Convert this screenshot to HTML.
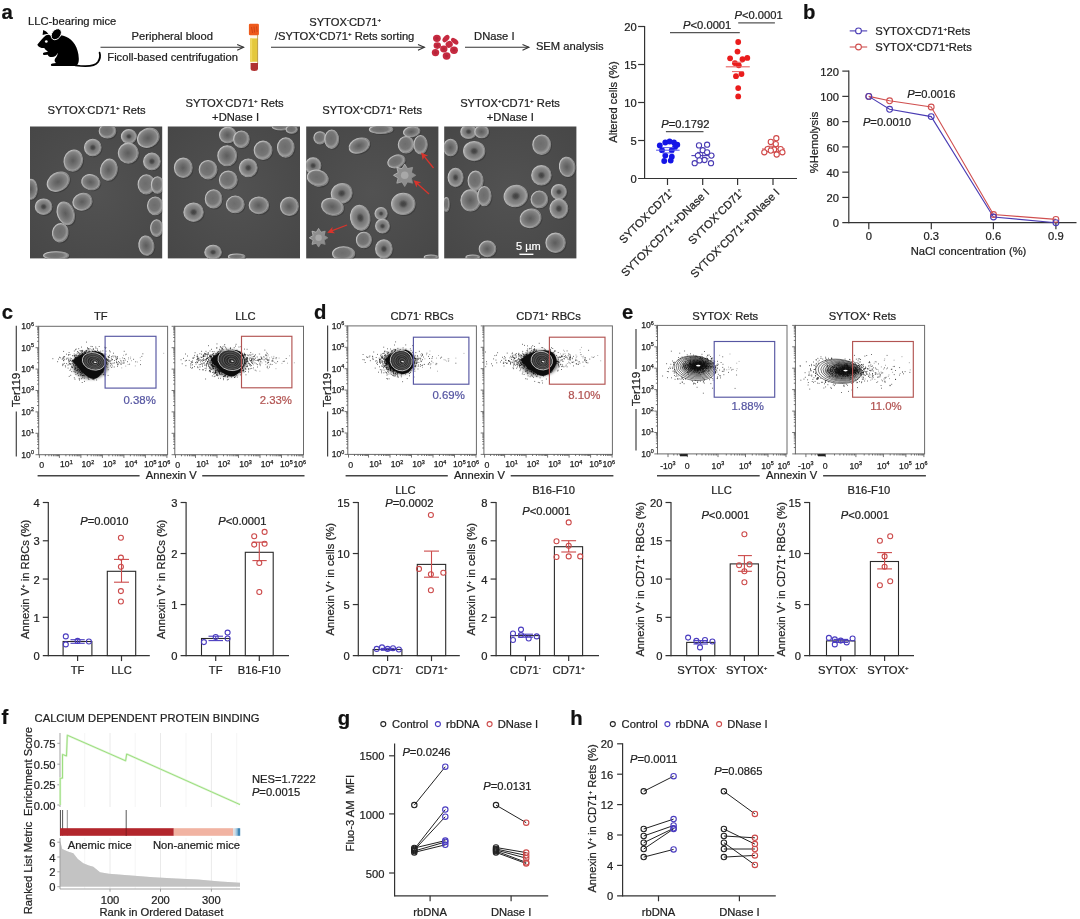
<!DOCTYPE html>
<html><head><meta charset="utf-8"><title>Figure</title>
<style>
html,body{margin:0;padding:0;background:#fff;}
body{width:1080px;height:919px;overflow:hidden;}
svg{display:block;filter:blur(0.4px);font-family:"Liberation Sans",sans-serif;}
</style></head><body>
<svg width="1080" height="919" viewBox="0 0 1080 919">
<rect width="1080" height="919" fill="#fff"/>
<defs>
<radialGradient id="cg" cx="48%" cy="50%" r="50%">
<stop offset="0" stop-color="#5c5c5c"/><stop offset="0.45" stop-color="#707070"/><stop offset="0.8" stop-color="#858585"/><stop offset="0.93" stop-color="#9e9e9e"/><stop offset="1" stop-color="#828282"/>
</radialGradient>
<radialGradient id="cg2" cx="50%" cy="50%" r="50%">
<stop offset="0" stop-color="#404040"/><stop offset="0.2" stop-color="#4c4c4c"/><stop offset="0.4" stop-color="#747474"/><stop offset="0.72" stop-color="#888"/><stop offset="0.93" stop-color="#a2a2a2"/><stop offset="1" stop-color="#828282"/>
</radialGradient>
<radialGradient id="cg3" cx="45%" cy="45%" r="55%">
<stop offset="0" stop-color="#6c6c6c"/><stop offset="0.6" stop-color="#767676"/><stop offset="0.88" stop-color="#9c9c9c"/><stop offset="1" stop-color="#808080"/>
</radialGradient>
<linearGradient id="rim" x1="0" y1="0.2" x2="1" y2="0.8"><stop offset="0" stop-color="#cacaca"/><stop offset="0.5" stop-color="#a4a4a4"/><stop offset="1" stop-color="#7a7a7a"/></linearGradient>
<radialGradient id="sbg" cx="50%" cy="50%" r="75%"><stop offset="0" stop-color="#525252"/><stop offset="1" stop-color="#464646"/></radialGradient>
<filter id="bl" x="-5%" y="-5%" width="110%" height="110%"><feGaussianBlur stdDeviation="0.6"/></filter>
<filter id="bl3" x="-30%" y="-30%" width="160%" height="160%"><feGaussianBlur stdDeviation="1.8"/></filter>
<filter id="bl2" x="-20%" y="-20%" width="140%" height="140%"><feGaussianBlur stdDeviation="0.35"/></filter>
<marker id="ah" markerWidth="10" markerHeight="10" refX="8" refY="5" orient="auto" markerUnits="userSpaceOnUse"><path d="M1.6 2.1 L8 5 L1.6 7.9" fill="none" stroke="#333" stroke-width="1.1"/></marker>
<marker id="rh" markerWidth="8" markerHeight="8" refX="3" refY="4" orient="auto" markerUnits="userSpaceOnUse"><path d="M0 0.5 L7 4 L0 7.5 L1.8 4 Z" fill="#d8342c"/></marker>
</defs>
<text x="1.5" y="19.4" font-size="20.3" text-anchor="start" fill="#111" stroke="#111" stroke-width="0.22" font-weight="bold">a</text>
<text x="28" y="25.0" font-size="11.2" text-anchor="start" fill="#222" stroke="#222" stroke-width="0.22">LLC-bearing mice</text>
<g transform="translate(37,28.5)" fill="#000">
<path d="M0.3 16.2 C2.5 13.5 5.5 9.5 9 6.8 C11 5.8 13 6.3 14.5 8.2 C18 6.5 24 6.3 29 8.2 C36 11 41.5 19 41.8 30 C42 34.5 40.5 37.3 38 37.6 L15.5 37.6 C13.5 37.6 13.2 35.3 15.5 34.9 L19 34.5 C17.5 33.2 17.3 31.8 18 30.2 C19.8 28.3 20.8 26.3 20.6 24.2 C19.5 27.2 17.5 28.8 14.5 28.6 C12.5 28.5 11.2 27.5 10.8 26.2 L7.5 26.6 C5.6 26.6 5.4 24.5 7.2 24.1 L11 23.3 C9.5 22.2 8 20.8 7.3 19.6 C4.5 19.8 1.3 18.7 0.3 16.2 Z"/>
<ellipse cx="19.3" cy="5.7" rx="4.4" ry="6.1" transform="rotate(38 19.3 5.7)" stroke="#fff" stroke-width="0.9"/>
<path d="M5.6 6.6 L6.2 1.4 C8.3 2.2 10.2 3.6 11.4 5.2 C9.5 5.5 7.3 6 5.6 6.6 Z"/>
<circle cx="9.3" cy="13" r="1.35" fill="#fff"/>
<path d="M38.5 36.8 C48 38.2 57.5 38.4 61 33.5 C63.3 30 63.5 27 62.6 24.2" fill="none" stroke="#000" stroke-width="1.8" stroke-linecap="round"/>
</g>
<text x="172.3" y="40.0" font-size="11.2" text-anchor="middle" fill="#222" stroke="#222" stroke-width="0.22">Peripheral blood</text>
<line x1="100.5" y1="47.3" x2="243.6" y2="47.3" stroke="#333" stroke-width="1.1" marker-end="url(#ah)"/>
<text x="172.6" y="61.1" font-size="11.2" text-anchor="middle" fill="#222" stroke="#222" stroke-width="0.22">Ficoll-based centrifugation</text>
<g filter="url(#bl2)">
<rect x="250.2" y="34" width="7.8" height="30" fill="#fff6e8"/>
<rect x="250.2" y="38.4" width="7.8" height="23.3" fill="#e4c83c"/>
<rect x="250.2" y="38.4" width="2" height="23.3" fill="#f0d860"/>
<rect x="257.2" y="34" width="0.9" height="30" fill="#b89a50"/>
<path d="M250.6 63 H258 V68.5 Q258 71 254.3 71 Q250.6 71 250.6 68.5 Z" fill="#b03030"/>
<rect x="248.9" y="23.8" width="10" height="11.4" rx="1.2" fill="#ee5a1e"/>
<path d="M251.5 27 L252.6 33 M254 26.5 L254.6 32.5 M256.5 26.5 L257.2 32" stroke="#c83c10" stroke-width="0.8" fill="none"/>
</g>
<text x="345.2" y="26.0" font-size="11.2" text-anchor="middle" fill="#222" stroke="#222" stroke-width="0.22">SYTOX<tspan dy="-4" font-size="6.2">-</tspan><tspan dy="4">CD71</tspan><tspan dy="-4" font-size="6.2">+</tspan><tspan dy="4"></tspan></text>
<text x="344.6" y="40.3" font-size="11.2" text-anchor="middle" fill="#222" stroke="#222" stroke-width="0.22">/SYTOX<tspan dy="-4" font-size="6.2">+</tspan><tspan dy="4">CD71</tspan><tspan dy="-4" font-size="6.2">+</tspan><tspan dy="4"> Rets sorting</tspan></text>
<line x1="271" y1="47.3" x2="424.4" y2="47.3" stroke="#333" stroke-width="1.1" marker-end="url(#ah)"/>
<g filter="url(#bl2)" fill="#c62a40">
<ellipse cx="436.9" cy="38.3" rx="3.9" ry="3.6" transform="rotate(0 436.9 38.3)"/>
<ellipse cx="446.0" cy="38.6" rx="4.3" ry="2.6" transform="rotate(-48 446.0 38.6)"/>
<ellipse cx="454.7" cy="41.2" rx="4.3" ry="2.4" transform="rotate(40 454.7 41.2)"/>
<ellipse cx="437.3" cy="45.6" rx="3.7" ry="3.3" transform="rotate(0 437.3 45.6)"/>
<ellipse cx="449.2" cy="44.4" rx="3.6" ry="3.4" transform="rotate(-30 449.2 44.4)"/>
<ellipse cx="443.8" cy="49.0" rx="3.7" ry="3.4" transform="rotate(0 443.8 49.0)"/>
<ellipse cx="454.0" cy="50.2" rx="3.9" ry="3.7" transform="rotate(0 454.0 50.2)"/>
<ellipse cx="435.5" cy="52.6" rx="3.7" ry="3.6" transform="rotate(0 435.5 52.6)"/>
<ellipse cx="446.6" cy="56.0" rx="3.9" ry="3.7" transform="rotate(0 446.6 56.0)"/>
</g>
<g fill="#a82034" opacity="0.55">
<circle cx="436.9" cy="38.3" r="1.6"/>
<circle cx="437.3" cy="45.6" r="1.6"/>
<circle cx="443.8" cy="49.0" r="1.6"/>
<circle cx="454.0" cy="50.2" r="1.6"/>
<circle cx="435.5" cy="52.6" r="1.6"/>
<circle cx="446.6" cy="56.0" r="1.6"/>
</g>
<text x="494.3" y="40.2" font-size="11.2" text-anchor="middle" fill="#222" stroke="#222" stroke-width="0.22">DNase I</text>
<line x1="465" y1="47.3" x2="528.9" y2="47.3" stroke="#333" stroke-width="1.1" marker-end="url(#ah)"/>
<text x="535.9" y="50.3" font-size="11.2" text-anchor="start" fill="#222" stroke="#222" stroke-width="0.22">SEM analysis</text>
<text x="96.6" y="114.0" font-size="11.2" text-anchor="middle" fill="#222" stroke="#222" stroke-width="0.22">SYTOX<tspan dy="-4" font-size="6.2">-</tspan><tspan dy="4">CD71</tspan><tspan dy="-4" font-size="6.2">+</tspan><tspan dy="4"> Rets</tspan></text>
<text x="234.6" y="106.8" font-size="11.2" text-anchor="middle" fill="#222" stroke="#222" stroke-width="0.22">SYTOX<tspan dy="-4" font-size="6.2">-</tspan><tspan dy="4">CD71</tspan><tspan dy="-4" font-size="6.2">+</tspan><tspan dy="4"> Rets</tspan></text>
<text x="235.6" y="120.6" font-size="11.2" text-anchor="middle" fill="#222" stroke="#222" stroke-width="0.22">+DNase I</text>
<text x="372.2" y="114.0" font-size="11.2" text-anchor="middle" fill="#222" stroke="#222" stroke-width="0.22">SYTOX<tspan dy="-4" font-size="6.2">+</tspan><tspan dy="4">CD71</tspan><tspan dy="-4" font-size="6.2">+</tspan><tspan dy="4"> Rets</tspan></text>
<text x="510" y="106.8" font-size="11.2" text-anchor="middle" fill="#222" stroke="#222" stroke-width="0.22">SYTOX<tspan dy="-4" font-size="6.2">+</tspan><tspan dy="4">CD71</tspan><tspan dy="-4" font-size="6.2">+</tspan><tspan dy="4"> Rets</tspan></text>
<text x="510.3" y="120.6" font-size="11.2" text-anchor="middle" fill="#222" stroke="#222" stroke-width="0.22">+DNase I</text>
<clipPath id="cp1"><rect x="30" y="126.5" width="132.2" height="131.9"/></clipPath>
<rect x="30" y="126.5" width="132.2" height="131.9" fill="url(#sbg)"/>
<g clip-path="url(#cp1)"><g filter="url(#bl)">
<ellipse cx="108.4" cy="132.0" rx="8.8" ry="7.4" fill="#3a3a3a" opacity="0.8" transform="rotate(0 108.4 132.0)"/>
<ellipse cx="107.5" cy="131.1" rx="8.3" ry="6.9" fill="url(#cg3)" stroke="url(#rim)" stroke-width="1.05" transform="rotate(0 107.5 131.1)"/>
<ellipse cx="129.8" cy="137.3" rx="8.0" ry="7.4" fill="#3a3a3a" opacity="0.8" transform="rotate(0 129.8 137.3)"/>
<ellipse cx="128.9" cy="136.4" rx="7.5" ry="6.9" fill="url(#cg2)" stroke="url(#rim)" stroke-width="1.05" transform="rotate(0 128.9 136.4)"/>
<ellipse cx="149.2" cy="138.7" rx="11.6" ry="9.7" fill="#3a3a3a" opacity="0.8" transform="rotate(-25 149.2 138.7)"/>
<ellipse cx="148.3" cy="137.8" rx="11.1" ry="9.2" fill="url(#cg)" stroke="url(#rim)" stroke-width="1.05" transform="rotate(-25 148.3 137.8)"/>
<ellipse cx="93.7" cy="148.4" rx="8.8" ry="8.8" fill="#3a3a3a" opacity="0.8" transform="rotate(0 93.7 148.4)"/>
<ellipse cx="92.8" cy="147.5" rx="8.3" ry="8.3" fill="url(#cg2)" stroke="url(#rim)" stroke-width="1.05" transform="rotate(0 92.8 147.5)"/>
<ellipse cx="129.2" cy="154.0" rx="10.5" ry="10.5" fill="#3a3a3a" opacity="0.8" transform="rotate(0 129.2 154.0)"/>
<ellipse cx="128.3" cy="153.1" rx="10.0" ry="10.0" fill="url(#cg)" stroke="url(#rim)" stroke-width="1.05" transform="rotate(0 128.3 153.1)"/>
<ellipse cx="152.8" cy="162.3" rx="8.8" ry="8.8" fill="#3a3a3a" opacity="0.8" transform="rotate(0 152.8 162.3)"/>
<ellipse cx="151.9" cy="161.4" rx="8.3" ry="8.3" fill="url(#cg2)" stroke="url(#rim)" stroke-width="1.05" transform="rotate(0 151.9 161.4)"/>
<ellipse cx="74.2" cy="161.5" rx="9.7" ry="11.1" fill="#3a3a3a" opacity="0.8" transform="rotate(15 74.2 161.5)"/>
<ellipse cx="73.3" cy="160.6" rx="9.2" ry="10.6" fill="url(#cg)" stroke="url(#rim)" stroke-width="1.05" transform="rotate(15 73.3 160.6)"/>
<ellipse cx="109.8" cy="170.6" rx="8.8" ry="11.1" fill="#3a3a3a" opacity="0.8" transform="rotate(10 109.8 170.6)"/>
<ellipse cx="108.9" cy="169.7" rx="8.3" ry="10.6" fill="url(#cg)" stroke="url(#rim)" stroke-width="1.05" transform="rotate(10 108.9 169.7)"/>
<ellipse cx="59.2" cy="182.6" rx="12.2" ry="9.4" fill="#3a3a3a" opacity="0.8" transform="rotate(-30 59.2 182.6)"/>
<ellipse cx="58.3" cy="181.7" rx="11.7" ry="8.9" fill="url(#cg)" stroke="url(#rim)" stroke-width="1.05" transform="rotate(-30 58.3 181.7)"/>
<ellipse cx="91.7" cy="183.1" rx="9.7" ry="8.0" fill="#3a3a3a" opacity="0.8" transform="rotate(15 91.7 183.1)"/>
<ellipse cx="90.8" cy="182.2" rx="9.2" ry="7.5" fill="url(#cg)" stroke="url(#rim)" stroke-width="1.05" transform="rotate(15 90.8 182.2)"/>
<ellipse cx="147.3" cy="185.3" rx="8.8" ry="10.2" fill="#3a3a3a" opacity="0.8" transform="rotate(0 147.3 185.3)"/>
<ellipse cx="146.4" cy="184.4" rx="8.3" ry="9.7" fill="url(#cg3)" stroke="url(#rim)" stroke-width="1.05" transform="rotate(0 146.4 184.4)"/>
<ellipse cx="158.4" cy="185.9" rx="6.6" ry="8.8" fill="#3a3a3a" opacity="0.8" transform="rotate(0 158.4 185.9)"/>
<ellipse cx="157.5" cy="185.0" rx="6.1" ry="8.3" fill="url(#cg3)" stroke="url(#rim)" stroke-width="1.05" transform="rotate(0 157.5 185.0)"/>
<ellipse cx="32.0" cy="190.1" rx="6.6" ry="10.5" fill="#3a3a3a" opacity="0.8" transform="rotate(0 32.0 190.1)"/>
<ellipse cx="31.1" cy="189.2" rx="6.1" ry="10.0" fill="url(#cg)" stroke="url(#rim)" stroke-width="1.05" transform="rotate(0 31.1 189.2)"/>
<ellipse cx="44.5" cy="207.6" rx="8.8" ry="8.3" fill="#3a3a3a" opacity="0.8" transform="rotate(0 44.5 207.6)"/>
<ellipse cx="43.6" cy="206.7" rx="8.3" ry="7.8" fill="url(#cg2)" stroke="url(#rim)" stroke-width="1.05" transform="rotate(0 43.6 206.7)"/>
<ellipse cx="83.4" cy="202.6" rx="10.2" ry="8.8" fill="#3a3a3a" opacity="0.8" transform="rotate(-20 83.4 202.6)"/>
<ellipse cx="82.5" cy="201.7" rx="9.7" ry="8.3" fill="url(#cg)" stroke="url(#rim)" stroke-width="1.05" transform="rotate(-20 82.5 201.7)"/>
<ellipse cx="66.7" cy="214.2" rx="8.8" ry="12.2" fill="#3a3a3a" opacity="0.8" transform="rotate(-20 66.7 214.2)"/>
<ellipse cx="65.8" cy="213.3" rx="8.3" ry="11.7" fill="url(#cg)" stroke="url(#rim)" stroke-width="1.05" transform="rotate(-20 65.8 213.3)"/>
<ellipse cx="156.2" cy="206.7" rx="8.3" ry="9.4" fill="#3a3a3a" opacity="0.8" transform="rotate(0 156.2 206.7)"/>
<ellipse cx="155.3" cy="205.8" rx="7.8" ry="8.9" fill="url(#cg3)" stroke="url(#rim)" stroke-width="1.05" transform="rotate(0 155.3 205.8)"/>
<ellipse cx="61.2" cy="233.7" rx="8.3" ry="9.7" fill="#3a3a3a" opacity="0.8" transform="rotate(10 61.2 233.7)"/>
<ellipse cx="60.3" cy="232.8" rx="7.8" ry="9.2" fill="url(#cg3)" stroke="url(#rim)" stroke-width="1.05" transform="rotate(10 60.3 232.8)"/>
<ellipse cx="157.6" cy="229.0" rx="6.6" ry="8.8" fill="#3a3a3a" opacity="0.8" transform="rotate(0 157.6 229.0)"/>
<ellipse cx="156.7" cy="228.1" rx="6.1" ry="8.3" fill="url(#cg3)" stroke="url(#rim)" stroke-width="1.05" transform="rotate(0 156.7 228.1)"/>
<ellipse cx="147.3" cy="246.5" rx="8.0" ry="10.2" fill="#3a3a3a" opacity="0.8" transform="rotate(-10 147.3 246.5)"/>
<ellipse cx="146.4" cy="245.6" rx="7.5" ry="9.7" fill="url(#cg)" stroke="url(#rim)" stroke-width="1.05" transform="rotate(-10 146.4 245.6)"/>
<ellipse cx="57.0" cy="256.5" rx="13.0" ry="4.4" fill="#3a3a3a" opacity="0.8" transform="rotate(0 57.0 256.5)"/>
<ellipse cx="56.1" cy="255.6" rx="12.5" ry="3.9" fill="url(#cg3)" stroke="url(#rim)" stroke-width="1.05" transform="rotate(0 56.1 255.6)"/>

</g></g>
<clipPath id="cp2"><rect x="167.8" y="126.5" width="132.2" height="131.9"/></clipPath>
<rect x="167.8" y="126.5" width="132.2" height="131.9" fill="url(#sbg)"/>
<g clip-path="url(#cp2)"><g filter="url(#bl)">
<ellipse cx="228.7" cy="135.9" rx="8.8" ry="8.3" fill="#3a3a3a" opacity="0.8" transform="rotate(0 228.7 135.9)"/>
<ellipse cx="227.8" cy="135.0" rx="8.3" ry="7.8" fill="url(#cg)" stroke="url(#rim)" stroke-width="1.05" transform="rotate(0 227.8 135.0)"/>
<ellipse cx="242.3" cy="140.1" rx="8.3" ry="8.8" fill="#3a3a3a" opacity="0.8" transform="rotate(0 242.3 140.1)"/>
<ellipse cx="241.4" cy="139.2" rx="7.8" ry="8.3" fill="url(#cg3)" stroke="url(#rim)" stroke-width="1.05" transform="rotate(0 241.4 139.2)"/>
<ellipse cx="282.0" cy="127.6" rx="9.4" ry="3.8" fill="#3a3a3a" opacity="0.8" transform="rotate(0 282.0 127.6)"/>
<ellipse cx="281.1" cy="126.7" rx="8.9" ry="3.3" fill="url(#cg3)" stroke="url(#rim)" stroke-width="1.05" transform="rotate(0 281.1 126.7)"/>
<ellipse cx="292.6" cy="130.3" rx="6.1" ry="4.4" fill="#3a3a3a" opacity="0.8" transform="rotate(0 292.6 130.3)"/>
<ellipse cx="291.7" cy="129.4" rx="5.6" ry="3.9" fill="url(#cg3)" stroke="url(#rim)" stroke-width="1.05" transform="rotate(0 291.7 129.4)"/>
<ellipse cx="286.7" cy="148.4" rx="8.8" ry="10.2" fill="#3a3a3a" opacity="0.8" transform="rotate(0 286.7 148.4)"/>
<ellipse cx="285.8" cy="147.5" rx="8.3" ry="9.7" fill="url(#cg3)" stroke="url(#rim)" stroke-width="1.05" transform="rotate(0 285.8 147.5)"/>
<ellipse cx="264.0" cy="151.2" rx="9.4" ry="9.7" fill="#3a3a3a" opacity="0.8" transform="rotate(0 264.0 151.2)"/>
<ellipse cx="263.1" cy="150.3" rx="8.9" ry="9.2" fill="url(#cg3)" stroke="url(#rim)" stroke-width="1.05" transform="rotate(0 263.1 150.3)"/>
<ellipse cx="228.1" cy="156.7" rx="9.9" ry="10.5" fill="#3a3a3a" opacity="0.8" transform="rotate(0 228.1 156.7)"/>
<ellipse cx="227.2" cy="155.8" rx="9.4" ry="10.0" fill="url(#cg)" stroke="url(#rim)" stroke-width="1.05" transform="rotate(0 227.2 155.8)"/>
<ellipse cx="184.2" cy="168.7" rx="9.4" ry="10.2" fill="#3a3a3a" opacity="0.8" transform="rotate(0 184.2 168.7)"/>
<ellipse cx="183.3" cy="167.8" rx="8.9" ry="9.7" fill="url(#cg)" stroke="url(#rim)" stroke-width="1.05" transform="rotate(0 183.3 167.8)"/>
<ellipse cx="209.0" cy="170.6" rx="9.4" ry="9.7" fill="#3a3a3a" opacity="0.8" transform="rotate(0 209.0 170.6)"/>
<ellipse cx="208.1" cy="169.7" rx="8.9" ry="9.2" fill="url(#cg3)" stroke="url(#rim)" stroke-width="1.05" transform="rotate(0 208.1 169.7)"/>
<ellipse cx="249.2" cy="168.7" rx="9.4" ry="9.4" fill="#3a3a3a" opacity="0.8" transform="rotate(0 249.2 168.7)"/>
<ellipse cx="248.3" cy="167.8" rx="8.9" ry="8.9" fill="url(#cg2)" stroke="url(#rim)" stroke-width="1.05" transform="rotate(0 248.3 167.8)"/>
<ellipse cx="229.2" cy="180.9" rx="9.4" ry="9.4" fill="#3a3a3a" opacity="0.8" transform="rotate(0 229.2 180.9)"/>
<ellipse cx="228.3" cy="180.0" rx="8.9" ry="8.9" fill="url(#cg3)" stroke="url(#rim)" stroke-width="1.05" transform="rotate(0 228.3 180.0)"/>
<ellipse cx="214.5" cy="199.8" rx="8.8" ry="9.7" fill="#3a3a3a" opacity="0.8" transform="rotate(0 214.5 199.8)"/>
<ellipse cx="213.6" cy="198.9" rx="8.3" ry="9.2" fill="url(#cg3)" stroke="url(#rim)" stroke-width="1.05" transform="rotate(0 213.6 198.9)"/>
<ellipse cx="236.2" cy="205.3" rx="9.4" ry="8.8" fill="#3a3a3a" opacity="0.8" transform="rotate(0 236.2 205.3)"/>
<ellipse cx="235.3" cy="204.4" rx="8.9" ry="8.3" fill="url(#cg3)" stroke="url(#rim)" stroke-width="1.05" transform="rotate(0 235.3 204.4)"/>
<ellipse cx="259.8" cy="206.2" rx="10.2" ry="8.8" fill="#3a3a3a" opacity="0.8" transform="rotate(0 259.8 206.2)"/>
<ellipse cx="258.9" cy="205.3" rx="9.7" ry="8.3" fill="url(#cg)" stroke="url(#rim)" stroke-width="1.05" transform="rotate(0 258.9 205.3)"/>
<ellipse cx="290.3" cy="207.3" rx="9.4" ry="9.7" fill="#3a3a3a" opacity="0.8" transform="rotate(0 290.3 207.3)"/>
<ellipse cx="289.4" cy="206.4" rx="8.9" ry="9.2" fill="url(#cg)" stroke="url(#rim)" stroke-width="1.05" transform="rotate(0 289.4 206.4)"/>
<ellipse cx="194.5" cy="213.1" rx="10.2" ry="9.7" fill="#3a3a3a" opacity="0.8" transform="rotate(0 194.5 213.1)"/>
<ellipse cx="193.6" cy="212.2" rx="9.7" ry="9.2" fill="url(#cg2)" stroke="url(#rim)" stroke-width="1.05" transform="rotate(0 193.6 212.2)"/>
<ellipse cx="214.0" cy="253.1" rx="8.8" ry="7.4" fill="#3a3a3a" opacity="0.8" transform="rotate(0 214.0 253.1)"/>
<ellipse cx="213.1" cy="252.2" rx="8.3" ry="6.9" fill="url(#cg2)" stroke="url(#rim)" stroke-width="1.05" transform="rotate(0 213.1 252.2)"/>
<ellipse cx="237.6" cy="257.6" rx="8.8" ry="3.3" fill="#3a3a3a" opacity="0.8" transform="rotate(0 237.6 257.6)"/>
<ellipse cx="236.7" cy="256.7" rx="8.3" ry="2.8" fill="url(#cg3)" stroke="url(#rim)" stroke-width="1.05" transform="rotate(0 236.7 256.7)"/>

</g></g>
<clipPath id="cp3"><rect x="306.2" y="126.5" width="132.2" height="131.9"/></clipPath>
<rect x="306.2" y="126.5" width="132.2" height="131.9" fill="url(#sbg)"/>
<g clip-path="url(#cp3)"><g filter="url(#bl)">
<ellipse cx="320.9" cy="138.7" rx="6.6" ry="6.6" fill="#3a3a3a" opacity="0.8" transform="rotate(0 320.9 138.7)"/>
<ellipse cx="320.0" cy="137.8" rx="6.1" ry="6.1" fill="url(#cg3)" stroke="url(#rim)" stroke-width="1.05" transform="rotate(0 320.0 137.8)"/>
<ellipse cx="332.6" cy="140.1" rx="7.4" ry="9.7" fill="#3a3a3a" opacity="0.8" transform="rotate(0 332.6 140.1)"/>
<ellipse cx="331.7" cy="139.2" rx="6.9" ry="9.2" fill="url(#cg3)" stroke="url(#rim)" stroke-width="1.05" transform="rotate(0 331.7 139.2)"/>
<ellipse cx="360.3" cy="146.5" rx="11.1" ry="7.7" fill="#3a3a3a" opacity="0.8" transform="rotate(-20 360.3 146.5)"/>
<ellipse cx="359.4" cy="145.6" rx="10.6" ry="7.2" fill="url(#cg)" stroke="url(#rim)" stroke-width="1.05" transform="rotate(-20 359.4 145.6)"/>
<ellipse cx="382.0" cy="130.3" rx="12.2" ry="4.7" fill="#3a3a3a" opacity="0.8" transform="rotate(0 382.0 130.3)"/>
<ellipse cx="381.1" cy="129.4" rx="11.7" ry="4.2" fill="url(#cg3)" stroke="url(#rim)" stroke-width="1.05" transform="rotate(0 381.1 129.4)"/>
<ellipse cx="412.6" cy="132.6" rx="8.8" ry="5.5" fill="#3a3a3a" opacity="0.8" transform="rotate(-10 412.6 132.6)"/>
<ellipse cx="411.7" cy="131.7" rx="8.3" ry="5.0" fill="url(#cg)" stroke="url(#rim)" stroke-width="1.05" transform="rotate(-10 411.7 131.7)"/>
<ellipse cx="407.0" cy="145.6" rx="8.3" ry="8.8" fill="#3a3a3a" opacity="0.8" transform="rotate(0 407.0 145.6)"/>
<ellipse cx="406.1" cy="144.7" rx="7.8" ry="8.3" fill="url(#cg3)" stroke="url(#rim)" stroke-width="1.05" transform="rotate(0 406.1 144.7)"/>
<ellipse cx="421.5" cy="145.6" rx="7.2" ry="9.7" fill="#3a3a3a" opacity="0.8" transform="rotate(0 421.5 145.6)"/>
<ellipse cx="420.6" cy="144.7" rx="6.7" ry="9.2" fill="url(#cg3)" stroke="url(#rim)" stroke-width="1.05" transform="rotate(0 420.6 144.7)"/>
<ellipse cx="397.3" cy="162.3" rx="9.4" ry="6.6" fill="#3a3a3a" opacity="0.8" transform="rotate(-20 397.3 162.3)"/>
<ellipse cx="396.4" cy="161.4" rx="8.9" ry="6.1" fill="url(#cg3)" stroke="url(#rim)" stroke-width="1.05" transform="rotate(-20 396.4 161.4)"/>
<ellipse cx="314.0" cy="166.5" rx="8.3" ry="8.3" fill="#3a3a3a" opacity="0.8" transform="rotate(0 314.0 166.5)"/>
<ellipse cx="313.1" cy="165.6" rx="7.8" ry="7.8" fill="url(#cg2)" stroke="url(#rim)" stroke-width="1.05" transform="rotate(0 313.1 165.6)"/>
<ellipse cx="318.7" cy="179.0" rx="11.1" ry="8.3" fill="#3a3a3a" opacity="0.8" transform="rotate(15 318.7 179.0)"/>
<ellipse cx="317.8" cy="178.1" rx="10.6" ry="7.8" fill="url(#cg3)" stroke="url(#rim)" stroke-width="1.05" transform="rotate(15 317.8 178.1)"/>
<ellipse cx="342.6" cy="194.2" rx="11.1" ry="10.2" fill="#3a3a3a" opacity="0.8" transform="rotate(-20 342.6 194.2)"/>
<ellipse cx="341.7" cy="193.3" rx="10.6" ry="9.7" fill="url(#cg2)" stroke="url(#rim)" stroke-width="1.05" transform="rotate(-20 341.7 193.3)"/>
<ellipse cx="333.4" cy="207.6" rx="11.6" ry="8.8" fill="#3a3a3a" opacity="0.8" transform="rotate(15 333.4 207.6)"/>
<ellipse cx="332.5" cy="206.7" rx="11.1" ry="8.3" fill="url(#cg)" stroke="url(#rim)" stroke-width="1.05" transform="rotate(15 332.5 206.7)"/>
<ellipse cx="404.2" cy="204.8" rx="12.2" ry="11.1" fill="#3a3a3a" opacity="0.8" transform="rotate(0 404.2 204.8)"/>
<ellipse cx="403.3" cy="203.9" rx="11.7" ry="10.6" fill="url(#cg2)" stroke="url(#rim)" stroke-width="1.05" transform="rotate(0 403.3 203.9)"/>
<ellipse cx="361.2" cy="218.7" rx="10.2" ry="13.0" fill="#3a3a3a" opacity="0.8" transform="rotate(-10 361.2 218.7)"/>
<ellipse cx="360.3" cy="217.8" rx="9.7" ry="12.5" fill="url(#cg2)" stroke="url(#rim)" stroke-width="1.05" transform="rotate(-10 360.3 217.8)"/>
<ellipse cx="382.0" cy="214.5" rx="6.6" ry="6.6" fill="#3a3a3a" opacity="0.8" transform="rotate(0 382.0 214.5)"/>
<ellipse cx="381.1" cy="213.6" rx="6.1" ry="6.1" fill="url(#cg2)" stroke="url(#rim)" stroke-width="1.05" transform="rotate(0 381.1 213.6)"/>
<ellipse cx="383.4" cy="227.0" rx="7.4" ry="7.4" fill="#3a3a3a" opacity="0.8" transform="rotate(0 383.4 227.0)"/>
<ellipse cx="382.5" cy="226.1" rx="6.9" ry="6.9" fill="url(#cg2)" stroke="url(#rim)" stroke-width="1.05" transform="rotate(0 382.5 226.1)"/>
<ellipse cx="364.8" cy="240.9" rx="8.0" ry="8.3" fill="#3a3a3a" opacity="0.8" transform="rotate(0 364.8 240.9)"/>
<ellipse cx="363.9" cy="240.0" rx="7.5" ry="7.8" fill="url(#cg3)" stroke="url(#rim)" stroke-width="1.05" transform="rotate(0 363.9 240.0)"/>
<ellipse cx="384.8" cy="249.8" rx="8.8" ry="9.7" fill="#3a3a3a" opacity="0.8" transform="rotate(0 384.8 249.8)"/>
<ellipse cx="383.9" cy="248.9" rx="8.3" ry="9.2" fill="url(#cg2)" stroke="url(#rim)" stroke-width="1.05" transform="rotate(0 383.9 248.9)"/>
<ellipse cx="344.5" cy="254.5" rx="11.6" ry="7.4" fill="#3a3a3a" opacity="0.8" transform="rotate(0 344.5 254.5)"/>
<ellipse cx="343.6" cy="253.6" rx="11.1" ry="6.9" fill="url(#cg3)" stroke="url(#rim)" stroke-width="1.05" transform="rotate(0 343.6 253.6)"/>
<ellipse cx="432.0" cy="258.1" rx="7.4" ry="2.7" fill="#3a3a3a" opacity="0.8" transform="rotate(0 432.0 258.1)"/>
<ellipse cx="431.1" cy="257.2" rx="6.9" ry="2.2" fill="url(#cg3)" stroke="url(#rim)" stroke-width="1.05" transform="rotate(0 431.1 257.2)"/>
<polygon points="415.9,175.3 411.4,178.0 412.6,183.2 407.5,181.9 404.7,186.5 402.0,181.9 396.8,183.2 398.1,178.0 393.5,175.3 398.1,172.5 396.8,167.4 402.0,168.6 404.7,164.1 407.5,168.6 412.6,167.4 411.4,172.5" fill="#8e8e8e" stroke="url(#rim)" stroke-width="0.8"/><circle cx="404.7" cy="175.3" r="3.8" fill="#a8a8a8"/><polygon points="327.9,237.8 324.2,240.1 325.2,244.4 320.9,243.3 318.6,247.1 316.3,243.3 312.0,244.4 313.1,240.1 309.3,237.8 313.1,235.5 312.0,231.2 316.3,232.2 318.6,228.4 320.9,232.2 325.2,231.2 324.2,235.5" fill="#8e8e8e" stroke="url(#rim)" stroke-width="0.8"/><circle cx="318.6" cy="237.8" r="3.2" fill="#a8a8a8"/>
</g></g>
<line x1="433.5" y1="168" x2="423.6" y2="155.6" stroke="#d8342c" stroke-width="1.3" marker-end="url(#rh)"/>
<line x1="429" y1="194" x2="416.6" y2="183" stroke="#d8342c" stroke-width="1.3" marker-end="url(#rh)"/>
<line x1="347" y1="225" x2="331" y2="231.2" stroke="#d8342c" stroke-width="1.3" marker-end="url(#rh)"/>
<clipPath id="cp4"><rect x="444.2" y="126.5" width="132.2" height="131.9"/></clipPath>
<rect x="444.2" y="126.5" width="132.2" height="131.9" fill="url(#sbg)"/>
<g clip-path="url(#cp4)"><g filter="url(#bl)">
<ellipse cx="469.5" cy="132.6" rx="8.3" ry="7.4" fill="#3a3a3a" opacity="0.8" transform="rotate(0 469.5 132.6)"/>
<ellipse cx="468.6" cy="131.7" rx="7.8" ry="6.9" fill="url(#cg2)" stroke="url(#rim)" stroke-width="1.05" transform="rotate(0 468.6 131.7)"/>
<ellipse cx="482.6" cy="132.6" rx="7.4" ry="6.6" fill="#3a3a3a" opacity="0.8" transform="rotate(0 482.6 132.6)"/>
<ellipse cx="481.7" cy="131.7" rx="6.9" ry="6.1" fill="url(#cg)" stroke="url(#rim)" stroke-width="1.05" transform="rotate(0 481.7 131.7)"/>
<ellipse cx="451.5" cy="148.4" rx="7.4" ry="8.8" fill="#3a3a3a" opacity="0.8" transform="rotate(0 451.5 148.4)"/>
<ellipse cx="450.6" cy="147.5" rx="6.9" ry="8.3" fill="url(#cg)" stroke="url(#rim)" stroke-width="1.05" transform="rotate(0 450.6 147.5)"/>
<ellipse cx="475.1" cy="152.0" rx="11.1" ry="10.2" fill="#3a3a3a" opacity="0.8" transform="rotate(0 475.1 152.0)"/>
<ellipse cx="474.2" cy="151.1" rx="10.6" ry="9.7" fill="url(#cg2)" stroke="url(#rim)" stroke-width="1.05" transform="rotate(0 474.2 151.1)"/>
<ellipse cx="542.6" cy="145.6" rx="9.4" ry="10.2" fill="#3a3a3a" opacity="0.8" transform="rotate(0 542.6 145.6)"/>
<ellipse cx="541.7" cy="144.7" rx="8.9" ry="9.7" fill="url(#cg3)" stroke="url(#rim)" stroke-width="1.05" transform="rotate(0 541.7 144.7)"/>
<ellipse cx="568.1" cy="167.8" rx="8.3" ry="10.2" fill="#3a3a3a" opacity="0.8" transform="rotate(-10 568.1 167.8)"/>
<ellipse cx="567.2" cy="166.9" rx="7.8" ry="9.7" fill="url(#cg)" stroke="url(#rim)" stroke-width="1.05" transform="rotate(-10 567.2 166.9)"/>
<ellipse cx="456.5" cy="178.4" rx="8.0" ry="9.7" fill="#3a3a3a" opacity="0.8" transform="rotate(0 456.5 178.4)"/>
<ellipse cx="455.6" cy="177.5" rx="7.5" ry="9.2" fill="url(#cg2)" stroke="url(#rim)" stroke-width="1.05" transform="rotate(0 455.6 177.5)"/>
<ellipse cx="542.3" cy="176.2" rx="10.2" ry="10.2" fill="#3a3a3a" opacity="0.8" transform="rotate(0 542.3 176.2)"/>
<ellipse cx="541.4" cy="175.3" rx="9.7" ry="9.7" fill="url(#cg2)" stroke="url(#rim)" stroke-width="1.05" transform="rotate(0 541.4 175.3)"/>
<ellipse cx="476.5" cy="181.7" rx="8.0" ry="10.2" fill="#3a3a3a" opacity="0.8" transform="rotate(0 476.5 181.7)"/>
<ellipse cx="475.6" cy="180.8" rx="7.5" ry="9.7" fill="url(#cg3)" stroke="url(#rim)" stroke-width="1.05" transform="rotate(0 475.6 180.8)"/>
<ellipse cx="471.5" cy="201.2" rx="10.2" ry="11.1" fill="#3a3a3a" opacity="0.8" transform="rotate(0 471.5 201.2)"/>
<ellipse cx="470.6" cy="200.3" rx="9.7" ry="10.6" fill="url(#cg)" stroke="url(#rim)" stroke-width="1.05" transform="rotate(0 470.6 200.3)"/>
<ellipse cx="485.3" cy="197.0" rx="7.2" ry="10.2" fill="#3a3a3a" opacity="0.8" transform="rotate(0 485.3 197.0)"/>
<ellipse cx="484.4" cy="196.1" rx="6.7" ry="9.7" fill="url(#cg3)" stroke="url(#rim)" stroke-width="1.05" transform="rotate(0 484.4 196.1)"/>
<ellipse cx="516.7" cy="197.0" rx="12.2" ry="11.1" fill="#3a3a3a" opacity="0.8" transform="rotate(-15 516.7 197.0)"/>
<ellipse cx="515.8" cy="196.1" rx="11.7" ry="10.6" fill="url(#cg2)" stroke="url(#rim)" stroke-width="1.05" transform="rotate(-15 515.8 196.1)"/>
<ellipse cx="540.3" cy="200.3" rx="8.8" ry="8.8" fill="#3a3a3a" opacity="0.8" transform="rotate(0 540.3 200.3)"/>
<ellipse cx="539.4" cy="199.4" rx="8.3" ry="8.3" fill="url(#cg3)" stroke="url(#rim)" stroke-width="1.05" transform="rotate(0 539.4 199.4)"/>
<ellipse cx="559.8" cy="192.8" rx="8.0" ry="8.0" fill="#3a3a3a" opacity="0.8" transform="rotate(0 559.8 192.8)"/>
<ellipse cx="558.9" cy="191.9" rx="7.5" ry="7.5" fill="url(#cg2)" stroke="url(#rim)" stroke-width="1.05" transform="rotate(0 558.9 191.9)"/>
<ellipse cx="559.8" cy="209.5" rx="9.4" ry="10.2" fill="#3a3a3a" opacity="0.8" transform="rotate(0 559.8 209.5)"/>
<ellipse cx="558.9" cy="208.6" rx="8.9" ry="9.7" fill="url(#cg2)" stroke="url(#rim)" stroke-width="1.05" transform="rotate(0 558.9 208.6)"/>
<ellipse cx="531.5" cy="219.2" rx="11.1" ry="9.7" fill="#3a3a3a" opacity="0.8" transform="rotate(-15 531.5 219.2)"/>
<ellipse cx="530.6" cy="218.3" rx="10.6" ry="9.2" fill="url(#cg)" stroke="url(#rim)" stroke-width="1.05" transform="rotate(-15 530.6 218.3)"/>
<ellipse cx="556.5" cy="243.7" rx="10.2" ry="10.2" fill="#3a3a3a" opacity="0.8" transform="rotate(0 556.5 243.7)"/>
<ellipse cx="555.6" cy="242.8" rx="9.7" ry="9.7" fill="url(#cg)" stroke="url(#rim)" stroke-width="1.05" transform="rotate(0 555.6 242.8)"/>
<ellipse cx="488.4" cy="249.8" rx="8.8" ry="8.3" fill="#3a3a3a" opacity="0.8" transform="rotate(0 488.4 249.8)"/>
<ellipse cx="487.5" cy="248.9" rx="8.3" ry="7.8" fill="url(#cg)" stroke="url(#rim)" stroke-width="1.05" transform="rotate(0 487.5 248.9)"/>
<ellipse cx="447.3" cy="205.3" rx="3.3" ry="7.4" fill="#3a3a3a" opacity="0.8" transform="rotate(0 447.3 205.3)"/>
<ellipse cx="446.4" cy="204.4" rx="2.8" ry="6.9" fill="url(#cg3)" stroke="url(#rim)" stroke-width="1.05" transform="rotate(0 446.4 204.4)"/>
<ellipse cx="473.7" cy="258.1" rx="7.4" ry="2.7" fill="#3a3a3a" opacity="0.8" transform="rotate(0 473.7 258.1)"/>
<ellipse cx="472.8" cy="257.2" rx="6.9" ry="2.2" fill="url(#cg3)" stroke="url(#rim)" stroke-width="1.05" transform="rotate(0 472.8 257.2)"/>

</g></g>
<text x="528.3" y="249.5" font-size="11" text-anchor="middle" fill="#fff" stroke="#fff" stroke-width="0.22">5 &#181;m</text>
<line x1="519.4" y1="254.3" x2="533.4" y2="254.3" stroke="#fff" stroke-width="1.4"/>
<line x1="644.6" y1="26.0" x2="644.6" y2="179.1" stroke="#333" stroke-width="1.2"/>
<line x1="638.1" y1="178.5" x2="797" y2="178.5" stroke="#333" stroke-width="1.2"/>
<text x="636.8" y="183.1" font-size="11.2" text-anchor="end" fill="#222" stroke="#222" stroke-width="0.22">0</text>
<line x1="638.1" y1="140.5" x2="644.6" y2="140.5" stroke="#333" stroke-width="1.2"/>
<text x="636.8" y="145.1" font-size="11.2" text-anchor="end" fill="#222" stroke="#222" stroke-width="0.22">5</text>
<line x1="638.1" y1="102.5" x2="644.6" y2="102.5" stroke="#333" stroke-width="1.2"/>
<text x="636.8" y="107.1" font-size="11.2" text-anchor="end" fill="#222" stroke="#222" stroke-width="0.22">10</text>
<line x1="638.1" y1="64.5" x2="644.6" y2="64.5" stroke="#333" stroke-width="1.2"/>
<text x="636.8" y="69.1" font-size="11.2" text-anchor="end" fill="#222" stroke="#222" stroke-width="0.22">15</text>
<line x1="638.1" y1="26.5" x2="644.6" y2="26.5" stroke="#333" stroke-width="1.2"/>
<text x="636.8" y="31.1" font-size="11.2" text-anchor="end" fill="#222" stroke="#222" stroke-width="0.22">20</text>
<line x1="667.5" y1="178.5" x2="667.5" y2="185.0" stroke="#333" stroke-width="1.2"/>
<line x1="702.7" y1="178.5" x2="702.7" y2="185.0" stroke="#333" stroke-width="1.2"/>
<line x1="737.6" y1="178.5" x2="737.6" y2="185.0" stroke="#333" stroke-width="1.2"/>
<line x1="773" y1="178.5" x2="773" y2="185.0" stroke="#333" stroke-width="1.2"/>
<text x="617.2" y="102" font-size="11.2" text-anchor="middle" fill="#222" stroke="#222" stroke-width="0.22" transform="rotate(-90 617.2 102)">Altered cells (%)</text>
<text x="707.2" y="28.9" font-size="11.2" text-anchor="middle" fill="#222" stroke="#222" stroke-width="0.22"><tspan font-style="italic">P</tspan>&lt;0.0001</text>
<line x1="670" y1="32.6" x2="739.8" y2="32.6" stroke="#555" stroke-width="1.3"/>
<text x="758.6" y="19.1" font-size="11.2" text-anchor="middle" fill="#222" stroke="#222" stroke-width="0.22"><tspan font-style="italic">P</tspan>&lt;0.0001</text>
<line x1="738.2" y1="22.9" x2="774.9" y2="22.9" stroke="#555" stroke-width="1.3"/>
<text x="685.4" y="127.5" font-size="11.2" text-anchor="middle" fill="#222" stroke="#222" stroke-width="0.22"><tspan font-style="italic">P</tspan>=0.1792</text>
<line x1="665.9" y1="131.7" x2="703.5" y2="131.7" stroke="#555" stroke-width="1.3"/>
<circle cx="659.8" cy="145.4" r="2.9" fill="#1414e6" stroke="none" stroke-width="1"/>
<circle cx="665.3" cy="142.5" r="2.9" fill="#1414e6" stroke="none" stroke-width="1"/>
<circle cx="669.6" cy="141.5" r="2.9" fill="#1414e6" stroke="none" stroke-width="1"/>
<circle cx="674.0" cy="142.5" r="2.9" fill="#1414e6" stroke="none" stroke-width="1"/>
<circle cx="677.3" cy="144.7" r="2.9" fill="#1414e6" stroke="none" stroke-width="1"/>
<circle cx="671.8" cy="150.2" r="2.9" fill="#1414e6" stroke="none" stroke-width="1"/>
<circle cx="662.0" cy="150.2" r="2.9" fill="#1414e6" stroke="none" stroke-width="1"/>
<circle cx="665.3" cy="155.6" r="2.9" fill="#1414e6" stroke="none" stroke-width="1"/>
<circle cx="671.8" cy="156.7" r="2.9" fill="#1414e6" stroke="none" stroke-width="1"/>
<circle cx="664.2" cy="161.0" r="2.9" fill="#1414e6" stroke="none" stroke-width="1"/>
<circle cx="670.7" cy="160.6" r="2.9" fill="#1414e6" stroke="none" stroke-width="1"/>
<circle cx="675.1" cy="146.9" r="2.9" fill="#1414e6" stroke="none" stroke-width="1"/>
<line x1="656.1" y1="150.2" x2="679.6" y2="150.2" stroke="#5a5ae8" stroke-width="1.1"/>
<line x1="662" y1="147.6" x2="673.5" y2="147.6" stroke="#5a5ae8" stroke-width="1"/>
<line x1="662" y1="152.9" x2="673.5" y2="152.9" stroke="#5a5ae8" stroke-width="1"/>
<line x1="691.4" y1="155.6" x2="714.3" y2="155.6" stroke="#4a3cb4" stroke-width="1.1"/>
<line x1="697" y1="152.4" x2="708.5" y2="152.4" stroke="#4a3cb4" stroke-width="1"/>
<line x1="697" y1="158.8" x2="708.5" y2="158.8" stroke="#4a3cb4" stroke-width="1"/>
<line x1="702.7" y1="152.4" x2="702.7" y2="158.8" stroke="#4a3cb4" stroke-width="1"/>
<circle cx="699.0" cy="145.4" r="2.6" fill="#fff" stroke="#4a3cb4" stroke-width="1.1"/>
<circle cx="707.1" cy="144.7" r="2.6" fill="#fff" stroke="#4a3cb4" stroke-width="1.1"/>
<circle cx="702.7" cy="150.2" r="2.6" fill="#fff" stroke="#4a3cb4" stroke-width="1.1"/>
<circle cx="697.9" cy="155.6" r="2.6" fill="#fff" stroke="#4a3cb4" stroke-width="1.1"/>
<circle cx="711.4" cy="155.6" r="2.6" fill="#fff" stroke="#4a3cb4" stroke-width="1.1"/>
<circle cx="704.5" cy="160.0" r="2.6" fill="#fff" stroke="#4a3cb4" stroke-width="1.1"/>
<circle cx="694.7" cy="163.2" r="2.6" fill="#fff" stroke="#4a3cb4" stroke-width="1.1"/>
<circle cx="711.0" cy="163.2" r="2.6" fill="#fff" stroke="#4a3cb4" stroke-width="1.1"/>
<circle cx="699.5" cy="160.4" r="2.6" fill="#fff" stroke="#4a3cb4" stroke-width="1.1"/>
<circle cx="707.1" cy="152.3" r="2.6" fill="#fff" stroke="#4a3cb4" stroke-width="1.1"/>
<circle cx="738.2" cy="42.0" r="2.9" fill="#ea1c1c" stroke="none" stroke-width="1"/>
<circle cx="737.5" cy="51.6" r="2.9" fill="#ea1c1c" stroke="none" stroke-width="1"/>
<circle cx="730.1" cy="58.3" r="2.9" fill="#ea1c1c" stroke="none" stroke-width="1"/>
<circle cx="742.5" cy="59.2" r="2.9" fill="#ea1c1c" stroke="none" stroke-width="1"/>
<circle cx="747.3" cy="57.9" r="2.9" fill="#ea1c1c" stroke="none" stroke-width="1"/>
<circle cx="734.9" cy="63.1" r="2.9" fill="#ea1c1c" stroke="none" stroke-width="1"/>
<circle cx="741.5" cy="74.0" r="2.9" fill="#ea1c1c" stroke="none" stroke-width="1"/>
<circle cx="736.0" cy="76.2" r="2.9" fill="#ea1c1c" stroke="none" stroke-width="1"/>
<circle cx="738.2" cy="88.1" r="2.9" fill="#ea1c1c" stroke="none" stroke-width="1"/>
<circle cx="738.2" cy="96.4" r="2.9" fill="#ea1c1c" stroke="none" stroke-width="1"/>
<circle cx="738.8" cy="65.3" r="2.9" fill="#ea1c1c" stroke="none" stroke-width="1"/>
<line x1="725.8" y1="66.8" x2="749.8" y2="66.8" stroke="#e86060" stroke-width="1.1"/>
<line x1="732" y1="62.2" x2="743.4" y2="62.2" stroke="#e86060" stroke-width="1"/>
<line x1="732" y1="71.6" x2="743.4" y2="71.6" stroke="#e86060" stroke-width="1"/>
<line x1="762" y1="149" x2="785" y2="149" stroke="#d04848" stroke-width="1"/>
<line x1="767.5" y1="146.2" x2="779" y2="146.2" stroke="#d04848" stroke-width="1"/>
<line x1="767.5" y1="151.8" x2="779" y2="151.8" stroke="#d04848" stroke-width="1"/>
<circle cx="776.3" cy="138.2" r="2.6" fill="#fff" stroke="#d04848" stroke-width="1.1"/>
<circle cx="770.8" cy="141.9" r="2.6" fill="#fff" stroke="#d04848" stroke-width="1.1"/>
<circle cx="775.8" cy="144.1" r="2.6" fill="#fff" stroke="#d04848" stroke-width="1.1"/>
<circle cx="767.6" cy="149.1" r="2.6" fill="#fff" stroke="#d04848" stroke-width="1.1"/>
<circle cx="774.1" cy="149.5" r="2.6" fill="#fff" stroke="#d04848" stroke-width="1.1"/>
<circle cx="780.6" cy="149.1" r="2.6" fill="#fff" stroke="#d04848" stroke-width="1.1"/>
<circle cx="764.3" cy="152.3" r="2.6" fill="#fff" stroke="#d04848" stroke-width="1.1"/>
<circle cx="776.7" cy="154.5" r="2.6" fill="#fff" stroke="#d04848" stroke-width="1.1"/>
<circle cx="782.4" cy="152.3" r="2.6" fill="#fff" stroke="#d04848" stroke-width="1.1"/>
<circle cx="770.8" cy="150.6" r="2.6" fill="#fff" stroke="#d04848" stroke-width="1.1"/>
<text x="674.7" y="193.2" font-size="11.2" text-anchor="end" fill="#222" stroke="#222" stroke-width="0.22" transform="rotate(-45 674.7 193.2)">SYTOX<tspan dy="-4" font-size="6.2">-</tspan><tspan dy="4">CD71</tspan><tspan dy="-4" font-size="6.2">+</tspan><tspan dy="4"></tspan></text>
<text x="709.9000000000001" y="193.2" font-size="11.2" text-anchor="end" fill="#222" stroke="#222" stroke-width="0.22" transform="rotate(-45 709.9000000000001 193.2)">SYTOX<tspan dy="-4" font-size="6.2">-</tspan><tspan dy="4">CD71</tspan><tspan dy="-4" font-size="6.2">+</tspan><tspan dy="4">+DNase I</tspan></text>
<text x="744.8000000000001" y="193.2" font-size="11.2" text-anchor="end" fill="#222" stroke="#222" stroke-width="0.22" transform="rotate(-45 744.8000000000001 193.2)">SYTOX<tspan dy="-4" font-size="6.2">+</tspan><tspan dy="4">CD71</tspan><tspan dy="-4" font-size="6.2">+</tspan><tspan dy="4"></tspan></text>
<text x="780.2" y="193.2" font-size="11.2" text-anchor="end" fill="#222" stroke="#222" stroke-width="0.22" transform="rotate(-45 780.2 193.2)">SYTOX<tspan dy="-4" font-size="6.2">+</tspan><tspan dy="4">CD71</tspan><tspan dy="-4" font-size="6.2">+</tspan><tspan dy="4">+DNase I</tspan></text>
<text x="803" y="18.8" font-size="20.3" text-anchor="start" fill="#111" stroke="#111" stroke-width="0.22" font-weight="bold">b</text>
<line x1="849.7" y1="30.9" x2="867.2" y2="30.9" stroke="#4a3cb4" stroke-width="1.1"/>
<circle cx="858.5" cy="30.9" r="2.9" fill="#fff" stroke="#4a3cb4" stroke-width="1.1"/>
<text x="875.2" y="35.3" font-size="11.2" text-anchor="start" fill="#222" stroke="#222" stroke-width="0.22">SYTOX<tspan dy="-4" font-size="6.2">-</tspan><tspan dy="4">CD71</tspan><tspan dy="-4" font-size="6.2">+</tspan><tspan dy="4">Rets</tspan></text>
<line x1="849.7" y1="47" x2="867.2" y2="47" stroke="#d05050" stroke-width="1.1"/>
<circle cx="858.5" cy="47.0" r="2.9" fill="#fff" stroke="#d05050" stroke-width="1.1"/>
<text x="875.2" y="51.2" font-size="11.2" text-anchor="start" fill="#222" stroke="#222" stroke-width="0.22">SYTOX<tspan dy="-4" font-size="6.2">+</tspan><tspan dy="4">CD71</tspan><tspan dy="-4" font-size="6.2">+</tspan><tspan dy="4">Rets</tspan></text>
<line x1="848.8" y1="70.5" x2="848.8" y2="223.29999999999998" stroke="#333" stroke-width="1.2"/>
<line x1="842.3" y1="222.7" x2="1076.5" y2="222.7" stroke="#333" stroke-width="1.2"/>
<text x="839" y="227.3" font-size="11.2" text-anchor="end" fill="#222" stroke="#222" stroke-width="0.22">0</text>
<line x1="842.3" y1="197.434" x2="848.8" y2="197.434" stroke="#333" stroke-width="1.2"/>
<text x="839" y="202.03" font-size="11.2" text-anchor="end" fill="#222" stroke="#222" stroke-width="0.22">20</text>
<line x1="842.3" y1="172.16799999999998" x2="848.8" y2="172.16799999999998" stroke="#333" stroke-width="1.2"/>
<text x="839" y="176.77" font-size="11.2" text-anchor="end" fill="#222" stroke="#222" stroke-width="0.22">40</text>
<line x1="842.3" y1="146.902" x2="848.8" y2="146.902" stroke="#333" stroke-width="1.2"/>
<text x="839" y="151.5" font-size="11.2" text-anchor="end" fill="#222" stroke="#222" stroke-width="0.22">60</text>
<line x1="842.3" y1="121.63599999999998" x2="848.8" y2="121.63599999999998" stroke="#333" stroke-width="1.2"/>
<text x="839" y="126.24" font-size="11.2" text-anchor="end" fill="#222" stroke="#222" stroke-width="0.22">80</text>
<line x1="842.3" y1="96.36999999999998" x2="848.8" y2="96.36999999999998" stroke="#333" stroke-width="1.2"/>
<text x="839" y="100.97" font-size="11.2" text-anchor="end" fill="#222" stroke="#222" stroke-width="0.22">100</text>
<line x1="842.3" y1="71.10399999999998" x2="848.8" y2="71.10399999999998" stroke="#333" stroke-width="1.2"/>
<text x="839" y="75.7" font-size="11.2" text-anchor="end" fill="#222" stroke="#222" stroke-width="0.22">120</text>
<line x1="868.8" y1="222.7" x2="868.8" y2="229.2" stroke="#333" stroke-width="1.2"/>
<text x="868.8" y="240.2" font-size="11.2" text-anchor="middle" fill="#222" stroke="#222" stroke-width="0.22">0</text>
<line x1="931.3" y1="222.7" x2="931.3" y2="229.2" stroke="#333" stroke-width="1.2"/>
<text x="931.3" y="240.2" font-size="11.2" text-anchor="middle" fill="#222" stroke="#222" stroke-width="0.22">0.3</text>
<line x1="993.4" y1="222.7" x2="993.4" y2="229.2" stroke="#333" stroke-width="1.2"/>
<text x="993.4" y="240.2" font-size="11.2" text-anchor="middle" fill="#222" stroke="#222" stroke-width="0.22">0.6</text>
<line x1="1055.9" y1="222.7" x2="1055.9" y2="229.2" stroke="#333" stroke-width="1.2"/>
<text x="1055.9" y="240.2" font-size="11.2" text-anchor="middle" fill="#222" stroke="#222" stroke-width="0.22">0.9</text>
<text x="968.5" y="255.4" font-size="11.2" text-anchor="middle" fill="#222" stroke="#222" stroke-width="0.22">NaCl concentration (%)</text>
<text x="818.2" y="142.5" font-size="11.2" text-anchor="middle" fill="#222" stroke="#222" stroke-width="0.22" transform="rotate(-90 818.2 142.5)">%Hemolysis</text>
<text x="931.3" y="97.6" font-size="11.2" text-anchor="middle" fill="#222" stroke="#222" stroke-width="0.22"><tspan font-style="italic">P</tspan>=0.0016</text>
<text x="887" y="126.2" font-size="11.2" text-anchor="middle" fill="#222" stroke="#222" stroke-width="0.22"><tspan font-style="italic">P</tspan>=0.0010</text>
<polyline points="868.8,96.4 889.6,109.3 931.2,116.6 993.5,217.0 1055.9,222.7" fill="none" stroke="#4a3cb4" stroke-width="1.1"/>
<polyline points="868.8,96.4 889.6,100.8 931.2,107.0 993.5,214.5 1055.9,219.4" fill="none" stroke="#d05050" stroke-width="1.1"/>
<circle cx="868.8" cy="96.4" r="2.9" fill="none" stroke="#d05050" stroke-width="1.1"/>
<circle cx="889.6" cy="100.8" r="2.9" fill="none" stroke="#d05050" stroke-width="1.1"/>
<circle cx="931.2" cy="107.0" r="2.9" fill="none" stroke="#d05050" stroke-width="1.1"/>
<circle cx="993.5" cy="214.5" r="2.9" fill="none" stroke="#d05050" stroke-width="1.1"/>
<circle cx="1055.9" cy="219.4" r="2.9" fill="none" stroke="#d05050" stroke-width="1.1"/>
<circle cx="868.8" cy="96.4" r="2.9" fill="none" stroke="#4a3cb4" stroke-width="1.1"/>
<circle cx="889.6" cy="109.3" r="2.9" fill="none" stroke="#4a3cb4" stroke-width="1.1"/>
<circle cx="931.2" cy="116.6" r="2.9" fill="none" stroke="#4a3cb4" stroke-width="1.1"/>
<circle cx="993.5" cy="217.0" r="2.9" fill="none" stroke="#4a3cb4" stroke-width="1.1"/>
<circle cx="1055.9" cy="222.7" r="2.9" fill="none" stroke="#4a3cb4" stroke-width="1.1"/>
<text x="1.8" y="319.0" font-size="20.3" text-anchor="start" fill="#111" stroke="#111" stroke-width="0.22" font-weight="bold">c</text>
<text x="100.8" y="320.1" font-size="11.2" text-anchor="middle" fill="#222" stroke="#222" stroke-width="0.22">TF</text>
<text x="245.4" y="320.1" font-size="11.2" text-anchor="middle" fill="#222" stroke="#222" stroke-width="0.22">LLC</text>
<text x="19.8" y="390" font-size="11.6" text-anchor="middle" fill="#222" stroke="#222" stroke-width="0.22" transform="rotate(-90 19.8 390)">Ter119</text>
<line x1="16.3" y1="325.8" x2="16.3" y2="371" stroke="#444" stroke-width="1.2"/>
<line x1="16.3" y1="411.4" x2="16.3" y2="456.5" stroke="#444" stroke-width="1.2"/>
<text x="33.9" y="457.59999999999997" font-size="8.6" text-anchor="end" fill="#222" stroke="#222" stroke-width="0.25">10<tspan dy="-3.4" font-size="5.4">0</tspan></text>
<text x="33.9" y="436.2" font-size="8.6" text-anchor="end" fill="#222" stroke="#222" stroke-width="0.25">10<tspan dy="-3.4" font-size="5.4">1</tspan></text>
<text x="33.9" y="414.79999999999995" font-size="8.6" text-anchor="end" fill="#222" stroke="#222" stroke-width="0.25">10<tspan dy="-3.4" font-size="5.4">2</tspan></text>
<text x="33.9" y="393.4" font-size="8.6" text-anchor="end" fill="#222" stroke="#222" stroke-width="0.25">10<tspan dy="-3.4" font-size="5.4">3</tspan></text>
<text x="33.9" y="372.0" font-size="8.6" text-anchor="end" fill="#222" stroke="#222" stroke-width="0.25">10<tspan dy="-3.4" font-size="5.4">4</tspan></text>
<text x="33.9" y="350.6" font-size="8.6" text-anchor="end" fill="#222" stroke="#222" stroke-width="0.25">10<tspan dy="-3.4" font-size="5.4">5</tspan></text>
<text x="33.9" y="329.2" font-size="8.6" text-anchor="end" fill="#222" stroke="#222" stroke-width="0.25">10<tspan dy="-3.4" font-size="5.4">6</tspan></text>
<rect x="38.7" y="326.3" width="128.89999999999998" height="128.39999999999998" fill="#fff" stroke="#6a6a6a" stroke-width="1"/>
<path d="M35.5 454.7H38.7M37.1 448.3H38.7M37.1 444.5H38.7M37.1 441.8H38.7M37.1 439.7H38.7M37.1 438.0H38.7M37.1 436.6H38.7M37.1 435.4H38.7M37.1 434.3H38.7M35.5 433.3H38.7M37.1 426.9H38.7M37.1 423.1H38.7M37.1 420.4H38.7M37.1 418.3H38.7M37.1 416.6H38.7M37.1 415.2H38.7M37.1 414.0H38.7M37.1 412.9H38.7M35.5 411.9H38.7M37.1 405.5H38.7M37.1 401.7H38.7M37.1 399.0H38.7M37.1 396.9H38.7M37.1 395.2H38.7M37.1 393.8H38.7M37.1 392.6H38.7M37.1 391.5H38.7M35.5 390.5H38.7M37.1 384.1H38.7M37.1 380.3H38.7M37.1 377.6H38.7M37.1 375.5H38.7M37.1 373.8H38.7M37.1 372.4H38.7M37.1 371.2H38.7M37.1 370.1H38.7M35.5 369.1H38.7M37.1 362.7H38.7M37.1 358.9H38.7M37.1 356.2H38.7M37.1 354.1H38.7M37.1 352.4H38.7M37.1 351.0H38.7M37.1 349.8H38.7M37.1 348.7H38.7M35.5 347.7H38.7M37.1 341.3H38.7M37.1 337.5H38.7M37.1 334.8H38.7M37.1 332.7H38.7M37.1 331.0H38.7M37.1 329.6H38.7M37.1 328.4H38.7M37.1 327.3H38.7M35.5 326.3H38.7M39.4 454.7V457.9M59.4 454.7V457.9M80.9 454.7V457.9M102.4 454.7V457.9M123.9 454.7V457.9M145.4 454.7V457.9M166.9 454.7V457.9M45.4 454.7V456.3M48.9 454.7V456.3M51.4 454.7V456.3M53.4 454.7V456.3M55.0 454.7V456.3M56.3 454.7V456.3M57.5 454.7V456.3M58.5 454.7V456.3M65.9 454.7V456.3M69.7 454.7V456.3M72.3 454.7V456.3M74.4 454.7V456.3M76.1 454.7V456.3M77.6 454.7V456.3M78.8 454.7V456.3M79.9 454.7V456.3M87.4 454.7V456.3M91.2 454.7V456.3M93.8 454.7V456.3M95.9 454.7V456.3M97.6 454.7V456.3M99.1 454.7V456.3M100.3 454.7V456.3M101.4 454.7V456.3M108.9 454.7V456.3M112.7 454.7V456.3M115.3 454.7V456.3M117.4 454.7V456.3M119.1 454.7V456.3M120.6 454.7V456.3M121.8 454.7V456.3M122.9 454.7V456.3M130.4 454.7V456.3M134.2 454.7V456.3M136.8 454.7V456.3M138.9 454.7V456.3M140.6 454.7V456.3M142.1 454.7V456.3M143.3 454.7V456.3M144.4 454.7V456.3M151.9 454.7V456.3M155.7 454.7V456.3M158.3 454.7V456.3M160.4 454.7V456.3M162.1 454.7V456.3M163.6 454.7V456.3M164.8 454.7V456.3M165.9 454.7V456.3" stroke="#505050" stroke-width="0.8" fill="none"/>
<path d="M84.7 362.3h0.75M85.1 359.4h0.75M75.9 359.7h0.75M109.7 362.0h0.75M108.2 361.4h0.75M95.7 361.2h0.75M66.3 363.6h0.75M97.9 362.3h0.75M66.0 354.2h0.75M76.4 358.8h0.75M94.0 360.3h0.75M98.2 358.2h0.75M94.0 361.9h0.75M79.4 366.7h0.75M98.9 364.8h0.75M79.9 357.8h0.75M83.5 360.1h0.75M100.3 361.4h0.75M82.2 357.1h0.75M81.2 364.9h0.75M77.5 361.4h0.75M96.3 355.1h0.75M88.9 365.2h0.75M61.8 359.3h0.75M86.6 357.6h0.75M97.7 360.3h0.75M69.0 363.5h0.75M101.1 363.9h0.75M116.1 361.8h0.75M90.3 355.8h0.75M100.0 358.3h0.75M82.1 355.9h0.75M75.4 358.6h0.75M113.1 353.2h0.75M69.0 361.4h0.75M116.1 362.6h0.75M63.3 351.4h0.75M95.0 357.8h0.75M73.4 364.0h0.75M109.5 361.1h0.75M92.8 362.1h0.75M119.1 362.7h0.75M98.1 362.5h0.75M67.6 365.1h0.75M106.6 362.4h0.75M62.3 358.2h0.75M104.4 354.0h0.75M85.6 364.2h0.75M71.0 366.3h0.75M98.8 360.0h0.75M94.3 362.8h0.75M90.3 364.6h0.75M79.4 359.0h0.75M108.3 360.6h0.75M76.6 363.9h0.75M116.6 358.9h0.75M70.1 360.0h0.75M86.1 359.4h0.75M115.4 356.8h0.75M112.6 355.9h0.75M77.8 362.8h0.75M110.0 363.6h0.75M94.7 361.0h0.75M91.0 362.6h0.75M85.7 361.5h0.75M99.2 360.5h0.75M102.9 362.5h0.75M127.2 361.7h0.75M82.4 359.2h0.75M87.8 363.8h0.75M83.6 361.9h0.75M123.8 351.3h0.75M73.4 361.4h0.75M95.8 361.4h0.75M82.4 362.9h0.75M93.5 358.6h0.75M135.4 361.8h0.75M80.8 360.1h0.75M85.1 360.3h0.75M52.5 358.7h0.75M107.7 356.3h0.75M87.1 363.9h0.75M104.7 365.9h0.75M65.9 359.2h0.75M83.6 362.7h0.75M109.3 350.8h0.75M109.2 355.3h0.75M101.3 355.1h0.75M91.4 364.8h0.75M86.1 361.2h0.75M103.5 361.0h0.75M86.8 366.0h0.75M108.4 359.4h0.75M141.5 356.4h0.75M105.8 359.5h0.75M90.6 363.0h0.75M92.3 362.8h0.75M68.1 355.1h0.75M100.0 357.0h0.75M74.7 355.2h0.75M112.7 363.2h0.75M116.7 357.1h0.75M88.0 356.4h0.75M102.9 366.2h0.75M76.4 366.1h0.75M107.3 359.9h0.75M62.4 365.6h0.75M86.7 358.3h0.75M95.8 362.0h0.75M117.2 356.8h0.75M110.2 365.9h0.75M116.3 359.8h0.75M78.3 364.2h0.75M90.2 360.9h0.75M115.8 359.6h0.75M58.1 359.1h0.75M63.9 363.4h0.75M94.2 358.3h0.75M87.9 363.5h0.75M89.5 365.3h0.75M87.2 364.2h0.75M117.1 366.3h0.75M79.3 363.7h0.75M63.6 356.6h0.75M62.5 364.3h0.75M72.0 360.5h0.75M85.5 360.4h0.75M80.3 361.3h0.75M122.9 360.7h0.75M98.4 364.1h0.75M85.4 356.0h0.75M80.8 364.4h0.75M66.6 358.3h0.75M107.6 363.4h0.75M88.1 363.4h0.75M91.2 356.3h0.75M67.7 358.2h0.75M106.0 358.5h0.75M76.3 357.7h0.75M68.1 360.1h0.75M72.7 361.8h0.75M57.3 361.7h0.75M79.7 353.5h0.75M102.1 359.5h0.75M59.0 357.3h0.75M93.7 358.8h0.75M103.2 363.2h0.75M101.0 361.7h0.75M114.0 362.9h0.75M96.8 353.0h0.75M105.5 365.2h0.75M84.1 358.8h0.75M125.8 354.2h0.75M97.1 369.2h0.75M75.9 363.0h0.75M124.8 360.1h0.75M98.9 363.7h0.75M76.2 360.2h0.75M93.7 363.5h0.75M87.6 359.8h0.75M74.8 359.2h0.75M105.4 360.9h0.75M76.9 357.5h0.75M140.0 364.6h0.75M100.4 351.2h0.75M100.1 362.2h0.75M120.8 362.0h0.75M87.1 362.4h0.75M62.7 364.2h0.75M94.3 358.0h0.75M113.8 367.0h0.75M69.8 358.1h0.75M93.7 361.2h0.75M82.8 357.0h0.75M129.3 364.2h0.75M72.5 355.7h0.75M121.2 364.1h0.75M123.5 363.4h0.75M76.7 361.4h0.75M59.9 357.8h0.75M87.2 362.4h0.75M78.5 360.1h0.75M96.9 361.9h0.75M100.4 361.3h0.75M83.8 363.3h0.75M89.0 357.5h0.75M79.9 360.5h0.75M86.6 361.1h0.75M88.0 361.1h0.75M86.3 356.0h0.75M96.2 364.3h0.75M96.5 359.8h0.75M96.7 357.0h0.75M63.4 360.7h0.75M75.9 363.2h0.75M73.9 351.0h0.75M74.5 366.2h0.75M83.0 355.6h0.75M78.1 362.4h0.75M97.7 361.1h0.75M116.9 363.0h0.75M87.7 362.6h0.75M120.3 364.0h0.75M108.0 356.6h0.75M86.1 363.1h0.75M84.1 364.3h0.75M99.6 363.8h0.75M85.2 369.7h0.75M112.2 359.7h0.75M89.8 369.8h0.75M83.5 363.6h0.75M107.1 360.5h0.75M72.8 361.2h0.75M95.0 364.6h0.75M103.3 360.6h0.75M104.6 362.4h0.75M92.0 360.7h0.75M84.8 363.0h0.75M74.3 358.2h0.75M88.1 355.2h0.75M82.3 353.3h0.75M79.1 362.5h0.75M99.0 360.3h0.75M85.0 355.4h0.75M123.6 362.4h0.75M109.3 357.3h0.75M85.6 353.9h0.75M103.2 363.9h0.75M63.3 360.3h0.75M100.3 354.2h0.75M64.3 356.7h0.75M79.8 355.4h0.75M88.6 361.4h0.75M100.4 363.0h0.75M117.3 364.7h0.75M70.9 358.7h0.75M74.2 356.6h0.75M86.9 360.5h0.75M97.6 354.8h0.75M71.9 360.4h0.75M85.4 359.4h0.75M87.2 357.8h0.75M101.7 361.8h0.75M86.9 358.1h0.75M85.7 350.7h0.75M75.2 360.6h0.75M68.4 361.2h0.75M90.9 355.5h0.75M84.7 359.4h0.75M97.0 362.7h0.75M87.5 357.4h0.75M86.1 360.3h0.75M102.3 361.6h0.75M78.6 355.6h0.75M83.1 357.8h0.75M73.5 360.1h0.75M81.6 360.9h0.75M98.2 359.0h0.75M133.3 359.3h0.75M109.5 360.9h0.75M109.8 351.9h0.75M78.2 361.4h0.75M99.7 368.9h0.75M94.3 365.1h0.75M102.9 363.9h0.75M97.9 359.9h0.75M97.9 356.6h0.75M111.0 356.8h0.75M92.9 368.1h0.75M85.1 360.6h0.75M110.7 360.6h0.75M77.5 361.4h0.75M99.4 363.1h0.75M78.0 366.8h0.75M120.5 360.6h0.75M93.2 359.0h0.75M115.6 358.0h0.75M101.1 358.8h0.75M79.0 363.1h0.75M114.0 360.5h0.75M79.2 363.4h0.75M87.4 361.6h0.75M117.7 364.6h0.75M81.2 368.7h0.75M88.1 363.3h0.75M79.6 360.3h0.75M65.3 366.9h0.75M114.6 356.1h0.75M68.4 354.7h0.75M110.9 358.8h0.75M87.2 359.4h0.75M86.4 356.6h0.75M88.5 355.3h0.75M87.1 361.6h0.75M97.1 359.7h0.75M76.3 361.1h0.75M81.7 366.1h0.75M103.0 360.1h0.75M81.9 358.0h0.75M75.8 359.2h0.75M93.7 362.4h0.75M99.1 368.1h0.75M78.8 360.5h0.75M142.5 353.8h0.75M81.2 361.1h0.75M91.0 362.0h0.75M84.9 361.8h0.75M89.0 363.3h0.75M63.4 357.3h0.75M88.0 356.8h0.75M74.4 362.8h0.75M79.6 362.8h0.75M102.5 361.6h0.75M97.9 360.1h0.75M69.7 360.4h0.75M96.9 358.6h0.75M86.7 363.2h0.75M76.6 362.8h0.75M124.3 358.5h0.75M90.9 360.0h0.75M118.0 361.6h0.75M105.5 358.0h0.75M87.8 360.5h0.75M64.9 365.7h0.75M105.5 354.2h0.75M102.5 360.0h0.75M96.7 361.8h0.75M68.5 359.7h0.75M117.1 358.4h0.75M74.7 355.6h0.75" stroke="#000" stroke-width="0.75" fill="none" opacity="1"/>
<path d="M79.8 365.6h0.75M101.7 366.2h0.75M90.8 377.3h0.75M85.1 359.3h0.75M93.0 366.9h0.75M81.4 356.2h0.75M91.2 365.0h0.75M79.2 362.2h0.75M84.9 366.4h0.75M88.1 363.0h0.75M86.3 370.0h0.75M99.4 361.2h0.75M95.3 358.8h0.75M89.5 368.1h0.75M100.4 361.1h0.75M88.4 364.7h0.75M77.8 363.6h0.75M83.9 365.8h0.75M80.5 351.2h0.75M89.3 365.1h0.75M84.9 369.0h0.75M87.0 359.7h0.75M92.6 353.8h0.75M83.9 363.4h0.75M95.4 362.5h0.75M91.3 359.4h0.75M91.3 373.8h0.75M83.9 378.2h0.75M84.2 363.6h0.75M90.3 369.9h0.75M79.7 350.5h0.75M93.5 368.4h0.75M93.7 379.8h0.75M90.5 365.1h0.75M96.0 365.8h0.75M101.5 355.8h0.75M86.2 342.1h0.75M95.1 361.2h0.75M95.9 376.9h0.75M89.0 361.9h0.75M85.3 358.3h0.75M84.3 367.5h0.75M89.3 363.9h0.75M87.7 369.2h0.75M92.7 362.6h0.75M94.0 362.6h0.75M80.4 372.5h0.75M92.5 357.6h0.75M97.1 365.6h0.75M77.3 373.5h0.75M91.5 369.0h0.75M90.5 362.6h0.75M77.4 369.5h0.75M89.2 361.7h0.75M91.6 364.0h0.75M94.1 361.2h0.75M88.7 350.2h0.75M85.8 367.7h0.75M99.0 361.2h0.75M88.1 373.3h0.75M86.6 368.1h0.75M101.6 363.7h0.75M98.2 359.1h0.75M90.6 363.0h0.75M89.9 370.5h0.75M106.9 359.4h0.75M84.7 366.6h0.75M81.1 366.6h0.75M93.3 361.8h0.75M93.0 353.9h0.75M94.7 353.9h0.75M83.8 360.1h0.75M86.0 368.8h0.75M89.6 361.0h0.75M93.1 373.3h0.75M89.0 365.8h0.75M98.3 365.2h0.75M79.4 378.9h0.75M105.6 351.2h0.75M88.7 366.1h0.75M96.2 367.6h0.75M87.0 357.0h0.75M89.8 369.9h0.75M80.8 357.1h0.75M88.8 351.5h0.75M87.0 360.8h0.75M92.4 359.1h0.75M82.4 361.1h0.75M88.6 359.4h0.75M89.1 368.2h0.75M97.9 374.1h0.75M83.1 360.9h0.75M70.4 375.3h0.75M83.6 363.3h0.75M92.9 355.1h0.75M92.5 363.3h0.75M75.3 365.3h0.75M98.0 351.9h0.75M95.1 364.8h0.75M92.6 366.2h0.75M98.8 362.1h0.75M95.6 361.0h0.75M94.5 358.5h0.75M88.2 374.2h0.75M92.3 362.5h0.75M80.4 358.6h0.75M90.5 369.3h0.75M92.2 366.7h0.75M88.7 371.9h0.75M86.1 360.1h0.75M95.7 363.9h0.75M86.9 359.9h0.75M87.1 367.4h0.75M91.7 356.0h0.75M92.2 364.6h0.75M81.5 368.3h0.75M86.9 361.4h0.75M95.0 371.7h0.75M83.8 366.2h0.75M82.4 377.8h0.75M85.3 370.9h0.75M84.1 368.5h0.75M105.6 347.7h0.75M85.7 366.6h0.75M88.3 359.4h0.75M105.1 364.0h0.75M76.7 368.8h0.75M76.1 370.6h0.75M84.7 364.4h0.75M98.5 364.2h0.75M78.6 353.0h0.75M97.9 368.1h0.75M82.9 368.8h0.75M92.7 367.5h0.75M72.1 361.6h0.75M95.8 368.0h0.75M95.6 348.3h0.75M90.3 366.6h0.75M108.1 357.6h0.75M86.5 363.7h0.75M95.6 360.8h0.75M97.6 358.6h0.75M91.0 360.2h0.75M90.2 359.2h0.75M77.0 370.3h0.75M91.3 360.0h0.75M90.5 369.6h0.75M81.7 362.8h0.75M93.0 366.8h0.75M86.5 350.4h0.75M98.3 365.5h0.75M89.1 361.8h0.75M91.0 360.9h0.75M81.3 358.9h0.75M84.5 359.7h0.75M80.3 367.4h0.75M79.2 367.6h0.75M81.4 365.7h0.75M99.3 364.8h0.75M83.5 363.8h0.75M90.1 352.8h0.75M84.4 364.5h0.75M85.5 364.0h0.75M94.5 368.3h0.75M95.8 367.1h0.75M86.8 363.4h0.75M87.0 361.6h0.75M87.7 352.8h0.75M86.5 363.4h0.75M81.7 363.4h0.75M92.9 362.5h0.75M104.6 347.3h0.75M87.5 352.2h0.75M96.3 380.0h0.75M70.2 364.3h0.75M92.9 361.6h0.75M93.1 349.6h0.75M95.4 365.8h0.75M89.2 359.9h0.75M93.8 360.5h0.75M90.7 360.3h0.75M72.1 363.3h0.75M90.5 368.2h0.75M82.4 363.3h0.75M93.6 364.4h0.75M98.3 375.8h0.75M82.2 351.6h0.75M95.4 373.0h0.75M95.9 368.5h0.75M84.4 359.1h0.75M95.7 357.8h0.75M75.4 357.3h0.75M107.7 375.4h0.75M83.9 359.0h0.75M90.7 358.9h0.75M98.8 363.0h0.75M80.9 371.6h0.75M84.6 364.9h0.75M88.9 361.6h0.75M91.4 359.2h0.75M75.2 349.8h0.75M79.5 358.8h0.75M88.8 363.8h0.75M93.2 364.2h0.75M83.0 359.1h0.75M73.1 362.5h0.75M92.6 366.8h0.75M88.1 362.4h0.75M96.0 363.6h0.75M94.5 367.1h0.75M90.6 371.6h0.75M84.7 361.3h0.75M82.9 358.6h0.75M100.7 374.4h0.75M89.2 367.0h0.75M97.8 368.5h0.75M98.0 355.7h0.75M84.2 366.3h0.75M99.8 364.1h0.75M82.6 361.3h0.75M84.0 358.2h0.75M100.3 359.6h0.75M89.2 376.9h0.75M97.9 365.6h0.75M84.4 366.0h0.75M101.2 367.4h0.75M98.5 364.1h0.75M92.9 362.3h0.75M92.2 371.6h0.75M78.3 363.1h0.75M90.8 360.0h0.75M86.7 368.4h0.75M104.0 367.4h0.75M91.4 353.9h0.75M103.5 364.0h0.75M88.7 356.6h0.75M88.6 356.7h0.75M89.5 366.4h0.75M89.2 365.2h0.75M82.6 372.4h0.75M84.1 352.2h0.75M87.6 358.8h0.75M81.4 361.3h0.75M91.2 356.2h0.75M88.0 372.3h0.75M94.1 362.6h0.75M90.0 362.8h0.75M88.6 368.0h0.75M88.3 348.6h0.75M88.8 358.0h0.75M93.9 359.7h0.75M90.1 377.0h0.75M81.1 356.5h0.75M78.4 348.7h0.75M74.9 365.8h0.75M84.2 351.9h0.75M77.9 367.3h0.75M83.2 361.2h0.75M91.5 371.9h0.75M103.6 369.9h0.75M90.1 364.6h0.75M102.5 372.4h0.75M86.7 366.3h0.75M91.2 363.8h0.75M85.2 355.3h0.75M85.0 353.9h0.75M98.2 366.8h0.75M80.0 372.2h0.75M95.7 351.7h0.75M102.8 368.5h0.75M104.5 355.9h0.75M93.0 366.1h0.75M90.5 364.6h0.75M96.9 354.2h0.75M79.7 354.9h0.75M84.8 359.7h0.75M91.8 365.2h0.75M89.2 359.3h0.75M85.7 369.4h0.75M94.7 364.1h0.75M86.6 373.1h0.75M84.5 367.5h0.75M97.7 361.9h0.75M95.2 356.6h0.75M96.6 364.7h0.75M77.1 367.7h0.75M82.3 371.4h0.75M83.9 362.5h0.75M91.1 361.4h0.75M90.9 360.1h0.75M94.0 363.5h0.75M90.6 346.4h0.75M97.7 363.7h0.75M75.6 364.1h0.75M92.5 370.1h0.75M80.9 373.1h0.75M87.8 378.3h0.75M87.9 367.7h0.75M86.3 356.6h0.75M97.2 369.1h0.75M100.5 368.8h0.75M84.7 353.2h0.75M84.1 359.3h0.75M82.9 367.1h0.75M91.5 361.8h0.75M90.3 362.6h0.75M90.6 368.2h0.75M96.2 359.2h0.75M77.7 372.3h0.75M89.9 370.4h0.75M76.7 361.5h0.75M89.2 354.6h0.75M85.1 368.0h0.75M97.1 373.4h0.75M82.5 354.8h0.75M92.9 369.3h0.75M90.4 355.4h0.75M94.9 368.4h0.75M93.2 360.5h0.75M91.3 368.4h0.75M84.8 352.1h0.75M91.5 366.5h0.75M89.1 369.0h0.75M84.6 363.0h0.75M86.7 367.0h0.75M101.0 361.9h0.75M104.4 373.0h0.75M94.9 367.1h0.75M102.3 362.4h0.75M88.2 356.9h0.75M92.5 371.8h0.75M93.0 366.1h0.75M87.5 364.6h0.75M78.3 370.0h0.75M85.9 356.7h0.75M83.4 358.4h0.75M95.4 370.1h0.75M78.8 369.2h0.75M95.7 359.9h0.75M77.9 358.9h0.75M84.2 365.6h0.75M86.3 350.9h0.75M90.8 354.0h0.75M95.8 356.0h0.75M83.8 358.2h0.75M84.9 371.5h0.75M95.4 367.2h0.75M91.4 353.9h0.75M85.1 360.1h0.75M81.7 366.7h0.75M83.4 359.1h0.75M81.2 350.7h0.75M93.5 371.8h0.75M90.3 357.4h0.75M68.7 364.6h0.75M98.1 365.3h0.75M96.0 372.7h0.75M97.5 360.8h0.75M96.9 368.3h0.75M77.5 361.0h0.75M78.3 362.8h0.75M93.3 356.9h0.75M73.6 371.5h0.75M91.8 372.6h0.75M79.1 370.1h0.75M104.6 375.9h0.75M87.4 365.2h0.75M87.8 369.7h0.75M96.8 364.0h0.75M78.8 368.1h0.75M85.5 367.4h0.75M91.0 373.6h0.75M97.5 360.7h0.75M91.6 374.4h0.75M85.0 366.2h0.75M97.9 371.3h0.75M92.9 355.3h0.75M79.5 365.0h0.75M91.9 379.3h0.75M82.5 370.6h0.75M94.8 353.1h0.75M82.9 364.5h0.75M85.3 362.5h0.75M92.5 358.5h0.75M92.5 359.6h0.75M84.9 366.8h0.75M84.7 365.3h0.75M101.0 363.7h0.75M87.9 368.1h0.75M86.3 370.2h0.75M79.4 367.3h0.75M85.2 358.5h0.75M102.3 358.2h0.75M102.2 367.6h0.75M99.9 357.4h0.75M98.0 372.5h0.75M88.1 362.7h0.75M107.4 364.6h0.75M85.8 359.6h0.75M92.3 365.5h0.75M90.3 374.2h0.75M86.5 366.4h0.75M99.9 357.3h0.75M96.8 374.9h0.75M78.8 356.7h0.75M81.2 352.1h0.75M92.4 352.0h0.75M92.7 372.5h0.75M76.9 361.5h0.75M74.6 368.3h0.75M83.5 361.9h0.75M89.4 366.9h0.75M86.4 363.6h0.75M84.9 364.2h0.75M80.2 363.9h0.75M74.5 360.5h0.75M103.4 364.0h0.75M79.6 365.1h0.75M81.7 353.3h0.75M83.5 368.1h0.75M91.9 362.9h0.75M82.1 356.8h0.75M99.1 365.0h0.75M81.9 350.4h0.75M78.7 378.8h0.75M80.4 363.0h0.75M90.6 362.5h0.75M86.9 355.0h0.75M81.1 374.0h0.75M83.3 368.7h0.75M76.3 361.8h0.75M91.0 369.9h0.75M80.6 367.2h0.75M91.9 358.9h0.75M92.6 357.9h0.75M83.0 363.4h0.75M68.6 362.8h0.75M81.5 354.4h0.75M85.8 368.2h0.75M86.0 371.3h0.75M80.3 355.4h0.75M100.6 366.0h0.75M96.1 358.4h0.75M95.0 365.1h0.75M93.9 363.7h0.75M98.0 359.5h0.75M81.8 354.3h0.75M97.7 358.9h0.75M81.2 357.7h0.75M85.7 355.6h0.75M86.8 359.6h0.75M84.9 357.6h0.75M89.3 360.6h0.75M89.9 365.0h0.75M91.6 349.9h0.75M85.0 358.6h0.75M94.8 353.7h0.75M83.6 361.7h0.75M86.5 369.6h0.75M85.7 369.5h0.75M78.0 352.3h0.75M98.1 366.2h0.75M92.7 364.3h0.75M92.6 356.0h0.75M96.1 360.2h0.75M96.4 364.0h0.75M74.2 355.5h0.75M97.5 362.7h0.75M86.0 365.0h0.75M85.8 360.1h0.75M89.8 364.4h0.75M100.4 363.8h0.75M103.1 374.7h0.75M101.9 370.1h0.75M90.0 364.4h0.75M87.9 359.0h0.75M88.5 359.5h0.75M101.3 366.8h0.75M85.7 351.6h0.75M88.6 360.9h0.75M80.9 356.5h0.75M72.1 367.0h0.75M88.5 379.5h0.75M88.8 362.6h0.75M99.8 364.3h0.75M90.3 361.2h0.75M84.5 372.8h0.75M96.5 374.1h0.75M86.4 363.7h0.75M82.4 369.5h0.75M78.6 367.0h0.75M97.2 372.2h0.75M82.0 370.3h0.75M83.6 358.8h0.75M79.1 370.7h0.75M101.4 359.8h0.75M83.3 361.4h0.75M107.8 369.7h0.75M84.9 352.4h0.75M84.0 370.9h0.75M103.0 361.8h0.75M83.8 360.3h0.75M74.9 369.1h0.75M80.9 370.1h0.75M76.2 355.6h0.75M91.2 358.8h0.75M94.9 363.6h0.75M80.2 367.4h0.75M95.3 351.6h0.75M102.7 366.6h0.75M94.7 352.0h0.75M83.6 361.3h0.75M97.1 354.5h0.75M82.4 350.9h0.75M87.2 365.6h0.75M76.4 359.8h0.75M92.8 373.3h0.75M94.0 361.6h0.75M80.2 357.7h0.75M84.0 364.4h0.75M88.6 373.8h0.75M91.2 356.9h0.75M100.6 369.4h0.75M89.8 359.0h0.75M75.0 357.2h0.75M95.8 358.5h0.75M79.1 364.7h0.75M90.8 367.3h0.75M93.9 372.2h0.75M82.7 369.6h0.75M81.6 367.8h0.75M90.3 365.0h0.75M96.3 363.4h0.75M97.3 368.9h0.75M90.0 360.0h0.75M83.3 360.2h0.75M87.5 363.3h0.75M111.4 367.5h0.75M94.8 358.2h0.75M83.7 361.5h0.75M90.4 357.1h0.75M101.1 360.0h0.75M97.1 349.0h0.75M88.9 365.2h0.75M90.4 367.2h0.75M91.1 364.5h0.75M74.8 359.1h0.75M71.4 367.4h0.75M91.3 362.3h0.75M82.8 359.9h0.75M102.8 374.2h0.75M88.6 371.5h0.75M77.1 351.5h0.75M85.4 358.1h0.75M84.8 364.7h0.75M111.7 359.4h0.75M89.4 365.2h0.75M88.7 369.3h0.75M102.3 355.8h0.75M90.2 361.9h0.75M91.7 354.0h0.75M75.8 349.1h0.75M92.9 364.7h0.75M89.6 348.8h0.75M86.2 358.8h0.75M78.4 357.8h0.75M94.2 366.9h0.75M88.8 366.7h0.75M84.5 363.9h0.75M89.3 366.9h0.75M88.5 362.6h0.75M88.0 359.5h0.75M105.8 366.7h0.75M92.2 377.7h0.75M99.5 353.8h0.75M94.2 368.7h0.75M103.1 371.7h0.75M94.8 356.2h0.75M82.5 365.2h0.75M92.8 357.2h0.75M86.1 361.0h0.75M89.5 365.6h0.75M86.8 355.8h0.75M98.3 373.4h0.75M88.2 369.9h0.75M92.3 367.6h0.75M92.6 358.8h0.75M93.3 369.8h0.75M82.3 375.7h0.75M104.7 374.8h0.75M103.9 368.1h0.75M86.5 359.8h0.75M82.9 364.2h0.75M88.8 367.7h0.75M73.9 377.8h0.75M106.1 363.3h0.75M94.1 366.4h0.75M91.1 362.2h0.75M88.1 358.4h0.75M90.3 363.4h0.75M91.4 358.2h0.75M89.3 363.8h0.75M93.5 356.9h0.75M92.1 369.6h0.75M93.5 361.2h0.75M85.3 362.0h0.75M94.5 373.1h0.75M87.8 359.5h0.75M91.8 364.8h0.75M82.2 358.9h0.75M88.2 367.7h0.75M80.1 357.2h0.75M92.7 355.9h0.75M89.8 365.7h0.75M88.2 357.2h0.75M88.6 361.4h0.75M91.5 358.3h0.75M97.2 353.1h0.75M87.7 363.5h0.75M96.2 359.7h0.75M93.1 360.0h0.75M94.5 374.3h0.75M86.0 366.2h0.75M82.0 369.5h0.75M98.1 363.7h0.75M80.5 366.0h0.75M97.6 370.3h0.75M95.1 352.2h0.75M83.9 372.3h0.75M79.8 370.5h0.75M103.1 368.2h0.75M97.4 361.4h0.75M79.8 362.9h0.75M87.5 363.2h0.75M94.2 362.6h0.75M90.4 366.1h0.75M89.0 374.9h0.75M92.3 364.0h0.75M87.4 359.6h0.75M99.1 364.4h0.75M80.9 360.0h0.75M88.0 360.7h0.75M97.1 356.3h0.75M92.7 364.4h0.75M80.2 363.8h0.75M88.3 366.6h0.75M85.6 365.4h0.75M76.5 356.8h0.75M94.9 370.0h0.75M88.9 359.8h0.75M97.1 350.5h0.75M83.0 367.7h0.75M93.9 357.1h0.75M74.8 372.5h0.75M90.1 357.9h0.75M89.4 369.1h0.75M69.6 370.4h0.75M94.6 350.6h0.75M94.8 352.5h0.75M97.5 366.0h0.75M105.9 359.7h0.75M89.0 370.0h0.75M84.2 359.1h0.75M86.2 363.0h0.75M80.9 366.5h0.75M93.1 363.9h0.75M101.8 361.5h0.75M98.8 360.1h0.75M94.7 351.5h0.75M90.5 362.4h0.75M85.3 359.7h0.75M86.4 359.0h0.75M72.6 359.8h0.75M84.9 360.2h0.75M81.1 362.7h0.75M94.9 361.9h0.75M85.3 371.9h0.75M96.3 369.2h0.75M97.7 361.5h0.75M88.0 370.4h0.75M84.8 362.8h0.75M91.8 365.8h0.75M86.9 369.6h0.75M87.7 368.0h0.75M97.0 367.6h0.75M94.5 356.3h0.75M79.2 359.7h0.75M92.6 372.8h0.75M79.8 365.4h0.75M82.6 359.0h0.75M86.9 367.8h0.75M90.6 370.8h0.75M81.6 369.0h0.75M96.0 363.9h0.75M92.6 360.0h0.75M80.8 361.0h0.75M84.2 381.4h0.75M85.4 373.7h0.75M90.5 365.4h0.75M94.6 358.7h0.75M95.9 365.8h0.75M77.6 367.2h0.75M93.1 366.3h0.75M100.9 360.9h0.75M92.8 368.1h0.75M82.2 370.9h0.75M78.1 355.4h0.75M92.9 356.7h0.75M88.1 353.3h0.75M89.5 356.5h0.75M91.6 354.0h0.75M92.4 361.8h0.75M89.5 363.1h0.75M90.0 355.3h0.75M69.8 363.7h0.75M82.0 360.7h0.75M92.2 351.2h0.75M83.3 359.7h0.75M81.1 365.5h0.75M87.9 358.4h0.75M81.6 368.5h0.75M84.1 367.1h0.75M92.4 351.8h0.75M80.9 363.5h0.75M91.6 368.3h0.75M95.0 369.9h0.75M86.2 362.2h0.75M94.8 360.9h0.75M96.9 353.6h0.75M93.9 362.4h0.75M74.2 369.6h0.75M91.3 363.6h0.75M80.9 360.6h0.75M100.3 358.4h0.75M63.0 358.2h0.75M80.0 362.7h0.75M86.1 357.8h0.75M82.7 370.0h0.75M78.2 375.6h0.75M84.9 356.7h0.75M94.9 367.0h0.75M81.2 368.1h0.75M75.2 357.8h0.75M97.4 361.9h0.75M79.2 366.7h0.75M95.9 363.4h0.75M75.4 361.4h0.75M92.1 368.3h0.75M102.9 361.9h0.75M85.4 363.3h0.75M98.0 357.7h0.75M98.8 346.5h0.75M95.0 359.3h0.75M92.4 367.8h0.75M80.1 363.0h0.75M90.8 367.1h0.75M82.0 357.4h0.75M74.6 379.2h0.75M87.6 362.1h0.75M77.8 369.3h0.75M85.0 372.4h0.75M95.4 363.6h0.75M94.5 356.6h0.75M86.6 359.9h0.75M79.5 363.6h0.75M87.9 372.4h0.75M63.9 359.3h0.75M82.1 360.6h0.75M92.2 366.0h0.75M89.2 360.6h0.75M92.7 365.7h0.75M75.2 361.9h0.75M78.7 356.2h0.75M90.1 363.9h0.75M89.9 358.1h0.75M87.5 357.8h0.75M91.9 367.8h0.75M102.2 371.3h0.75M83.0 360.7h0.75M82.0 365.4h0.75M103.9 367.9h0.75M72.5 355.7h0.75M79.3 366.7h0.75M89.0 365.4h0.75M102.4 358.4h0.75M82.6 375.7h0.75M91.6 358.7h0.75M73.8 354.0h0.75M70.7 363.9h0.75M89.3 369.7h0.75M88.0 359.2h0.75M83.4 375.3h0.75M75.8 364.6h0.75M89.2 367.3h0.75M86.0 366.6h0.75M95.1 362.6h0.75M85.6 362.3h0.75M81.8 362.2h0.75M86.7 364.8h0.75M99.0 371.6h0.75M85.7 367.2h0.75M91.2 368.2h0.75M89.2 365.1h0.75M85.5 358.6h0.75M95.5 371.6h0.75M94.0 366.2h0.75M91.0 360.7h0.75M75.6 367.6h0.75M90.5 360.1h0.75M81.8 371.4h0.75M75.5 374.4h0.75M93.8 378.2h0.75M83.6 363.4h0.75M85.2 364.5h0.75M87.4 358.9h0.75M97.1 358.6h0.75M85.2 366.9h0.75M85.0 360.8h0.75M91.7 361.2h0.75M79.7 362.9h0.75M87.4 374.1h0.75M80.8 369.5h0.75M83.1 361.3h0.75M86.5 365.2h0.75M95.5 374.3h0.75M84.2 371.7h0.75M96.5 368.5h0.75M83.3 369.1h0.75M88.2 365.7h0.75M87.0 367.6h0.75M97.4 370.5h0.75M87.5 369.7h0.75M99.9 357.7h0.75M100.0 355.2h0.75M93.1 367.2h0.75M100.1 365.2h0.75M85.4 358.6h0.75M79.6 368.2h0.75M87.2 359.1h0.75M93.0 358.8h0.75M85.7 360.7h0.75M101.4 372.6h0.75M87.8 353.8h0.75M91.1 363.9h0.75M91.6 367.0h0.75M86.6 369.2h0.75M95.3 364.8h0.75M86.0 360.5h0.75M94.2 356.7h0.75M87.8 358.9h0.75M78.5 367.2h0.75M88.8 363.7h0.75M95.6 354.2h0.75M88.5 365.3h0.75M95.2 356.8h0.75M94.4 364.9h0.75M99.2 370.6h0.75M93.1 376.8h0.75M89.0 360.9h0.75M86.4 357.7h0.75M88.8 351.9h0.75M88.4 366.1h0.75M96.4 361.3h0.75M99.4 359.5h0.75M88.0 351.9h0.75M83.3 358.6h0.75M99.9 366.7h0.75M80.9 366.7h0.75M92.5 362.1h0.75M89.2 361.7h0.75M85.0 352.8h0.75M88.3 371.3h0.75M99.5 361.8h0.75M83.5 362.2h0.75M95.6 365.6h0.75M84.7 365.7h0.75M87.5 366.6h0.75M86.0 354.6h0.75M89.4 368.1h0.75M80.9 362.9h0.75M95.4 361.2h0.75M84.2 375.8h0.75M95.1 369.7h0.75M82.1 373.4h0.75M76.9 360.4h0.75M94.4 371.5h0.75M82.2 359.5h0.75M90.4 351.9h0.75M93.7 366.9h0.75M85.7 366.7h0.75M94.7 365.4h0.75M92.8 372.6h0.75M85.5 364.5h0.75M85.2 369.7h0.75M86.0 366.4h0.75M90.0 363.9h0.75M101.5 363.0h0.75M99.3 368.5h0.75M98.6 362.5h0.75M95.7 368.0h0.75M84.5 365.1h0.75M88.1 363.3h0.75M98.4 359.2h0.75M76.8 353.1h0.75M85.7 359.6h0.75M89.1 366.9h0.75M101.7 365.4h0.75M92.4 359.1h0.75M93.2 371.6h0.75M98.7 351.8h0.75M95.4 373.0h0.75M95.0 354.6h0.75M86.8 367.0h0.75M92.0 358.7h0.75M82.6 369.3h0.75M79.4 372.1h0.75M89.1 365.3h0.75M79.4 359.9h0.75M94.0 354.7h0.75M103.9 355.1h0.75M80.2 363.8h0.75M92.5 367.9h0.75M86.3 362.3h0.75M87.3 360.1h0.75M70.4 369.2h0.75M90.8 364.4h0.75M84.5 365.0h0.75M88.9 363.0h0.75M97.0 353.2h0.75M90.8 357.1h0.75M86.7 372.4h0.75M81.2 362.9h0.75M84.7 369.2h0.75M81.9 353.5h0.75M92.7 361.4h0.75M86.7 369.9h0.75M82.6 361.3h0.75M90.1 366.0h0.75M85.3 369.7h0.75M105.1 361.1h0.75M102.5 350.9h0.75M99.1 361.5h0.75M90.0 361.5h0.75M84.4 355.9h0.75M86.2 371.2h0.75M97.2 361.4h0.75M85.2 359.3h0.75M80.4 374.2h0.75M93.8 364.2h0.75M85.5 357.4h0.75M98.5 368.1h0.75M82.1 369.4h0.75M81.0 367.3h0.75M82.1 361.0h0.75M92.6 366.1h0.75M96.3 358.5h0.75M100.4 371.5h0.75M88.9 366.3h0.75M83.4 362.6h0.75M79.5 364.0h0.75M90.4 371.5h0.75M95.8 368.3h0.75M86.4 362.2h0.75M86.5 364.8h0.75M75.1 368.1h0.75M77.7 360.4h0.75M89.2 360.4h0.75M101.0 362.9h0.75M100.3 370.5h0.75M85.4 365.9h0.75M98.3 361.5h0.75M89.6 360.2h0.75M89.4 361.4h0.75M89.6 369.5h0.75M99.0 364.3h0.75M90.5 368.6h0.75M86.9 357.2h0.75M97.0 357.9h0.75M95.7 357.8h0.75M102.2 357.3h0.75M95.1 372.4h0.75M82.1 372.3h0.75M83.1 353.0h0.75M94.2 367.7h0.75M87.5 348.5h0.75M88.6 361.7h0.75M86.3 361.8h0.75M76.1 360.1h0.75M102.0 372.7h0.75M86.4 359.3h0.75M91.9 369.8h0.75M94.2 356.5h0.75M90.2 364.3h0.75M99.4 370.6h0.75M92.8 370.7h0.75M86.2 372.7h0.75M85.9 365.9h0.75M95.6 358.1h0.75M83.9 353.0h0.75M90.2 363.2h0.75M86.6 366.5h0.75M73.8 363.4h0.75M89.6 361.9h0.75M94.7 373.9h0.75M85.8 357.9h0.75M84.6 364.1h0.75M93.2 358.4h0.75M96.2 357.4h0.75M95.0 366.0h0.75M92.3 376.3h0.75M87.1 362.5h0.75M92.4 368.6h0.75M79.4 365.1h0.75M83.7 367.3h0.75M98.9 363.8h0.75M88.2 364.6h0.75M67.7 368.1h0.75M93.0 364.5h0.75M86.1 359.2h0.75M87.7 370.7h0.75M88.3 371.5h0.75M70.5 360.8h0.75M91.0 363.4h0.75M77.0 359.5h0.75M98.0 355.8h0.75M81.9 357.0h0.75M85.0 367.3h0.75M93.3 351.4h0.75M99.5 360.0h0.75M84.8 373.4h0.75M88.4 356.1h0.75M84.4 359.2h0.75M81.7 361.5h0.75M95.3 365.6h0.75M79.1 380.1h0.75M81.9 364.2h0.75M89.2 368.0h0.75M86.6 366.2h0.75M104.2 364.1h0.75M81.2 365.5h0.75M83.2 361.3h0.75M90.4 365.5h0.75M87.0 368.5h0.75M87.6 355.7h0.75M95.3 361.3h0.75M97.7 359.6h0.75M93.1 365.4h0.75M69.6 354.6h0.75M80.9 371.9h0.75M75.4 368.9h0.75M96.9 366.4h0.75M93.9 360.5h0.75M88.9 364.8h0.75M92.0 367.7h0.75M87.5 359.3h0.75M85.0 365.9h0.75M77.0 356.0h0.75M86.0 360.2h0.75M87.1 347.7h0.75M86.5 362.0h0.75M94.6 351.7h0.75M86.8 366.3h0.75M92.5 370.6h0.75M96.6 357.3h0.75M93.6 361.5h0.75M83.2 372.6h0.75M84.5 358.4h0.75M86.1 358.4h0.75M96.3 365.8h0.75M99.1 366.0h0.75M84.6 369.7h0.75M84.3 360.7h0.75M87.8 363.7h0.75M97.6 359.9h0.75M91.5 363.3h0.75M79.9 357.0h0.75M87.4 365.9h0.75M91.3 366.4h0.75M89.4 360.8h0.75M92.1 357.5h0.75M79.3 361.5h0.75M78.7 360.4h0.75M83.6 360.2h0.75M88.7 358.7h0.75M85.9 353.3h0.75M90.0 358.2h0.75M91.9 346.6h0.75M83.2 365.0h0.75M71.4 361.3h0.75M89.7 364.1h0.75M78.2 364.9h0.75M90.1 357.7h0.75M94.4 363.2h0.75M89.1 360.8h0.75M93.0 364.1h0.75M97.2 366.2h0.75M84.5 362.2h0.75M95.6 361.3h0.75M91.8 366.6h0.75M87.7 349.6h0.75M90.0 364.8h0.75M90.0 359.0h0.75M97.8 362.7h0.75M84.5 359.2h0.75M91.6 357.0h0.75M81.7 375.5h0.75M98.5 369.8h0.75M98.9 367.1h0.75M76.8 370.7h0.75M98.0 366.4h0.75M74.8 371.0h0.75M98.9 360.5h0.75M89.9 368.2h0.75M88.4 370.1h0.75M89.6 367.7h0.75M89.6 354.6h0.75M81.8 382.5h0.75M91.0 371.4h0.75M97.3 373.8h0.75M93.0 359.9h0.75M89.1 352.0h0.75M87.6 368.9h0.75M73.3 364.7h0.75M95.0 371.5h0.75M82.3 359.6h0.75M75.4 357.4h0.75M92.9 376.0h0.75M80.7 371.8h0.75M92.1 360.5h0.75M105.0 348.3h0.75M88.5 364.8h0.75M104.5 374.3h0.75M105.5 364.3h0.75M96.1 371.7h0.75M92.7 365.7h0.75M87.7 361.0h0.75M80.0 375.2h0.75M85.7 351.0h0.75M90.9 363.3h0.75M90.3 374.4h0.75M88.2 361.9h0.75M83.6 363.4h0.75M85.8 364.7h0.75M111.8 365.9h0.75M82.8 375.1h0.75M95.3 368.4h0.75M94.2 368.4h0.75M93.9 372.0h0.75M96.3 371.6h0.75M85.3 363.5h0.75M83.7 369.3h0.75M95.1 360.7h0.75M93.3 379.3h0.75M98.0 356.8h0.75M88.3 367.3h0.75M88.7 365.8h0.75M97.6 365.5h0.75M81.0 367.8h0.75M88.3 364.2h0.75M84.9 355.2h0.75M79.9 361.4h0.75M81.2 347.1h0.75M97.4 356.5h0.75M83.7 366.7h0.75M71.4 371.6h0.75M83.4 367.5h0.75M85.5 365.3h0.75M89.8 363.5h0.75M75.7 354.6h0.75M88.7 372.0h0.75M85.0 366.7h0.75M90.2 366.4h0.75M96.2 354.4h0.75M91.0 362.4h0.75M86.7 358.3h0.75M83.3 357.3h0.75M81.0 378.7h0.75M101.4 363.6h0.75M94.4 357.6h0.75M68.7 352.5h0.75M90.0 372.2h0.75M88.7 357.5h0.75M87.2 357.5h0.75M78.8 362.1h0.75M86.1 358.6h0.75M82.5 357.9h0.75M90.7 371.9h0.75M87.5 377.0h0.75M77.2 365.2h0.75M80.5 362.5h0.75M89.7 366.9h0.75M97.3 360.1h0.75M79.9 362.4h0.75M91.1 359.3h0.75M95.5 373.7h0.75M78.6 365.7h0.75M96.4 351.9h0.75M90.5 362.1h0.75M78.6 371.5h0.75M90.6 360.6h0.75M92.2 367.4h0.75M94.6 367.0h0.75M92.0 356.4h0.75M85.9 364.3h0.75M68.8 376.4h0.75M86.2 357.1h0.75M75.7 365.0h0.75M89.2 360.0h0.75M86.0 358.1h0.75M83.5 362.9h0.75M84.3 367.6h0.75M88.0 364.3h0.75M92.0 371.2h0.75M93.4 364.9h0.75M87.8 358.6h0.75M86.5 367.6h0.75M90.7 361.2h0.75M79.3 354.2h0.75M91.4 369.7h0.75M91.7 355.2h0.75M87.4 364.8h0.75M82.3 365.6h0.75M87.5 358.5h0.75M79.9 368.4h0.75M91.6 358.1h0.75M81.6 368.9h0.75M93.4 361.7h0.75M100.6 361.8h0.75M81.3 370.1h0.75M87.6 365.6h0.75M89.3 357.4h0.75M80.3 362.3h0.75M99.3 357.4h0.75M98.9 364.8h0.75M80.9 365.1h0.75M93.1 358.1h0.75M73.4 365.7h0.75M80.9 366.2h0.75M75.0 362.6h0.75M83.1 354.6h0.75M87.2 364.5h0.75M84.9 356.4h0.75M90.5 352.9h0.75M92.9 366.5h0.75M101.2 368.8h0.75M91.6 365.1h0.75M89.2 355.5h0.75M99.7 366.7h0.75M86.9 356.6h0.75M99.8 366.7h0.75M80.4 367.5h0.75M102.8 363.4h0.75M91.9 361.0h0.75M84.4 370.0h0.75M111.4 364.2h0.75M88.1 368.3h0.75M86.8 367.9h0.75M95.0 357.4h0.75M81.2 363.1h0.75M95.1 365.2h0.75M98.0 355.2h0.75M92.6 359.8h0.75M89.7 365.4h0.75M81.9 362.1h0.75M80.5 365.1h0.75M82.8 360.5h0.75M90.6 359.6h0.75M97.4 359.7h0.75M95.2 365.2h0.75M81.5 362.2h0.75M82.9 361.3h0.75M87.0 374.4h0.75M86.0 372.9h0.75M92.3 355.6h0.75M72.2 367.6h0.75M74.5 367.8h0.75M96.5 365.8h0.75M87.5 362.0h0.75M90.9 361.7h0.75M85.1 361.3h0.75M97.5 359.8h0.75M91.8 356.6h0.75M83.8 355.2h0.75M87.6 367.6h0.75M91.2 360.5h0.75M93.4 361.4h0.75M91.7 365.1h0.75M92.9 348.6h0.75M79.5 368.1h0.75M88.2 377.0h0.75M87.3 360.2h0.75M99.8 366.8h0.75M102.8 366.6h0.75M87.5 367.8h0.75M83.3 360.8h0.75M85.0 362.2h0.75M94.7 360.6h0.75M91.3 360.5h0.75M95.4 347.0h0.75M87.5 364.5h0.75" stroke="#000" stroke-width="0.75" fill="none" opacity="1"/>
<path d="M111.4 363.4h0.75M127.7 364.5h0.75M137.1 362.0h0.75M123.1 355.3h0.75M122.2 357.7h0.75M128.1 357.7h0.75M163.4 353.3h0.75M139.8 357.7h0.75M122.0 363.1h0.75M125.0 354.8h0.75M130.2 358.7h0.75M111.7 356.6h0.75M131.1 360.7h0.75M121.4 367.9h0.75M130.3 357.1h0.75M128.0 359.0h0.75M107.5 367.5h0.75M122.7 358.4h0.75M117.9 363.3h0.75M125.4 366.1h0.75M134.9 365.9h0.75M123.5 360.9h0.75M119.6 358.8h0.75M113.1 357.0h0.75M140.3 360.5h0.75" stroke="#777" stroke-width="0.75" fill="none" opacity="1"/>
<ellipse cx="90.5" cy="365.2" rx="18.0" ry="13.8" fill="#000" opacity="0.5" filter="url(#bl3)"/>
<path d="M72.5 360.8 C78.5 354.5 88.60000000000001 351.5 94.60000000000001 351.5 C103.5 351.5 106.5 356.3 106.5 362.3 C106.5 368.3 99.60000000000001 379 93.60000000000001 379 C86.60000000000001 379 77.5 367.3 72.5 360.8Z" fill="#0c0c0c" filter="url(#bl2)"/>
<g transform="translate(93.7 361.3) rotate(15)">
<ellipse cx="0" cy="0" rx="11.6" ry="8.6" fill="#333" stroke="#d2d2d2" stroke-width="0.8"/>
<ellipse cx="0.3" cy="0.2" rx="9.3" ry="6.9" fill="none" stroke="#777" stroke-width="0.45"/>
<ellipse cx="0.6" cy="0.3" rx="7.2" ry="5.3" fill="#2a2a2a" stroke="#8a8a8a" stroke-width="0.45"/>
<ellipse cx="0.9" cy="0.4" rx="5.2" ry="3.9" fill="#2a2a2a" stroke="#777" stroke-width="0.45"/>
<ellipse cx="1.2" cy="0.6" rx="3.2" ry="2.4" fill="#2a2a2a" stroke="#999" stroke-width="0.45"/>
<ellipse cx="1.6" cy="0.6" rx="1.5" ry="0.7" fill="#eee"/>
</g>
<rect x="105.1" y="336.3" width="50.9" height="51.8" fill="none" stroke="#5656a2" stroke-width="1.15"/>
<text x="155.8" y="404.3" font-size="11.4" text-anchor="end" fill="#5656a2" stroke="#5656a2" stroke-width="0.22">0.38%</text>
<rect x="174.8" y="326.3" width="128.7" height="128.39999999999998" fill="#fff" stroke="#6a6a6a" stroke-width="1"/>
<path d="M171.60000000000002 454.7H174.8M173.20000000000002 448.3H174.8M173.20000000000002 444.5H174.8M173.20000000000002 441.8H174.8M173.20000000000002 439.7H174.8M173.20000000000002 438.0H174.8M173.20000000000002 436.6H174.8M173.20000000000002 435.4H174.8M173.20000000000002 434.3H174.8M171.60000000000002 433.3H174.8M173.20000000000002 426.9H174.8M173.20000000000002 423.1H174.8M173.20000000000002 420.4H174.8M173.20000000000002 418.3H174.8M173.20000000000002 416.6H174.8M173.20000000000002 415.2H174.8M173.20000000000002 414.0H174.8M173.20000000000002 412.9H174.8M171.60000000000002 411.9H174.8M173.20000000000002 405.5H174.8M173.20000000000002 401.7H174.8M173.20000000000002 399.0H174.8M173.20000000000002 396.9H174.8M173.20000000000002 395.2H174.8M173.20000000000002 393.8H174.8M173.20000000000002 392.6H174.8M173.20000000000002 391.5H174.8M171.60000000000002 390.5H174.8M173.20000000000002 384.1H174.8M173.20000000000002 380.3H174.8M173.20000000000002 377.6H174.8M173.20000000000002 375.5H174.8M173.20000000000002 373.8H174.8M173.20000000000002 372.4H174.8M173.20000000000002 371.2H174.8M173.20000000000002 370.1H174.8M171.60000000000002 369.1H174.8M173.20000000000002 362.7H174.8M173.20000000000002 358.9H174.8M173.20000000000002 356.2H174.8M173.20000000000002 354.1H174.8M173.20000000000002 352.4H174.8M173.20000000000002 351.0H174.8M173.20000000000002 349.8H174.8M173.20000000000002 348.7H174.8M171.60000000000002 347.7H174.8M173.20000000000002 341.3H174.8M173.20000000000002 337.5H174.8M173.20000000000002 334.8H174.8M173.20000000000002 332.7H174.8M173.20000000000002 331.0H174.8M173.20000000000002 329.6H174.8M173.20000000000002 328.4H174.8M173.20000000000002 327.3H174.8M171.60000000000002 326.3H174.8M175.5 454.7V457.9M195.5 454.7V457.9M217.0 454.7V457.9M238.5 454.7V457.9M260.0 454.7V457.9M281.5 454.7V457.9M303.0 454.7V457.9M181.5 454.7V456.3M185.0 454.7V456.3M187.5 454.7V456.3M189.5 454.7V456.3M191.1 454.7V456.3M192.4 454.7V456.3M193.6 454.7V456.3M194.6 454.7V456.3M202.0 454.7V456.3M205.8 454.7V456.3M208.4 454.7V456.3M210.5 454.7V456.3M212.2 454.7V456.3M213.7 454.7V456.3M214.9 454.7V456.3M216.0 454.7V456.3M223.5 454.7V456.3M227.3 454.7V456.3M229.9 454.7V456.3M232.0 454.7V456.3M233.7 454.7V456.3M235.2 454.7V456.3M236.4 454.7V456.3M237.5 454.7V456.3M245.0 454.7V456.3M248.8 454.7V456.3M251.4 454.7V456.3M253.5 454.7V456.3M255.2 454.7V456.3M256.7 454.7V456.3M257.9 454.7V456.3M259.0 454.7V456.3M266.5 454.7V456.3M270.3 454.7V456.3M272.9 454.7V456.3M275.0 454.7V456.3M276.7 454.7V456.3M278.2 454.7V456.3M279.4 454.7V456.3M280.5 454.7V456.3M288.0 454.7V456.3M291.8 454.7V456.3M294.4 454.7V456.3M296.5 454.7V456.3M298.2 454.7V456.3M299.7 454.7V456.3M300.9 454.7V456.3M302.0 454.7V456.3" stroke="#505050" stroke-width="0.8" fill="none"/>
<path d="M252.1 363.6h0.75M244.6 364.2h0.75M212.1 363.4h0.75M216.7 358.6h0.75M251.4 368.4h0.75M206.0 366.9h0.75M242.4 357.4h0.75M228.7 361.9h0.75M231.2 359.2h0.75M200.9 360.6h0.75M243.2 363.4h0.75M238.2 364.5h0.75M205.8 360.3h0.75M230.4 364.2h0.75M225.8 362.4h0.75M225.3 368.2h0.75M186.2 360.4h0.75M282.8 361.4h0.75M192.0 361.0h0.75M198.5 358.0h0.75M227.5 366.8h0.75M233.4 362.9h0.75M247.0 361.2h0.75M208.0 360.1h0.75M230.3 359.5h0.75M211.1 359.2h0.75M197.4 356.8h0.75M220.5 359.2h0.75M222.9 365.6h0.75M229.4 360.4h0.75M202.8 356.6h0.75M231.2 357.3h0.75M232.5 356.6h0.75M225.3 360.2h0.75M246.5 359.1h0.75M215.9 361.4h0.75M223.3 366.7h0.75M217.8 358.5h0.75M216.8 362.2h0.75M227.7 363.0h0.75M199.4 369.6h0.75M267.2 360.4h0.75M202.2 361.1h0.75M232.2 352.3h0.75M222.3 355.1h0.75M233.2 365.6h0.75M247.4 355.0h0.75M255.9 363.8h0.75M216.1 362.3h0.75M259.2 359.3h0.75M221.7 358.5h0.75M250.4 352.6h0.75M256.8 357.0h0.75M244.7 354.6h0.75M206.7 358.3h0.75M242.3 354.6h0.75M236.8 358.2h0.75M252.5 359.4h0.75M233.9 359.9h0.75M266.0 359.2h0.75M221.6 367.8h0.75M223.9 363.0h0.75M209.9 361.2h0.75M184.9 360.9h0.75M211.4 355.0h0.75M198.8 364.7h0.75M232.5 355.0h0.75M266.5 358.0h0.75M216.0 361.4h0.75M203.4 354.6h0.75M209.8 364.8h0.75M245.4 354.7h0.75M251.5 360.6h0.75M234.3 360.7h0.75M232.1 356.8h0.75M207.1 357.9h0.75M216.0 362.8h0.75M202.1 366.3h0.75M211.7 358.3h0.75M239.3 362.1h0.75M216.5 356.6h0.75M205.6 354.7h0.75M250.1 364.5h0.75M267.8 362.3h0.75M230.2 363.3h0.75M245.3 359.6h0.75M230.6 368.4h0.75M194.3 355.4h0.75M206.2 363.3h0.75M251.2 359.3h0.75M238.5 360.3h0.75M229.4 358.5h0.75M221.6 360.5h0.75M249.8 368.7h0.75M192.3 362.4h0.75M221.9 364.0h0.75M248.1 363.4h0.75M241.9 357.0h0.75M194.1 366.6h0.75M251.7 357.0h0.75M253.7 362.9h0.75M181.8 363.8h0.75M205.8 364.8h0.75M210.8 357.8h0.75M196.7 359.7h0.75M247.0 358.0h0.75M191.5 368.3h0.75M267.3 363.0h0.75M213.2 356.1h0.75M195.2 362.5h0.75M253.9 356.6h0.75M222.0 359.5h0.75M217.8 362.3h0.75M273.4 358.2h0.75M242.9 364.5h0.75M217.3 360.0h0.75M200.0 364.4h0.75M213.3 358.1h0.75M223.7 357.4h0.75M204.9 359.4h0.75M258.5 359.7h0.75M235.0 355.1h0.75M190.1 367.2h0.75M215.5 354.9h0.75M220.3 362.7h0.75M193.7 357.3h0.75M228.4 357.1h0.75M241.6 364.0h0.75M232.9 358.9h0.75M221.2 358.2h0.75M219.9 361.7h0.75M217.1 364.1h0.75M285.8 358.5h0.75M230.4 363.5h0.75M237.9 359.6h0.75M214.1 364.2h0.75M237.4 362.4h0.75M208.8 362.8h0.75M241.6 359.8h0.75M237.9 368.5h0.75M191.2 362.7h0.75M202.8 355.5h0.75M218.1 362.5h0.75M223.3 356.2h0.75M198.4 358.5h0.75M222.3 357.5h0.75M197.3 366.9h0.75M208.2 359.9h0.75M213.0 358.3h0.75M223.0 359.4h0.75M237.3 356.1h0.75M197.6 367.7h0.75M220.8 363.3h0.75M251.1 362.5h0.75M222.9 354.8h0.75M195.7 364.1h0.75M238.7 362.6h0.75M194.7 352.7h0.75M204.6 356.2h0.75M225.9 356.7h0.75M261.1 358.2h0.75M212.7 363.7h0.75M230.1 357.2h0.75M242.3 367.6h0.75M201.8 359.6h0.75M204.2 353.3h0.75M237.5 363.1h0.75M246.1 362.1h0.75M188.8 360.4h0.75M211.0 356.2h0.75M203.7 363.3h0.75M217.1 367.8h0.75M233.7 353.5h0.75M244.1 365.1h0.75M222.8 356.0h0.75M265.8 355.7h0.75M220.6 353.5h0.75M201.3 354.2h0.75M249.0 364.9h0.75M215.3 355.5h0.75M221.0 361.9h0.75M196.8 356.2h0.75M220.3 363.1h0.75M223.9 362.2h0.75M201.3 351.3h0.75M229.7 357.1h0.75M219.9 359.1h0.75M233.9 357.6h0.75M257.9 360.6h0.75M235.2 362.8h0.75M247.8 362.0h0.75M193.0 358.2h0.75M268.3 362.3h0.75M236.0 362.2h0.75M211.4 358.0h0.75M211.3 364.8h0.75M231.1 367.1h0.75M234.4 367.5h0.75M233.4 356.1h0.75M265.4 361.8h0.75M251.7 361.3h0.75M216.6 361.1h0.75M203.3 356.1h0.75M207.2 358.5h0.75M199.4 360.1h0.75M229.6 368.1h0.75M268.0 360.3h0.75M244.1 359.7h0.75M231.8 360.4h0.75M213.0 360.8h0.75M197.3 362.1h0.75M217.2 356.5h0.75M216.0 362.6h0.75M210.6 362.3h0.75M236.3 366.3h0.75M203.8 360.1h0.75M234.8 366.1h0.75M228.6 363.3h0.75M197.4 358.3h0.75M263.7 359.4h0.75M276.3 357.8h0.75M217.3 354.5h0.75M238.0 361.5h0.75M272.7 361.1h0.75M217.8 355.2h0.75M220.6 364.0h0.75M240.6 365.1h0.75M243.8 360.3h0.75M237.2 361.1h0.75M199.6 366.9h0.75M231.4 356.6h0.75M231.7 361.6h0.75M247.1 365.9h0.75M260.6 356.9h0.75M190.8 361.5h0.75M230.5 361.8h0.75M203.3 358.7h0.75M226.9 363.3h0.75M277.3 361.6h0.75M211.9 351.6h0.75M249.1 360.0h0.75M220.2 356.8h0.75M240.5 353.8h0.75M224.7 361.0h0.75M229.6 365.4h0.75M220.3 360.9h0.75M243.7 354.7h0.75M217.1 360.8h0.75M246.2 357.5h0.75M242.3 361.9h0.75M196.9 354.9h0.75M197.8 361.0h0.75M227.2 363.2h0.75M242.8 358.4h0.75M249.1 363.6h0.75M233.9 362.3h0.75M200.3 361.9h0.75M204.6 356.0h0.75M216.1 361.0h0.75M221.1 359.3h0.75M205.1 361.2h0.75M209.5 355.2h0.75M224.4 366.0h0.75M215.2 356.5h0.75M257.1 367.0h0.75M217.0 359.7h0.75M227.4 371.7h0.75M225.4 364.3h0.75M233.3 353.6h0.75M203.4 355.8h0.75M233.0 360.9h0.75M267.4 359.5h0.75M229.8 360.8h0.75M225.5 369.3h0.75M229.2 366.1h0.75M255.0 358.2h0.75M239.4 359.1h0.75M224.8 361.1h0.75M222.5 358.7h0.75M261.6 359.5h0.75M239.9 366.9h0.75M237.9 364.4h0.75M257.3 364.6h0.75M265.7 355.1h0.75M271.8 360.6h0.75M192.4 358.1h0.75M198.4 360.4h0.75M196.7 356.7h0.75M229.5 361.1h0.75M208.5 359.6h0.75M220.3 360.8h0.75M221.9 359.7h0.75M244.4 354.4h0.75M213.6 361.0h0.75M215.2 358.4h0.75M214.6 361.3h0.75M253.7 359.8h0.75M217.5 361.9h0.75M217.9 353.2h0.75M228.8 359.1h0.75M212.3 362.9h0.75M223.1 358.4h0.75M185.0 354.0h0.75M222.4 360.1h0.75M233.2 361.3h0.75M213.9 355.7h0.75M203.4 360.0h0.75M202.5 363.4h0.75M199.5 353.7h0.75M218.7 353.8h0.75M263.5 356.7h0.75M221.1 359.6h0.75M208.1 353.8h0.75M190.4 363.8h0.75M248.0 368.7h0.75M197.1 362.6h0.75M221.8 363.7h0.75M213.3 363.2h0.75M244.8 362.8h0.75M258.9 359.8h0.75M261.4 357.8h0.75M264.5 350.1h0.75M222.3 357.5h0.75M222.0 364.4h0.75M240.3 360.9h0.75M265.4 354.9h0.75M208.2 366.2h0.75M230.4 352.6h0.75M230.7 356.0h0.75M259.7 364.8h0.75M212.7 365.4h0.75M207.8 364.0h0.75M236.8 360.0h0.75M197.8 359.4h0.75M183.1 358.4h0.75M190.5 365.1h0.75M205.6 351.3h0.75M236.9 361.9h0.75M213.4 368.5h0.75M241.7 360.8h0.75M211.0 349.3h0.75M234.2 364.1h0.75M211.9 355.1h0.75M221.3 354.1h0.75M222.2 363.4h0.75M260.5 361.5h0.75M227.0 363.3h0.75M257.7 359.3h0.75M201.1 357.5h0.75M200.6 357.1h0.75M219.9 361.8h0.75M226.0 360.8h0.75M215.9 362.1h0.75M244.6 363.4h0.75M260.2 359.4h0.75M217.7 366.9h0.75M227.1 362.1h0.75M216.3 364.2h0.75M215.2 356.7h0.75M221.0 358.8h0.75M243.3 359.1h0.75M225.1 359.7h0.75M230.7 358.1h0.75M250.2 355.1h0.75M215.4 357.8h0.75M238.5 360.7h0.75M234.4 359.2h0.75M209.8 356.2h0.75M216.3 358.5h0.75M229.1 361.8h0.75M246.9 360.1h0.75M209.3 356.5h0.75M223.6 361.9h0.75M271.7 361.2h0.75M266.8 367.6h0.75M204.2 365.1h0.75M251.0 365.6h0.75M221.8 364.1h0.75M213.8 360.2h0.75M222.5 367.3h0.75M218.3 364.1h0.75M223.7 357.8h0.75M228.2 363.0h0.75M209.9 362.9h0.75M209.9 357.2h0.75M227.6 359.6h0.75M205.3 354.3h0.75M222.6 361.4h0.75M214.2 361.2h0.75M196.0 362.0h0.75M232.6 361.6h0.75M211.6 360.8h0.75M225.3 364.6h0.75M229.0 361.5h0.75M209.7 363.8h0.75M251.9 358.6h0.75M238.3 361.7h0.75M221.2 355.6h0.75M266.8 353.4h0.75M229.7 359.1h0.75M251.2 358.9h0.75M223.0 362.8h0.75M233.6 358.5h0.75M239.4 362.0h0.75M247.2 358.6h0.75M221.2 359.0h0.75M207.8 361.5h0.75M232.4 365.9h0.75M216.5 362.0h0.75M251.1 360.1h0.75M223.6 361.0h0.75M210.3 356.8h0.75M250.4 361.2h0.75M220.7 355.8h0.75M225.0 364.9h0.75M202.5 357.1h0.75M250.2 365.9h0.75M261.5 358.4h0.75M237.2 357.7h0.75M235.2 359.1h0.75M227.0 365.6h0.75M230.6 359.6h0.75M223.4 361.5h0.75M213.3 361.3h0.75M237.2 366.4h0.75M187.1 356.0h0.75M201.1 363.8h0.75M283.9 361.2h0.75M225.1 364.8h0.75M180.7 359.8h0.75M213.4 358.7h0.75M230.6 358.3h0.75M250.2 360.5h0.75M231.7 370.1h0.75M214.4 364.0h0.75M208.0 365.2h0.75M246.4 361.0h0.75M247.1 366.6h0.75M256.9 360.5h0.75M221.1 364.7h0.75M197.2 358.2h0.75M234.3 362.6h0.75M269.1 367.1h0.75M230.2 362.2h0.75M199.8 359.8h0.75M228.6 359.6h0.75M223.5 362.8h0.75M206.0 358.4h0.75M192.1 364.8h0.75M204.2 354.1h0.75M241.4 359.7h0.75M246.4 359.1h0.75M275.6 363.2h0.75M225.8 360.9h0.75M218.5 363.5h0.75M272.4 358.9h0.75M203.7 362.7h0.75M248.9 354.9h0.75M210.4 356.8h0.75M236.2 362.4h0.75M209.7 356.3h0.75M239.2 352.8h0.75M238.2 359.9h0.75M270.3 364.2h0.75M212.3 359.5h0.75M217.4 357.8h0.75M224.1 364.1h0.75M196.7 359.6h0.75M259.5 363.3h0.75M208.4 357.5h0.75M207.7 354.5h0.75M250.9 360.8h0.75M210.3 355.1h0.75M215.6 358.6h0.75M265.2 358.8h0.75M224.9 364.5h0.75M238.8 359.8h0.75M185.5 365.7h0.75M237.0 358.9h0.75M220.5 356.9h0.75M207.0 355.0h0.75M234.6 362.4h0.75M226.4 363.4h0.75M235.4 361.0h0.75M207.2 362.7h0.75M251.8 362.9h0.75M253.3 358.7h0.75M205.6 365.2h0.75M212.3 361.4h0.75M218.8 360.6h0.75M217.5 358.5h0.75M192.2 367.6h0.75M227.1 353.3h0.75M206.9 356.3h0.75M209.6 351.0h0.75M236.4 366.6h0.75M217.9 363.3h0.75M237.0 355.9h0.75M252.5 354.2h0.75M212.4 359.2h0.75M253.4 360.9h0.75M219.9 357.5h0.75M224.3 360.7h0.75M240.3 365.7h0.75M240.4 360.6h0.75M219.5 366.5h0.75M227.0 360.4h0.75M266.9 366.3h0.75M236.2 360.1h0.75M211.4 364.5h0.75M214.5 364.1h0.75M209.0 360.9h0.75M232.0 361.0h0.75M227.8 361.9h0.75M203.3 356.4h0.75M219.6 367.2h0.75M219.9 357.1h0.75M211.0 360.6h0.75" stroke="#000" stroke-width="0.75" fill="none" opacity="1"/>
<path d="M236.8 359.0h0.75M231.7 363.7h0.75M224.0 356.7h0.75M225.7 358.0h0.75M231.5 351.7h0.75M236.4 367.2h0.75M231.8 371.7h0.75M232.0 352.0h0.75M227.4 365.3h0.75M221.3 355.5h0.75M230.6 365.6h0.75M223.5 361.0h0.75M222.8 359.0h0.75M226.5 369.1h0.75M213.6 360.4h0.75M240.4 364.5h0.75M228.3 367.6h0.75M218.7 355.1h0.75M213.2 353.5h0.75M229.1 367.7h0.75M223.5 358.3h0.75M230.3 366.3h0.75M229.1 350.8h0.75M222.5 346.9h0.75M229.0 357.3h0.75M221.6 371.7h0.75M237.9 365.5h0.75M229.3 363.6h0.75M222.2 362.2h0.75M242.8 357.1h0.75M221.5 363.5h0.75M234.4 367.6h0.75M219.0 361.7h0.75M224.8 354.9h0.75M227.6 359.6h0.75M234.6 365.2h0.75M220.5 363.0h0.75M224.1 358.6h0.75M223.0 369.0h0.75M223.6 352.0h0.75M220.6 367.4h0.75M244.8 356.0h0.75M224.1 360.5h0.75M215.4 365.0h0.75M226.6 364.2h0.75M245.5 360.9h0.75M233.6 367.6h0.75M221.7 358.9h0.75M239.9 366.9h0.75M228.2 355.8h0.75M234.3 365.7h0.75M245.2 371.5h0.75M233.6 364.1h0.75M227.5 359.1h0.75M229.6 364.0h0.75M232.4 369.2h0.75M229.6 359.2h0.75M233.7 372.0h0.75M220.1 365.1h0.75M231.5 365.8h0.75M231.2 361.9h0.75M226.2 372.8h0.75M241.3 353.9h0.75M206.0 365.2h0.75M221.4 359.3h0.75M213.8 364.7h0.75M226.6 359.2h0.75M234.4 377.4h0.75M239.2 369.7h0.75M223.6 366.5h0.75M226.7 369.6h0.75M231.8 362.3h0.75M231.6 358.1h0.75M233.5 371.7h0.75M224.0 365.9h0.75M213.2 368.2h0.75M234.3 356.3h0.75M241.4 363.2h0.75M212.7 354.1h0.75M234.2 360.8h0.75M236.1 353.0h0.75M226.2 368.5h0.75M221.4 366.7h0.75M224.0 364.6h0.75M229.7 376.2h0.75M216.8 367.3h0.75M237.8 355.6h0.75M227.7 376.6h0.75M235.7 344.3h0.75M225.0 352.0h0.75M229.5 358.1h0.75M222.4 357.4h0.75M229.4 359.6h0.75M219.5 361.1h0.75M230.4 357.3h0.75M236.2 352.3h0.75M230.4 360.1h0.75M240.0 358.6h0.75M221.5 354.3h0.75M243.4 366.3h0.75M218.0 360.4h0.75M219.1 371.8h0.75M230.5 350.0h0.75M228.7 368.1h0.75M227.0 365.4h0.75M226.1 363.8h0.75M228.8 358.2h0.75M229.9 363.5h0.75M226.7 358.3h0.75M218.6 364.0h0.75M233.8 347.7h0.75M222.6 370.8h0.75M234.6 358.1h0.75M238.2 356.5h0.75M220.5 374.4h0.75M223.4 361.2h0.75M213.4 356.3h0.75M217.3 361.7h0.75M211.8 369.0h0.75M224.1 358.8h0.75M221.8 367.1h0.75M239.7 360.0h0.75M240.3 372.4h0.75M238.1 364.3h0.75M214.7 366.6h0.75M223.6 363.7h0.75M211.4 360.8h0.75M228.9 356.8h0.75M229.4 372.8h0.75M228.9 358.3h0.75M246.7 349.3h0.75M219.4 365.0h0.75M222.1 348.4h0.75M229.2 367.6h0.75M220.4 371.5h0.75M231.1 369.8h0.75M214.4 362.5h0.75M240.2 374.9h0.75M237.9 362.5h0.75M228.5 358.7h0.75M236.1 358.2h0.75M228.0 349.8h0.75M214.5 373.4h0.75M227.5 363.8h0.75M208.8 362.3h0.75M244.2 353.3h0.75M207.3 361.5h0.75M222.6 361.2h0.75M216.6 354.2h0.75M216.8 366.4h0.75M226.6 367.6h0.75M218.1 366.1h0.75M223.3 363.0h0.75M234.7 362.7h0.75M224.1 352.3h0.75M227.5 367.3h0.75M221.7 362.1h0.75M212.3 354.3h0.75M230.4 370.5h0.75M224.4 352.2h0.75M223.8 352.9h0.75M224.7 374.4h0.75M229.5 361.6h0.75M235.6 360.2h0.75M229.8 363.7h0.75M230.7 353.4h0.75M232.9 367.9h0.75M208.0 345.7h0.75M219.5 371.7h0.75M227.2 366.7h0.75M231.6 368.0h0.75M221.7 358.9h0.75M230.1 366.3h0.75M231.8 364.6h0.75M223.0 369.3h0.75M230.9 369.1h0.75M205.8 368.8h0.75M206.6 363.8h0.75M221.4 363.2h0.75M223.0 360.6h0.75M228.6 364.6h0.75M220.3 346.8h0.75M220.5 365.9h0.75M219.9 365.2h0.75M223.9 356.6h0.75M236.8 372.8h0.75M226.1 362.2h0.75M235.0 354.3h0.75M219.7 369.5h0.75M234.6 359.4h0.75M220.5 364.7h0.75M215.2 359.4h0.75M225.1 347.2h0.75M232.0 367.3h0.75M236.0 353.5h0.75M216.2 357.4h0.75M216.0 375.3h0.75M218.8 360.5h0.75M228.7 365.3h0.75M239.2 355.7h0.75M234.4 363.4h0.75M217.1 363.4h0.75M215.2 372.6h0.75M220.9 368.8h0.75M238.0 358.6h0.75M219.4 363.3h0.75M218.2 368.1h0.75M228.5 357.7h0.75M221.2 367.0h0.75M214.8 373.1h0.75M220.4 361.3h0.75M219.2 372.7h0.75M234.0 370.6h0.75M232.5 363.1h0.75M241.3 366.7h0.75M230.7 366.1h0.75M233.2 364.2h0.75M225.6 352.5h0.75M244.4 354.3h0.75M208.8 358.0h0.75M243.4 370.2h0.75M221.9 364.2h0.75M226.8 350.0h0.75M224.2 364.3h0.75M236.9 354.9h0.75M207.9 352.6h0.75M229.8 363.0h0.75M228.3 363.4h0.75M223.9 353.9h0.75M230.8 364.9h0.75M231.9 370.3h0.75M216.5 347.8h0.75M211.9 375.9h0.75M219.2 365.0h0.75M226.9 367.1h0.75M254.3 359.2h0.75M225.6 358.7h0.75M229.1 365.8h0.75M218.8 370.8h0.75M236.7 365.3h0.75M226.1 361.0h0.75M213.0 366.6h0.75M218.7 359.3h0.75M235.5 356.7h0.75M222.6 367.9h0.75M242.8 358.2h0.75M236.4 358.4h0.75M230.3 365.5h0.75M217.3 369.0h0.75M242.3 362.8h0.75M229.3 355.1h0.75M242.2 362.9h0.75M216.2 367.3h0.75M214.6 358.2h0.75M208.9 371.2h0.75M245.8 358.5h0.75M221.4 358.9h0.75M222.2 366.0h0.75M239.4 356.2h0.75M230.7 351.1h0.75M240.0 361.9h0.75M221.0 372.1h0.75M226.1 371.1h0.75M236.1 372.9h0.75M220.2 362.9h0.75M230.1 361.3h0.75M239.9 358.0h0.75M235.5 371.1h0.75M210.4 356.4h0.75M219.3 359.1h0.75M230.3 361.4h0.75M227.7 359.6h0.75M226.3 365.6h0.75M233.3 357.6h0.75M226.0 357.7h0.75M225.5 353.5h0.75M235.1 366.7h0.75M226.0 358.2h0.75M223.1 358.3h0.75M213.9 372.8h0.75M255.0 354.8h0.75M217.1 366.1h0.75M232.1 352.6h0.75M210.7 365.9h0.75M210.1 371.5h0.75M222.8 363.0h0.75M227.0 359.0h0.75M225.8 360.6h0.75M237.6 361.9h0.75M226.7 359.2h0.75M221.6 357.9h0.75M227.1 374.1h0.75M236.5 364.0h0.75M241.2 368.9h0.75M228.8 361.5h0.75M217.7 364.1h0.75M224.3 352.5h0.75M216.1 374.7h0.75M228.8 365.6h0.75M228.7 359.6h0.75M230.9 369.3h0.75M224.4 365.7h0.75M235.7 359.5h0.75M228.4 357.8h0.75M232.1 360.2h0.75M236.7 357.7h0.75M241.4 360.5h0.75M219.9 356.8h0.75M232.6 357.1h0.75M242.3 370.6h0.75M231.4 353.5h0.75M226.8 357.9h0.75M211.6 365.2h0.75M245.7 359.1h0.75M233.9 370.6h0.75M218.8 360.4h0.75M229.3 365.5h0.75M217.3 363.9h0.75M226.1 368.5h0.75M213.4 358.9h0.75M222.7 360.5h0.75M233.1 358.5h0.75M250.3 358.0h0.75M234.1 368.9h0.75M235.2 361.2h0.75M219.9 360.9h0.75M232.7 363.3h0.75M231.9 366.1h0.75M219.5 356.6h0.75M239.3 359.4h0.75M213.5 374.2h0.75M219.9 356.6h0.75M235.2 355.4h0.75M219.6 369.1h0.75M220.0 378.3h0.75M227.8 379.4h0.75M228.1 362.8h0.75M221.5 361.1h0.75M222.7 362.4h0.75M233.6 354.5h0.75M219.2 349.3h0.75M239.8 362.0h0.75M226.9 362.1h0.75M235.5 364.5h0.75M234.2 361.4h0.75M226.0 362.1h0.75M211.2 369.4h0.75M213.6 356.2h0.75M232.7 362.8h0.75M233.9 373.2h0.75M242.8 371.2h0.75M225.1 375.4h0.75M219.5 362.0h0.75M235.5 361.2h0.75M226.0 360.3h0.75M238.6 347.0h0.75M237.8 369.2h0.75M226.4 366.0h0.75M218.8 369.5h0.75M253.0 356.7h0.75M238.9 362.1h0.75M224.1 359.4h0.75M225.4 354.6h0.75M215.5 373.0h0.75M226.9 366.0h0.75M229.6 365.5h0.75M214.0 356.5h0.75M232.4 368.8h0.75M217.3 358.9h0.75M217.9 366.6h0.75M229.9 362.7h0.75M221.5 364.7h0.75M227.3 357.8h0.75M229.8 358.3h0.75M235.1 366.4h0.75M221.2 366.2h0.75M227.6 358.1h0.75M219.2 352.0h0.75M217.4 364.7h0.75M237.3 358.5h0.75M228.4 364.7h0.75M233.6 365.3h0.75M237.4 367.3h0.75M220.5 365.0h0.75M207.1 361.4h0.75M227.2 366.2h0.75M224.4 367.7h0.75M238.2 357.2h0.75M222.4 364.1h0.75M231.2 363.4h0.75M234.1 355.1h0.75M233.6 369.8h0.75M236.4 365.2h0.75M225.0 365.0h0.75M226.4 352.5h0.75M221.9 362.2h0.75M222.6 356.6h0.75M225.0 360.2h0.75M227.6 362.2h0.75M228.5 368.8h0.75M228.2 365.1h0.75M216.6 343.9h0.75M223.6 366.8h0.75M224.1 358.6h0.75M216.5 368.1h0.75M222.5 364.0h0.75M236.6 365.9h0.75M246.1 361.7h0.75M235.1 366.9h0.75M221.4 362.8h0.75M222.2 356.0h0.75M229.5 357.6h0.75M241.3 357.8h0.75M222.4 363.1h0.75M222.6 362.8h0.75M221.8 353.5h0.75M206.5 354.4h0.75M239.9 365.3h0.75M228.3 359.6h0.75M225.8 364.4h0.75M215.2 357.5h0.75M219.4 370.4h0.75M218.0 369.9h0.75M223.0 379.7h0.75M226.3 362.7h0.75M238.5 368.0h0.75M235.0 355.8h0.75M236.7 373.1h0.75M226.1 359.5h0.75M217.7 368.9h0.75M229.5 362.5h0.75M216.5 372.7h0.75M234.4 362.4h0.75M239.5 356.5h0.75M234.5 356.2h0.75M239.0 360.8h0.75M237.4 359.9h0.75M230.4 369.7h0.75M219.3 363.1h0.75M219.9 367.9h0.75M221.9 360.2h0.75M225.3 369.8h0.75M218.1 362.3h0.75M224.2 359.0h0.75M220.3 361.5h0.75M228.7 352.8h0.75M229.0 355.0h0.75M227.1 376.9h0.75M218.8 362.1h0.75M224.8 368.7h0.75M223.0 351.3h0.75M213.3 363.6h0.75M229.2 369.2h0.75M222.4 366.7h0.75M218.0 370.7h0.75M226.4 358.2h0.75M228.5 373.5h0.75M219.8 354.7h0.75M218.4 355.2h0.75M226.6 364.7h0.75M225.6 363.7h0.75M237.1 360.7h0.75M216.4 348.1h0.75M229.1 358.2h0.75M224.9 365.1h0.75M230.9 352.6h0.75M218.9 363.0h0.75M225.8 369.7h0.75M222.7 349.5h0.75M236.9 352.2h0.75M218.8 365.0h0.75M218.0 378.2h0.75M229.0 365.9h0.75M223.3 376.5h0.75M231.6 358.0h0.75M237.7 351.9h0.75M222.0 364.3h0.75M228.2 356.5h0.75M240.4 371.8h0.75M219.1 364.9h0.75M221.6 359.8h0.75M235.4 363.3h0.75M226.1 363.1h0.75M217.0 370.2h0.75M220.6 370.7h0.75M223.1 359.6h0.75M239.6 363.7h0.75M221.6 359.1h0.75M232.1 374.3h0.75M232.2 360.0h0.75M217.5 358.3h0.75M226.0 364.0h0.75M221.4 370.6h0.75M218.9 358.0h0.75M231.2 365.5h0.75M223.7 368.6h0.75M215.0 372.8h0.75M245.6 374.8h0.75M228.0 374.9h0.75M227.5 370.9h0.75M225.3 363.7h0.75M231.5 351.5h0.75M225.2 373.3h0.75M202.2 364.9h0.75M234.8 364.6h0.75M228.7 371.2h0.75M229.9 350.6h0.75M219.0 360.6h0.75M228.2 359.7h0.75M226.1 373.0h0.75M202.1 369.8h0.75M235.0 366.3h0.75M227.1 362.9h0.75M230.1 364.0h0.75M220.9 367.4h0.75M220.0 362.2h0.75M224.0 355.3h0.75M232.1 362.1h0.75M217.1 362.0h0.75M215.3 371.5h0.75M231.4 375.0h0.75M222.2 366.9h0.75M218.8 357.1h0.75M226.2 365.1h0.75M234.8 360.8h0.75M236.4 368.6h0.75M219.6 361.4h0.75M219.2 373.2h0.75M222.3 368.1h0.75M234.7 360.9h0.75M222.9 364.7h0.75M220.4 354.6h0.75M218.8 364.6h0.75M228.6 373.6h0.75M211.5 365.7h0.75M217.2 369.7h0.75M232.9 363.3h0.75M239.5 360.2h0.75M222.5 355.9h0.75M221.4 363.2h0.75M232.7 370.5h0.75M224.7 357.9h0.75M224.2 359.8h0.75M223.0 360.0h0.75M219.6 362.2h0.75M222.7 361.4h0.75M215.3 363.4h0.75M231.8 366.6h0.75M222.4 355.4h0.75M216.0 355.2h0.75M221.6 360.6h0.75M212.0 366.7h0.75M214.0 358.2h0.75M220.9 367.7h0.75M242.5 360.3h0.75M224.7 360.1h0.75M225.3 361.4h0.75M247.8 355.7h0.75M226.1 357.6h0.75M230.0 359.3h0.75M231.8 355.8h0.75M244.8 363.8h0.75M212.1 366.9h0.75M223.0 355.3h0.75M230.7 359.3h0.75M233.2 359.1h0.75M234.6 363.4h0.75M230.0 363.5h0.75M223.9 360.3h0.75M230.8 366.9h0.75M223.6 376.4h0.75M241.2 355.4h0.75M236.1 362.1h0.75M229.0 357.6h0.75M240.9 357.4h0.75M226.3 358.0h0.75M243.2 370.3h0.75M215.9 359.7h0.75M230.1 359.8h0.75M224.0 355.8h0.75M229.1 355.7h0.75M234.0 377.4h0.75M224.3 372.7h0.75M230.1 358.4h0.75M224.1 356.5h0.75M228.0 366.9h0.75M234.8 360.8h0.75M217.0 362.0h0.75M241.0 364.3h0.75M226.5 349.6h0.75M223.4 365.9h0.75M219.1 370.9h0.75M222.3 357.1h0.75M222.1 361.9h0.75M235.4 359.0h0.75M212.1 362.0h0.75M231.4 372.1h0.75M217.6 371.7h0.75M232.7 365.3h0.75M220.6 357.1h0.75M219.0 368.3h0.75M228.8 369.1h0.75M242.2 362.6h0.75M226.6 374.4h0.75M216.1 359.7h0.75M223.9 360.2h0.75M228.2 357.3h0.75M236.7 354.1h0.75M220.2 352.1h0.75M215.3 366.2h0.75M232.3 361.3h0.75M234.1 366.3h0.75M222.2 362.3h0.75M230.1 374.9h0.75M223.3 364.8h0.75M231.6 370.0h0.75M230.6 369.1h0.75M218.1 360.9h0.75M210.8 362.2h0.75M246.5 364.0h0.75M227.7 364.2h0.75M228.2 354.4h0.75M221.2 361.5h0.75M228.4 357.2h0.75M226.1 358.0h0.75M216.0 358.5h0.75M220.3 367.7h0.75M238.2 366.1h0.75M225.2 359.1h0.75M213.9 359.3h0.75M240.1 369.6h0.75M228.9 361.0h0.75M227.0 365.1h0.75M226.9 365.2h0.75M220.6 362.8h0.75M224.1 369.2h0.75M216.6 370.5h0.75M226.3 359.4h0.75M227.2 363.3h0.75M225.1 365.1h0.75M222.2 352.1h0.75M232.8 362.4h0.75M240.9 364.9h0.75M210.3 370.2h0.75M221.3 365.9h0.75M245.5 369.3h0.75M217.9 362.0h0.75M213.6 366.7h0.75M231.7 356.2h0.75M230.8 368.3h0.75M233.7 358.4h0.75M221.2 355.7h0.75M216.2 364.5h0.75M227.3 370.5h0.75M229.3 360.6h0.75M215.1 372.0h0.75M228.4 362.4h0.75M218.6 356.1h0.75M232.3 356.6h0.75M231.9 366.4h0.75M223.8 352.6h0.75M230.4 371.2h0.75M220.1 354.8h0.75M236.1 363.4h0.75M221.8 370.1h0.75M224.7 365.3h0.75M223.6 358.0h0.75M228.8 357.3h0.75M212.2 359.2h0.75M237.3 369.3h0.75M245.1 368.6h0.75M240.5 364.1h0.75M223.4 365.4h0.75M219.1 367.1h0.75M223.3 364.1h0.75M219.9 361.7h0.75M235.2 361.2h0.75M221.4 364.3h0.75M234.3 361.4h0.75M217.3 353.0h0.75M215.8 369.1h0.75M226.3 365.5h0.75M236.0 364.3h0.75M231.0 359.5h0.75M213.6 366.4h0.75M226.2 366.1h0.75M218.1 361.7h0.75M243.8 357.4h0.75M227.8 370.6h0.75M225.1 363.3h0.75M209.2 367.3h0.75M223.3 370.4h0.75M226.2 360.3h0.75M230.6 361.1h0.75M222.7 372.0h0.75M235.2 363.2h0.75M233.7 367.6h0.75M231.8 362.9h0.75M227.6 365.1h0.75M231.7 364.7h0.75M222.4 362.1h0.75M230.8 356.6h0.75M226.9 367.2h0.75M228.4 360.8h0.75M226.8 359.6h0.75M235.2 360.3h0.75M213.1 355.3h0.75M229.5 363.9h0.75M223.1 354.6h0.75M225.8 357.5h0.75M221.5 362.6h0.75M220.6 364.5h0.75M220.8 359.8h0.75M225.1 371.4h0.75M240.1 368.3h0.75M220.9 362.6h0.75M234.6 367.5h0.75M213.5 362.3h0.75M220.8 367.1h0.75M232.3 359.4h0.75M244.8 360.9h0.75M247.3 361.6h0.75M226.3 374.0h0.75M222.6 359.7h0.75M239.3 362.4h0.75M231.0 355.0h0.75M241.9 368.5h0.75M230.0 366.9h0.75M222.8 359.7h0.75M213.9 364.8h0.75M237.3 367.8h0.75M234.7 366.9h0.75M219.3 354.7h0.75M232.3 363.6h0.75M235.2 360.9h0.75M219.7 365.3h0.75M222.4 352.7h0.75M221.9 357.3h0.75M217.7 359.3h0.75M234.9 376.7h0.75M241.4 360.1h0.75M236.5 362.2h0.75M230.3 358.5h0.75M226.4 352.5h0.75M241.9 358.0h0.75M231.9 359.1h0.75M229.2 355.5h0.75M223.9 368.1h0.75M231.9 350.9h0.75M234.1 354.7h0.75M229.4 365.7h0.75M221.7 360.7h0.75M225.0 365.0h0.75M234.6 370.8h0.75M229.7 374.6h0.75M219.1 373.3h0.75M224.8 367.2h0.75M226.0 363.1h0.75M219.4 364.9h0.75M243.8 363.5h0.75M226.8 362.6h0.75M232.9 361.4h0.75M227.0 363.9h0.75M237.8 368.3h0.75M218.2 358.8h0.75M227.2 367.7h0.75M235.1 361.4h0.75M244.7 361.6h0.75M238.7 371.1h0.75M240.3 363.8h0.75M231.8 353.5h0.75M212.2 359.0h0.75M233.0 369.0h0.75M226.1 368.8h0.75M231.8 371.7h0.75M213.8 357.6h0.75M219.0 356.4h0.75M240.7 357.1h0.75M220.1 360.2h0.75M234.4 359.8h0.75M233.1 365.9h0.75M221.7 348.5h0.75M219.4 355.1h0.75M240.6 358.3h0.75M218.1 364.9h0.75M227.5 357.0h0.75M236.1 368.1h0.75M229.3 358.1h0.75M219.7 350.3h0.75M230.2 364.9h0.75M219.3 362.7h0.75M254.3 355.8h0.75M212.8 366.2h0.75M223.5 359.6h0.75M232.2 361.8h0.75M235.3 365.7h0.75M236.7 363.3h0.75M209.0 370.7h0.75M212.8 368.8h0.75M229.1 354.3h0.75M227.6 367.9h0.75M218.5 362.8h0.75M220.8 356.6h0.75M221.9 370.2h0.75M232.7 362.4h0.75M226.3 363.3h0.75M229.4 363.7h0.75M212.7 368.1h0.75M219.9 347.0h0.75M232.9 355.4h0.75M225.8 362.0h0.75M222.1 365.8h0.75M224.7 360.9h0.75M219.0 360.9h0.75M218.4 362.8h0.75M238.0 368.6h0.75M230.6 354.4h0.75M235.6 368.2h0.75M244.2 349.1h0.75M227.1 360.6h0.75M236.1 356.1h0.75M223.8 376.5h0.75M235.3 350.6h0.75M227.2 370.8h0.75M221.8 366.1h0.75M227.8 353.8h0.75M221.8 369.4h0.75M236.9 359.0h0.75M236.4 358.3h0.75M229.1 362.4h0.75M216.6 364.5h0.75M223.8 346.1h0.75M220.1 357.5h0.75M220.0 356.7h0.75M221.2 347.8h0.75M234.4 363.0h0.75M229.1 361.0h0.75M227.5 361.0h0.75M217.9 353.4h0.75M227.6 368.7h0.75M229.0 372.2h0.75M215.6 361.0h0.75M221.8 370.0h0.75M241.2 359.4h0.75M233.1 361.1h0.75M218.7 361.9h0.75M218.3 371.9h0.75M231.9 369.7h0.75M230.0 347.9h0.75M233.7 363.1h0.75M207.1 363.1h0.75M235.5 372.8h0.75M218.4 367.3h0.75M229.8 361.5h0.75M224.6 365.7h0.75M231.8 366.5h0.75M223.6 354.6h0.75M238.0 370.3h0.75M222.3 362.3h0.75M233.8 351.9h0.75M231.2 377.1h0.75M229.3 358.3h0.75M244.1 362.6h0.75M228.8 360.0h0.75M228.5 351.7h0.75M216.3 353.6h0.75M234.5 362.0h0.75M236.6 350.2h0.75M222.0 371.3h0.75M220.4 351.3h0.75M220.8 360.4h0.75M226.9 370.4h0.75M238.1 371.9h0.75M231.9 359.5h0.75M222.9 353.6h0.75M237.6 370.1h0.75M227.7 357.1h0.75M232.6 365.5h0.75M228.3 355.5h0.75M229.0 359.1h0.75M233.2 366.1h0.75M230.7 359.9h0.75M239.7 367.2h0.75M237.6 367.6h0.75M232.5 364.9h0.75M218.1 351.5h0.75M219.2 366.2h0.75M234.6 363.6h0.75M227.7 373.6h0.75M223.7 351.7h0.75M214.1 360.6h0.75M232.8 367.0h0.75M225.2 367.4h0.75M226.6 358.1h0.75M223.8 367.1h0.75M235.0 355.7h0.75M218.8 363.2h0.75M244.7 355.4h0.75M216.6 365.0h0.75M231.2 358.8h0.75M226.8 365.4h0.75M212.5 362.4h0.75M232.0 368.1h0.75M236.7 362.1h0.75M215.0 370.6h0.75M233.4 358.7h0.75M235.6 368.8h0.75M225.8 348.3h0.75M223.1 357.9h0.75M220.0 362.0h0.75M218.0 364.9h0.75M242.7 355.3h0.75M235.7 359.3h0.75M231.5 361.7h0.75M237.7 358.2h0.75M233.1 357.8h0.75M228.9 362.4h0.75M236.1 353.0h0.75M215.8 370.9h0.75M230.2 372.8h0.75M218.4 363.8h0.75M232.0 373.2h0.75M226.6 359.8h0.75M233.0 361.9h0.75M220.8 367.1h0.75M211.2 356.4h0.75M238.3 359.5h0.75M224.3 364.7h0.75M236.3 365.7h0.75M219.0 359.1h0.75M235.7 361.8h0.75M221.8 367.8h0.75M236.5 375.6h0.75M218.1 358.2h0.75M221.2 364.6h0.75M223.0 369.2h0.75M204.7 368.3h0.75M221.7 360.8h0.75M231.7 363.7h0.75M218.6 371.6h0.75M231.8 359.5h0.75M228.7 355.8h0.75M216.8 360.7h0.75M230.0 363.1h0.75M220.6 354.1h0.75M213.1 372.1h0.75M230.1 357.7h0.75M236.9 365.8h0.75M223.6 358.8h0.75M236.5 364.5h0.75M240.6 364.7h0.75M222.2 358.9h0.75M221.2 364.0h0.75M229.1 366.2h0.75M230.7 356.2h0.75M225.3 356.8h0.75M231.0 354.6h0.75M222.2 357.3h0.75M221.9 360.9h0.75M239.5 361.0h0.75M215.1 360.7h0.75M233.2 365.8h0.75M229.0 374.5h0.75M236.2 363.1h0.75M237.1 354.4h0.75M225.6 357.3h0.75M228.5 372.3h0.75M222.9 372.1h0.75M218.6 371.1h0.75M213.0 357.4h0.75M235.3 361.9h0.75M228.2 362.4h0.75M228.5 361.4h0.75M218.9 360.7h0.75M227.9 357.1h0.75M230.9 373.2h0.75M213.4 359.2h0.75M224.7 362.6h0.75M227.8 358.1h0.75M226.7 362.5h0.75M226.3 371.8h0.75M228.1 353.6h0.75M214.1 366.1h0.75M224.2 358.8h0.75M215.8 360.6h0.75M226.2 358.4h0.75M224.1 367.9h0.75M233.5 365.8h0.75M225.6 354.3h0.75M233.4 371.5h0.75M237.5 369.5h0.75M229.3 364.8h0.75M226.9 370.1h0.75M224.8 375.5h0.75M233.4 360.6h0.75M227.0 352.8h0.75M221.0 360.7h0.75M247.2 357.6h0.75M234.6 363.0h0.75M224.6 366.3h0.75M210.5 368.2h0.75M243.0 364.3h0.75M226.5 363.5h0.75M232.5 359.5h0.75M228.0 365.5h0.75M224.1 364.9h0.75M229.8 366.8h0.75M218.9 359.3h0.75M223.5 369.7h0.75M229.1 352.5h0.75M216.5 374.2h0.75M229.8 354.7h0.75M219.5 363.4h0.75M238.8 372.3h0.75M224.0 360.7h0.75M242.8 356.6h0.75M239.9 364.6h0.75M227.8 370.3h0.75M231.0 357.4h0.75M214.4 362.6h0.75M231.2 370.8h0.75M205.4 370.6h0.75M232.1 371.7h0.75M233.6 363.8h0.75M230.6 364.9h0.75M221.8 361.8h0.75M228.1 359.8h0.75M214.9 353.8h0.75M231.2 365.7h0.75M227.9 355.4h0.75M234.0 360.1h0.75M209.9 372.0h0.75M214.7 376.1h0.75M231.4 359.8h0.75M207.6 358.2h0.75M239.2 370.7h0.75M229.1 352.1h0.75M223.9 360.8h0.75M230.8 361.7h0.75M229.9 352.6h0.75M221.7 371.2h0.75M215.0 368.1h0.75M246.1 366.4h0.75M215.5 370.0h0.75M211.7 364.5h0.75M223.6 370.0h0.75M236.7 363.7h0.75M241.8 368.5h0.75M223.1 356.6h0.75M247.3 360.0h0.75M230.4 361.8h0.75M223.1 352.8h0.75M225.8 361.8h0.75M235.1 359.4h0.75M214.1 356.0h0.75M226.7 364.0h0.75M233.0 360.2h0.75M231.5 363.4h0.75M240.9 362.2h0.75M228.2 365.9h0.75M237.1 356.9h0.75M223.1 360.8h0.75M209.4 370.4h0.75M235.9 362.6h0.75M254.8 370.2h0.75M243.7 372.0h0.75M234.5 353.9h0.75M239.6 365.0h0.75M217.1 362.8h0.75M233.2 368.5h0.75M228.4 359.3h0.75M233.3 357.9h0.75M226.4 367.1h0.75M215.1 364.8h0.75M210.8 356.9h0.75M216.8 362.0h0.75M232.9 362.2h0.75M234.5 363.1h0.75M225.3 365.5h0.75M225.0 363.3h0.75M235.6 359.0h0.75M236.5 355.8h0.75M225.2 352.0h0.75M222.6 372.2h0.75M229.9 370.2h0.75M214.9 356.4h0.75M230.9 367.5h0.75M233.9 352.3h0.75M231.2 362.1h0.75M228.0 365.4h0.75M224.7 352.2h0.75M218.2 353.7h0.75M216.1 361.7h0.75M237.8 358.2h0.75M220.7 355.5h0.75M212.7 362.9h0.75M223.0 361.0h0.75M219.1 365.5h0.75M217.1 365.8h0.75M221.5 367.3h0.75M219.7 365.2h0.75M230.6 362.0h0.75M240.5 363.6h0.75M219.7 366.7h0.75M220.2 359.2h0.75M227.1 363.6h0.75M241.1 351.9h0.75M224.9 369.4h0.75M225.7 364.5h0.75M239.6 355.0h0.75M227.4 367.3h0.75M222.1 351.8h0.75M218.7 363.7h0.75M228.6 373.7h0.75M238.0 353.1h0.75M235.6 368.1h0.75M240.4 361.6h0.75M222.4 363.4h0.75M239.8 366.3h0.75M241.1 367.3h0.75M222.1 356.3h0.75M242.3 353.3h0.75M224.1 360.6h0.75M219.5 359.0h0.75M227.1 377.0h0.75M226.5 359.3h0.75M228.0 368.2h0.75M220.2 360.0h0.75M212.5 366.8h0.75M232.6 371.6h0.75M217.1 375.7h0.75M234.2 360.8h0.75M223.8 360.6h0.75M217.0 367.2h0.75M222.0 358.1h0.75M231.3 363.2h0.75M222.2 361.1h0.75M222.9 370.7h0.75M235.3 358.1h0.75M226.7 370.9h0.75M224.6 373.4h0.75M230.7 366.6h0.75M209.8 367.7h0.75M229.8 366.1h0.75M231.0 365.7h0.75M222.8 368.0h0.75M227.5 356.1h0.75M218.6 363.5h0.75M229.8 349.0h0.75M209.9 368.9h0.75M226.9 379.9h0.75M214.3 361.0h0.75M222.0 365.9h0.75M238.7 372.3h0.75M218.6 370.0h0.75M216.9 364.4h0.75M228.4 366.3h0.75M220.4 370.7h0.75M226.4 362.4h0.75M224.8 356.0h0.75M233.0 364.6h0.75M230.8 373.9h0.75M219.8 360.8h0.75M227.1 367.7h0.75M225.5 368.2h0.75M230.8 351.8h0.75M221.3 350.1h0.75M224.6 360.0h0.75M231.9 363.5h0.75M226.5 370.2h0.75M231.9 355.0h0.75M221.3 364.5h0.75M241.1 361.3h0.75M225.6 364.1h0.75M233.5 362.0h0.75M229.4 359.9h0.75M222.4 357.6h0.75M232.5 359.1h0.75M231.6 365.0h0.75M235.1 346.1h0.75M219.0 355.0h0.75M225.6 367.4h0.75M248.0 371.9h0.75M238.3 364.8h0.75M223.8 365.8h0.75M208.9 368.2h0.75M227.1 366.3h0.75M218.5 355.8h0.75M221.7 362.2h0.75M229.9 360.3h0.75M229.9 366.7h0.75M217.4 361.9h0.75M214.1 359.1h0.75M234.5 358.1h0.75M242.5 365.6h0.75M234.4 363.1h0.75M234.2 369.2h0.75M227.9 359.3h0.75M222.4 374.3h0.75M225.5 359.7h0.75M221.1 352.2h0.75M222.9 364.5h0.75M223.0 357.9h0.75M230.4 365.3h0.75M223.4 364.4h0.75M218.9 367.8h0.75M218.8 360.4h0.75M228.1 359.9h0.75M217.5 375.4h0.75M239.6 351.8h0.75M228.0 354.7h0.75M229.6 354.5h0.75M231.8 365.8h0.75M241.2 369.9h0.75M223.2 368.3h0.75M223.2 361.8h0.75M222.8 351.7h0.75M232.0 350.0h0.75M225.0 365.7h0.75M228.0 352.8h0.75M221.6 366.7h0.75M236.1 372.3h0.75M211.9 365.3h0.75M223.0 367.2h0.75M213.0 361.6h0.75M232.9 358.5h0.75M224.0 356.5h0.75M236.3 354.4h0.75M219.4 360.5h0.75M224.4 375.5h0.75M229.3 357.4h0.75M231.8 364.6h0.75M229.3 362.1h0.75M230.8 355.3h0.75M217.0 359.9h0.75M217.8 366.8h0.75M243.1 370.1h0.75M230.7 364.6h0.75M221.3 354.5h0.75M231.6 353.4h0.75M229.5 361.6h0.75M233.2 362.8h0.75M227.9 358.9h0.75M212.7 360.4h0.75M232.8 368.9h0.75M238.4 356.4h0.75M219.2 366.8h0.75M223.2 378.3h0.75M229.6 353.2h0.75M222.4 372.1h0.75M211.8 363.4h0.75M215.5 372.3h0.75M223.3 356.2h0.75M212.8 358.1h0.75M205.8 359.6h0.75M245.1 363.1h0.75M224.8 355.4h0.75M229.8 359.6h0.75M220.0 371.0h0.75M230.7 357.0h0.75M239.3 362.2h0.75M231.2 363.4h0.75M236.8 366.3h0.75M224.1 366.9h0.75M223.8 363.3h0.75M240.6 356.0h0.75M218.4 360.0h0.75M222.9 370.5h0.75M213.8 376.6h0.75M240.2 359.7h0.75M228.5 360.3h0.75M232.6 366.6h0.75M233.3 367.2h0.75M243.1 361.5h0.75M232.8 361.4h0.75M227.3 363.8h0.75M226.6 364.6h0.75M219.9 361.6h0.75M222.0 355.3h0.75M221.1 359.4h0.75M225.8 352.9h0.75M224.9 355.6h0.75M220.2 363.7h0.75M236.2 364.3h0.75M222.9 359.8h0.75M238.1 352.5h0.75M236.5 353.3h0.75M221.7 362.8h0.75M225.2 372.7h0.75M231.1 362.2h0.75M234.9 362.7h0.75M220.3 369.4h0.75M239.5 370.4h0.75M217.2 374.2h0.75M223.5 367.2h0.75M236.9 377.1h0.75M213.6 356.2h0.75M236.8 365.5h0.75M224.4 344.5h0.75M230.7 361.4h0.75M205.3 379.0h0.75M206.2 359.1h0.75M227.0 363.9h0.75M233.3 360.9h0.75M219.5 360.3h0.75M209.5 355.6h0.75M243.4 358.3h0.75M226.3 374.2h0.75M235.8 363.3h0.75M233.1 360.8h0.75M219.5 368.7h0.75M228.1 372.4h0.75M224.8 360.2h0.75M229.9 361.3h0.75M224.4 357.0h0.75M229.1 364.5h0.75M242.2 362.3h0.75M212.4 365.4h0.75M246.1 359.8h0.75M220.3 361.5h0.75M203.2 360.4h0.75M225.4 353.2h0.75M231.8 357.1h0.75M211.6 358.1h0.75M232.3 374.3h0.75M237.4 363.7h0.75M222.7 360.9h0.75M235.1 359.3h0.75M230.5 368.5h0.75M219.4 358.9h0.75M230.7 362.6h0.75M226.0 359.2h0.75M226.5 373.9h0.75M238.3 352.6h0.75M227.4 363.1h0.75M227.3 354.0h0.75M225.9 363.4h0.75M221.3 364.4h0.75M206.7 353.2h0.75M227.8 364.9h0.75M225.6 359.7h0.75M228.5 369.2h0.75M234.5 362.0h0.75M223.1 369.0h0.75M231.5 367.9h0.75M224.7 357.2h0.75M228.6 358.6h0.75M236.6 367.8h0.75M208.8 366.6h0.75M238.1 368.9h0.75M223.1 357.2h0.75M235.1 368.8h0.75M227.5 355.4h0.75M214.3 364.1h0.75M220.1 358.3h0.75M230.7 369.0h0.75M209.8 358.4h0.75M237.8 362.2h0.75M224.1 366.4h0.75M217.5 355.0h0.75M227.2 372.1h0.75M235.5 362.5h0.75M235.4 360.0h0.75M217.2 352.2h0.75M229.3 368.1h0.75M230.1 362.3h0.75M223.7 369.2h0.75M226.6 353.6h0.75M238.4 358.5h0.75M230.3 362.5h0.75M235.8 364.0h0.75M237.2 363.8h0.75M223.2 359.4h0.75M232.4 357.4h0.75M234.7 361.0h0.75M219.3 357.1h0.75M225.8 373.4h0.75M233.4 362.6h0.75M219.4 374.3h0.75M224.7 362.5h0.75M223.5 370.7h0.75M228.5 359.7h0.75M228.5 356.3h0.75M218.2 361.5h0.75M203.0 369.8h0.75M243.6 355.6h0.75M225.8 352.8h0.75M228.4 363.8h0.75M233.2 354.3h0.75M222.0 358.5h0.75M224.9 376.6h0.75M225.3 362.2h0.75M222.8 367.4h0.75M248.4 369.7h0.75M239.8 355.9h0.75M235.8 362.7h0.75M237.4 369.0h0.75M232.5 352.1h0.75M228.1 359.4h0.75M230.7 362.7h0.75M235.8 352.6h0.75M220.8 362.0h0.75M229.7 360.0h0.75M226.8 362.8h0.75M235.8 361.8h0.75M229.0 351.3h0.75M205.1 353.5h0.75M230.0 348.3h0.75M230.4 361.9h0.75M227.0 358.0h0.75M223.5 367.6h0.75M230.0 362.3h0.75M222.9 363.8h0.75M237.0 362.4h0.75M223.9 355.2h0.75M227.8 356.8h0.75M215.0 367.9h0.75M221.8 349.9h0.75M221.0 373.9h0.75M226.1 354.3h0.75M217.8 366.9h0.75M230.4 363.8h0.75M225.4 365.5h0.75M239.9 365.5h0.75M225.6 353.8h0.75M230.7 372.2h0.75M232.4 354.7h0.75M228.5 370.5h0.75M221.7 365.6h0.75M237.1 372.6h0.75M213.7 351.7h0.75M230.1 366.9h0.75M224.0 362.4h0.75M223.6 369.9h0.75M208.5 364.1h0.75M216.3 358.3h0.75M214.2 356.9h0.75M226.8 362.7h0.75M242.0 361.1h0.75M229.9 364.7h0.75M229.2 371.6h0.75M228.2 363.4h0.75M226.1 362.5h0.75M226.5 368.7h0.75M227.2 362.9h0.75M226.6 367.2h0.75M223.0 368.3h0.75M222.2 366.8h0.75M243.1 363.9h0.75M226.3 355.2h0.75M233.2 362.6h0.75M234.6 358.4h0.75M231.4 373.7h0.75M230.4 360.5h0.75M216.1 362.4h0.75M232.5 366.2h0.75M217.6 356.1h0.75M218.8 356.2h0.75M224.7 364.2h0.75M243.1 363.7h0.75M239.2 352.2h0.75M239.9 367.5h0.75M230.7 367.6h0.75M232.2 374.4h0.75M233.8 351.7h0.75M212.3 372.5h0.75M226.3 370.7h0.75M224.1 358.4h0.75M224.1 364.5h0.75M228.6 358.7h0.75M231.5 366.3h0.75M219.3 355.6h0.75M210.5 360.6h0.75M227.1 358.2h0.75M221.9 361.7h0.75M227.2 366.0h0.75M234.0 365.2h0.75M236.4 356.5h0.75M232.1 364.8h0.75M218.2 358.3h0.75M230.7 363.0h0.75M216.5 359.1h0.75M239.8 367.7h0.75M227.7 370.9h0.75M219.4 361.4h0.75M235.0 360.4h0.75M217.6 366.1h0.75M240.5 346.7h0.75M228.3 354.7h0.75M224.5 353.7h0.75M248.8 358.3h0.75M227.4 358.1h0.75M218.7 359.7h0.75M228.7 373.4h0.75M229.4 372.2h0.75M218.1 362.9h0.75M223.3 352.8h0.75M258.3 361.0h0.75M229.1 357.8h0.75M222.2 356.1h0.75" stroke="#000" stroke-width="0.75" fill="none" opacity="1"/>
<path d="M275.2 358.0h0.75M260.1 360.9h0.75M246.3 361.1h0.75M259.8 362.2h0.75M257.1 360.2h0.75M268.7 364.8h0.75M253.1 364.8h0.75M249.3 359.1h0.75M263.7 360.7h0.75M259.6 364.6h0.75M253.0 367.5h0.75M268.9 360.1h0.75M265.4 364.6h0.75M251.7 362.9h0.75M275.7 358.8h0.75M251.0 354.8h0.75M267.5 356.0h0.75M293.9 362.8h0.75M245.2 358.6h0.75M281.6 363.4h0.75M248.9 365.1h0.75M255.9 370.9h0.75M254.9 362.9h0.75M269.3 357.8h0.75M260.0 365.7h0.75M268.4 359.7h0.75M267.7 368.6h0.75M274.0 362.4h0.75M266.2 352.3h0.75M263.7 357.6h0.75M271.4 357.0h0.75M267.8 354.8h0.75M273.5 356.4h0.75M261.6 362.9h0.75M257.8 360.0h0.75M275.6 368.7h0.75M270.7 364.6h0.75M255.9 360.5h0.75M259.5 371.2h0.75M259.4 354.1h0.75M278.7 358.1h0.75M287.0 363.2h0.75M266.9 363.2h0.75M272.2 364.5h0.75M249.5 357.2h0.75M255.0 360.5h0.75M258.8 353.9h0.75M253.1 368.8h0.75M289.3 355.8h0.75M266.9 359.8h0.75" stroke="#777" stroke-width="0.75" fill="none" opacity="1"/>
<ellipse cx="228.5" cy="363.1" rx="18.0" ry="13.3" fill="#000" opacity="0.5" filter="url(#bl3)"/>
<path d="M210.5 359.7 C216.5 352.8 226.60000000000002 349.8 232.60000000000002 349.8 C241.5 349.8 244.5 355.2 244.5 361.2 C244.5 367.2 237.60000000000002 376.5 231.60000000000002 376.5 C224.60000000000002 376.5 215.5 366.2 210.5 359.7Z" fill="#0c0c0c" filter="url(#bl2)"/>
<g transform="translate(230.8 360.2) rotate(15)">
<ellipse cx="0" cy="0" rx="13" ry="10.2" fill="#333" stroke="#d2d2d2" stroke-width="0.8"/>
<ellipse cx="0.3" cy="0.2" rx="10.4" ry="8.2" fill="none" stroke="#777" stroke-width="0.45"/>
<ellipse cx="0.6" cy="0.3" rx="8.1" ry="6.3" fill="#2a2a2a" stroke="#8a8a8a" stroke-width="0.45"/>
<ellipse cx="0.9" cy="0.4" rx="5.9" ry="4.6" fill="#2a2a2a" stroke="#777" stroke-width="0.45"/>
<ellipse cx="1.2" cy="0.6" rx="3.6" ry="2.9" fill="#2a2a2a" stroke="#999" stroke-width="0.45"/>
<ellipse cx="1.6" cy="0.6" rx="1.5" ry="0.7" fill="#eee"/>
</g>
<rect x="241.5" y="336.3" width="50.4" height="51.5" fill="none" stroke="#b25452" stroke-width="1.15"/>
<text x="292" y="404.3" font-size="11.4" text-anchor="end" fill="#b25452" stroke="#b25452" stroke-width="0.22">2.33%</text>
<text x="41.7" y="468.0" font-size="8.8" text-anchor="middle" fill="#222" stroke="#222" stroke-width="0.22">0</text>
<text x="60.1" y="467.4" font-size="8.6" text-anchor="start" fill="#222" stroke="#222" stroke-width="0.25">10<tspan dy="-3.4" font-size="5.4">1</tspan></text>
<text x="81.6" y="467.4" font-size="8.6" text-anchor="start" fill="#222" stroke="#222" stroke-width="0.25">10<tspan dy="-3.4" font-size="5.4">2</tspan></text>
<text x="103.1" y="467.4" font-size="8.6" text-anchor="start" fill="#222" stroke="#222" stroke-width="0.25">10<tspan dy="-3.4" font-size="5.4">3</tspan></text>
<text x="124.6" y="467.4" font-size="8.6" text-anchor="start" fill="#222" stroke="#222" stroke-width="0.25">10<tspan dy="-3.4" font-size="5.4">4</tspan></text>
<text x="144.0" y="467.4" font-size="8.6" text-anchor="start" fill="#222" stroke="#222" stroke-width="0.25">10<tspan dy="-3.4" font-size="5.4">5</tspan></text>
<text x="170.2" y="467.4" font-size="8.6" text-anchor="end" fill="#222" stroke="#222" stroke-width="0.25">10<tspan dy="-3.4" font-size="5.4">6</tspan></text>
<text x="177.8" y="468.0" font-size="8.8" text-anchor="middle" fill="#222" stroke="#222" stroke-width="0.22">0</text>
<text x="196.20000000000002" y="467.4" font-size="8.6" text-anchor="start" fill="#222" stroke="#222" stroke-width="0.25">10<tspan dy="-3.4" font-size="5.4">1</tspan></text>
<text x="217.70000000000002" y="467.4" font-size="8.6" text-anchor="start" fill="#222" stroke="#222" stroke-width="0.25">10<tspan dy="-3.4" font-size="5.4">2</tspan></text>
<text x="239.20000000000002" y="467.4" font-size="8.6" text-anchor="start" fill="#222" stroke="#222" stroke-width="0.25">10<tspan dy="-3.4" font-size="5.4">3</tspan></text>
<text x="260.70000000000005" y="467.4" font-size="8.6" text-anchor="start" fill="#222" stroke="#222" stroke-width="0.25">10<tspan dy="-3.4" font-size="5.4">4</tspan></text>
<text x="280.1" y="467.4" font-size="8.6" text-anchor="start" fill="#222" stroke="#222" stroke-width="0.25">10<tspan dy="-3.4" font-size="5.4">5</tspan></text>
<text x="306.1" y="467.4" font-size="8.6" text-anchor="end" fill="#222" stroke="#222" stroke-width="0.25">10<tspan dy="-3.4" font-size="5.4">6</tspan></text>
<text x="171.3" y="479.2" font-size="11.2" text-anchor="middle" fill="#222" stroke="#222" stroke-width="0.22">Annexin V</text>
<line x1="37.6" y1="475.8" x2="139.6" y2="475.8" stroke="#444" stroke-width="1.4"/>
<line x1="202.2" y1="475.8" x2="304.5" y2="475.8" stroke="#444" stroke-width="1.4"/>
<text x="313.9" y="319.0" font-size="20.3" text-anchor="start" fill="#111" stroke="#111" stroke-width="0.22" font-weight="bold">d</text>
<text x="422" y="320.1" font-size="11.2" text-anchor="middle" fill="#222" stroke="#222" stroke-width="0.22">CD71<tspan dy="-4" font-size="6.2">-</tspan><tspan dy="4"> RBCs</tspan></text>
<text x="548.5" y="320.1" font-size="11.2" text-anchor="middle" fill="#222" stroke="#222" stroke-width="0.22">CD71<tspan dy="-4" font-size="6.2">+</tspan><tspan dy="4"> RBCs</tspan></text>
<text x="331.2" y="390" font-size="11.6" text-anchor="middle" fill="#222" stroke="#222" stroke-width="0.22" transform="rotate(-90 331.2 390)">Ter119</text>
<line x1="327.6" y1="325.4" x2="327.6" y2="371.4" stroke="#444" stroke-width="1.2"/>
<line x1="327.6" y1="411.4" x2="327.6" y2="456.5" stroke="#444" stroke-width="1.2"/>
<text x="344.2" y="457.29999999999995" font-size="8.6" text-anchor="end" fill="#222" stroke="#222" stroke-width="0.25">10<tspan dy="-3.4" font-size="5.4">0</tspan></text>
<text x="344.2" y="435.88333333333327" font-size="8.6" text-anchor="end" fill="#222" stroke="#222" stroke-width="0.25">10<tspan dy="-3.4" font-size="5.4">1</tspan></text>
<text x="344.2" y="414.46666666666664" font-size="8.6" text-anchor="end" fill="#222" stroke="#222" stroke-width="0.25">10<tspan dy="-3.4" font-size="5.4">2</tspan></text>
<text x="344.2" y="393.04999999999995" font-size="8.6" text-anchor="end" fill="#222" stroke="#222" stroke-width="0.25">10<tspan dy="-3.4" font-size="5.4">3</tspan></text>
<text x="344.2" y="371.63333333333327" font-size="8.6" text-anchor="end" fill="#222" stroke="#222" stroke-width="0.25">10<tspan dy="-3.4" font-size="5.4">4</tspan></text>
<text x="344.2" y="350.2166666666666" font-size="8.6" text-anchor="end" fill="#222" stroke="#222" stroke-width="0.25">10<tspan dy="-3.4" font-size="5.4">5</tspan></text>
<text x="344.2" y="328.79999999999995" font-size="8.6" text-anchor="end" fill="#222" stroke="#222" stroke-width="0.25">10<tspan dy="-3.4" font-size="5.4">6</tspan></text>
<rect x="347.8" y="325.9" width="128.59999999999997" height="128.5" fill="#fff" stroke="#6a6a6a" stroke-width="1"/>
<path d="M344.6 454.4H347.8M346.2 448.0H347.8M346.2 444.2H347.8M346.2 441.5H347.8M346.2 439.4H347.8M346.2 437.7H347.8M346.2 436.3H347.8M346.2 435.1H347.8M346.2 434.0H347.8M344.6 433.0H347.8M346.2 426.5H347.8M346.2 422.8H347.8M346.2 420.1H347.8M346.2 418.0H347.8M346.2 416.3H347.8M346.2 414.9H347.8M346.2 413.6H347.8M346.2 412.5H347.8M344.6 411.6H347.8M346.2 405.1H347.8M346.2 401.3H347.8M346.2 398.7H347.8M346.2 396.6H347.8M346.2 394.9H347.8M346.2 393.5H347.8M346.2 392.2H347.8M346.2 391.1H347.8M344.6 390.1H347.8M346.2 383.7H347.8M346.2 379.9H347.8M346.2 377.3H347.8M346.2 375.2H347.8M346.2 373.5H347.8M346.2 372.1H347.8M346.2 370.8H347.8M346.2 369.7H347.8M344.6 368.7H347.8M346.2 362.3H347.8M346.2 358.5H347.8M346.2 355.8H347.8M346.2 353.8H347.8M346.2 352.1H347.8M346.2 350.6H347.8M346.2 349.4H347.8M346.2 348.3H347.8M344.6 347.3H347.8M346.2 340.9H347.8M346.2 337.1H347.8M346.2 334.4H347.8M346.2 332.3H347.8M346.2 330.7H347.8M346.2 329.2H347.8M346.2 328.0H347.8M346.2 326.9H347.8M344.6 325.9H347.8M348.5 454.4V457.59999999999997M368.5 454.4V457.59999999999997M390.0 454.4V457.59999999999997M411.5 454.4V457.59999999999997M433.0 454.4V457.59999999999997M454.5 454.4V457.59999999999997M476.0 454.4V457.59999999999997M354.5 454.4V456.0M358.0 454.4V456.0M360.5 454.4V456.0M362.5 454.4V456.0M364.1 454.4V456.0M365.4 454.4V456.0M366.6 454.4V456.0M367.6 454.4V456.0M375.0 454.4V456.0M378.8 454.4V456.0M381.4 454.4V456.0M383.5 454.4V456.0M385.2 454.4V456.0M386.7 454.4V456.0M387.9 454.4V456.0M389.0 454.4V456.0M396.5 454.4V456.0M400.3 454.4V456.0M402.9 454.4V456.0M405.0 454.4V456.0M406.7 454.4V456.0M408.2 454.4V456.0M409.4 454.4V456.0M410.5 454.4V456.0M418.0 454.4V456.0M421.8 454.4V456.0M424.4 454.4V456.0M426.5 454.4V456.0M428.2 454.4V456.0M429.7 454.4V456.0M430.9 454.4V456.0M432.0 454.4V456.0M439.5 454.4V456.0M443.3 454.4V456.0M445.9 454.4V456.0M448.0 454.4V456.0M449.7 454.4V456.0M451.2 454.4V456.0M452.4 454.4V456.0M453.5 454.4V456.0M461.0 454.4V456.0M464.8 454.4V456.0M467.4 454.4V456.0M469.5 454.4V456.0M471.2 454.4V456.0M472.7 454.4V456.0M473.9 454.4V456.0M475.0 454.4V456.0" stroke="#505050" stroke-width="0.8" fill="none"/>
<path d="M384.0 362.8h0.75M393.2 366.6h0.75M402.7 358.8h0.75M362.6 359.6h0.75M410.1 357.2h0.75M410.8 362.7h0.75M373.1 359.2h0.75M400.1 363.0h0.75M396.9 359.9h0.75M389.9 358.9h0.75M394.1 355.8h0.75M406.2 358.7h0.75M403.9 358.0h0.75M401.8 360.5h0.75M410.9 361.8h0.75M411.7 359.3h0.75M393.3 359.0h0.75M379.1 359.5h0.75M414.6 363.0h0.75M383.9 361.2h0.75M408.3 354.6h0.75M400.6 361.3h0.75M408.2 361.0h0.75M373.4 352.0h0.75M431.6 358.4h0.75M418.1 365.0h0.75M395.7 355.5h0.75M419.9 359.9h0.75M403.9 361.9h0.75M412.1 364.0h0.75M377.2 354.4h0.75M396.7 360.0h0.75M408.8 359.5h0.75M391.9 368.0h0.75M420.1 364.6h0.75M413.7 356.9h0.75M393.0 359.7h0.75M381.0 356.6h0.75M397.1 355.2h0.75M404.3 361.9h0.75M391.2 358.7h0.75M405.4 361.9h0.75M400.9 355.2h0.75M374.8 368.1h0.75M386.3 358.6h0.75M372.4 356.9h0.75M385.3 363.1h0.75M362.7 354.5h0.75M389.1 358.1h0.75M384.8 358.3h0.75M375.3 361.1h0.75M416.7 360.6h0.75M387.6 365.0h0.75M403.3 355.9h0.75M387.2 357.6h0.75M393.5 364.8h0.75M385.6 359.4h0.75M396.1 355.3h0.75M388.3 362.4h0.75M415.5 352.6h0.75M407.4 358.9h0.75M418.5 362.4h0.75M431.4 361.2h0.75M389.3 356.7h0.75M377.0 362.2h0.75M403.8 363.2h0.75M400.7 354.1h0.75M389.2 359.0h0.75M397.0 363.0h0.75M420.9 361.1h0.75M369.5 356.0h0.75M368.7 357.0h0.75M379.8 360.9h0.75M391.4 364.4h0.75M414.5 358.2h0.75M411.9 360.1h0.75M402.6 365.3h0.75M380.4 359.7h0.75M423.2 357.0h0.75M398.1 360.5h0.75M389.1 354.9h0.75M385.9 356.1h0.75M414.5 361.0h0.75M407.3 355.3h0.75M403.5 360.6h0.75M413.9 357.2h0.75M409.4 365.4h0.75M428.2 356.4h0.75M380.7 354.3h0.75M412.3 362.3h0.75M400.5 356.6h0.75M417.8 366.3h0.75M393.6 359.5h0.75M416.6 362.0h0.75M419.5 358.4h0.75M400.4 358.7h0.75M387.3 358.8h0.75M390.6 362.0h0.75M390.4 360.3h0.75M384.4 355.2h0.75M421.1 356.1h0.75M428.4 363.7h0.75M366.9 357.5h0.75M389.1 360.1h0.75M391.9 357.6h0.75M417.8 359.5h0.75M412.3 357.3h0.75M385.8 365.2h0.75M390.7 355.7h0.75M392.0 364.1h0.75M392.1 357.2h0.75M406.1 363.9h0.75M391.6 358.8h0.75M389.7 370.6h0.75M391.8 366.8h0.75M392.3 361.6h0.75M369.9 360.7h0.75M395.0 358.8h0.75M389.2 354.7h0.75M376.4 360.7h0.75M386.4 359.7h0.75M391.9 358.0h0.75M385.4 367.3h0.75M380.9 358.0h0.75M390.5 355.5h0.75M382.7 363.4h0.75M411.7 360.5h0.75M455.5 363.2h0.75M417.4 356.8h0.75M414.6 366.6h0.75M389.5 367.1h0.75M384.5 355.6h0.75M393.5 356.8h0.75M406.1 355.7h0.75M395.6 352.4h0.75M393.6 364.1h0.75M390.9 361.2h0.75M414.7 355.7h0.75M379.0 360.3h0.75M399.3 359.0h0.75M382.5 364.7h0.75M380.3 359.0h0.75M393.5 362.8h0.75M388.7 356.8h0.75M432.2 356.7h0.75M409.2 359.4h0.75M388.4 359.8h0.75M391.0 361.2h0.75M363.9 359.9h0.75M395.4 356.2h0.75M389.4 369.1h0.75M429.1 362.5h0.75M398.5 358.8h0.75M420.4 358.3h0.75M384.3 362.7h0.75M382.6 356.9h0.75M421.5 353.7h0.75M393.3 360.5h0.75M399.0 354.3h0.75M391.4 358.7h0.75M430.5 363.9h0.75M385.1 363.4h0.75M406.5 359.6h0.75M391.2 358.9h0.75M375.8 357.5h0.75M411.8 365.6h0.75M429.2 358.5h0.75M405.8 350.6h0.75M390.9 355.1h0.75M409.7 353.5h0.75M381.7 355.7h0.75M401.6 363.3h0.75M383.2 367.0h0.75M397.1 356.7h0.75M400.7 359.9h0.75M409.8 361.3h0.75M435.6 364.6h0.75M386.5 363.1h0.75M408.5 356.1h0.75M385.2 356.9h0.75M364.8 362.5h0.75M391.5 364.8h0.75M387.4 360.3h0.75M407.8 363.8h0.75M400.2 355.9h0.75M435.8 363.4h0.75M419.9 366.3h0.75M420.7 361.6h0.75M403.1 362.5h0.75M376.3 363.2h0.75M382.5 361.6h0.75M382.1 362.8h0.75M388.3 369.7h0.75M397.7 362.0h0.75M383.4 358.9h0.75M393.4 358.9h0.75M388.9 356.6h0.75M408.6 358.5h0.75M384.4 361.4h0.75M384.5 359.3h0.75M388.0 356.4h0.75M391.4 356.8h0.75M379.3 361.4h0.75M390.6 354.3h0.75M389.4 360.7h0.75M402.2 361.5h0.75M398.9 362.3h0.75M388.2 356.9h0.75M405.7 358.4h0.75M394.3 362.5h0.75M411.9 364.8h0.75M386.0 358.6h0.75M404.7 354.4h0.75M379.2 362.4h0.75M386.8 356.4h0.75M409.3 362.1h0.75M411.5 358.7h0.75M390.7 358.7h0.75M399.8 352.1h0.75M385.9 362.8h0.75M384.9 359.8h0.75M396.5 362.0h0.75M388.5 355.6h0.75M441.3 357.2h0.75M426.5 353.2h0.75M396.3 359.2h0.75M430.0 367.9h0.75M412.6 356.1h0.75M384.6 357.1h0.75M388.0 361.0h0.75M384.8 359.0h0.75M422.0 365.6h0.75M372.1 356.3h0.75M389.7 365.0h0.75M390.2 367.4h0.75M401.1 365.6h0.75M384.0 358.8h0.75M413.4 362.2h0.75M372.1 358.9h0.75M397.6 362.5h0.75M386.6 366.8h0.75M397.0 365.6h0.75M401.8 360.3h0.75M390.4 355.5h0.75M410.5 362.9h0.75M411.8 358.5h0.75M382.3 358.5h0.75M390.4 360.0h0.75M412.7 356.5h0.75M388.4 362.7h0.75M411.2 368.6h0.75M404.1 356.7h0.75M381.9 356.9h0.75M395.5 361.0h0.75M393.3 357.6h0.75M392.0 359.7h0.75M405.4 360.3h0.75M384.6 355.5h0.75M422.2 359.7h0.75M392.1 359.9h0.75M415.5 358.8h0.75M397.5 359.1h0.75M405.1 356.1h0.75M398.1 364.0h0.75M416.6 362.4h0.75M399.8 366.1h0.75M407.6 365.4h0.75M380.0 355.8h0.75M409.3 359.0h0.75M389.1 356.3h0.75M422.2 355.4h0.75M396.2 354.6h0.75M392.1 368.7h0.75M440.1 358.1h0.75M382.3 366.3h0.75M384.1 353.1h0.75M400.8 355.8h0.75M377.1 364.4h0.75M385.6 355.9h0.75M397.4 359.3h0.75M415.4 360.4h0.75M424.2 364.4h0.75M427.8 364.4h0.75M395.6 362.1h0.75M394.7 354.0h0.75M380.3 362.9h0.75M366.4 356.8h0.75M379.1 359.8h0.75M382.0 361.0h0.75M391.9 358.2h0.75M384.2 351.4h0.75M395.7 355.0h0.75M390.7 361.4h0.75M414.0 362.7h0.75M422.1 354.5h0.75M407.0 366.1h0.75M401.7 355.7h0.75M401.8 358.0h0.75M386.6 364.1h0.75M392.1 355.7h0.75" stroke="#000" stroke-width="0.75" fill="none" opacity="1"/>
<path d="M393.5 373.5h0.75M392.3 366.3h0.75M399.3 369.1h0.75M396.2 357.2h0.75M393.7 356.7h0.75M415.9 363.6h0.75M395.9 369.6h0.75M402.6 361.5h0.75M402.4 364.0h0.75M405.8 371.8h0.75M396.0 362.3h0.75M396.9 369.4h0.75M400.7 366.9h0.75M404.3 359.0h0.75M399.0 370.3h0.75M404.4 367.1h0.75M396.2 360.5h0.75M392.3 361.0h0.75M397.7 354.5h0.75M406.1 358.2h0.75M399.8 365.9h0.75M394.3 352.4h0.75M404.7 364.8h0.75M396.4 368.9h0.75M404.2 357.2h0.75M397.6 352.6h0.75M396.3 370.4h0.75M392.4 367.1h0.75M387.8 360.9h0.75M404.6 372.1h0.75M401.2 366.8h0.75M409.9 348.8h0.75M386.4 373.1h0.75M415.0 365.9h0.75M398.6 364.0h0.75M398.3 359.1h0.75M398.0 361.8h0.75M402.7 366.3h0.75M404.8 365.8h0.75M391.5 370.3h0.75M379.9 363.2h0.75M400.4 359.5h0.75M410.9 356.4h0.75M390.1 359.7h0.75M401.0 367.0h0.75M398.9 366.3h0.75M393.3 359.1h0.75M399.0 355.0h0.75M399.4 360.3h0.75M402.8 356.8h0.75M394.5 359.3h0.75M395.6 356.9h0.75M396.3 354.9h0.75M401.8 366.3h0.75M398.0 361.5h0.75M392.1 357.1h0.75M396.6 357.4h0.75M390.1 363.5h0.75M398.0 360.2h0.75M392.6 362.2h0.75M393.4 360.1h0.75M399.4 366.6h0.75M403.3 359.1h0.75M406.3 356.0h0.75M396.9 369.8h0.75M414.2 363.2h0.75M395.7 360.4h0.75M389.9 361.7h0.75M395.2 358.3h0.75M406.2 358.2h0.75M409.6 367.2h0.75M402.5 359.2h0.75M394.7 351.3h0.75M400.0 361.0h0.75M400.7 358.8h0.75M401.4 354.1h0.75M383.3 365.2h0.75M405.4 344.9h0.75M406.8 360.6h0.75M397.0 353.9h0.75M391.3 366.5h0.75M393.1 362.3h0.75M397.1 373.7h0.75M404.1 355.1h0.75M394.9 356.1h0.75M388.7 358.7h0.75M405.6 362.8h0.75M402.7 361.8h0.75M395.2 363.0h0.75M397.6 373.3h0.75M410.3 364.6h0.75M402.2 351.4h0.75M397.3 375.9h0.75M392.7 367.1h0.75M406.4 360.3h0.75M396.6 360.0h0.75M403.5 362.6h0.75M408.3 369.2h0.75M398.0 377.1h0.75M396.0 359.1h0.75M396.5 357.6h0.75M395.3 362.1h0.75M404.1 353.6h0.75M388.6 358.2h0.75M396.0 365.1h0.75M392.8 371.0h0.75M394.5 361.3h0.75M398.5 369.1h0.75M400.1 362.7h0.75M394.4 363.5h0.75M400.8 360.5h0.75M397.9 352.2h0.75M394.5 369.1h0.75M407.7 362.1h0.75M383.5 372.8h0.75M396.9 376.9h0.75M395.3 368.1h0.75M393.9 370.2h0.75M405.9 356.5h0.75M406.8 378.6h0.75M396.6 355.7h0.75M400.0 360.3h0.75M388.0 356.6h0.75M399.7 353.9h0.75M405.4 365.0h0.75M396.9 370.4h0.75M391.8 366.4h0.75M388.9 360.7h0.75M402.4 359.5h0.75M397.3 366.2h0.75M408.4 369.8h0.75M401.2 361.0h0.75M388.3 372.2h0.75M410.7 350.4h0.75M403.9 362.3h0.75M402.8 364.3h0.75M396.8 362.5h0.75M397.8 369.1h0.75M396.3 359.4h0.75M402.5 366.1h0.75M401.0 364.1h0.75M408.0 368.8h0.75M399.5 361.3h0.75M402.5 352.0h0.75M394.6 358.5h0.75M399.2 360.3h0.75M414.7 366.7h0.75M400.8 375.2h0.75M398.1 360.7h0.75M406.4 367.2h0.75M404.3 369.3h0.75M395.6 358.8h0.75M393.2 363.1h0.75M404.8 356.6h0.75M394.5 355.0h0.75M411.5 367.0h0.75M399.5 355.6h0.75M391.1 358.9h0.75M398.3 355.3h0.75M396.5 369.4h0.75M398.2 363.1h0.75M384.0 361.0h0.75M397.1 358.6h0.75M388.7 362.1h0.75M391.2 359.4h0.75M387.3 362.0h0.75M404.2 357.8h0.75M400.2 353.9h0.75M402.0 365.6h0.75M395.5 367.5h0.75M392.2 362.8h0.75M409.4 362.4h0.75M390.5 369.0h0.75M401.7 360.9h0.75M385.8 351.9h0.75M387.8 370.9h0.75M400.0 357.7h0.75M405.8 370.8h0.75M392.4 365.2h0.75M387.0 364.6h0.75M410.3 354.5h0.75M398.4 358.9h0.75M397.4 363.0h0.75M399.9 367.5h0.75M401.5 368.4h0.75M404.9 368.7h0.75M393.5 364.8h0.75M395.6 357.7h0.75M411.2 364.2h0.75M398.4 350.6h0.75M396.5 366.9h0.75M396.7 359.4h0.75M408.0 360.7h0.75M395.8 361.9h0.75M396.5 368.5h0.75M401.9 362.1h0.75M395.6 361.2h0.75M409.4 360.8h0.75M402.5 353.6h0.75M400.2 366.4h0.75M406.6 364.3h0.75M401.9 364.3h0.75M405.2 374.1h0.75M399.4 357.9h0.75M402.1 361.9h0.75M402.4 366.9h0.75M399.1 360.0h0.75M400.1 355.4h0.75M399.9 357.5h0.75M401.1 363.2h0.75M396.6 355.7h0.75M398.4 358.7h0.75M397.1 366.4h0.75M404.5 355.2h0.75M404.3 370.2h0.75M405.6 364.1h0.75M397.5 372.4h0.75M395.9 353.9h0.75M398.7 364.1h0.75M391.1 355.6h0.75M411.3 363.1h0.75M403.3 359.2h0.75M387.9 361.5h0.75M407.1 358.7h0.75M386.1 361.5h0.75M396.2 362.6h0.75M391.1 360.7h0.75M394.4 367.5h0.75M399.1 367.4h0.75M397.7 350.4h0.75M385.0 365.5h0.75M403.9 367.5h0.75M397.6 352.4h0.75M394.8 364.8h0.75M407.3 360.6h0.75M394.3 358.1h0.75M404.9 367.4h0.75M385.9 369.4h0.75M391.9 354.2h0.75M387.4 358.4h0.75M413.6 377.0h0.75M389.7 358.7h0.75M399.1 364.9h0.75M394.9 353.5h0.75M395.3 358.6h0.75M386.1 363.3h0.75M388.3 352.7h0.75M408.2 367.8h0.75M407.8 363.2h0.75M395.3 362.0h0.75M388.9 366.7h0.75M399.9 360.8h0.75M385.6 361.9h0.75M409.0 370.7h0.75M403.9 360.5h0.75M399.0 365.6h0.75M399.4 368.4h0.75M393.6 349.4h0.75M381.8 357.3h0.75M388.8 366.3h0.75M405.3 362.5h0.75M401.7 362.9h0.75M399.2 359.8h0.75M395.4 369.2h0.75M396.3 362.3h0.75M406.1 368.1h0.75M395.5 363.9h0.75M391.3 363.3h0.75M400.2 362.5h0.75M399.2 364.6h0.75M381.1 357.8h0.75M398.6 359.7h0.75M391.6 361.2h0.75M408.9 361.2h0.75M393.7 359.8h0.75M390.1 365.2h0.75M391.5 367.7h0.75M404.2 365.7h0.75M405.0 362.0h0.75M386.3 362.1h0.75M402.4 353.7h0.75M389.9 368.7h0.75M401.0 370.1h0.75M402.6 362.9h0.75M401.0 367.3h0.75M397.9 361.3h0.75M400.2 360.7h0.75M414.3 358.2h0.75M387.9 355.2h0.75M405.1 360.2h0.75M399.2 361.3h0.75M399.9 354.3h0.75M398.7 359.2h0.75M405.4 366.0h0.75M389.6 357.0h0.75M401.9 369.3h0.75M403.2 361.6h0.75M405.6 349.1h0.75M394.5 357.0h0.75M391.2 365.7h0.75M400.0 364.1h0.75M397.2 366.0h0.75M403.4 359.3h0.75M404.4 357.2h0.75M410.0 355.1h0.75M396.2 356.4h0.75M398.4 370.0h0.75M393.0 372.6h0.75M407.6 364.7h0.75M394.1 367.6h0.75M378.8 358.2h0.75M404.6 362.3h0.75M414.9 358.7h0.75M389.1 361.3h0.75M402.0 372.2h0.75M386.2 363.4h0.75M406.6 358.7h0.75M395.0 355.6h0.75M403.3 367.2h0.75M402.1 363.9h0.75M404.8 361.8h0.75M402.9 367.2h0.75M406.9 365.4h0.75M398.7 366.5h0.75M387.6 352.5h0.75M409.1 363.3h0.75M391.0 359.2h0.75M397.1 362.9h0.75M392.9 368.2h0.75M386.5 378.5h0.75M390.7 372.0h0.75M402.6 352.9h0.75M389.8 362.8h0.75M399.9 360.1h0.75M398.2 363.4h0.75M390.3 362.8h0.75M413.6 358.8h0.75M391.2 366.3h0.75M407.3 368.4h0.75M393.8 362.1h0.75M399.5 361.3h0.75M400.8 368.7h0.75M401.8 362.4h0.75M396.7 372.7h0.75M389.7 373.9h0.75M403.1 363.0h0.75M393.0 373.0h0.75M406.4 367.7h0.75M412.3 352.3h0.75M398.8 360.7h0.75M393.1 362.9h0.75M401.8 365.5h0.75M397.1 354.9h0.75M401.9 366.0h0.75M412.6 367.8h0.75M398.2 355.9h0.75M416.8 358.6h0.75M399.4 366.8h0.75M401.5 370.1h0.75M391.0 358.6h0.75M399.3 355.5h0.75M393.9 370.4h0.75M400.1 361.9h0.75M394.2 362.8h0.75M397.9 356.3h0.75M403.5 355.2h0.75M406.9 360.6h0.75M382.4 353.6h0.75M400.1 357.5h0.75M410.6 370.4h0.75M412.6 367.6h0.75M407.4 359.0h0.75M407.1 360.0h0.75M397.8 354.7h0.75M398.5 364.8h0.75M397.7 356.2h0.75M404.3 367.7h0.75M397.5 367.0h0.75M404.9 356.8h0.75M397.9 351.8h0.75M390.9 365.0h0.75M392.0 364.8h0.75M400.6 350.6h0.75M394.7 371.2h0.75M398.2 363.2h0.75M393.2 353.3h0.75M387.0 379.0h0.75M396.8 357.5h0.75M398.9 351.3h0.75M407.8 372.4h0.75M392.9 364.4h0.75M391.8 367.4h0.75M392.2 361.7h0.75M407.2 365.5h0.75M395.8 353.7h0.75M387.0 369.4h0.75M401.7 362.8h0.75M406.8 363.3h0.75M393.0 361.9h0.75M397.4 362.4h0.75M415.5 365.8h0.75M400.0 361.1h0.75M393.3 356.8h0.75M385.0 359.8h0.75M387.5 351.8h0.75M391.5 350.8h0.75M407.7 369.7h0.75M391.3 374.3h0.75M402.7 347.9h0.75M398.2 356.7h0.75M385.9 361.0h0.75M406.1 365.1h0.75M387.9 358.7h0.75M392.8 369.1h0.75M397.4 356.8h0.75M391.7 351.1h0.75M392.2 367.7h0.75M384.7 363.6h0.75M397.3 367.2h0.75M390.1 367.8h0.75M409.0 375.8h0.75M386.7 362.3h0.75M396.6 363.2h0.75M391.1 367.5h0.75M414.5 371.2h0.75M391.4 359.2h0.75M403.2 363.3h0.75M392.7 369.7h0.75M401.7 368.4h0.75M396.8 369.9h0.75M394.8 356.0h0.75M398.0 354.4h0.75M406.9 366.8h0.75M386.3 363.5h0.75M404.0 360.4h0.75M401.0 359.1h0.75M397.6 362.0h0.75M401.5 356.9h0.75M390.1 364.4h0.75M394.5 365.5h0.75M394.5 354.9h0.75M403.2 364.0h0.75M403.2 360.5h0.75M395.5 369.8h0.75M386.2 372.6h0.75M401.7 362.2h0.75M398.7 366.0h0.75M392.6 364.1h0.75M391.3 351.8h0.75M399.5 363.1h0.75M402.6 365.7h0.75M403.0 367.1h0.75M390.6 369.6h0.75M416.9 359.2h0.75M389.2 366.5h0.75M404.5 368.4h0.75M408.8 354.4h0.75M400.7 365.2h0.75M406.8 357.3h0.75M398.2 360.3h0.75M396.9 361.7h0.75M397.0 352.2h0.75M397.8 362.9h0.75M395.3 341.9h0.75M393.1 358.7h0.75M391.9 371.8h0.75M404.5 361.4h0.75M402.3 381.7h0.75M391.2 365.3h0.75M393.8 371.1h0.75M405.8 361.8h0.75M402.3 357.9h0.75M386.9 367.4h0.75M409.5 360.7h0.75M394.3 352.1h0.75M413.1 355.5h0.75M391.2 361.4h0.75M406.6 362.8h0.75M397.9 362.6h0.75M404.0 362.3h0.75M399.1 362.1h0.75M390.2 370.3h0.75M393.1 354.8h0.75M394.9 362.7h0.75M403.8 353.9h0.75M389.1 363.5h0.75M400.7 356.1h0.75M390.0 363.5h0.75M397.0 353.1h0.75M391.8 371.1h0.75M390.6 368.6h0.75M387.2 371.2h0.75M409.3 358.8h0.75M393.2 366.2h0.75M389.3 365.7h0.75M406.6 364.0h0.75M400.3 361.6h0.75M405.1 357.7h0.75M409.2 362.4h0.75M395.7 353.0h0.75M394.9 363.9h0.75M406.8 353.1h0.75M397.1 358.5h0.75M389.6 362.5h0.75M392.7 367.6h0.75M379.0 366.8h0.75M384.6 351.1h0.75M401.7 360.5h0.75M398.9 356.9h0.75M390.6 358.2h0.75M397.6 357.6h0.75M395.1 357.5h0.75M399.7 355.9h0.75M383.4 347.2h0.75M397.9 363.1h0.75M404.8 358.2h0.75M390.0 353.8h0.75M403.3 358.9h0.75M404.9 362.0h0.75M396.1 351.7h0.75M393.2 367.1h0.75M393.7 366.4h0.75M386.4 368.4h0.75M417.6 369.0h0.75M400.3 355.3h0.75M394.3 358.7h0.75M399.3 350.7h0.75M391.9 367.1h0.75M399.0 366.8h0.75M404.0 355.8h0.75M388.5 365.2h0.75M398.2 363.0h0.75M392.3 368.4h0.75M401.5 369.1h0.75M395.5 366.5h0.75M397.6 357.0h0.75M397.4 352.9h0.75M396.7 363.5h0.75M402.9 356.4h0.75M388.7 358.2h0.75M383.4 358.7h0.75M416.4 363.3h0.75M392.7 358.5h0.75M410.4 355.7h0.75M397.2 362.0h0.75M392.8 358.3h0.75M386.2 357.6h0.75M407.1 370.7h0.75M396.0 366.6h0.75M401.2 363.1h0.75M397.0 369.6h0.75M402.0 361.2h0.75M396.4 367.9h0.75M393.8 358.3h0.75M396.1 359.6h0.75M406.9 364.6h0.75M397.4 359.4h0.75M407.9 365.1h0.75M412.6 367.8h0.75M396.5 359.3h0.75M396.0 363.6h0.75M403.6 365.3h0.75M409.0 353.7h0.75M398.2 354.2h0.75M390.8 359.0h0.75M393.4 356.9h0.75M387.3 369.1h0.75M395.8 368.1h0.75M390.2 349.0h0.75M393.8 367.6h0.75M394.1 364.8h0.75M390.4 370.6h0.75M401.0 368.6h0.75M396.0 369.9h0.75M398.5 359.7h0.75M393.5 362.8h0.75M391.6 355.6h0.75M398.9 366.6h0.75M396.0 367.4h0.75M409.1 355.1h0.75M399.8 356.9h0.75M393.5 363.5h0.75M381.3 366.0h0.75M403.9 365.7h0.75M402.5 373.0h0.75M395.4 368.9h0.75M408.2 365.4h0.75M385.5 361.6h0.75M395.9 353.1h0.75M397.6 366.9h0.75M396.2 361.4h0.75M408.3 358.9h0.75M391.4 362.7h0.75M405.9 365.9h0.75M398.5 359.6h0.75M406.7 367.6h0.75M385.8 364.4h0.75M381.1 371.2h0.75M402.3 358.8h0.75M388.9 360.7h0.75M385.7 365.8h0.75M394.4 352.2h0.75M397.8 369.4h0.75M389.1 360.4h0.75M410.7 363.6h0.75M394.1 363.6h0.75M403.5 356.7h0.75M397.3 353.0h0.75M386.9 353.5h0.75M403.9 364.3h0.75M403.1 369.6h0.75M398.3 363.9h0.75M400.8 365.2h0.75M390.5 360.9h0.75M396.9 362.7h0.75M392.7 361.7h0.75M400.0 363.6h0.75M402.1 367.3h0.75M401.9 368.1h0.75M403.9 370.6h0.75M402.4 358.9h0.75M414.3 369.1h0.75M406.8 366.7h0.75M398.3 355.8h0.75M401.1 360.4h0.75M395.2 350.1h0.75M408.9 355.7h0.75M390.3 365.2h0.75M402.0 357.9h0.75M397.9 364.0h0.75M399.1 365.6h0.75M403.4 360.4h0.75M386.6 375.1h0.75M395.3 356.7h0.75M403.3 365.9h0.75M393.7 376.2h0.75M381.5 369.9h0.75M397.7 364.3h0.75M400.2 361.1h0.75M400.2 354.9h0.75M395.2 373.2h0.75M379.9 369.7h0.75M382.3 357.5h0.75M404.2 360.1h0.75M393.9 353.8h0.75M397.1 361.5h0.75M393.5 353.4h0.75M399.1 364.9h0.75M406.0 365.5h0.75M408.7 369.5h0.75M378.2 372.2h0.75M397.3 356.4h0.75M401.0 368.1h0.75M387.1 355.3h0.75M402.8 359.3h0.75M408.2 363.8h0.75M394.1 354.8h0.75M402.2 352.5h0.75M388.8 354.9h0.75M410.0 372.4h0.75M396.4 360.3h0.75M402.9 369.7h0.75M392.3 375.3h0.75M396.5 369.1h0.75M381.4 362.2h0.75M393.1 374.0h0.75M396.5 355.1h0.75M411.7 358.5h0.75M398.0 355.2h0.75M402.8 363.6h0.75M396.0 360.2h0.75M394.0 358.3h0.75M388.1 369.5h0.75M404.3 354.4h0.75M389.8 364.9h0.75M413.9 361.3h0.75M395.8 361.0h0.75M399.7 361.5h0.75M405.6 368.2h0.75M401.9 371.7h0.75M396.4 359.3h0.75M418.9 351.3h0.75M387.0 348.8h0.75M400.5 356.3h0.75M405.5 350.3h0.75M397.0 360.2h0.75M390.4 369.0h0.75M395.2 365.1h0.75M394.3 363.4h0.75M394.8 362.9h0.75M397.3 358.5h0.75M401.1 361.4h0.75M391.2 356.4h0.75M401.1 370.2h0.75M388.8 360.1h0.75M401.2 368.6h0.75M403.0 355.6h0.75M398.2 367.7h0.75M399.7 361.2h0.75M389.7 363.5h0.75M397.5 362.7h0.75M408.6 369.4h0.75M392.4 363.8h0.75M395.8 363.1h0.75M409.5 367.8h0.75M398.3 358.7h0.75M396.8 364.6h0.75M394.5 368.9h0.75M398.1 355.6h0.75M412.4 345.6h0.75M396.1 361.8h0.75M404.9 369.0h0.75M408.2 371.6h0.75M400.2 363.2h0.75M405.2 362.3h0.75M389.1 359.8h0.75M402.7 366.1h0.75M390.2 369.5h0.75M400.2 353.7h0.75M401.3 368.4h0.75M401.7 360.7h0.75M392.4 369.0h0.75M399.6 362.5h0.75M395.2 356.5h0.75M384.8 360.5h0.75M405.8 366.9h0.75M393.2 371.4h0.75M396.4 356.6h0.75M404.9 370.6h0.75M395.3 355.4h0.75M397.5 348.4h0.75M398.4 371.4h0.75M399.9 358.2h0.75M403.0 359.6h0.75M406.9 360.4h0.75M412.3 360.5h0.75M399.3 357.0h0.75M389.0 364.5h0.75M400.5 356.8h0.75M401.9 360.1h0.75M394.1 362.1h0.75M400.8 366.7h0.75M406.7 364.7h0.75M392.9 358.5h0.75M400.6 355.5h0.75M396.8 360.3h0.75M397.3 363.6h0.75M405.3 372.0h0.75M404.2 368.4h0.75M390.5 368.5h0.75M407.1 354.6h0.75M415.7 359.2h0.75M381.3 372.8h0.75M398.4 357.8h0.75M394.0 368.7h0.75M399.8 360.3h0.75M406.1 357.0h0.75M392.0 359.2h0.75M392.7 366.5h0.75M396.4 356.4h0.75M394.8 350.9h0.75M399.2 363.1h0.75M402.3 361.1h0.75M400.8 357.1h0.75M398.2 363.4h0.75M389.5 365.9h0.75M399.0 362.8h0.75M394.6 374.1h0.75M398.0 358.0h0.75M392.0 365.9h0.75M396.5 357.9h0.75M392.9 367.9h0.75M398.6 368.6h0.75M397.9 355.6h0.75M404.1 364.3h0.75M393.4 360.7h0.75M391.2 367.3h0.75M395.1 365.3h0.75M399.8 361.0h0.75M400.6 361.1h0.75M389.7 360.1h0.75M389.7 366.9h0.75M402.6 359.1h0.75M402.3 363.9h0.75M404.8 357.1h0.75M398.2 356.7h0.75M393.2 370.4h0.75M383.9 357.2h0.75M401.4 367.0h0.75M392.5 350.7h0.75M385.9 364.6h0.75M405.7 367.8h0.75M392.9 370.3h0.75M396.7 366.1h0.75M396.7 371.7h0.75M394.4 350.0h0.75M395.8 363.6h0.75M399.9 358.3h0.75M396.4 355.9h0.75M396.4 363.0h0.75M399.7 372.0h0.75M384.0 365.5h0.75M401.0 355.8h0.75M398.5 362.5h0.75M391.0 366.7h0.75M411.4 366.4h0.75M403.4 368.7h0.75M397.1 368.1h0.75M392.3 363.5h0.75M402.9 370.1h0.75M396.0 360.8h0.75M401.3 362.0h0.75M399.0 367.1h0.75M392.6 367.6h0.75M400.7 361.0h0.75M389.3 358.9h0.75M397.7 367.9h0.75M384.2 366.6h0.75M399.3 356.0h0.75M404.0 364.8h0.75M401.0 356.8h0.75M390.3 367.7h0.75M407.8 364.6h0.75M396.7 359.9h0.75M386.0 368.2h0.75M397.3 369.6h0.75M393.0 368.6h0.75M393.0 365.9h0.75M407.6 358.4h0.75M404.3 362.5h0.75M391.5 363.7h0.75M402.5 358.4h0.75M396.1 359.2h0.75M392.6 361.3h0.75M403.7 359.6h0.75M406.7 360.3h0.75M393.2 368.7h0.75M407.8 358.7h0.75M402.1 355.8h0.75M395.2 360.3h0.75M402.9 355.3h0.75M394.4 358.5h0.75M398.7 355.4h0.75M388.7 378.8h0.75M399.5 353.8h0.75M403.8 354.9h0.75M384.9 372.1h0.75M406.7 357.7h0.75M390.4 365.2h0.75M412.1 365.9h0.75M402.6 355.7h0.75M385.7 364.7h0.75M405.0 363.3h0.75M398.0 370.4h0.75M392.2 368.8h0.75M403.8 358.9h0.75M398.9 363.1h0.75M402.0 356.9h0.75M396.4 363.0h0.75M398.2 362.6h0.75M399.7 361.4h0.75M394.5 368.4h0.75M393.6 360.7h0.75M391.9 355.9h0.75M401.1 362.3h0.75M397.1 365.1h0.75M396.8 366.4h0.75M410.5 364.5h0.75M396.2 372.0h0.75M402.9 353.0h0.75M407.2 363.7h0.75M403.9 355.9h0.75M392.1 358.8h0.75M401.8 356.1h0.75M393.1 367.9h0.75M393.6 363.2h0.75M391.8 352.8h0.75M397.4 361.8h0.75M388.1 368.1h0.75M403.6 367.5h0.75M394.5 356.0h0.75M397.4 363.4h0.75M396.8 359.1h0.75M391.1 358.3h0.75M397.4 359.7h0.75M409.5 360.9h0.75M401.1 359.8h0.75M396.7 356.9h0.75M394.7 354.0h0.75M383.7 370.1h0.75M390.7 365.0h0.75M397.1 359.3h0.75M403.0 359.3h0.75M401.0 360.4h0.75M404.7 367.9h0.75M398.4 368.7h0.75M401.5 371.4h0.75M397.2 353.7h0.75M399.4 363.8h0.75M395.5 361.3h0.75M396.1 355.4h0.75M409.8 358.1h0.75M390.6 353.5h0.75M392.2 362.3h0.75M408.1 365.9h0.75M393.0 355.4h0.75M390.3 362.0h0.75M403.9 359.8h0.75M409.0 373.5h0.75M399.1 350.2h0.75M405.5 361.9h0.75M402.6 368.1h0.75M391.1 362.9h0.75M399.2 358.2h0.75M402.8 361.8h0.75M395.2 373.2h0.75M399.1 371.8h0.75M396.9 368.4h0.75M392.8 363.3h0.75M405.4 350.1h0.75M401.7 360.9h0.75M405.4 363.5h0.75M397.5 355.2h0.75M418.1 358.3h0.75M395.8 358.4h0.75M395.9 363.7h0.75M388.8 368.5h0.75M396.2 365.9h0.75M383.5 359.5h0.75M395.9 360.3h0.75M393.4 364.2h0.75M400.8 356.9h0.75M384.5 366.6h0.75M395.8 368.6h0.75M403.9 361.9h0.75M388.2 360.4h0.75M393.0 369.5h0.75M386.4 367.7h0.75M387.4 359.2h0.75M388.3 358.5h0.75M394.9 364.6h0.75M393.9 366.4h0.75M409.9 363.4h0.75M390.1 361.5h0.75M397.3 360.4h0.75M405.8 369.0h0.75M411.7 365.5h0.75M379.7 361.7h0.75M402.5 357.9h0.75M393.9 367.6h0.75M398.9 356.1h0.75M394.0 345.0h0.75M397.9 355.5h0.75M397.6 355.7h0.75M391.6 359.6h0.75M417.0 355.7h0.75M389.9 359.4h0.75M405.2 367.0h0.75M402.7 360.6h0.75M398.8 358.1h0.75M396.7 357.9h0.75M388.0 356.8h0.75M411.1 364.7h0.75M392.8 361.9h0.75M394.9 369.4h0.75M397.8 358.9h0.75M402.6 364.3h0.75M393.3 358.1h0.75M398.9 353.2h0.75M391.7 368.2h0.75M403.8 368.8h0.75M394.9 359.1h0.75M396.1 359.8h0.75M406.7 361.2h0.75M407.2 358.4h0.75M400.5 371.7h0.75M392.9 358.8h0.75M393.8 353.3h0.75M395.9 358.8h0.75M413.0 359.8h0.75M383.3 367.8h0.75M404.4 362.3h0.75M399.9 366.5h0.75M394.1 362.7h0.75M398.9 371.9h0.75M407.6 363.4h0.75M388.8 367.5h0.75M397.6 369.1h0.75M398.3 363.5h0.75M402.4 358.3h0.75M393.4 375.5h0.75M392.0 367.8h0.75M402.6 367.1h0.75M407.3 354.9h0.75M404.4 350.8h0.75M398.3 364.4h0.75M404.9 368.6h0.75M391.6 360.9h0.75M396.8 358.5h0.75M392.3 358.7h0.75M405.7 370.2h0.75M403.0 372.0h0.75M398.5 356.3h0.75M393.5 363.6h0.75M404.9 369.4h0.75M391.8 367.9h0.75M394.3 365.9h0.75M404.2 370.9h0.75M394.3 363.9h0.75M400.8 360.1h0.75M398.5 365.9h0.75M386.7 358.8h0.75M413.6 365.1h0.75M394.1 352.0h0.75M391.4 365.4h0.75M402.5 365.0h0.75M401.9 359.1h0.75M408.8 356.1h0.75M401.4 361.0h0.75M386.3 367.6h0.75M396.0 366.5h0.75M406.6 363.4h0.75M393.4 361.3h0.75M397.4 370.7h0.75M403.7 371.5h0.75M403.1 358.1h0.75M404.2 368.0h0.75M397.1 365.1h0.75M395.7 355.3h0.75M397.3 366.8h0.75M395.4 349.7h0.75M392.5 368.7h0.75M399.4 368.9h0.75M392.8 360.1h0.75M391.1 358.1h0.75M401.4 363.3h0.75M394.6 364.2h0.75M389.0 360.3h0.75M387.7 354.0h0.75M388.6 356.2h0.75M408.6 370.3h0.75M406.5 359.2h0.75M402.1 356.0h0.75M394.2 363.9h0.75M387.0 363.6h0.75M402.1 350.7h0.75M381.3 360.9h0.75M397.1 363.3h0.75M390.2 365.7h0.75M398.7 358.3h0.75M409.1 364.0h0.75M402.9 373.1h0.75M394.5 361.2h0.75M386.1 361.2h0.75M400.9 376.8h0.75M401.7 363.6h0.75M389.3 357.6h0.75M385.3 354.6h0.75M398.6 364.2h0.75M391.7 361.2h0.75M392.4 366.0h0.75M402.2 359.3h0.75M394.8 355.5h0.75M394.7 375.0h0.75M397.8 367.4h0.75M401.8 370.9h0.75M395.7 357.3h0.75M405.0 367.8h0.75M393.4 368.8h0.75M397.8 362.2h0.75M410.4 365.5h0.75M400.0 360.7h0.75M399.2 368.5h0.75M401.0 358.2h0.75M400.9 361.8h0.75M400.0 361.4h0.75M383.0 353.3h0.75M395.3 349.9h0.75M387.6 374.1h0.75M402.6 359.9h0.75M400.1 349.7h0.75M399.6 368.1h0.75M399.2 355.0h0.75M404.5 359.4h0.75M394.0 363.6h0.75M395.8 374.2h0.75M396.9 374.8h0.75M401.0 355.4h0.75M397.9 362.8h0.75M407.7 369.8h0.75M415.3 358.7h0.75M394.9 375.9h0.75M391.8 364.5h0.75M408.9 356.7h0.75M395.5 358.2h0.75M401.5 364.8h0.75M397.6 366.3h0.75M392.5 360.3h0.75M401.1 374.1h0.75M397.6 362.8h0.75" stroke="#000" stroke-width="0.75" fill="none" opacity="1"/>
<path d="M448.4 360.4h0.75M448.3 361.4h0.75M446.4 361.1h0.75M420.1 354.9h0.75M437.2 371.2h0.75M455.5 358.1h0.75M463.6 353.4h0.75M421.0 365.5h0.75M436.6 363.7h0.75M416.5 362.3h0.75M443.7 359.7h0.75M444.9 360.1h0.75M436.2 358.1h0.75M438.1 355.5h0.75M448.5 358.7h0.75M422.1 367.4h0.75M429.6 351.0h0.75M426.2 354.7h0.75M429.4 354.5h0.75M432.7 362.7h0.75M424.5 358.8h0.75M429.8 364.9h0.75M422.6 364.5h0.75M447.7 358.8h0.75M419.5 358.2h0.75M416.6 359.0h0.75" stroke="#777" stroke-width="0.75" fill="none" opacity="1"/>
<ellipse cx="400.5" cy="362.0" rx="15.5" ry="12.2" fill="#000" opacity="0.5" filter="url(#bl3)"/>
<path d="M385 360.1 C391 352.8 397.85 349.8 403.85 349.8 C411 349.8 414 355.6 414 361.6 C414 367.6 408.85 374.2 402.85 374.2 C395.85 374.2 390 366.6 385 360.1Z" fill="#0c0c0c" filter="url(#bl2)"/>
<g transform="translate(401.2 360.6) rotate(15)">
<ellipse cx="0" cy="0" rx="11" ry="10.2" fill="#333" stroke="#d2d2d2" stroke-width="0.8"/>
<ellipse cx="0.3" cy="0.2" rx="8.8" ry="8.2" fill="none" stroke="#777" stroke-width="0.45"/>
<ellipse cx="0.6" cy="0.3" rx="6.8" ry="6.3" fill="#2a2a2a" stroke="#8a8a8a" stroke-width="0.45"/>
<ellipse cx="0.9" cy="0.4" rx="5.0" ry="4.6" fill="#2a2a2a" stroke="#777" stroke-width="0.45"/>
<ellipse cx="1.2" cy="0.6" rx="3.1" ry="2.9" fill="#2a2a2a" stroke="#999" stroke-width="0.45"/>
<ellipse cx="1.6" cy="0.6" rx="1.5" ry="0.7" fill="#eee"/>
</g>
<rect x="413.4" y="337.2" width="55.5" height="47.0" fill="none" stroke="#5656a2" stroke-width="1.15"/>
<text x="464.8" y="399.4" font-size="11.4" text-anchor="end" fill="#5656a2" stroke="#5656a2" stroke-width="0.22">0.69%</text>
<rect x="483.9" y="325.9" width="128.5" height="128.5" fill="#fff" stroke="#6a6a6a" stroke-width="1"/>
<path d="M480.7 454.4H483.9M482.29999999999995 448.0H483.9M482.29999999999995 444.2H483.9M482.29999999999995 441.5H483.9M482.29999999999995 439.4H483.9M482.29999999999995 437.7H483.9M482.29999999999995 436.3H483.9M482.29999999999995 435.1H483.9M482.29999999999995 434.0H483.9M480.7 433.0H483.9M482.29999999999995 426.5H483.9M482.29999999999995 422.8H483.9M482.29999999999995 420.1H483.9M482.29999999999995 418.0H483.9M482.29999999999995 416.3H483.9M482.29999999999995 414.9H483.9M482.29999999999995 413.6H483.9M482.29999999999995 412.5H483.9M480.7 411.6H483.9M482.29999999999995 405.1H483.9M482.29999999999995 401.3H483.9M482.29999999999995 398.7H483.9M482.29999999999995 396.6H483.9M482.29999999999995 394.9H483.9M482.29999999999995 393.5H483.9M482.29999999999995 392.2H483.9M482.29999999999995 391.1H483.9M480.7 390.1H483.9M482.29999999999995 383.7H483.9M482.29999999999995 379.9H483.9M482.29999999999995 377.3H483.9M482.29999999999995 375.2H483.9M482.29999999999995 373.5H483.9M482.29999999999995 372.1H483.9M482.29999999999995 370.8H483.9M482.29999999999995 369.7H483.9M480.7 368.7H483.9M482.29999999999995 362.3H483.9M482.29999999999995 358.5H483.9M482.29999999999995 355.8H483.9M482.29999999999995 353.8H483.9M482.29999999999995 352.1H483.9M482.29999999999995 350.6H483.9M482.29999999999995 349.4H483.9M482.29999999999995 348.3H483.9M480.7 347.3H483.9M482.29999999999995 340.9H483.9M482.29999999999995 337.1H483.9M482.29999999999995 334.4H483.9M482.29999999999995 332.3H483.9M482.29999999999995 330.7H483.9M482.29999999999995 329.2H483.9M482.29999999999995 328.0H483.9M482.29999999999995 326.9H483.9M480.7 325.9H483.9M484.6 454.4V457.59999999999997M504.6 454.4V457.59999999999997M526.1 454.4V457.59999999999997M547.6 454.4V457.59999999999997M569.1 454.4V457.59999999999997M590.6 454.4V457.59999999999997M612.1 454.4V457.59999999999997M490.6 454.4V456.0M494.1 454.4V456.0M496.6 454.4V456.0M498.6 454.4V456.0M500.2 454.4V456.0M501.5 454.4V456.0M502.7 454.4V456.0M503.7 454.4V456.0M511.1 454.4V456.0M514.9 454.4V456.0M517.5 454.4V456.0M519.6 454.4V456.0M521.3 454.4V456.0M522.8 454.4V456.0M524.0 454.4V456.0M525.1 454.4V456.0M532.6 454.4V456.0M536.4 454.4V456.0M539.0 454.4V456.0M541.1 454.4V456.0M542.8 454.4V456.0M544.3 454.4V456.0M545.5 454.4V456.0M546.6 454.4V456.0M554.1 454.4V456.0M557.9 454.4V456.0M560.5 454.4V456.0M562.6 454.4V456.0M564.3 454.4V456.0M565.8 454.4V456.0M567.0 454.4V456.0M568.1 454.4V456.0M575.6 454.4V456.0M579.4 454.4V456.0M582.0 454.4V456.0M584.1 454.4V456.0M585.8 454.4V456.0M587.3 454.4V456.0M588.5 454.4V456.0M589.6 454.4V456.0M597.1 454.4V456.0M600.9 454.4V456.0M603.5 454.4V456.0M605.6 454.4V456.0M607.3 454.4V456.0M608.8 454.4V456.0M610.0 454.4V456.0M611.1 454.4V456.0" stroke="#505050" stroke-width="0.8" fill="none"/>
<path d="M525.9 362.6h0.75M534.4 362.2h0.75M531.0 361.6h0.75M514.0 363.1h0.75M562.3 364.9h0.75M510.6 362.2h0.75M506.2 363.5h0.75M528.5 358.7h0.75M520.0 359.6h0.75M531.7 356.7h0.75M533.0 361.5h0.75M544.0 360.3h0.75M531.7 369.7h0.75M555.4 361.8h0.75M510.0 363.0h0.75M545.1 349.9h0.75M529.2 362.0h0.75M532.5 360.9h0.75M529.3 366.0h0.75M540.6 359.4h0.75M528.2 368.8h0.75M518.2 358.4h0.75M539.3 361.1h0.75M538.8 365.9h0.75M558.5 362.2h0.75M532.7 360.3h0.75M528.1 364.5h0.75M511.9 356.3h0.75M524.6 356.7h0.75M520.2 365.3h0.75M496.4 362.8h0.75M511.1 359.5h0.75M522.7 356.5h0.75M508.4 360.8h0.75M485.1 352.0h0.75M525.6 364.9h0.75M575.5 359.3h0.75M519.2 359.4h0.75M542.8 364.2h0.75M516.8 362.4h0.75M531.3 365.1h0.75M525.4 359.7h0.75M518.4 355.2h0.75M538.1 363.3h0.75M558.3 361.6h0.75M524.5 356.8h0.75M513.5 357.6h0.75M539.7 360.9h0.75M495.6 360.1h0.75M527.3 356.3h0.75M531.5 362.6h0.75M515.5 355.1h0.75M526.7 361.6h0.75M527.8 366.7h0.75M535.2 356.5h0.75M550.1 357.9h0.75M548.1 360.9h0.75M560.9 356.5h0.75M548.9 362.2h0.75M517.5 363.3h0.75M585.5 361.9h0.75M519.7 359.9h0.75M562.6 361.5h0.75M566.9 357.9h0.75M562.8 354.2h0.75M529.2 359.3h0.75M524.1 365.4h0.75M522.3 361.9h0.75M575.8 363.8h0.75M525.3 357.6h0.75M500.1 362.0h0.75M552.9 364.9h0.75M537.5 369.1h0.75M550.2 351.3h0.75M517.9 363.7h0.75M525.5 363.9h0.75M592.8 357.5h0.75M584.4 360.2h0.75M508.5 360.9h0.75M553.3 358.2h0.75M569.4 357.0h0.75M528.8 364.2h0.75M528.5 358.3h0.75M531.6 363.1h0.75M573.1 365.9h0.75M576.5 360.4h0.75M505.5 360.3h0.75M525.3 356.5h0.75M523.7 360.2h0.75M533.1 364.2h0.75M517.4 365.1h0.75M532.9 363.4h0.75M561.5 355.5h0.75M570.0 357.6h0.75M541.4 364.9h0.75M553.9 354.2h0.75M535.8 365.0h0.75M530.0 360.2h0.75M533.6 367.1h0.75M523.3 356.7h0.75M514.3 358.4h0.75M528.2 361.9h0.75M530.6 353.6h0.75M506.9 363.2h0.75M549.2 355.1h0.75M554.3 350.8h0.75M587.5 362.9h0.75M505.5 362.5h0.75M531.4 358.7h0.75M526.1 359.6h0.75M530.3 356.9h0.75M522.9 362.7h0.75M544.6 355.2h0.75M524.1 366.8h0.75M549.1 367.1h0.75M510.4 356.3h0.75M497.3 352.7h0.75M526.0 356.3h0.75M514.6 357.7h0.75M529.0 363.8h0.75M545.4 353.5h0.75M567.7 359.2h0.75M516.0 360.4h0.75M525.6 354.9h0.75M569.3 358.2h0.75M522.4 362.7h0.75M572.1 362.4h0.75M517.6 362.3h0.75M558.5 362.0h0.75M547.5 358.6h0.75M530.9 353.8h0.75M520.5 355.9h0.75M532.1 366.5h0.75M496.0 355.2h0.75M517.1 360.1h0.75M559.9 357.4h0.75M519.4 365.4h0.75M540.9 362.6h0.75M552.0 357.5h0.75M537.3 357.9h0.75M520.4 361.0h0.75M542.4 355.4h0.75M519.6 362.9h0.75M536.0 363.2h0.75M526.9 357.3h0.75M550.8 362.9h0.75M486.4 364.0h0.75M519.8 363.2h0.75M569.8 359.4h0.75M516.4 361.5h0.75M534.1 362.8h0.75M509.5 361.5h0.75M553.5 363.3h0.75M547.1 365.3h0.75M518.7 365.4h0.75M537.0 356.5h0.75M527.2 361.6h0.75M540.0 365.9h0.75M536.6 358.5h0.75M584.6 359.2h0.75M518.8 364.2h0.75M525.3 357.3h0.75M514.9 365.3h0.75M514.9 360.9h0.75M524.7 359.7h0.75M518.9 361.1h0.75M546.5 364.7h0.75M526.2 355.8h0.75M508.2 360.5h0.75M492.1 365.8h0.75M532.7 361.0h0.75M509.6 357.9h0.75M520.1 363.2h0.75M525.4 363.0h0.75M544.4 352.8h0.75M528.2 365.6h0.75M523.8 361.0h0.75M530.0 355.6h0.75M584.6 360.0h0.75M547.4 358.7h0.75M565.8 365.1h0.75M560.4 364.3h0.75M548.9 366.1h0.75M541.7 361.1h0.75M551.5 356.9h0.75M491.2 363.8h0.75M535.7 357.7h0.75M527.7 356.7h0.75M518.5 361.3h0.75M534.9 363.9h0.75M530.5 363.1h0.75M548.4 357.7h0.75M504.9 357.8h0.75M527.9 358.4h0.75M585.2 357.8h0.75M543.4 357.5h0.75M548.6 355.5h0.75M554.9 361.3h0.75M525.6 355.8h0.75M572.2 358.2h0.75M566.7 350.9h0.75M512.7 367.8h0.75M575.0 360.6h0.75M556.0 363.0h0.75M526.2 361.1h0.75M513.6 355.2h0.75M535.0 363.5h0.75M535.8 355.6h0.75M552.4 360.9h0.75M550.1 359.4h0.75M527.7 364.7h0.75M565.0 355.7h0.75M514.2 364.4h0.75M540.7 360.8h0.75M516.3 364.6h0.75M536.5 361.4h0.75M541.3 358.5h0.75M541.6 361.1h0.75M549.3 362.1h0.75M511.4 357.7h0.75M527.7 365.2h0.75M521.6 365.1h0.75M558.0 364.0h0.75M586.3 360.5h0.75M539.7 365.4h0.75M541.8 364.5h0.75M529.9 366.2h0.75M540.5 352.9h0.75M558.1 359.8h0.75M517.8 359.4h0.75M527.5 365.1h0.75M540.0 360.3h0.75M531.8 357.0h0.75M521.7 358.7h0.75M528.4 355.9h0.75M525.6 364.6h0.75M542.9 360.6h0.75M540.3 359.6h0.75M513.0 364.1h0.75M586.1 362.6h0.75M548.5 370.4h0.75M512.6 362.7h0.75M526.5 359.5h0.75M505.4 360.2h0.75M541.6 354.2h0.75M528.5 358.6h0.75M515.9 363.1h0.75M571.6 362.2h0.75M556.8 363.6h0.75M531.0 362.9h0.75M563.9 358.9h0.75M529.6 355.1h0.75M502.1 357.3h0.75M553.6 362.0h0.75M538.3 365.8h0.75M503.6 366.0h0.75M534.0 363.6h0.75M565.3 357.3h0.75M518.0 362.2h0.75M531.1 358.2h0.75M530.0 357.7h0.75M535.3 359.0h0.75M573.0 356.4h0.75M546.0 360.9h0.75M570.1 356.7h0.75M524.5 367.4h0.75M521.4 359.0h0.75M525.7 356.7h0.75M561.4 366.6h0.75M529.6 357.6h0.75M510.3 363.2h0.75M523.5 362.7h0.75M493.3 358.9h0.75M547.1 362.2h0.75M486.0 361.7h0.75M535.1 360.5h0.75M526.5 358.8h0.75M535.5 362.6h0.75M554.4 359.7h0.75M561.4 356.9h0.75M578.1 364.4h0.75M525.5 371.5h0.75M566.7 366.8h0.75M512.8 360.1h0.75M543.4 364.7h0.75M533.8 355.4h0.75M561.4 359.9h0.75M542.6 359.3h0.75M530.2 355.1h0.75M548.1 358.1h0.75M503.5 362.2h0.75M531.4 364.4h0.75M551.8 355.7h0.75M529.2 360.5h0.75M534.2 356.4h0.75M533.8 364.4h0.75M561.9 366.3h0.75M550.3 350.6h0.75M527.6 358.4h0.75M485.4 366.7h0.75M554.0 360.5h0.75M540.7 362.5h0.75M528.5 366.0h0.75M576.0 363.8h0.75M523.1 361.5h0.75M555.6 363.4h0.75M521.0 364.3h0.75M549.5 362.9h0.75M525.3 360.4h0.75M501.3 360.4h0.75M524.9 359.4h0.75M527.5 359.3h0.75M534.1 360.9h0.75M522.2 360.0h0.75M530.5 362.5h0.75M542.6 359.1h0.75M518.7 354.1h0.75M511.9 362.2h0.75M517.2 366.9h0.75M529.5 359.0h0.75M529.5 358.4h0.75M521.9 360.8h0.75M508.8 361.1h0.75M530.5 357.0h0.75M556.7 362.0h0.75M558.1 357.9h0.75M512.1 355.9h0.75M506.8 353.1h0.75M569.7 358.7h0.75M536.7 358.4h0.75M529.7 366.8h0.75M504.1 356.6h0.75M535.2 357.0h0.75M548.7 365.7h0.75M553.5 363.5h0.75M529.4 364.5h0.75M519.1 355.8h0.75M527.8 359.5h0.75M561.5 356.6h0.75M559.6 357.5h0.75M511.7 353.8h0.75M531.4 354.8h0.75M537.1 360.7h0.75M525.6 352.9h0.75M523.7 362.3h0.75M503.4 363.3h0.75M532.4 358.4h0.75M536.9 363.1h0.75M531.7 357.5h0.75M550.9 357.8h0.75M540.7 364.4h0.75M563.5 366.8h0.75M556.7 361.1h0.75M528.8 361.3h0.75M544.7 372.3h0.75M547.9 357.3h0.75M568.6 354.2h0.75M556.2 355.5h0.75M514.5 358.5h0.75M527.4 355.2h0.75M546.9 360.1h0.75M564.3 356.5h0.75M502.9 363.2h0.75M528.4 364.4h0.75M494.5 355.6h0.75M534.2 368.2h0.75M512.2 353.0h0.75M524.7 366.1h0.75M570.1 355.1h0.75M522.2 353.2h0.75M518.5 356.7h0.75M542.3 365.0h0.75M589.4 359.1h0.75M551.7 361.4h0.75M535.1 368.2h0.75M548.9 366.7h0.75M539.3 363.9h0.75M544.2 360.1h0.75M520.8 358.9h0.75M532.3 359.0h0.75M526.5 357.7h0.75M552.7 359.6h0.75M530.1 359.7h0.75M563.6 358.4h0.75M566.0 357.1h0.75M568.8 362.9h0.75M524.2 362.3h0.75M559.4 356.8h0.75M528.4 361.8h0.75M528.7 359.4h0.75M532.5 361.8h0.75M550.7 366.4h0.75M526.9 372.1h0.75M526.8 367.5h0.75M530.0 354.8h0.75M525.1 359.2h0.75M557.8 352.5h0.75M521.9 360.0h0.75M547.8 362.1h0.75M552.6 359.9h0.75M528.3 365.3h0.75M573.4 362.0h0.75M535.8 357.1h0.75M582.6 362.1h0.75M546.9 354.2h0.75M546.6 370.1h0.75M529.4 359.7h0.75M568.9 359.8h0.75M552.3 368.2h0.75M513.3 357.2h0.75M548.4 361.0h0.75M533.0 359.9h0.75M535.2 361.9h0.75M524.4 359.4h0.75M537.6 356.2h0.75M542.7 351.8h0.75M547.4 360.0h0.75M513.3 365.9h0.75M513.3 368.7h0.75M520.4 365.3h0.75M531.0 366.9h0.75M528.5 364.6h0.75M526.9 353.1h0.75M541.4 362.4h0.75M541.7 367.1h0.75M520.3 354.9h0.75M538.2 357.8h0.75M530.4 360.5h0.75M519.0 364.8h0.75M530.1 367.6h0.75M538.1 364.7h0.75M527.4 357.9h0.75M523.6 357.0h0.75M542.8 361.1h0.75M514.9 354.4h0.75M518.4 353.3h0.75M518.0 354.5h0.75M549.0 355.9h0.75M522.7 360.0h0.75M532.9 362.2h0.75M550.3 363.1h0.75M526.6 365.5h0.75M541.0 357.7h0.75M567.8 355.8h0.75M543.4 365.5h0.75M534.8 361.9h0.75M535.0 363.2h0.75M537.5 360.5h0.75M548.9 353.0h0.75M538.1 359.3h0.75M578.9 361.7h0.75M521.6 363.1h0.75M526.0 355.8h0.75M527.6 362.5h0.75M560.4 364.7h0.75M537.6 359.9h0.75M536.9 365.3h0.75M530.1 365.1h0.75M519.5 360.5h0.75M550.5 363.3h0.75M536.9 358.5h0.75M503.6 358.8h0.75M518.7 358.9h0.75M569.7 357.5h0.75M552.3 360.4h0.75M514.6 360.9h0.75M550.0 355.8h0.75M513.7 359.0h0.75M549.3 358.1h0.75M542.1 362.3h0.75M532.4 362.3h0.75M562.2 359.8h0.75M539.8 356.3h0.75M520.7 360.1h0.75M551.4 357.9h0.75M510.1 364.2h0.75M588.3 350.3h0.75M515.3 361.0h0.75M543.6 356.8h0.75" stroke="#000" stroke-width="0.75" fill="none" opacity="1"/>
<path d="M540.7 368.8h0.75M535.9 366.7h0.75M539.0 357.2h0.75M533.2 359.0h0.75M548.5 369.1h0.75M539.9 353.5h0.75M534.2 360.2h0.75M522.9 362.4h0.75M540.3 354.9h0.75M534.7 359.9h0.75M552.6 366.3h0.75M544.1 363.0h0.75M528.0 367.8h0.75M532.7 351.5h0.75M543.8 360.5h0.75M538.0 365.5h0.75M536.2 364.9h0.75M548.2 360.7h0.75M535.3 362.6h0.75M543.1 360.2h0.75M538.7 358.6h0.75M537.4 365.6h0.75M531.6 361.5h0.75M526.6 358.5h0.75M538.6 365.5h0.75M530.0 361.9h0.75M530.8 364.3h0.75M540.1 365.1h0.75M536.4 354.4h0.75M533.6 354.8h0.75M532.7 362.2h0.75M546.5 358.8h0.75M532.0 363.7h0.75M521.9 373.9h0.75M526.0 368.3h0.75M545.7 368.0h0.75M537.2 366.7h0.75M535.3 368.0h0.75M532.9 357.8h0.75M541.0 359.9h0.75M543.3 357.6h0.75M540.1 356.9h0.75M537.2 374.8h0.75M529.6 355.5h0.75M525.5 361.2h0.75M550.7 359.9h0.75M545.3 361.5h0.75M533.1 374.0h0.75M546.4 352.0h0.75M530.4 364.9h0.75M543.1 361.2h0.75M540.5 365.6h0.75M535.3 368.2h0.75M531.4 366.8h0.75M545.1 363.7h0.75M535.3 362.4h0.75M520.8 364.0h0.75M527.0 351.0h0.75M544.0 357.3h0.75M540.8 362.8h0.75M524.3 357.4h0.75M535.9 365.2h0.75M538.6 355.3h0.75M533.9 363.1h0.75M528.1 360.0h0.75M533.8 350.4h0.75M551.4 367.5h0.75M534.4 367.9h0.75M529.9 371.2h0.75M535.1 363.3h0.75M533.5 363.0h0.75M540.6 362.7h0.75M531.6 366.8h0.75M542.3 362.5h0.75M546.2 358.3h0.75M547.9 361.6h0.75M549.8 360.0h0.75M536.1 363.7h0.75M546.5 370.7h0.75M534.5 358.4h0.75M543.9 369.6h0.75M543.5 360.6h0.75M547.9 362.4h0.75M539.3 366.1h0.75M533.6 349.6h0.75M539.7 366.6h0.75M541.4 365.6h0.75M539.3 368.5h0.75M538.9 371.0h0.75M538.4 367.1h0.75M533.7 364.2h0.75M541.3 363.3h0.75M550.0 362.8h0.75M546.7 364.5h0.75M546.5 357.4h0.75M535.2 368.0h0.75M531.7 364.8h0.75M542.4 363.6h0.75M541.4 365.6h0.75M536.2 364.9h0.75M534.0 359.9h0.75M525.7 361.9h0.75M524.9 362.7h0.75M539.6 356.3h0.75M538.6 364.2h0.75M535.3 357.3h0.75M537.2 364.8h0.75M545.2 373.6h0.75M522.7 364.5h0.75M541.4 358.9h0.75M540.5 374.5h0.75M538.9 370.3h0.75M546.3 360.0h0.75M520.1 369.1h0.75M549.9 352.4h0.75M536.5 358.5h0.75M539.6 362.9h0.75M546.9 359.1h0.75M552.9 352.7h0.75M539.7 377.8h0.75M537.3 366.1h0.75M534.4 381.4h0.75M544.9 360.5h0.75M523.2 363.7h0.75M543.7 350.8h0.75M534.2 365.7h0.75M519.4 361.4h0.75M525.7 354.8h0.75M541.2 369.0h0.75M547.0 358.7h0.75M541.9 352.4h0.75M526.6 365.6h0.75M534.9 356.7h0.75M523.5 361.2h0.75M555.3 351.0h0.75M529.9 368.9h0.75M523.2 358.9h0.75M538.5 369.0h0.75M537.4 373.0h0.75M537.8 361.9h0.75M541.4 364.5h0.75M526.4 357.1h0.75M536.2 364.5h0.75M528.5 358.4h0.75M532.2 364.5h0.75M534.7 366.0h0.75M541.0 357.3h0.75M535.7 355.4h0.75M538.8 367.2h0.75M530.4 352.3h0.75M542.0 360.8h0.75M537.8 365.1h0.75M540.9 367.8h0.75M534.5 349.8h0.75M534.2 360.7h0.75M534.8 364.8h0.75M536.1 370.0h0.75M533.1 362.5h0.75M535.2 374.7h0.75M530.6 356.7h0.75M535.0 366.9h0.75M538.1 361.5h0.75M526.6 350.6h0.75M536.3 361.1h0.75M551.7 364.6h0.75M541.3 368.1h0.75M531.0 355.4h0.75M535.1 371.0h0.75M545.7 359.1h0.75M528.3 367.9h0.75M546.5 356.2h0.75M550.5 358.0h0.75M543.8 361.3h0.75M535.4 359.0h0.75M543.4 366.1h0.75M544.3 360.9h0.75M531.4 374.9h0.75M551.4 361.4h0.75M529.1 371.1h0.75M539.0 362.8h0.75M544.7 364.5h0.75M538.9 374.0h0.75M523.2 366.2h0.75M530.3 362.9h0.75M536.7 364.0h0.75M519.1 366.5h0.75M556.2 360.1h0.75M545.1 366.1h0.75M540.3 359.6h0.75M543.0 364.1h0.75M549.3 367.3h0.75M532.4 345.7h0.75M549.8 365.3h0.75M539.4 359.0h0.75M557.7 370.2h0.75M538.8 360.4h0.75M542.5 370.3h0.75M542.1 368.0h0.75M540.1 364.6h0.75M528.0 363.2h0.75M538.4 362.1h0.75M536.1 364.3h0.75M533.5 361.4h0.75M527.7 375.9h0.75M531.0 355.5h0.75M533.8 360.1h0.75M529.5 348.4h0.75M550.9 368.4h0.75M535.0 365.7h0.75M529.2 353.1h0.75M540.6 365.8h0.75M532.6 362.5h0.75M513.7 361.7h0.75M546.3 363.5h0.75M539.4 365.8h0.75M521.5 355.1h0.75M528.0 363.9h0.75M533.0 351.6h0.75M545.0 361.4h0.75M545.9 374.1h0.75M524.9 355.1h0.75M546.5 370.7h0.75M541.1 364.6h0.75M543.5 366.3h0.75M527.9 366.8h0.75M545.8 360.2h0.75M530.8 359.7h0.75M533.3 365.6h0.75M544.1 362.6h0.75M535.6 352.3h0.75M534.6 356.7h0.75M533.6 364.5h0.75M539.3 382.7h0.75M531.1 359.4h0.75M528.9 361.0h0.75M535.7 368.3h0.75M522.5 367.8h0.75M543.1 359.5h0.75M532.6 363.6h0.75M542.1 361.6h0.75M536.8 362.6h0.75M529.4 364.1h0.75M542.6 362.8h0.75M528.9 362.5h0.75M537.1 364.3h0.75M534.7 367.3h0.75M546.6 367.3h0.75M539.8 369.5h0.75M537.7 361.5h0.75M526.6 362.6h0.75M547.6 357.0h0.75M544.2 355.2h0.75M540.4 373.0h0.75M538.3 355.8h0.75M540.3 361.7h0.75M544.3 359.5h0.75M524.2 359.8h0.75M542.7 368.4h0.75M540.2 362.7h0.75M543.4 361.4h0.75M534.4 363.8h0.75M546.7 359.6h0.75M541.9 358.9h0.75M532.1 363.5h0.75M527.4 357.6h0.75M528.5 359.1h0.75M530.7 375.8h0.75M542.8 362.9h0.75M527.3 349.0h0.75M541.5 358.9h0.75M546.3 360.3h0.75M527.6 358.9h0.75M525.8 354.5h0.75M543.6 359.5h0.75M543.4 359.3h0.75M536.1 359.4h0.75M533.6 358.8h0.75M549.8 362.2h0.75M522.5 372.1h0.75M547.9 368.9h0.75M537.1 361.6h0.75M534.1 363.2h0.75M541.7 362.5h0.75M531.4 357.0h0.75M551.2 372.1h0.75M528.1 358.9h0.75M537.6 365.8h0.75M537.0 363.9h0.75M540.8 369.0h0.75M527.6 368.7h0.75M541.4 365.6h0.75M525.9 361.2h0.75M535.9 366.1h0.75M543.4 366.4h0.75M527.6 369.6h0.75M538.5 367.8h0.75M537.8 358.6h0.75M558.8 366.2h0.75M544.0 359.9h0.75M536.2 368.8h0.75M541.5 372.4h0.75M547.5 356.5h0.75M525.6 369.1h0.75M542.7 361.1h0.75M535.6 359.4h0.75M552.2 361.6h0.75M526.9 367.6h0.75M537.2 364.5h0.75M534.8 362.3h0.75M522.9 365.5h0.75M532.4 360.4h0.75M540.4 369.7h0.75M520.7 361.8h0.75M542.2 368.2h0.75M530.6 364.3h0.75M541.1 367.8h0.75M532.9 361.5h0.75M533.8 368.9h0.75M546.5 360.0h0.75M536.8 363.8h0.75M530.7 361.9h0.75M544.8 366.9h0.75M532.5 358.9h0.75M536.9 354.3h0.75M540.3 363.2h0.75M527.2 361.2h0.75M532.6 361.0h0.75M530.9 370.2h0.75M530.2 366.8h0.75M539.5 370.6h0.75M537.4 362.6h0.75M538.4 352.0h0.75M557.0 361.4h0.75M535.3 356.3h0.75M536.8 371.5h0.75M531.8 365.0h0.75M546.1 367.8h0.75M534.6 352.9h0.75M541.1 365.7h0.75M535.3 360.2h0.75M551.8 353.8h0.75M533.8 359.2h0.75M525.4 358.7h0.75M531.5 369.4h0.75M523.9 355.0h0.75M539.9 354.0h0.75M521.9 359.1h0.75M528.2 357.2h0.75M536.6 365.1h0.75M532.7 361.0h0.75M543.6 361.7h0.75M543.7 359.3h0.75M541.8 369.6h0.75M526.8 379.1h0.75M535.3 360.7h0.75M536.6 365.1h0.75M528.2 362.8h0.75M533.2 370.4h0.75M524.1 366.1h0.75M535.3 358.5h0.75M538.9 361.3h0.75M538.2 363.9h0.75M547.5 360.3h0.75M551.2 347.7h0.75M552.4 369.3h0.75M550.3 363.7h0.75M540.1 357.0h0.75M548.5 356.2h0.75M531.5 362.6h0.75M539.7 364.4h0.75M528.6 360.7h0.75M541.8 369.1h0.75M544.0 364.9h0.75M535.8 359.6h0.75M533.8 362.1h0.75M542.1 359.8h0.75M554.3 357.1h0.75M544.4 361.5h0.75M536.7 360.5h0.75M550.1 360.9h0.75M542.2 363.2h0.75M543.8 365.8h0.75M551.0 358.6h0.75M531.3 371.9h0.75M548.0 363.0h0.75M535.6 364.0h0.75M548.2 358.4h0.75M549.4 362.3h0.75M535.0 360.4h0.75M521.1 364.3h0.75M527.4 359.5h0.75M530.7 363.9h0.75M543.6 362.8h0.75M539.4 364.8h0.75M550.7 365.7h0.75M550.4 362.2h0.75M540.7 359.0h0.75M542.6 357.9h0.75M541.6 359.1h0.75M535.0 369.3h0.75M539.0 366.9h0.75M535.9 352.4h0.75M549.6 361.6h0.75M532.7 367.8h0.75M528.8 358.5h0.75M547.0 358.8h0.75M546.9 360.9h0.75M536.2 363.0h0.75M533.9 368.5h0.75M546.6 363.0h0.75M542.7 365.5h0.75M551.3 353.9h0.75M546.0 367.6h0.75M535.4 362.7h0.75M535.1 369.4h0.75M528.7 365.9h0.75M548.1 365.7h0.75M534.0 360.1h0.75M521.0 357.0h0.75M546.6 357.4h0.75M524.8 361.2h0.75M526.0 365.1h0.75M530.9 367.8h0.75M536.9 354.8h0.75M531.7 359.1h0.75M531.1 369.3h0.75M529.9 364.6h0.75M533.2 365.8h0.75M526.5 354.0h0.75M541.9 370.4h0.75M526.8 360.9h0.75M533.8 357.5h0.75M545.6 362.9h0.75M526.8 361.4h0.75M548.5 358.7h0.75M533.8 358.1h0.75M539.2 359.6h0.75M545.0 358.1h0.75M526.2 365.1h0.75M512.6 357.4h0.75M540.1 363.9h0.75M533.3 360.2h0.75M542.0 383.0h0.75M531.4 361.6h0.75M534.2 365.6h0.75M537.9 365.6h0.75M550.9 361.1h0.75M535.6 364.6h0.75M554.6 360.6h0.75M551.3 369.1h0.75M516.0 357.2h0.75M530.0 364.8h0.75M548.5 362.9h0.75M539.2 374.4h0.75M540.7 374.4h0.75M530.7 371.6h0.75M533.8 349.3h0.75M531.3 360.0h0.75M537.5 366.7h0.75M543.4 365.5h0.75M531.9 372.3h0.75M547.4 362.8h0.75M533.3 362.3h0.75M536.1 358.8h0.75M537.8 359.0h0.75M543.0 359.0h0.75M541.8 364.4h0.75M539.2 365.5h0.75M529.7 376.7h0.75M532.4 366.6h0.75M538.1 360.2h0.75M551.8 368.6h0.75M535.7 365.7h0.75M543.3 371.2h0.75M546.0 361.7h0.75M535.9 356.2h0.75M540.0 367.3h0.75M534.8 366.2h0.75M538.9 360.1h0.75M528.2 368.7h0.75M558.1 365.6h0.75M529.3 356.9h0.75M539.9 366.2h0.75M550.0 349.4h0.75M552.7 363.5h0.75M539.0 364.7h0.75M535.1 361.0h0.75M546.3 353.1h0.75M537.0 365.7h0.75M524.7 361.7h0.75M550.1 364.6h0.75M543.6 366.5h0.75M539.7 364.6h0.75M531.4 361.4h0.75M552.7 355.8h0.75M536.6 355.6h0.75M533.6 358.3h0.75M528.1 363.9h0.75M530.4 365.5h0.75M552.4 348.5h0.75M536.6 351.1h0.75M536.9 364.6h0.75M539.6 369.2h0.75M539.2 353.1h0.75M550.0 357.4h0.75M537.2 364.4h0.75M530.9 363.1h0.75M549.9 353.3h0.75M524.6 360.1h0.75M536.6 355.5h0.75M519.5 367.6h0.75M541.1 355.3h0.75M542.5 362.2h0.75M539.2 355.2h0.75M536.2 365.2h0.75M523.9 356.8h0.75M545.7 373.6h0.75M543.2 362.2h0.75M529.3 360.3h0.75M535.9 365.0h0.75M535.9 376.2h0.75M548.5 350.5h0.75M528.6 362.6h0.75M545.8 364.8h0.75M515.9 353.5h0.75M548.8 365.8h0.75M558.5 367.0h0.75M541.7 371.0h0.75M534.4 359.6h0.75M529.8 363.9h0.75M541.5 367.8h0.75M549.6 366.0h0.75M547.8 361.2h0.75M530.2 366.6h0.75M546.1 370.0h0.75M536.6 360.0h0.75M535.1 364.6h0.75M537.6 361.5h0.75M540.0 361.0h0.75M540.7 359.2h0.75M525.6 360.8h0.75M553.1 358.1h0.75M545.3 370.0h0.75M533.6 364.0h0.75M519.7 365.7h0.75M550.3 363.6h0.75M522.0 359.3h0.75M532.0 363.2h0.75M540.3 360.3h0.75M535.5 358.0h0.75M542.6 363.7h0.75M540.8 359.8h0.75M541.9 360.9h0.75M540.4 361.7h0.75M532.7 356.5h0.75M523.0 355.0h0.75M541.7 380.7h0.75M524.8 358.0h0.75M537.9 382.4h0.75M536.3 356.1h0.75M541.3 374.2h0.75M515.6 356.0h0.75M547.9 356.1h0.75M537.1 359.0h0.75M544.1 354.5h0.75M540.5 363.8h0.75M542.5 364.9h0.75M539.2 352.6h0.75M535.4 357.3h0.75M542.2 361.2h0.75M539.2 368.7h0.75M537.1 371.9h0.75M544.7 354.3h0.75M533.3 369.3h0.75M534.0 369.2h0.75M533.5 361.9h0.75M546.2 353.7h0.75M538.6 360.0h0.75M539.4 372.1h0.75M541.9 355.0h0.75M545.7 360.0h0.75M539.3 369.0h0.75M535.5 367.9h0.75M539.4 357.5h0.75M535.5 354.9h0.75M547.5 363.4h0.75M545.8 356.3h0.75M544.8 355.8h0.75M540.2 362.4h0.75M533.3 364.2h0.75M538.3 357.7h0.75M532.0 355.2h0.75M549.0 363.4h0.75M535.1 366.4h0.75M531.1 356.0h0.75M540.9 371.4h0.75M540.4 363.4h0.75M552.0 353.9h0.75M562.5 356.3h0.75M537.4 355.0h0.75M528.3 361.2h0.75M557.6 357.2h0.75M533.1 364.0h0.75M529.8 361.1h0.75M544.6 350.3h0.75M535.6 360.9h0.75M533.9 361.8h0.75M523.6 360.0h0.75M533.8 356.7h0.75M548.1 373.7h0.75M544.4 357.6h0.75M549.4 365.3h0.75M531.5 365.9h0.75M533.4 365.7h0.75M545.4 369.0h0.75M529.6 361.8h0.75M538.0 355.6h0.75M541.3 366.4h0.75M526.9 359.4h0.75M529.2 355.4h0.75M529.5 370.2h0.75M532.7 360.3h0.75M545.9 368.3h0.75M549.3 350.8h0.75M544.0 352.6h0.75M532.9 360.2h0.75M533.4 373.5h0.75M536.7 369.1h0.75M536.6 362.2h0.75M542.1 365.0h0.75M542.0 352.7h0.75M542.1 364.3h0.75M542.8 362.2h0.75M541.3 355.2h0.75M547.1 355.7h0.75M549.2 368.2h0.75M537.5 360.8h0.75M544.2 360.8h0.75M528.5 364.1h0.75M528.2 359.9h0.75M552.4 367.1h0.75M534.4 362.1h0.75M532.8 362.4h0.75M526.4 366.3h0.75M538.1 359.1h0.75M533.1 377.3h0.75M534.5 359.8h0.75M533.3 359.7h0.75M548.5 366.3h0.75M541.4 364.6h0.75M528.9 348.9h0.75M550.1 366.5h0.75M539.7 364.1h0.75M539.6 362.6h0.75M535.9 349.9h0.75M542.6 362.8h0.75M545.8 364.2h0.75M535.7 365.9h0.75M539.5 360.0h0.75M535.0 360.1h0.75M535.6 360.0h0.75M545.9 379.0h0.75M537.1 368.8h0.75M522.2 344.3h0.75M534.2 361.6h0.75M532.1 354.8h0.75M531.2 359.6h0.75M539.2 360.6h0.75M528.4 360.4h0.75M550.1 357.5h0.75M538.5 368.2h0.75M531.6 359.3h0.75M561.2 369.5h0.75M533.8 363.4h0.75M538.8 363.3h0.75M541.7 360.8h0.75M520.3 357.1h0.75M539.2 354.8h0.75M535.4 371.0h0.75M539.9 358.8h0.75M539.1 368.4h0.75M524.3 355.4h0.75M532.7 360.0h0.75M537.3 359.2h0.75M538.9 363.0h0.75M528.7 359.0h0.75M528.1 364.1h0.75M540.1 366.2h0.75M531.0 359.5h0.75M520.3 362.6h0.75M525.1 364.5h0.75M546.6 365.0h0.75M543.0 363.8h0.75M541.0 367.8h0.75M548.1 373.9h0.75M535.9 367.2h0.75M544.9 364.9h0.75M540.1 355.4h0.75M546.7 357.5h0.75M532.8 357.7h0.75M542.5 357.0h0.75M541.7 365.7h0.75M538.8 360.6h0.75M542.8 369.9h0.75M534.3 356.6h0.75M533.2 357.6h0.75M536.1 361.6h0.75M519.6 370.7h0.75M531.5 360.1h0.75M522.4 351.4h0.75M529.9 363.8h0.75M544.8 352.3h0.75M539.8 371.0h0.75M535.7 367.7h0.75M540.5 357.3h0.75M545.9 359.1h0.75M540.8 360.2h0.75M536.3 363.4h0.75M548.6 353.0h0.75M529.1 363.1h0.75M545.8 361.4h0.75M536.5 365.5h0.75M550.6 357.4h0.75M525.3 360.9h0.75M544.1 355.1h0.75M547.0 367.8h0.75M544.3 357.7h0.75M527.7 366.2h0.75M540.1 366.4h0.75M527.2 345.9h0.75M546.9 368.1h0.75M535.8 362.5h0.75M541.6 366.7h0.75M536.5 359.6h0.75M530.2 368.3h0.75M538.8 343.3h0.75M540.7 359.3h0.75M527.8 359.6h0.75M527.8 360.0h0.75M533.6 365.4h0.75M529.9 352.3h0.75M533.2 354.8h0.75M543.9 361.3h0.75M524.6 357.6h0.75M537.8 362.3h0.75M523.3 361.8h0.75M540.4 368.0h0.75M546.8 361.8h0.75M527.6 360.4h0.75M543.2 357.3h0.75M548.0 357.1h0.75M529.0 367.2h0.75M537.2 364.3h0.75M535.6 362.7h0.75M533.3 373.1h0.75M543.2 361.8h0.75M541.8 367.2h0.75M533.8 363.5h0.75M539.6 359.3h0.75M531.8 361.4h0.75M535.6 360.2h0.75M522.5 362.9h0.75M543.2 362.9h0.75M551.7 367.3h0.75M535.2 358.7h0.75M542.0 360.4h0.75M525.1 363.2h0.75M535.6 361.2h0.75M542.9 363.6h0.75M554.1 358.3h0.75M537.2 364.2h0.75M534.5 359.6h0.75M552.0 354.3h0.75M540.8 352.7h0.75M540.7 351.7h0.75M528.7 368.9h0.75M550.3 363.2h0.75M516.3 368.2h0.75M539.9 356.3h0.75M535.2 355.1h0.75M537.2 362.0h0.75M539.0 366.9h0.75M532.9 350.1h0.75M528.7 355.4h0.75M535.1 360.0h0.75M537.7 370.2h0.75M538.2 356.5h0.75M535.6 357.6h0.75M536.1 365.7h0.75M529.0 366.4h0.75M552.2 371.0h0.75M551.0 363.0h0.75M527.2 373.7h0.75M537.6 363.8h0.75M535.2 357.2h0.75M542.9 354.7h0.75M527.0 365.6h0.75M535.0 357.8h0.75M542.0 370.4h0.75M535.7 361.7h0.75M542.5 367.7h0.75M546.2 366.3h0.75M532.7 365.5h0.75M538.1 353.0h0.75M547.8 365.7h0.75M548.9 362.1h0.75M543.8 362.1h0.75M539.3 367.6h0.75M538.5 365.9h0.75M537.7 369.3h0.75M543.2 353.3h0.75M551.2 364.9h0.75M533.9 359.0h0.75M553.8 363.0h0.75M542.1 365.8h0.75M533.2 372.3h0.75M554.7 358.2h0.75M547.0 353.4h0.75M535.3 362.8h0.75M538.4 365.7h0.75M541.2 364.6h0.75M536.9 364.2h0.75M533.6 373.4h0.75M538.5 369.4h0.75M538.8 361.7h0.75M536.6 355.3h0.75M554.5 364.8h0.75M539.0 359.9h0.75M548.2 360.7h0.75M534.3 359.5h0.75M550.3 364.2h0.75M536.8 358.9h0.75M548.2 364.1h0.75M535.4 367.5h0.75M545.0 357.0h0.75M547.1 368.6h0.75M536.1 355.1h0.75M546.7 360.6h0.75M536.4 360.9h0.75M535.9 367.1h0.75M529.3 365.5h0.75M547.2 368.4h0.75M543.7 364.0h0.75M536.5 361.8h0.75M531.1 371.8h0.75M537.1 356.9h0.75M544.6 370.9h0.75M540.2 360.8h0.75M529.2 366.1h0.75M536.1 358.8h0.75M542.8 355.4h0.75M543.9 349.0h0.75M533.2 354.6h0.75M536.1 366.9h0.75M527.8 370.0h0.75M532.7 359.8h0.75M545.9 358.5h0.75M549.5 361.4h0.75M537.3 357.2h0.75M547.1 362.2h0.75M534.2 357.3h0.75M533.1 362.0h0.75M532.4 366.9h0.75M537.8 359.1h0.75M541.7 370.4h0.75M521.7 364.5h0.75M546.6 363.3h0.75M544.6 354.0h0.75M532.2 368.1h0.75M537.4 362.9h0.75M543.0 364.5h0.75M541.6 359.8h0.75M535.7 369.7h0.75M534.2 354.6h0.75M535.3 367.4h0.75M552.2 363.3h0.75M533.2 365.9h0.75M540.5 369.0h0.75M542.2 366.7h0.75M542.1 364.8h0.75M531.0 361.6h0.75M550.7 369.8h0.75M545.7 364.7h0.75M537.3 364.4h0.75M535.6 368.5h0.75M535.7 358.3h0.75M525.5 371.1h0.75M532.2 357.8h0.75M541.3 372.4h0.75M543.4 360.7h0.75M542.6 358.0h0.75M536.2 362.7h0.75M538.3 366.8h0.75M542.4 372.9h0.75M544.7 361.0h0.75M540.2 357.8h0.75M533.4 360.6h0.75M546.1 358.7h0.75M526.0 357.0h0.75M528.8 361.5h0.75M535.8 356.1h0.75M532.0 360.2h0.75M541.3 365.9h0.75M548.5 361.1h0.75M543.1 362.9h0.75M529.7 359.0h0.75M555.3 361.6h0.75M551.1 367.0h0.75M551.2 361.5h0.75M545.5 360.9h0.75M529.6 356.1h0.75M541.7 353.7h0.75M541.1 357.7h0.75M541.0 355.0h0.75M544.9 361.3h0.75M526.4 354.6h0.75M538.8 353.6h0.75M540.8 365.2h0.75M533.2 370.2h0.75M549.5 364.2h0.75M541.8 365.1h0.75M536.3 369.7h0.75M534.1 348.7h0.75M538.5 364.9h0.75M544.7 356.5h0.75M549.1 358.0h0.75M543.2 366.5h0.75M539.7 368.7h0.75M534.5 373.7h0.75M542.1 360.2h0.75M558.5 362.5h0.75M525.8 370.3h0.75M550.3 359.4h0.75M530.7 368.7h0.75M538.8 357.2h0.75M534.6 362.9h0.75M545.9 371.1h0.75M533.5 370.9h0.75M526.6 366.4h0.75M537.2 364.9h0.75M534.9 358.6h0.75M540.5 368.7h0.75M521.2 362.8h0.75M535.2 356.6h0.75M527.9 365.4h0.75M542.6 366.1h0.75M522.9 354.2h0.75M533.6 360.1h0.75M552.0 360.4h0.75M539.3 368.0h0.75M551.3 364.6h0.75M541.0 373.1h0.75M535.2 352.7h0.75M532.5 360.8h0.75M548.5 364.2h0.75M547.6 363.1h0.75M538.7 359.3h0.75M528.8 365.3h0.75M541.1 365.7h0.75M534.2 360.2h0.75M541.3 365.8h0.75M553.7 357.7h0.75M546.0 367.4h0.75M536.3 363.3h0.75M537.9 370.9h0.75M558.0 364.3h0.75M536.4 367.7h0.75M542.2 361.5h0.75M544.2 367.3h0.75M535.3 367.2h0.75M521.0 355.5h0.75M535.9 363.4h0.75M527.1 370.6h0.75M535.4 363.3h0.75M538.0 366.7h0.75M533.9 366.6h0.75M531.9 354.4h0.75M542.3 363.4h0.75M545.2 351.9h0.75M539.2 359.0h0.75M536.9 360.4h0.75M535.4 358.8h0.75M546.2 353.1h0.75M525.4 364.4h0.75M553.9 358.3h0.75M531.3 356.1h0.75M530.4 369.4h0.75M543.6 367.5h0.75M541.0 363.8h0.75M533.8 357.2h0.75M543.1 376.1h0.75M535.5 369.5h0.75M532.9 362.7h0.75M551.5 362.1h0.75M543.3 359.4h0.75M552.9 355.7h0.75M542.7 361.2h0.75M539.9 364.5h0.75M548.5 367.3h0.75M546.5 364.5h0.75M530.1 369.9h0.75M550.2 365.2h0.75M544.5 361.2h0.75M527.2 367.9h0.75M532.7 373.1h0.75M543.7 362.4h0.75M533.6 363.1h0.75M530.5 360.4h0.75M550.7 360.9h0.75M552.6 362.0h0.75M541.6 357.4h0.75M536.0 360.1h0.75M527.6 373.2h0.75M542.9 362.1h0.75M529.9 362.7h0.75M530.2 357.2h0.75M536.9 374.4h0.75M524.8 365.6h0.75M534.1 346.5h0.75M527.4 361.8h0.75M538.8 358.4h0.75M552.1 365.5h0.75M533.4 353.4h0.75M539.7 358.8h0.75M546.2 356.7h0.75M547.6 360.0h0.75M539.8 361.0h0.75M543.1 368.8h0.75M534.1 357.5h0.75M553.0 367.8h0.75M553.1 367.8h0.75M539.3 371.5h0.75M533.1 360.1h0.75M535.2 366.3h0.75M531.7 361.5h0.75M531.7 361.2h0.75M547.0 368.6h0.75M536.6 376.6h0.75M532.8 365.0h0.75M534.6 350.3h0.75M529.1 369.4h0.75M525.4 378.7h0.75M537.3 364.0h0.75M548.0 362.7h0.75M533.3 359.1h0.75M531.0 365.6h0.75M534.6 365.3h0.75M526.6 360.1h0.75M554.3 364.5h0.75M537.5 369.1h0.75M540.4 371.0h0.75M529.2 366.8h0.75M530.0 366.3h0.75M557.4 371.0h0.75M531.6 364.8h0.75M541.8 358.5h0.75M540.1 356.6h0.75M545.8 367.6h0.75M537.0 366.3h0.75M556.8 361.6h0.75M523.7 364.4h0.75M534.7 358.2h0.75M545.3 368.1h0.75M542.9 371.6h0.75M533.3 360.2h0.75M541.5 347.5h0.75M517.0 364.4h0.75M536.6 362.8h0.75M530.8 363.8h0.75M546.4 359.0h0.75M542.6 361.7h0.75M537.0 363.2h0.75M550.0 365.4h0.75M543.6 363.3h0.75M521.5 367.7h0.75M538.1 363.0h0.75M534.3 354.0h0.75M549.8 372.7h0.75M550.4 352.3h0.75M542.5 356.0h0.75M536.8 359.7h0.75M533.4 358.2h0.75M534.4 366.8h0.75M550.7 367.7h0.75M538.1 361.7h0.75M536.3 362.4h0.75M533.4 361.5h0.75M544.8 361.3h0.75M531.8 361.8h0.75M538.9 362.1h0.75M536.1 366.4h0.75M537.8 356.9h0.75M542.6 358.6h0.75M544.2 367.0h0.75M541.9 364.2h0.75M527.7 361.4h0.75M539.1 366.1h0.75M529.4 361.7h0.75M526.2 363.5h0.75M538.8 363.2h0.75M551.1 366.6h0.75M536.6 359.3h0.75M534.7 366.9h0.75M545.3 359.7h0.75M537.2 360.1h0.75M543.5 363.6h0.75M532.5 357.6h0.75M548.3 354.7h0.75M524.0 345.4h0.75M554.1 359.5h0.75M544.8 365.6h0.75M544.7 368.8h0.75M534.5 362.4h0.75M545.9 365.6h0.75M532.2 358.3h0.75M526.8 364.0h0.75M534.0 353.9h0.75M533.8 364.3h0.75M539.6 361.3h0.75M539.4 366.1h0.75M528.7 358.0h0.75M545.8 366.6h0.75M527.1 358.5h0.75M549.5 366.7h0.75M537.0 368.2h0.75M548.9 370.4h0.75M527.2 355.3h0.75M534.1 362.2h0.75M535.4 363.9h0.75M549.8 368.6h0.75M545.9 362.5h0.75M551.1 365.1h0.75M540.1 362.4h0.75M523.7 374.5h0.75M538.0 367.5h0.75M556.0 361.5h0.75M529.0 368.2h0.75M540.0 357.3h0.75M545.7 362.6h0.75M530.7 348.5h0.75M530.3 364.6h0.75M530.0 367.9h0.75M555.5 364.3h0.75M539.9 362.1h0.75M544.9 362.7h0.75M546.3 370.4h0.75M544.9 357.2h0.75M543.4 361.1h0.75M540.6 367.9h0.75M532.9 363.7h0.75M549.7 357.9h0.75M536.6 366.5h0.75M536.3 368.2h0.75M530.2 354.2h0.75M541.1 361.8h0.75M540.6 367.8h0.75M546.4 360.6h0.75M535.1 351.8h0.75M530.5 363.9h0.75M539.9 354.3h0.75M544.4 362.3h0.75M546.8 360.6h0.75M545.8 356.4h0.75M523.5 358.1h0.75M543.7 364.8h0.75M523.2 363.3h0.75M543.4 371.8h0.75M544.3 365.3h0.75M525.7 364.6h0.75M522.6 360.9h0.75M535.2 357.2h0.75M530.1 361.7h0.75M542.7 359.0h0.75M540.5 366.4h0.75M538.0 373.1h0.75M535.7 358.5h0.75M523.1 368.4h0.75M543.5 361.5h0.75M540.6 361.8h0.75M545.0 362.5h0.75M539.9 362.1h0.75M531.1 350.3h0.75M542.4 355.7h0.75M541.3 366.0h0.75M553.0 358.4h0.75M539.3 367.7h0.75M532.8 359.3h0.75M541.7 373.9h0.75M546.7 367.8h0.75M530.5 366.2h0.75M547.2 355.6h0.75M538.2 361.5h0.75M543.2 352.9h0.75M543.7 362.5h0.75M536.0 350.9h0.75M521.7 359.5h0.75M543.3 364.9h0.75M544.1 353.2h0.75M539.7 369.9h0.75M525.9 366.1h0.75M532.4 365.5h0.75M538.9 353.6h0.75M529.8 369.5h0.75M537.3 369.3h0.75M540.8 367.4h0.75M535.0 363.7h0.75M535.2 367.5h0.75M533.6 368.6h0.75M550.6 355.8h0.75M536.8 365.5h0.75M552.2 368.8h0.75M538.8 353.0h0.75M544.8 359.3h0.75M539.7 364.7h0.75M527.0 368.4h0.75M545.4 365.7h0.75M542.8 364.5h0.75M527.1 359.7h0.75M544.6 360.7h0.75M538.3 364.6h0.75M538.8 363.9h0.75M542.0 362.5h0.75M529.4 361.0h0.75M545.7 358.8h0.75M541.8 364.2h0.75M531.1 347.0h0.75M538.0 358.3h0.75M533.2 367.6h0.75M532.0 364.4h0.75M539.0 363.6h0.75M553.9 351.7h0.75M545.7 361.7h0.75M535.9 358.9h0.75M538.4 362.8h0.75M530.9 371.5h0.75M532.2 361.8h0.75M528.1 363.3h0.75M540.9 368.5h0.75M545.9 359.8h0.75M550.8 361.9h0.75M550.4 371.9h0.75M534.9 356.6h0.75M542.4 370.4h0.75M541.3 368.5h0.75M542.8 367.4h0.75M548.6 360.9h0.75M526.9 361.9h0.75M531.9 356.0h0.75M536.8 366.4h0.75M523.5 354.2h0.75M544.4 357.7h0.75M535.0 369.9h0.75M547.0 364.5h0.75M542.4 347.7h0.75M542.5 364.6h0.75M527.1 363.5h0.75M541.7 361.9h0.75M544.4 367.3h0.75M538.5 361.2h0.75M528.8 368.7h0.75M533.6 364.2h0.75M550.2 366.7h0.75M528.1 362.0h0.75M532.5 353.5h0.75M531.8 365.7h0.75M540.8 361.4h0.75M539.5 356.1h0.75M532.1 361.6h0.75M544.4 360.8h0.75M536.8 364.3h0.75M549.7 355.6h0.75M542.3 363.5h0.75M537.5 363.9h0.75M522.5 362.7h0.75M536.2 355.8h0.75M544.8 361.9h0.75M535.4 366.7h0.75M530.8 358.6h0.75M544.6 367.3h0.75M554.0 360.0h0.75M526.6 354.4h0.75M528.7 363.1h0.75M536.2 358.8h0.75M530.1 358.7h0.75M535.2 369.0h0.75M543.0 370.0h0.75M544.5 366.7h0.75M547.4 365.0h0.75M550.2 368.7h0.75M552.4 363.7h0.75M532.0 376.2h0.75M535.9 365.4h0.75M535.1 358.7h0.75M541.5 356.4h0.75M536.8 370.2h0.75M539.1 367.0h0.75M543.1 364.6h0.75M538.9 365.8h0.75M530.4 365.7h0.75M529.6 358.4h0.75" stroke="#000" stroke-width="0.75" fill="none" opacity="1"/>
<path d="M564.6 353.7h0.75M578.6 363.1h0.75M600.4 360.8h0.75M581.7 356.5h0.75M581.2 354.6h0.75M597.4 355.5h0.75M566.9 363.5h0.75M559.9 360.9h0.75M584.7 360.7h0.75M584.1 357.6h0.75M579.7 349.8h0.75M591.5 356.9h0.75M561.0 360.1h0.75M593.9 356.7h0.75M571.8 358.3h0.75M560.1 353.9h0.75M579.7 363.3h0.75M562.5 361.1h0.75M577.8 361.8h0.75M570.0 360.2h0.75M575.6 355.0h0.75M570.2 363.7h0.75M564.9 366.2h0.75M569.0 354.8h0.75M568.3 353.6h0.75M579.9 352.5h0.75M572.3 358.9h0.75M568.2 362.0h0.75M575.8 357.4h0.75M582.6 357.9h0.75M583.6 366.3h0.75M576.9 364.4h0.75M581.0 347.4h0.75M562.1 356.4h0.75M560.0 360.1h0.75M580.2 354.6h0.75M564.1 351.3h0.75M563.0 350.2h0.75M583.3 356.2h0.75M576.5 356.3h0.75" stroke="#777" stroke-width="0.75" fill="none" opacity="1"/>
<ellipse cx="539.5" cy="363.1" rx="19.0" ry="12.9" fill="#000" opacity="0.5" filter="url(#bl3)"/>
<path d="M520.5 360.1 C526.5 353.2 537.9 350.2 543.9 350.2 C553.5 350.2 556.5 355.6 556.5 361.6 C556.5 367.6 548.9 376 542.9 376 C535.9 376 525.5 366.6 520.5 360.1Z" fill="#0c0c0c" filter="url(#bl2)"/>
<g transform="translate(541.8 360.6) rotate(15)">
<ellipse cx="0" cy="0" rx="10.8" ry="9.2" fill="#333" stroke="#d2d2d2" stroke-width="0.8"/>
<ellipse cx="0.3" cy="0.2" rx="8.6" ry="7.4" fill="none" stroke="#777" stroke-width="0.45"/>
<ellipse cx="0.6" cy="0.3" rx="6.7" ry="5.7" fill="#2a2a2a" stroke="#8a8a8a" stroke-width="0.45"/>
<ellipse cx="0.9" cy="0.4" rx="4.9" ry="4.1" fill="#2a2a2a" stroke="#777" stroke-width="0.45"/>
<ellipse cx="1.2" cy="0.6" rx="3.0" ry="2.6" fill="#2a2a2a" stroke="#999" stroke-width="0.45"/>
<ellipse cx="1.6" cy="0.6" rx="1.5" ry="0.7" fill="#eee"/>
</g>
<rect x="549.4" y="337.2" width="55.6" height="47.0" fill="none" stroke="#b25452" stroke-width="1.15"/>
<text x="600.5" y="399.4" font-size="11.4" text-anchor="end" fill="#b25452" stroke="#b25452" stroke-width="0.22">8.10%</text>
<text x="350.8" y="468.0" font-size="8.8" text-anchor="middle" fill="#222" stroke="#222" stroke-width="0.22">0</text>
<text x="369.2" y="467.4" font-size="8.6" text-anchor="start" fill="#222" stroke="#222" stroke-width="0.25">10<tspan dy="-3.4" font-size="5.4">1</tspan></text>
<text x="390.7" y="467.4" font-size="8.6" text-anchor="start" fill="#222" stroke="#222" stroke-width="0.25">10<tspan dy="-3.4" font-size="5.4">2</tspan></text>
<text x="412.2" y="467.4" font-size="8.6" text-anchor="start" fill="#222" stroke="#222" stroke-width="0.25">10<tspan dy="-3.4" font-size="5.4">3</tspan></text>
<text x="433.7" y="467.4" font-size="8.6" text-anchor="start" fill="#222" stroke="#222" stroke-width="0.25">10<tspan dy="-3.4" font-size="5.4">4</tspan></text>
<text x="453.09999999999997" y="467.4" font-size="8.6" text-anchor="start" fill="#222" stroke="#222" stroke-width="0.25">10<tspan dy="-3.4" font-size="5.4">5</tspan></text>
<text x="479.0" y="467.4" font-size="8.6" text-anchor="end" fill="#222" stroke="#222" stroke-width="0.25">10<tspan dy="-3.4" font-size="5.4">6</tspan></text>
<text x="486.9" y="468.0" font-size="8.8" text-anchor="middle" fill="#222" stroke="#222" stroke-width="0.22">0</text>
<text x="505.29999999999995" y="467.4" font-size="8.6" text-anchor="start" fill="#222" stroke="#222" stroke-width="0.25">10<tspan dy="-3.4" font-size="5.4">1</tspan></text>
<text x="526.8" y="467.4" font-size="8.6" text-anchor="start" fill="#222" stroke="#222" stroke-width="0.25">10<tspan dy="-3.4" font-size="5.4">2</tspan></text>
<text x="548.3" y="467.4" font-size="8.6" text-anchor="start" fill="#222" stroke="#222" stroke-width="0.25">10<tspan dy="-3.4" font-size="5.4">3</tspan></text>
<text x="569.8" y="467.4" font-size="8.6" text-anchor="start" fill="#222" stroke="#222" stroke-width="0.25">10<tspan dy="-3.4" font-size="5.4">4</tspan></text>
<text x="589.1999999999999" y="467.4" font-size="8.6" text-anchor="start" fill="#222" stroke="#222" stroke-width="0.25">10<tspan dy="-3.4" font-size="5.4">5</tspan></text>
<text x="615.0" y="467.4" font-size="8.6" text-anchor="end" fill="#222" stroke="#222" stroke-width="0.25">10<tspan dy="-3.4" font-size="5.4">6</tspan></text>
<text x="479.4" y="479.2" font-size="11.2" text-anchor="middle" fill="#222" stroke="#222" stroke-width="0.22">Annexin V</text>
<line x1="345.6" y1="475.8" x2="447.8" y2="475.8" stroke="#444" stroke-width="1.4"/>
<line x1="510.7" y1="475.8" x2="613.4" y2="475.8" stroke="#444" stroke-width="1.4"/>
<text x="622" y="318.8" font-size="20.3" text-anchor="start" fill="#111" stroke="#111" stroke-width="0.22" font-weight="bold">e</text>
<text x="725.2" y="320.1" font-size="11.2" text-anchor="middle" fill="#222" stroke="#222" stroke-width="0.22">SYTOX<tspan dy="-4" font-size="6.2">-</tspan><tspan dy="4"> Rets</tspan></text>
<text x="862.4" y="320.1" font-size="11.2" text-anchor="middle" fill="#222" stroke="#222" stroke-width="0.22">SYTOX<tspan dy="-4" font-size="6.2">+</tspan><tspan dy="4"> Rets</tspan></text>
<text x="639.6" y="389" font-size="11.6" text-anchor="middle" fill="#222" stroke="#222" stroke-width="0.22" transform="rotate(-90 639.6 389)">Ter119</text>
<line x1="636" y1="328.9" x2="636" y2="368.9" stroke="#444" stroke-width="1.2"/>
<line x1="636" y1="408.9" x2="636" y2="450.6" stroke="#444" stroke-width="1.2"/>
<text x="653.8" y="456.79999999999995" font-size="8.6" text-anchor="end" fill="#222" stroke="#222" stroke-width="0.25">10<tspan dy="-3.4" font-size="5.4">0</tspan></text>
<text x="653.8" y="435.38333333333327" font-size="8.6" text-anchor="end" fill="#222" stroke="#222" stroke-width="0.25">10<tspan dy="-3.4" font-size="5.4">1</tspan></text>
<text x="653.8" y="413.96666666666664" font-size="8.6" text-anchor="end" fill="#222" stroke="#222" stroke-width="0.25">10<tspan dy="-3.4" font-size="5.4">2</tspan></text>
<text x="653.8" y="392.54999999999995" font-size="8.6" text-anchor="end" fill="#222" stroke="#222" stroke-width="0.25">10<tspan dy="-3.4" font-size="5.4">3</tspan></text>
<text x="653.8" y="371.13333333333327" font-size="8.6" text-anchor="end" fill="#222" stroke="#222" stroke-width="0.25">10<tspan dy="-3.4" font-size="5.4">4</tspan></text>
<text x="653.8" y="349.7166666666666" font-size="8.6" text-anchor="end" fill="#222" stroke="#222" stroke-width="0.25">10<tspan dy="-3.4" font-size="5.4">5</tspan></text>
<text x="653.8" y="328.29999999999995" font-size="8.6" text-anchor="end" fill="#222" stroke="#222" stroke-width="0.25">10<tspan dy="-3.4" font-size="5.4">6</tspan></text>
<rect x="657.5" y="325.4" width="129.5" height="128.5" fill="#fff" stroke="#6a6a6a" stroke-width="1"/>
<path d="M654.3 453.9H657.5M655.9 447.5H657.5M655.9 443.7H657.5M655.9 441.0H657.5M655.9 438.9H657.5M655.9 437.2H657.5M655.9 435.8H657.5M655.9 434.6H657.5M655.9 433.5H657.5M654.3 432.5H657.5M655.9 426.0H657.5M655.9 422.3H657.5M655.9 419.6H657.5M655.9 417.5H657.5M655.9 415.8H657.5M655.9 414.4H657.5M655.9 413.1H657.5M655.9 412.0H657.5M654.3 411.1H657.5M655.9 404.6H657.5M655.9 400.8H657.5M655.9 398.2H657.5M655.9 396.1H657.5M655.9 394.4H657.5M655.9 393.0H657.5M655.9 391.7H657.5M655.9 390.6H657.5M654.3 389.6H657.5M655.9 383.2H657.5M655.9 379.4H657.5M655.9 376.8H657.5M655.9 374.7H657.5M655.9 373.0H657.5M655.9 371.6H657.5M655.9 370.3H657.5M655.9 369.2H657.5M654.3 368.2H657.5M655.9 361.8H657.5M655.9 358.0H657.5M655.9 355.3H657.5M655.9 353.3H657.5M655.9 351.6H657.5M655.9 350.1H657.5M655.9 348.9H657.5M655.9 347.8H657.5M654.3 346.8H657.5M655.9 340.4H657.5M655.9 336.6H657.5M655.9 333.9H657.5M655.9 331.8H657.5M655.9 330.2H657.5M655.9 328.7H657.5M655.9 327.5H657.5M655.9 326.4H657.5M654.3 325.4H657.5M668.0 453.9V457.09999999999997M687.4 453.9V457.09999999999997M718.0 453.9V457.09999999999997M745.5 453.9V457.09999999999997M768.0 453.9V457.09999999999997M786.0 453.9V457.09999999999997M673.8 453.9V455.5M677.3 453.9V455.5M679.7 453.9V455.5M681.6 453.9V455.5M683.1 453.9V455.5M684.4 453.9V455.5M685.5 453.9V455.5M686.5 453.9V455.5M696.6 453.9V455.5M702.0 453.9V455.5M705.8 453.9V455.5M708.8 453.9V455.5M711.2 453.9V455.5M713.3 453.9V455.5M715.0 453.9V455.5M716.6 453.9V455.5M726.3 453.9V455.5M731.1 453.9V455.5M734.6 453.9V455.5M737.2 453.9V455.5M739.4 453.9V455.5M741.2 453.9V455.5M742.8 453.9V455.5M744.2 453.9V455.5M752.3 453.9V455.5M756.2 453.9V455.5M759.0 453.9V455.5M761.2 453.9V455.5M763.0 453.9V455.5M764.5 453.9V455.5M765.8 453.9V455.5M767.0 453.9V455.5M773.4 453.9V455.5M776.6 453.9V455.5M778.8 453.9V455.5M780.6 453.9V455.5M782.0 453.9V455.5M783.2 453.9V455.5M784.3 453.9V455.5M785.2 453.9V455.5" stroke="#505050" stroke-width="0.8" fill="none"/>
<path d="M709.3 379.7h0.75M666.3 363.7h0.75M686.1 366.1h0.75M716.8 378.6h0.75M692.9 372.9h0.75M675.8 367.2h0.75M689.9 368.1h0.75M697.5 359.4h0.75M681.7 382.1h0.75M674.2 369.4h0.75M704.1 372.0h0.75M693.9 359.1h0.75M687.9 359.5h0.75M722.8 371.2h0.75M704.1 370.3h0.75M688.8 376.2h0.75M706.4 372.9h0.75M701.9 373.5h0.75M690.0 371.6h0.75M694.3 367.5h0.75M702.9 382.1h0.75M671.0 377.8h0.75M688.3 376.4h0.75M682.0 367.9h0.75M708.6 368.6h0.75M698.3 361.6h0.75M680.6 379.2h0.75M695.4 368.5h0.75M678.0 362.7h0.75M681.8 368.7h0.75M691.8 365.3h0.75M685.7 369.7h0.75M710.8 360.4h0.75M677.6 375.9h0.75M677.5 366.5h0.75M694.8 380.2h0.75M670.9 351.2h0.75M692.1 375.6h0.75M695.2 364.1h0.75M695.9 356.4h0.75M705.5 378.1h0.75M690.8 374.0h0.75M681.6 378.0h0.75M686.0 364.1h0.75M684.7 358.2h0.75M703.2 381.3h0.75M677.5 367.8h0.75M699.8 365.5h0.75M676.1 371.0h0.75M708.3 369.6h0.75M681.4 367.2h0.75M672.1 368.6h0.75M711.5 375.8h0.75M692.1 371.7h0.75M687.4 369.8h0.75M686.5 370.0h0.75M687.4 370.2h0.75M703.6 368.9h0.75M679.0 372.1h0.75M690.3 366.0h0.75M701.6 363.9h0.75M707.2 372.4h0.75M685.5 364.7h0.75M691.7 363.4h0.75M707.4 355.2h0.75M695.3 366.9h0.75M681.1 372.9h0.75M687.8 371.8h0.75M688.3 367.3h0.75M700.9 374.9h0.75M708.1 368.9h0.75M715.5 366.9h0.75M678.3 357.5h0.75M677.4 363.7h0.75M673.7 371.0h0.75M693.5 368.8h0.75M696.6 368.3h0.75M690.3 367.1h0.75M693.6 362.1h0.75M712.4 378.5h0.75M693.5 383.0h0.75M682.5 374.5h0.75M675.5 372.7h0.75M684.9 375.2h0.75M694.7 374.8h0.75M702.2 372.2h0.75M690.1 378.8h0.75M698.4 372.0h0.75M714.7 367.4h0.75M719.4 375.7h0.75M694.2 360.1h0.75M711.5 367.1h0.75M694.5 369.8h0.75M707.5 372.9h0.75M673.3 365.0h0.75M698.3 370.1h0.75M705.1 372.5h0.75M717.7 364.6h0.75M712.8 371.4h0.75M697.6 373.2h0.75M689.4 373.4h0.75M690.8 373.4h0.75M684.8 376.2h0.75M676.6 365.0h0.75M692.5 370.5h0.75M684.4 366.5h0.75M696.9 375.5h0.75M712.6 366.1h0.75M692.3 367.1h0.75M676.6 366.3h0.75M710.2 360.7h0.75M736.3 375.0h0.75M719.3 370.1h0.75M668.2 371.7h0.75M717.1 365.5h0.75M712.3 373.7h0.75M704.9 373.6h0.75M701.9 373.0h0.75M711.1 371.6h0.75M702.6 371.7h0.75M695.2 363.7h0.75M673.7 362.8h0.75M679.7 359.9h0.75M703.5 367.0h0.75M712.3 388.2h0.75M704.8 366.2h0.75M698.9 367.8h0.75M697.4 381.8h0.75M717.3 376.9h0.75M697.4 380.0h0.75M705.6 374.5h0.75M680.4 365.2h0.75M695.7 367.7h0.75M687.4 356.7h0.75M685.0 368.4h0.75M697.8 362.4h0.75M691.6 380.2h0.75M695.5 356.9h0.75M691.1 369.0h0.75M712.3 370.2h0.75M713.9 371.1h0.75M710.8 377.4h0.75M716.4 370.2h0.75M702.9 393.2h0.75M679.9 370.3h0.75M700.3 364.7h0.75M705.7 368.0h0.75M705.1 370.2h0.75M683.0 375.5h0.75M723.5 374.7h0.75M697.4 358.4h0.75M698.0 368.8h0.75M684.6 357.2h0.75M699.9 375.0h0.75M703.9 383.1h0.75M672.6 371.2h0.75M692.8 377.8h0.75M692.8 363.1h0.75M692.5 371.7h0.75M685.2 364.2h0.75M697.2 374.4h0.75M690.6 372.0h0.75M687.7 366.9h0.75M696.1 375.0h0.75M717.1 368.3h0.75M699.9 381.2h0.75M705.8 366.8h0.75M699.4 360.2h0.75M670.5 364.3h0.75M685.4 360.7h0.75M708.7 366.2h0.75M694.5 369.5h0.75M690.9 361.8h0.75M722.4 356.8h0.75M692.8 373.3h0.75M691.0 368.4h0.75M697.9 370.5h0.75M689.5 375.7h0.75M700.8 378.3h0.75M694.6 356.7h0.75M675.3 365.9h0.75M700.1 358.9h0.75M687.1 376.8h0.75M698.3 364.6h0.75M692.0 369.7h0.75M688.6 367.1h0.75M686.3 370.4h0.75M717.1 378.0h0.75M679.8 383.4h0.75M691.9 360.4h0.75M677.2 369.9h0.75M696.7 365.1h0.75M684.6 367.7h0.75M697.2 373.2h0.75M701.6 354.3h0.75M686.8 370.7h0.75M698.8 374.0h0.75M677.2 378.7h0.75M680.4 367.8h0.75M688.2 366.1h0.75M684.9 374.1h0.75M705.1 371.2h0.75M679.5 365.2h0.75M692.6 371.5h0.75M687.2 367.4h0.75M732.6 369.4h0.75M690.0 353.8h0.75M685.1 379.1h0.75M705.9 361.7h0.75M705.1 370.1h0.75M684.7 374.0h0.75M686.7 367.2h0.75M693.6 370.4h0.75M688.5 370.9h0.75M693.3 370.3h0.75M699.1 365.1h0.75M678.6 368.6h0.75M711.7 371.1h0.75M696.6 364.5h0.75M681.0 361.3h0.75M683.4 366.7h0.75M676.7 368.3h0.75M676.4 373.1h0.75M692.9 358.2h0.75M687.3 370.5h0.75M699.0 373.8h0.75M689.4 368.1h0.75M690.7 372.4h0.75M685.8 368.0h0.75M695.5 366.9h0.75M681.7 377.4h0.75M700.7 363.4h0.75M722.6 364.3h0.75M683.9 366.8h0.75M701.3 378.3h0.75M713.7 372.5h0.75M694.3 373.1h0.75M684.8 364.7h0.75M701.2 370.3h0.75M696.8 362.8h0.75M697.0 360.1h0.75M707.1 369.1h0.75M686.3 366.1h0.75M734.7 388.4h0.75M685.7 377.5h0.75M662.3 376.0h0.75M693.6 370.6h0.75M683.0 360.9h0.75M696.8 366.3h0.75M700.8 375.6h0.75M692.0 372.4h0.75M695.9 370.5h0.75M687.7 370.5h0.75M699.8 369.5h0.75M688.4 360.0h0.75M681.9 378.7h0.75M708.4 370.9h0.75M697.6 368.1h0.75M703.4 375.0h0.75M690.6 371.0h0.75M707.5 359.3h0.75M683.2 365.5h0.75M680.9 366.3h0.75M684.2 366.6h0.75M700.4 361.8h0.75M694.8 377.6h0.75M696.1 361.5h0.75M686.8 376.3h0.75M690.4 365.2h0.75M704.9 364.6h0.75M681.4 372.8h0.75M693.6 365.0h0.75M700.2 375.9h0.75M709.4 369.7h0.75M700.1 372.1h0.75M677.5 379.3h0.75M686.2 365.6h0.75M684.5 363.1h0.75M709.6 369.1h0.75M687.1 357.7h0.75M695.8 368.7h0.75M682.3 368.4h0.75M673.8 373.1h0.75M680.3 372.1h0.75M694.8 355.9h0.75M681.4 365.0h0.75M705.0 372.7h0.75M702.7 379.4h0.75M690.2 365.9h0.75M673.3 362.7h0.75M701.7 363.8h0.75M684.0 375.0h0.75M667.1 377.7h0.75M712.4 358.0h0.75M700.3 369.0h0.75M706.8 367.0h0.75M691.9 377.8h0.75M686.9 371.6h0.75M702.7 368.4h0.75M706.3 372.3h0.75M705.6 358.5h0.75M682.3 370.9h0.75M710.6 377.9h0.75M693.5 364.4h0.75M681.7 357.0h0.75M687.9 372.6h0.75M692.5 359.9h0.75M692.2 369.4h0.75M685.3 378.1h0.75M699.8 375.9h0.75M694.8 363.0h0.75M709.3 375.9h0.75M687.0 360.8h0.75M705.4 365.6h0.75M681.0 368.5h0.75M701.5 364.4h0.75M693.8 375.2h0.75M704.4 359.4h0.75M703.9 380.1h0.75M706.9 368.5h0.75M698.8 359.3h0.75M687.0 365.8h0.75M724.0 369.1h0.75M683.0 379.5h0.75M711.5 358.8h0.75M691.1 358.6h0.75M708.7 355.0h0.75M720.7 362.5h0.75M682.2 382.2h0.75M701.2 371.3h0.75M706.0 362.9h0.75M706.2 367.3h0.75M701.0 370.5h0.75M713.8 361.1h0.75M678.6 373.1h0.75M728.2 372.4h0.75M691.5 373.2h0.75M680.5 369.6h0.75M675.5 369.8h0.75M704.0 379.6h0.75M687.9 374.8h0.75M713.1 362.6h0.75M690.3 357.6h0.75M684.0 371.8h0.75M671.9 367.2h0.75M704.0 378.0h0.75M666.9 371.5h0.75M686.8 354.8h0.75M682.5 372.7h0.75M693.0 373.4h0.75M690.1 373.2h0.75M683.0 363.0h0.75M691.5 358.2h0.75M711.5 367.5h0.75M682.9 363.7h0.75M683.1 369.8h0.75M689.4 374.4h0.75M681.1 368.6h0.75M677.4 366.2h0.75M713.3 368.3h0.75M706.4 368.7h0.75M681.7 363.6h0.75M681.4 371.2h0.75M696.7 387.3h0.75M717.9 374.3h0.75M682.9 369.8h0.75M683.7 383.7h0.75M685.6 376.3h0.75M679.0 373.8h0.75M680.3 366.2h0.75M695.8 369.9h0.75M692.6 368.7h0.75M684.2 368.4h0.75M692.5 363.2h0.75M701.6 370.2h0.75M685.3 377.2h0.75M687.2 357.2h0.75M711.9 366.7h0.75M714.8 371.8h0.75M683.8 376.0h0.75M700.1 374.8h0.75M693.9 378.8h0.75M706.9 367.0h0.75M677.4 368.8h0.75M694.3 362.9h0.75M691.2 378.4h0.75M688.2 376.1h0.75M683.4 363.0h0.75M707.1 368.0h0.75M696.5 375.5h0.75M717.2 361.3h0.75M701.8 370.5h0.75M695.4 380.3h0.75M690.6 365.3h0.75M700.7 356.4h0.75M698.7 363.5h0.75M698.0 364.4h0.75M700.7 367.5h0.75M685.6 372.4h0.75M704.3 359.0h0.75M679.6 367.4h0.75M689.2 377.3h0.75M716.6 372.0h0.75M709.3 367.0h0.75M678.8 370.9h0.75M674.7 379.3h0.75M697.0 376.3h0.75M686.4 359.0h0.75M691.0 372.1h0.75M690.9 365.9h0.75M694.4 367.9h0.75M713.7 360.9h0.75M669.9 368.5h0.75M697.2 359.5h0.75M692.7 371.8h0.75M698.1 370.9h0.75M685.2 360.0h0.75M707.2 366.9h0.75M678.7 378.8h0.75M704.1 351.5h0.75M731.3 370.0h0.75M676.2 375.0h0.75M698.0 376.8h0.75M693.4 358.6h0.75M691.4 366.4h0.75M697.5 367.9h0.75M701.4 361.4h0.75M687.4 365.8h0.75M699.3 358.3h0.75M693.2 384.0h0.75M674.2 375.5h0.75M694.6 375.2h0.75M694.0 370.7h0.75M698.6 371.9h0.75M680.4 368.2h0.75M720.0 377.9h0.75M684.2 363.1h0.75M691.3 375.7h0.75M706.7 365.4h0.75M668.1 368.7h0.75M675.6 376.5h0.75M715.0 373.2h0.75M701.9 372.6h0.75M720.3 375.9h0.75M714.4 361.8h0.75M687.6 369.0h0.75M669.6 367.2h0.75M692.9 368.6h0.75M730.4 367.8h0.75M691.0 368.3h0.75M689.5 360.1h0.75M709.7 369.2h0.75M698.5 369.3h0.75M684.9 359.0h0.75M690.1 372.4h0.75M691.8 373.6h0.75M684.8 367.2h0.75M695.3 368.4h0.75M695.7 378.0h0.75M688.7 369.9h0.75M686.2 372.4h0.75M696.4 364.4h0.75M682.5 361.5h0.75M690.1 370.0h0.75M687.9 368.3h0.75M695.1 383.8h0.75M710.5 383.6h0.75M695.1 370.4h0.75M721.9 371.4h0.75M702.8 365.9h0.75M687.3 373.9h0.75M686.7 364.9h0.75M677.3 370.9h0.75M692.1 372.4h0.75M683.9 361.2h0.75M709.4 369.2h0.75M704.7 361.8h0.75M679.4 353.2h0.75M697.5 375.2h0.75M712.7 380.1h0.75M673.8 362.2h0.75M687.5 364.1h0.75M690.8 364.0h0.75M677.6 368.8h0.75M694.9 364.2h0.75M693.5 360.9h0.75M689.6 366.9h0.75M688.2 368.5h0.75M679.7 360.6h0.75M684.3 373.6h0.75M683.0 363.1h0.75M722.4 367.4h0.75M689.0 363.5h0.75M714.8 372.3h0.75M696.9 379.0h0.75M680.4 358.4h0.75M709.4 371.7h0.75M687.6 374.0h0.75M692.0 381.3h0.75M679.6 371.3h0.75M707.5 374.6h0.75M689.2 366.5h0.75M688.4 373.3h0.75M688.8 368.1h0.75M708.2 368.3h0.75M696.6 368.2h0.75M693.1 355.1h0.75M683.1 371.3h0.75M686.3 365.1h0.75M693.8 383.4h0.75M685.0 363.0h0.75M674.0 371.9h0.75M692.4 363.7h0.75M688.7 375.2h0.75M708.1 371.3h0.75M710.1 375.4h0.75M688.1 374.0h0.75M695.3 373.8h0.75M697.1 382.4h0.75M679.7 371.3h0.75" stroke="#000" stroke-width="0.75" fill="none" opacity="1"/>
<path d="M689.7 374.1h0.75M693.5 364.7h0.75M696.9 365.8h0.75M708.5 365.8h0.75M698.7 369.7h0.75M707.2 362.7h0.75M699.0 361.4h0.75M700.3 370.9h0.75M693.5 365.0h0.75M705.0 367.5h0.75M702.4 364.4h0.75M694.9 364.7h0.75M707.6 360.8h0.75M693.5 371.4h0.75M696.5 362.2h0.75M698.6 365.2h0.75M696.2 367.7h0.75M702.3 360.8h0.75M698.3 371.2h0.75M688.0 365.7h0.75M689.2 368.3h0.75M691.3 364.8h0.75M694.2 367.6h0.75M688.2 361.1h0.75M698.3 370.8h0.75M693.6 367.5h0.75M698.8 366.4h0.75M696.9 364.1h0.75M695.3 370.2h0.75M700.0 370.5h0.75M692.1 366.4h0.75M692.7 361.4h0.75M703.0 365.0h0.75M698.6 361.0h0.75M695.3 365.6h0.75M694.4 369.6h0.75M700.1 366.5h0.75M698.5 364.4h0.75M692.2 365.0h0.75M690.1 365.4h0.75M696.2 370.0h0.75M694.1 374.5h0.75M693.5 366.5h0.75M696.8 363.8h0.75M696.6 359.8h0.75M704.5 364.0h0.75M696.8 359.6h0.75M700.8 361.5h0.75M706.1 362.3h0.75M692.0 368.3h0.75M705.6 359.0h0.75M685.6 371.7h0.75M699.9 360.7h0.75M694.0 368.5h0.75M694.4 371.3h0.75M692.2 366.6h0.75M704.7 371.2h0.75M698.6 368.1h0.75M694.7 365.8h0.75M693.1 367.4h0.75M702.6 362.5h0.75M689.1 366.2h0.75M710.4 366.8h0.75M697.8 365.8h0.75M685.7 363.5h0.75M707.1 358.6h0.75M709.0 361.8h0.75M710.6 375.3h0.75M707.0 365.5h0.75M700.9 364.1h0.75M693.9 366.7h0.75M675.8 368.0h0.75M694.8 362.2h0.75M695.1 368.3h0.75M691.8 367.3h0.75M687.9 366.3h0.75M689.2 368.7h0.75M690.0 368.2h0.75M683.6 366.6h0.75M704.3 363.1h0.75M697.3 363.0h0.75M700.2 368.7h0.75M704.7 370.7h0.75M705.7 363.4h0.75M697.7 367.9h0.75M698.2 361.3h0.75M710.5 375.0h0.75M697.3 356.8h0.75M709.2 365.3h0.75M712.1 362.3h0.75M700.5 368.8h0.75M687.3 364.8h0.75M700.2 368.3h0.75M699.5 356.7h0.75M680.9 367.3h0.75M707.6 360.5h0.75M699.6 369.3h0.75M690.4 360.4h0.75M698.7 364.4h0.75M696.3 365.3h0.75M696.1 367.1h0.75M693.4 365.9h0.75M693.1 362.9h0.75M699.3 363.0h0.75M700.5 365.9h0.75M704.2 368.1h0.75M683.5 365.9h0.75M701.4 366.4h0.75M697.2 369.8h0.75M701.5 361.2h0.75M697.6 369.6h0.75M698.0 361.4h0.75M702.2 368.1h0.75M704.6 366.6h0.75M697.7 369.0h0.75M689.5 372.1h0.75M699.6 366.8h0.75M702.0 368.8h0.75M682.1 369.3h0.75M696.2 363.2h0.75M703.0 369.3h0.75M699.5 363.8h0.75M697.6 362.6h0.75M713.8 363.6h0.75M702.8 371.8h0.75M691.2 364.1h0.75M681.9 365.1h0.75M688.0 366.5h0.75M695.4 366.0h0.75M697.2 364.3h0.75M697.7 365.7h0.75M692.1 364.9h0.75M693.1 361.4h0.75M696.7 359.3h0.75M700.5 365.9h0.75M698.0 370.1h0.75M703.3 364.4h0.75M699.3 370.2h0.75M695.9 367.3h0.75M699.7 362.3h0.75M698.8 364.6h0.75M695.2 367.5h0.75M701.3 362.8h0.75M695.2 365.3h0.75M690.5 367.3h0.75M695.5 363.5h0.75M703.2 365.7h0.75M689.1 365.6h0.75M695.7 367.0h0.75M712.0 367.9h0.75M706.6 365.4h0.75M700.1 367.8h0.75M696.2 366.9h0.75M693.9 368.5h0.75M690.8 372.1h0.75M672.0 361.0h0.75M696.1 367.3h0.75M697.9 360.2h0.75M699.8 362.8h0.75M698.3 364.5h0.75M695.1 360.6h0.75M688.1 364.0h0.75M689.8 366.9h0.75M687.5 366.8h0.75M700.6 363.3h0.75M690.5 364.7h0.75M702.2 370.9h0.75M711.4 366.3h0.75M701.1 366.7h0.75M696.8 362.2h0.75M694.5 370.0h0.75M706.2 363.8h0.75M686.1 372.7h0.75M697.1 367.6h0.75M695.7 359.5h0.75M699.0 362.5h0.75M695.0 363.8h0.75M695.1 374.5h0.75M707.0 359.0h0.75M686.6 364.2h0.75M692.4 368.8h0.75M707.4 363.4h0.75M700.7 365.2h0.75M683.6 370.2h0.75M708.6 363.0h0.75M701.1 364.1h0.75M696.3 364.3h0.75M696.0 366.1h0.75M692.8 367.0h0.75M688.2 368.9h0.75M690.5 359.3h0.75M702.5 364.8h0.75M693.3 369.2h0.75M696.7 372.9h0.75M699.8 360.9h0.75M693.5 363.6h0.75M695.0 372.0h0.75M715.1 372.1h0.75M699.9 367.9h0.75M698.0 358.1h0.75M706.2 373.1h0.75M693.4 365.9h0.75M692.1 365.3h0.75M691.1 361.9h0.75M705.0 359.0h0.75M703.8 361.9h0.75M695.2 358.8h0.75M701.3 362.4h0.75M713.6 362.7h0.75M698.6 368.3h0.75M690.4 363.0h0.75M689.7 368.0h0.75M698.9 369.6h0.75M687.3 362.7h0.75M696.1 364.4h0.75M699.0 370.0h0.75M697.8 363.1h0.75M696.6 363.4h0.75M692.5 372.6h0.75M701.4 372.5h0.75M695.5 365.7h0.75M688.4 366.8h0.75M701.8 368.5h0.75M689.1 366.4h0.75M703.1 364.3h0.75M701.6 364.2h0.75M696.9 363.9h0.75M687.0 363.0h0.75M698.1 365.0h0.75M696.8 363.9h0.75M702.8 365.4h0.75M699.5 364.3h0.75M705.7 365.6h0.75M699.8 373.9h0.75M699.8 360.4h0.75M692.4 367.1h0.75M688.1 360.7h0.75M696.1 360.3h0.75M704.2 367.5h0.75M694.8 370.3h0.75M692.4 361.8h0.75M703.0 366.1h0.75M695.4 369.7h0.75M696.0 368.3h0.75M698.4 370.1h0.75M700.6 364.3h0.75M707.0 364.7h0.75M708.6 361.5h0.75M697.3 358.0h0.75M700.4 370.8h0.75M694.3 367.7h0.75M695.4 371.1h0.75M699.2 367.3h0.75M704.3 360.6h0.75M701.6 366.5h0.75M705.6 366.1h0.75M701.0 365.8h0.75M690.3 364.2h0.75M695.7 361.2h0.75M696.6 364.3h0.75M709.2 365.1h0.75M697.8 366.3h0.75M701.6 360.2h0.75M685.2 371.6h0.75M691.3 362.8h0.75M704.8 367.1h0.75M691.6 368.7h0.75M689.4 371.8h0.75M694.8 367.2h0.75M696.9 372.8h0.75M690.5 365.6h0.75M711.3 358.7h0.75M693.7 367.0h0.75M695.5 367.6h0.75M704.7 361.9h0.75M692.6 370.7h0.75M710.0 356.5h0.75M700.6 369.5h0.75M692.4 362.9h0.75M689.4 365.3h0.75M689.3 368.5h0.75M692.4 367.8h0.75M686.5 369.2h0.75M701.5 369.4h0.75M698.8 374.2h0.75M703.5 366.2h0.75M707.7 364.7h0.75M698.0 371.8h0.75M693.9 366.0h0.75M698.7 366.7h0.75M695.4 369.6h0.75M711.4 364.6h0.75M687.1 364.3h0.75M687.7 361.5h0.75M690.0 369.8h0.75M698.0 368.5h0.75M696.3 369.6h0.75M694.3 370.7h0.75M702.9 366.8h0.75M687.2 362.1h0.75M698.7 362.3h0.75M695.9 365.4h0.75M706.2 363.6h0.75M697.9 364.4h0.75M691.9 367.6h0.75M703.5 360.9h0.75M707.0 374.0h0.75M698.0 367.9h0.75M690.0 364.6h0.75M699.1 365.7h0.75M706.2 362.9h0.75M695.3 367.9h0.75M696.5 365.1h0.75M696.2 367.4h0.75M684.1 375.3h0.75M702.0 362.2h0.75M690.9 362.0h0.75M699.9 359.4h0.75M713.4 364.0h0.75M687.6 373.3h0.75M697.0 367.8h0.75M695.7 365.1h0.75M710.8 359.0h0.75M698.7 363.4h0.75M694.7 365.8h0.75M684.7 368.2h0.75M698.4 368.0h0.75M693.0 368.6h0.75M693.9 368.8h0.75M706.1 368.2h0.75M687.4 366.3h0.75M690.1 372.9h0.75M698.4 361.5h0.75M686.8 370.7h0.75M690.3 367.5h0.75M694.8 365.5h0.75M694.1 366.0h0.75M707.8 362.9h0.75M700.5 367.7h0.75M692.5 362.1h0.75M691.1 368.1h0.75M698.1 369.7h0.75M699.5 366.4h0.75M697.1 366.8h0.75M697.3 368.4h0.75M691.3 369.8h0.75M707.9 365.7h0.75M700.8 361.8h0.75M697.7 360.9h0.75M703.7 366.2h0.75M704.3 370.0h0.75M692.1 368.9h0.75M707.4 373.9h0.75M696.3 367.9h0.75M692.8 368.3h0.75M701.0 371.2h0.75M696.0 366.2h0.75M700.4 365.4h0.75M710.9 358.2h0.75M685.6 364.2h0.75M701.7 366.1h0.75M699.9 360.7h0.75M701.0 367.9h0.75M708.0 368.9h0.75M692.9 363.4h0.75M689.5 364.3h0.75M696.4 370.4h0.75M708.1 366.3h0.75M701.0 365.4h0.75M688.4 367.9h0.75M692.2 360.3h0.75M691.4 371.3h0.75M689.3 370.8h0.75M687.9 365.8h0.75M700.4 364.6h0.75M690.5 366.0h0.75M708.3 368.4h0.75M698.4 368.0h0.75M705.0 370.7h0.75M695.2 362.9h0.75M690.4 366.2h0.75M695.0 366.0h0.75M692.9 374.8h0.75M692.4 371.1h0.75M691.3 363.2h0.75M689.2 362.2h0.75M686.1 363.1h0.75M695.4 368.5h0.75M685.1 367.6h0.75M696.3 366.0h0.75M682.5 367.7h0.75M701.5 370.1h0.75M695.1 370.4h0.75M697.5 362.8h0.75M700.6 369.5h0.75M698.6 365.9h0.75M695.4 368.4h0.75M684.9 367.1h0.75M688.4 364.2h0.75M698.4 370.4h0.75M697.0 362.8h0.75M715.4 367.2h0.75M678.8 365.7h0.75M692.1 363.9h0.75M704.1 373.5h0.75M697.7 361.3h0.75M702.9 366.3h0.75M694.3 366.7h0.75M689.2 366.7h0.75M699.4 370.2h0.75M710.6 363.8h0.75M699.6 363.2h0.75M697.9 370.1h0.75M701.4 365.0h0.75M709.2 369.2h0.75M705.4 366.3h0.75M706.1 365.5h0.75M702.9 366.2h0.75M697.0 360.6h0.75M703.7 368.1h0.75M692.8 366.3h0.75M701.1 368.3h0.75M683.0 371.3h0.75M690.1 372.7h0.75M704.8 366.5h0.75M698.4 367.0h0.75M694.3 371.4h0.75M692.5 364.2h0.75M695.5 360.4h0.75M704.1 361.9h0.75M707.3 369.4h0.75M710.8 363.9h0.75M695.0 364.4h0.75M702.5 362.9h0.75M694.9 357.9h0.75M697.4 366.8h0.75M710.6 363.1h0.75M703.6 368.0h0.75M703.1 362.1h0.75M673.3 364.3h0.75M703.6 366.6h0.75M706.9 373.7h0.75M692.3 364.6h0.75M707.5 360.1h0.75M679.9 367.0h0.75M699.3 371.4h0.75M702.1 365.9h0.75M693.2 359.5h0.75M700.6 363.9h0.75M694.4 367.2h0.75M683.1 365.7h0.75M692.8 373.1h0.75M696.2 370.0h0.75M690.3 360.4h0.75M703.1 364.8h0.75M687.8 369.8h0.75M700.5 359.9h0.75M695.5 373.1h0.75M697.8 361.2h0.75M691.3 371.0h0.75M707.4 368.5h0.75M686.7 369.0h0.75M691.4 364.2h0.75M693.6 369.9h0.75M700.6 368.1h0.75M694.0 364.2h0.75M704.5 363.8h0.75M695.1 368.0h0.75M695.8 369.6h0.75M700.9 368.3h0.75M713.0 364.1h0.75M711.5 361.4h0.75M691.6 357.1h0.75M692.4 363.2h0.75M702.0 370.6h0.75M713.1 364.1h0.75M704.5 365.4h0.75M684.3 351.0h0.75M694.6 359.0h0.75M703.1 362.7h0.75M701.6 363.6h0.75M700.4 362.6h0.75M699.8 372.6h0.75M699.7 361.1h0.75M691.6 366.5h0.75M702.7 361.5h0.75M690.7 360.2h0.75M709.3 367.1h0.75M699.3 364.4h0.75M710.4 368.1h0.75M696.4 370.4h0.75M701.1 365.0h0.75M694.5 366.0h0.75M706.7 360.9h0.75M685.5 368.5h0.75M704.4 371.3h0.75M701.1 360.6h0.75M702.8 366.6h0.75M690.1 360.2h0.75M686.3 366.3h0.75" stroke="#000" stroke-width="0.75" fill="none" opacity="1"/>
<path d="M717.3 367.8h0.75M728.6 369.3h0.75M738.7 361.4h0.75M726.4 369.8h0.75M723.7 371.2h0.75M736.0 370.6h0.75M724.2 370.0h0.75M728.0 367.1h0.75M736.4 363.2h0.75M729.6 354.0h0.75M723.2 369.2h0.75M719.3 355.3h0.75M736.7 368.7h0.75" stroke="#777" stroke-width="0.75" fill="none" opacity="1"/>
<ellipse cx="695" cy="368.2" rx="20.5" ry="11.8" fill="#fff" transform="rotate(6 695 368.2)"/>
<path d="M688.9 366.8h0.7M690.2 368.9h0.7M700.6 363.7h0.7M695.0 365.4h0.7M694.3 369.2h0.7M700.0 363.9h0.7M701.0 361.4h0.7M699.1 364.6h0.7M694.4 365.4h0.7M699.5 361.1h0.7M700.4 374.6h0.7M703.1 363.8h0.7M700.3 370.7h0.7M691.2 370.7h0.7M695.8 371.4h0.7M692.8 368.8h0.7M694.4 369.4h0.7M703.8 366.6h0.7M692.7 368.8h0.7M700.4 362.3h0.7M701.6 365.1h0.7M697.3 362.6h0.7M699.4 368.2h0.7M692.7 368.1h0.7M686.5 365.9h0.7M699.7 362.7h0.7M699.0 361.6h0.7M709.9 366.8h0.7M704.9 362.8h0.7M683.8 365.3h0.7M706.5 365.1h0.7M705.4 366.8h0.7M700.1 368.8h0.7M694.3 364.3h0.7M705.0 367.0h0.7M694.6 362.3h0.7M707.4 355.7h0.7M703.8 365.1h0.7M689.9 366.8h0.7M701.0 372.6h0.7M699.9 357.9h0.7M692.2 367.9h0.7M695.0 365.4h0.7M697.5 370.0h0.7M700.1 365.1h0.7M694.0 368.7h0.7M693.7 366.9h0.7M700.6 367.9h0.7M702.9 366.5h0.7M710.3 368.0h0.7M693.3 362.8h0.7M693.7 369.7h0.7M691.2 370.4h0.7M700.7 363.8h0.7M691.9 365.3h0.7M702.7 365.4h0.7M702.5 366.1h0.7M706.4 364.1h0.7M697.2 362.1h0.7M696.1 362.6h0.7M688.7 364.9h0.7M702.2 358.7h0.7M690.2 361.3h0.7M700.3 367.3h0.7M700.0 365.0h0.7M693.3 366.2h0.7M692.7 364.9h0.7M700.5 364.8h0.7M705.4 358.9h0.7M688.3 368.6h0.7M694.6 364.2h0.7M694.6 365.4h0.7M697.1 366.7h0.7M703.7 371.3h0.7M685.0 365.3h0.7M692.6 366.2h0.7M691.9 365.8h0.7M699.7 365.5h0.7M699.5 367.6h0.7M691.6 365.4h0.7M704.5 368.4h0.7M704.0 363.1h0.7M694.0 368.6h0.7M698.0 366.5h0.7M695.9 368.4h0.7M699.1 362.6h0.7M700.3 364.5h0.7M696.4 367.3h0.7M698.9 363.8h0.7M690.9 364.2h0.7M697.2 362.0h0.7M694.2 372.7h0.7M694.1 365.8h0.7M690.5 364.6h0.7M699.5 366.1h0.7M687.7 365.7h0.7M692.0 368.9h0.7M697.4 370.4h0.7M700.2 362.0h0.7M703.8 364.1h0.7M697.4 365.9h0.7M690.1 369.2h0.7M698.9 362.4h0.7M689.6 367.0h0.7M705.4 366.8h0.7M699.9 364.3h0.7M704.7 367.3h0.7M693.1 363.7h0.7M684.8 369.1h0.7M716.3 365.2h0.7M700.7 367.9h0.7M696.7 372.1h0.7M691.8 363.0h0.7M707.9 368.4h0.7M702.6 365.3h0.7M697.7 366.0h0.7M700.6 363.8h0.7M704.4 370.9h0.7M694.8 362.7h0.7M698.8 373.1h0.7M692.2 369.7h0.7M693.9 363.3h0.7M704.6 365.1h0.7M697.8 367.7h0.7M704.9 366.3h0.7M707.5 363.6h0.7M694.8 367.7h0.7M702.0 360.3h0.7M696.1 367.7h0.7M697.1 371.1h0.7M688.4 366.2h0.7M692.9 360.8h0.7M696.6 365.4h0.7M695.5 363.7h0.7M703.3 362.5h0.7M694.2 361.4h0.7M705.1 361.2h0.7M708.6 362.8h0.7M697.7 370.6h0.7M691.5 369.6h0.7M690.1 364.2h0.7M701.4 366.7h0.7M700.1 366.6h0.7M707.6 360.7h0.7M693.8 368.3h0.7M689.0 363.5h0.7M713.0 369.7h0.7M701.1 365.9h0.7M697.0 363.0h0.7M692.7 362.7h0.7M690.2 366.0h0.7M700.6 362.8h0.7M698.8 361.6h0.7M700.3 364.7h0.7M697.6 366.2h0.7M706.0 366.3h0.7M694.0 366.1h0.7M700.4 367.3h0.7M704.5 363.2h0.7M690.7 367.5h0.7M691.1 367.0h0.7M714.7 369.4h0.7M689.0 363.2h0.7M700.4 364.8h0.7M702.3 366.4h0.7M700.1 367.3h0.7M688.4 369.1h0.7M689.3 363.0h0.7M683.2 365.7h0.7M700.5 364.5h0.7M690.7 359.0h0.7M701.5 362.2h0.7M695.8 366.4h0.7M697.6 366.9h0.7M708.2 367.8h0.7M691.8 365.5h0.7M696.6 363.1h0.7M702.0 364.5h0.7M699.5 367.6h0.7M710.9 363.8h0.7M702.5 372.2h0.7M707.8 366.6h0.7M693.5 366.2h0.7M694.2 364.4h0.7M687.4 364.8h0.7M685.7 368.7h0.7M701.2 364.4h0.7M698.2 366.0h0.7M696.5 366.5h0.7M696.9 367.0h0.7M693.0 365.9h0.7M708.4 363.2h0.7M693.1 368.5h0.7M700.0 366.1h0.7M699.2 364.4h0.7M694.8 367.2h0.7M699.1 367.6h0.7M700.8 372.5h0.7M698.6 369.9h0.7M699.0 372.5h0.7M704.1 363.4h0.7M707.8 364.0h0.7M704.3 363.4h0.7M700.3 366.2h0.7M706.9 359.2h0.7M686.1 368.7h0.7M702.7 364.2h0.7M698.6 360.4h0.7M695.7 363.7h0.7M703.5 366.5h0.7M697.1 369.2h0.7M694.0 368.0h0.7M696.6 367.1h0.7M696.2 370.0h0.7M695.3 371.8h0.7M703.0 363.2h0.7M695.3 369.8h0.7M707.2 362.0h0.7M699.1 367.6h0.7M712.8 367.8h0.7M696.8 368.5h0.7M698.6 363.1h0.7M697.8 365.1h0.7M696.7 366.0h0.7M700.3 363.4h0.7M702.3 361.0h0.7M702.2 367.2h0.7M700.7 361.2h0.7M695.0 366.4h0.7M701.0 368.0h0.7M688.6 365.8h0.7M704.8 362.2h0.7M690.5 364.3h0.7M696.4 365.0h0.7M705.8 366.6h0.7M686.2 368.2h0.7M698.7 368.4h0.7M697.9 370.0h0.7M699.0 364.3h0.7M690.6 368.6h0.7M697.2 360.5h0.7M703.3 369.7h0.7M685.1 367.5h0.7M702.1 371.0h0.7M705.7 363.5h0.7M700.9 368.0h0.7M688.9 370.2h0.7M701.2 368.3h0.7M692.6 368.3h0.7M697.8 364.9h0.7M698.3 366.8h0.7M688.6 365.8h0.7M700.3 360.9h0.7M708.6 373.6h0.7M702.3 365.8h0.7M691.6 362.4h0.7M690.4 368.5h0.7M692.6 366.4h0.7M695.3 368.5h0.7M706.0 368.6h0.7M702.2 369.0h0.7M708.7 363.2h0.7M699.7 363.8h0.7M698.4 365.1h0.7M698.8 368.0h0.7M690.0 357.9h0.7M699.8 369.0h0.7M695.6 370.3h0.7M712.1 366.0h0.7M696.7 367.4h0.7M702.8 361.3h0.7M701.2 359.6h0.7M691.4 366.5h0.7M700.0 362.2h0.7M698.3 369.7h0.7M687.8 367.5h0.7M706.0 361.8h0.7M705.5 367.2h0.7M696.1 365.9h0.7M697.8 365.9h0.7M696.8 363.6h0.7M703.7 371.0h0.7M696.8 370.1h0.7M693.2 362.0h0.7M702.0 366.6h0.7M700.9 362.9h0.7M695.6 368.9h0.7M708.0 366.6h0.7M700.4 357.9h0.7M694.0 369.8h0.7M709.9 363.3h0.7M682.3 367.4h0.7M689.9 364.6h0.7M694.3 364.7h0.7M692.0 367.8h0.7M699.9 361.9h0.7M688.2 372.2h0.7M701.6 366.5h0.7M687.5 372.4h0.7M691.6 366.2h0.7M700.1 363.6h0.7M698.8 364.5h0.7M685.2 361.6h0.7M694.1 364.2h0.7M700.7 370.9h0.7M696.5 372.5h0.7M695.3 366.2h0.7M696.6 360.7h0.7M697.6 365.2h0.7M692.8 368.1h0.7M700.5 364.9h0.7M692.5 366.8h0.7M693.0 363.3h0.7M694.9 368.7h0.7M696.2 365.4h0.7M695.9 367.7h0.7M697.0 368.4h0.7M697.0 368.4h0.7M696.1 363.6h0.7M700.5 365.2h0.7M695.1 370.2h0.7M694.8 363.5h0.7M695.8 370.2h0.7M689.6 369.4h0.7M701.1 364.7h0.7M695.8 363.7h0.7M685.3 363.0h0.7M689.2 361.0h0.7M695.2 367.7h0.7M692.1 364.9h0.7M693.1 365.3h0.7M700.3 369.6h0.7M701.6 367.0h0.7M706.4 368.1h0.7M700.8 367.6h0.7M702.9 362.7h0.7M692.3 366.2h0.7M686.8 365.1h0.7M695.7 366.9h0.7M702.1 369.9h0.7M683.1 366.5h0.7M699.9 370.3h0.7M693.9 367.2h0.7M696.8 363.0h0.7M699.3 368.8h0.7M695.6 366.2h0.7M704.5 365.3h0.7M695.8 366.8h0.7M700.5 367.1h0.7M705.4 367.2h0.7M690.3 360.9h0.7M697.1 371.0h0.7M698.0 364.6h0.7M699.4 367.5h0.7M705.4 362.0h0.7M702.5 366.5h0.7M702.8 369.2h0.7M683.9 368.7h0.7M700.8 363.5h0.7M696.9 369.1h0.7M688.4 368.6h0.7M702.6 371.2h0.7M692.5 364.0h0.7M703.9 365.0h0.7M700.2 357.9h0.7M712.5 360.2h0.7M687.5 367.4h0.7M700.8 363.4h0.7M684.0 367.6h0.7M699.1 363.1h0.7M698.5 364.1h0.7M691.3 368.0h0.7M697.7 366.0h0.7M690.0 363.7h0.7M695.9 364.1h0.7M699.8 366.0h0.7M696.3 365.4h0.7M700.2 369.0h0.7M691.0 368.8h0.7M703.2 368.3h0.7M694.2 366.5h0.7M710.7 361.8h0.7M702.8 365.1h0.7M707.9 366.3h0.7M702.9 364.0h0.7M694.6 370.8h0.7M689.8 364.3h0.7M696.1 362.1h0.7M701.5 362.1h0.7M697.9 365.2h0.7M684.0 366.3h0.7M688.1 366.0h0.7M683.2 364.2h0.7M702.7 366.7h0.7M704.6 370.9h0.7M702.2 365.3h0.7M696.9 367.8h0.7M689.9 362.7h0.7M697.6 371.2h0.7M690.7 366.6h0.7M693.3 368.1h0.7M699.8 365.8h0.7M703.3 365.1h0.7M687.3 372.3h0.7M696.9 366.8h0.7M702.5 363.4h0.7M694.7 363.6h0.7M701.2 367.1h0.7M698.9 361.9h0.7M692.5 361.5h0.7M689.2 363.6h0.7M699.4 367.4h0.7M686.5 367.8h0.7M699.8 370.7h0.7M702.9 361.3h0.7M700.7 366.6h0.7M699.6 363.6h0.7M706.5 366.2h0.7M694.0 360.3h0.7M696.0 361.7h0.7M688.5 370.9h0.7M697.2 368.9h0.7M704.5 368.1h0.7M695.0 362.3h0.7M696.6 366.2h0.7M696.7 364.9h0.7M698.5 361.4h0.7M704.2 362.2h0.7M698.4 363.2h0.7M706.0 364.1h0.7M691.9 364.7h0.7M703.1 362.1h0.7M689.6 364.2h0.7M702.3 356.8h0.7M703.4 372.8h0.7M696.5 368.7h0.7M696.8 360.1h0.7M695.0 367.8h0.7M690.7 364.9h0.7M693.5 367.1h0.7M713.0 366.1h0.7M689.6 371.0h0.7M695.8 364.6h0.7M700.7 368.2h0.7M699.0 366.9h0.7M698.7 362.1h0.7M702.5 368.6h0.7M692.8 360.4h0.7M693.9 366.4h0.7M706.4 366.5h0.7M677.3 363.9h0.7M698.0 366.6h0.7M688.2 364.7h0.7M698.5 368.0h0.7M702.7 371.0h0.7M693.4 364.5h0.7M694.8 367.4h0.7M710.1 366.4h0.7M698.7 363.0h0.7M689.6 371.4h0.7M697.1 370.2h0.7M702.8 364.3h0.7M699.2 363.0h0.7M701.6 365.4h0.7M702.6 369.7h0.7M694.0 368.3h0.7M700.4 364.2h0.7M699.4 369.7h0.7M698.7 368.9h0.7M699.8 369.8h0.7M696.8 364.8h0.7M701.6 358.7h0.7M694.4 370.6h0.7M693.0 371.6h0.7M707.8 364.3h0.7M692.9 367.1h0.7M703.4 371.3h0.7M707.3 363.6h0.7M703.1 364.3h0.7M704.5 367.3h0.7M706.7 365.6h0.7M702.9 361.9h0.7M691.6 367.4h0.7M698.3 368.6h0.7M712.2 363.9h0.7M690.3 362.5h0.7M693.8 369.5h0.7M700.1 364.9h0.7M702.0 365.3h0.7M699.3 365.8h0.7M689.2 368.4h0.7M698.9 372.8h0.7M698.4 364.0h0.7M698.9 363.6h0.7M697.5 364.7h0.7M699.9 363.0h0.7M697.1 364.5h0.7M691.6 365.6h0.7M702.1 368.1h0.7M699.7 365.5h0.7M703.8 364.9h0.7M702.0 360.4h0.7M690.2 363.5h0.7M704.9 365.0h0.7M700.7 362.4h0.7M688.2 374.6h0.7M708.2 371.3h0.7M697.8 363.7h0.7M699.4 365.0h0.7M694.8 358.1h0.7M699.2 358.9h0.7M694.6 361.0h0.7M710.4 361.8h0.7M695.3 367.0h0.7M695.8 366.6h0.7M703.7 363.8h0.7M701.1 365.4h0.7M689.5 366.7h0.7M691.0 369.0h0.7M697.9 366.3h0.7M704.2 363.2h0.7M692.8 370.3h0.7M702.4 367.1h0.7M685.2 365.9h0.7M691.8 363.9h0.7M687.4 360.6h0.7M695.1 367.0h0.7M694.6 365.2h0.7M698.3 370.0h0.7M694.1 366.2h0.7M715.4 365.7h0.7M703.1 362.0h0.7M691.1 364.4h0.7M717.5 363.8h0.7M706.9 364.2h0.7M689.8 359.9h0.7M698.9 369.1h0.7M692.8 364.5h0.7M690.7 363.5h0.7M704.4 364.1h0.7M691.1 367.7h0.7M699.6 365.6h0.7M711.1 366.7h0.7M705.3 361.9h0.7M697.4 369.7h0.7M702.7 368.6h0.7M688.4 364.9h0.7M708.7 370.3h0.7M677.9 359.8h0.7M706.7 368.3h0.7M706.5 357.0h0.7M698.5 368.3h0.7M705.9 362.7h0.7M704.8 368.2h0.7M694.5 370.7h0.7M706.2 368.6h0.7M694.9 366.6h0.7M697.8 371.0h0.7M713.9 363.0h0.7M711.0 367.1h0.7M693.5 363.5h0.7M708.0 366.8h0.7M693.6 365.1h0.7M695.4 365.3h0.7M709.8 363.6h0.7M695.9 356.2h0.7M701.3 368.7h0.7M711.5 363.8h0.7M696.0 364.5h0.7M689.8 365.7h0.7M692.8 365.0h0.7M699.0 368.1h0.7M698.4 373.3h0.7M700.2 367.4h0.7M701.4 365.4h0.7M704.3 366.2h0.7M689.1 364.1h0.7M707.8 360.7h0.7M709.6 366.1h0.7M699.7 369.6h0.7M699.5 364.2h0.7M683.5 363.8h0.7M690.2 367.9h0.7M698.6 362.8h0.7M705.8 368.5h0.7M712.8 366.6h0.7M689.8 366.0h0.7M703.0 368.5h0.7M689.2 367.2h0.7M702.5 367.0h0.7M687.2 364.3h0.7M697.2 365.0h0.7M704.1 364.5h0.7M685.8 359.0h0.7M701.2 363.2h0.7M697.7 369.2h0.7M694.5 365.6h0.7M688.4 361.9h0.7M701.9 369.3h0.7M693.6 365.1h0.7M700.2 364.3h0.7M698.5 364.4h0.7M702.0 364.1h0.7M694.8 361.4h0.7M692.9 361.0h0.7M697.1 368.8h0.7M689.4 363.0h0.7M692.9 367.1h0.7M696.0 364.7h0.7M691.6 364.8h0.7M695.7 363.2h0.7M707.4 367.2h0.7M696.9 366.6h0.7M713.3 367.6h0.7M694.4 365.6h0.7M705.6 367.1h0.7M696.2 366.0h0.7M690.5 364.7h0.7M695.3 364.9h0.7M707.1 365.8h0.7M705.8 365.6h0.7M688.0 369.4h0.7M694.4 365.3h0.7M705.4 370.0h0.7M699.1 369.6h0.7M694.7 367.7h0.7M691.9 368.7h0.7M694.2 367.7h0.7M690.0 370.1h0.7M708.9 364.8h0.7M698.4 362.7h0.7M696.7 361.2h0.7M702.8 365.4h0.7M705.8 365.6h0.7M696.5 363.1h0.7M702.3 365.3h0.7M690.0 361.0h0.7M704.4 365.3h0.7M697.6 363.9h0.7M694.5 365.6h0.7M699.3 361.9h0.7M714.5 368.5h0.7M685.3 365.8h0.7M705.5 363.6h0.7M688.9 367.3h0.7M693.9 365.6h0.7M709.0 365.6h0.7M706.9 363.2h0.7M685.8 364.4h0.7M695.4 367.7h0.7" stroke="#000" stroke-width="0.7" fill="none" opacity="1"/>
<ellipse cx="697" cy="366.6" rx="15" ry="7.5" fill="#111" opacity="0.5" filter="url(#bl3)"/>
<ellipse cx="698" cy="366" rx="9" ry="4" fill="#111" opacity="0.5" filter="url(#bl)"/>
<g fill="none" stroke="#111" stroke-width="0.55">
<ellipse cx="695.0" cy="368.2" rx="21.0" ry="12.2" transform="rotate(6 695.0 368.2)"/>
<ellipse cx="695.4" cy="367.8" rx="19.4" ry="11.3" transform="rotate(6 695.4 367.8)"/>
<ellipse cx="695.7" cy="367.6" rx="17.7" ry="10.3" transform="rotate(6 695.7 367.6)"/>
<ellipse cx="696.0" cy="367.3" rx="16.1" ry="9.4" transform="rotate(6 696.0 367.3)"/>
<ellipse cx="696.2" cy="367.1" rx="14.5" ry="8.4" transform="rotate(6 696.2 367.1)"/>
<ellipse cx="696.5" cy="366.9" rx="12.9" ry="7.5" transform="rotate(6 696.5 366.9)"/>
<ellipse cx="696.7" cy="366.7" rx="11.2" ry="6.5" transform="rotate(6 696.7 366.7)"/>
<ellipse cx="696.9" cy="366.5" rx="9.6" ry="5.6" transform="rotate(6 696.9 366.5)"/>
<ellipse cx="697.2" cy="366.3" rx="8.0" ry="4.6" transform="rotate(6 697.2 366.3)"/>
<ellipse cx="697.4" cy="366.1" rx="6.4" ry="3.7" transform="rotate(6 697.4 366.1)"/>
<ellipse cx="697.6" cy="366.0" rx="4.7" ry="2.7" transform="rotate(6 697.6 366.0)"/>
<ellipse cx="697.8" cy="365.8" rx="3.1" ry="1.8" transform="rotate(6 697.8 365.8)"/>
<ellipse cx="698.0" cy="365.6" rx="1.5" ry="0.9" transform="rotate(6 698.0 365.6)"/>
</g>
<ellipse cx="698.3" cy="365.6" rx="2.2" ry="0.9" fill="#fff"/>
<rect x="714.2" y="341.5" width="60.5" height="55.7" fill="none" stroke="#5656a2" stroke-width="1.15"/>
<text x="763.8" y="410.3" font-size="11.4" text-anchor="end" fill="#5656a2" stroke="#5656a2" stroke-width="0.22">1.88%</text>
<rect x="795.4" y="325.4" width="129.20000000000005" height="128.5" fill="#fff" stroke="#6a6a6a" stroke-width="1"/>
<path d="M792.1999999999999 453.9H795.4M793.8 447.5H795.4M793.8 443.7H795.4M793.8 441.0H795.4M793.8 438.9H795.4M793.8 437.2H795.4M793.8 435.8H795.4M793.8 434.6H795.4M793.8 433.5H795.4M792.1999999999999 432.5H795.4M793.8 426.0H795.4M793.8 422.3H795.4M793.8 419.6H795.4M793.8 417.5H795.4M793.8 415.8H795.4M793.8 414.4H795.4M793.8 413.1H795.4M793.8 412.0H795.4M792.1999999999999 411.1H795.4M793.8 404.6H795.4M793.8 400.8H795.4M793.8 398.2H795.4M793.8 396.1H795.4M793.8 394.4H795.4M793.8 393.0H795.4M793.8 391.7H795.4M793.8 390.6H795.4M792.1999999999999 389.6H795.4M793.8 383.2H795.4M793.8 379.4H795.4M793.8 376.8H795.4M793.8 374.7H795.4M793.8 373.0H795.4M793.8 371.6H795.4M793.8 370.3H795.4M793.8 369.2H795.4M792.1999999999999 368.2H795.4M793.8 361.8H795.4M793.8 358.0H795.4M793.8 355.3H795.4M793.8 353.3H795.4M793.8 351.6H795.4M793.8 350.1H795.4M793.8 348.9H795.4M793.8 347.8H795.4M792.1999999999999 346.8H795.4M793.8 340.4H795.4M793.8 336.6H795.4M793.8 333.9H795.4M793.8 331.8H795.4M793.8 330.2H795.4M793.8 328.7H795.4M793.8 327.5H795.4M793.8 326.4H795.4M792.1999999999999 325.4H795.4M805.9 453.9V457.09999999999997M825.3 453.9V457.09999999999997M855.9 453.9V457.09999999999997M883.4 453.9V457.09999999999997M905.9 453.9V457.09999999999997M923.9 453.9V457.09999999999997M811.7 453.9V455.5M815.2 453.9V455.5M817.6 453.9V455.5M819.5 453.9V455.5M821.0 453.9V455.5M822.3 453.9V455.5M823.4 453.9V455.5M824.4 453.9V455.5M834.5 453.9V455.5M839.9 453.9V455.5M843.7 453.9V455.5M846.7 453.9V455.5M849.1 453.9V455.5M851.2 453.9V455.5M852.9 453.9V455.5M854.5 453.9V455.5M864.2 453.9V455.5M869.0 453.9V455.5M872.5 453.9V455.5M875.1 453.9V455.5M877.3 453.9V455.5M879.1 453.9V455.5M880.7 453.9V455.5M882.1 453.9V455.5M890.2 453.9V455.5M894.1 453.9V455.5M896.9 453.9V455.5M899.1 453.9V455.5M900.9 453.9V455.5M902.4 453.9V455.5M903.7 453.9V455.5M904.9 453.9V455.5M911.3 453.9V455.5M914.5 453.9V455.5M916.7 453.9V455.5M918.5 453.9V455.5M919.9 453.9V455.5M921.1 453.9V455.5M922.2 453.9V455.5M923.1 453.9V455.5" stroke="#505050" stroke-width="0.8" fill="none"/>
<path d="M849.1 359.4h0.75M822.6 369.3h0.75M827.9 367.9h0.75M833.4 373.1h0.75M817.2 366.1h0.75M825.4 379.7h0.75M835.6 362.6h0.75M850.2 378.0h0.75M815.7 364.3h0.75M849.2 372.4h0.75M853.2 382.3h0.75M854.6 378.4h0.75M831.3 381.0h0.75M828.3 374.2h0.75M810.1 369.4h0.75M857.6 366.2h0.75M831.5 358.3h0.75M833.2 363.7h0.75M839.5 369.0h0.75M828.5 369.9h0.75M832.3 372.0h0.75M834.3 379.3h0.75M864.5 356.1h0.75M871.5 370.7h0.75M846.9 366.3h0.75M853.1 375.7h0.75M830.2 364.9h0.75M850.9 374.8h0.75M825.5 358.4h0.75M822.6 374.5h0.75M869.7 365.8h0.75M830.2 365.1h0.75M846.8 367.0h0.75M879.8 375.7h0.75M835.3 369.4h0.75M863.2 369.5h0.75M832.7 372.7h0.75M864.3 381.0h0.75M833.3 364.2h0.75M825.6 370.9h0.75M854.1 355.4h0.75M854.3 374.5h0.75M843.2 362.6h0.75M840.7 368.7h0.75M825.2 375.8h0.75M869.1 373.2h0.75M852.6 378.3h0.75M839.1 369.3h0.75M875.2 368.0h0.75M834.1 374.1h0.75M832.5 365.9h0.75M865.4 371.8h0.75M828.7 368.3h0.75M852.9 377.1h0.75M843.5 379.2h0.75M838.2 382.0h0.75M860.8 364.7h0.75M837.0 374.0h0.75M838.2 365.7h0.75M850.2 371.5h0.75M818.0 363.9h0.75M833.1 377.8h0.75M837.9 373.1h0.75M861.9 370.5h0.75M839.1 371.5h0.75M860.9 367.8h0.75M848.1 367.4h0.75M840.8 378.9h0.75M827.7 375.0h0.75M840.6 373.4h0.75M851.5 372.4h0.75M850.9 383.3h0.75M829.1 365.2h0.75M856.9 374.4h0.75M887.1 368.0h0.75M856.4 368.5h0.75M832.0 368.2h0.75M827.6 366.0h0.75M834.2 370.9h0.75M840.2 377.0h0.75M826.4 371.4h0.75M826.8 377.1h0.75M826.3 369.7h0.75M828.0 378.7h0.75M822.4 364.8h0.75M833.3 369.7h0.75M826.2 379.0h0.75M831.2 358.9h0.75M835.9 363.7h0.75M829.8 368.9h0.75M826.5 369.3h0.75M833.2 375.8h0.75M899.3 367.6h0.75M832.4 379.0h0.75M879.5 376.8h0.75M835.1 384.0h0.75M841.0 379.4h0.75M831.3 364.2h0.75M870.9 366.4h0.75M824.7 372.8h0.75M826.2 376.1h0.75M840.7 370.7h0.75M831.1 381.1h0.75M871.8 379.0h0.75M821.1 382.3h0.75M841.4 382.6h0.75M851.6 367.7h0.75M816.6 367.8h0.75M867.7 369.1h0.75M878.1 363.9h0.75M854.2 371.2h0.75M820.1 374.3h0.75M833.2 370.1h0.75M811.0 365.7h0.75M829.7 371.0h0.75M827.5 384.7h0.75M833.1 373.3h0.75M834.2 379.9h0.75M852.5 378.2h0.75M818.2 373.0h0.75M836.5 375.9h0.75M829.6 372.8h0.75M825.4 369.7h0.75M847.2 368.8h0.75M827.3 371.1h0.75M846.5 374.5h0.75M822.8 369.3h0.75M823.0 365.7h0.75M895.3 379.5h0.75M855.4 370.2h0.75M859.0 381.6h0.75M868.0 376.5h0.75M825.3 386.9h0.75M856.8 377.4h0.75M846.9 374.3h0.75M833.0 361.3h0.75M881.0 388.2h0.75M850.0 376.2h0.75M838.2 376.7h0.75M836.3 371.5h0.75M853.4 361.3h0.75M871.8 369.6h0.75M851.5 375.8h0.75M876.5 382.5h0.75M821.1 366.0h0.75M842.4 361.7h0.75M853.2 371.2h0.75M827.9 377.2h0.75M825.8 367.3h0.75M838.0 377.4h0.75M835.5 369.8h0.75M842.8 369.7h0.75M813.6 377.7h0.75M849.7 378.9h0.75M841.1 374.9h0.75M815.9 363.4h0.75M812.5 379.4h0.75M828.8 380.3h0.75M848.3 369.2h0.75M836.7 367.0h0.75M832.0 374.1h0.75M854.0 368.9h0.75M817.0 379.1h0.75M823.2 376.5h0.75M817.7 366.3h0.75M811.4 376.1h0.75M848.2 391.4h0.75M882.4 372.8h0.75M810.6 370.6h0.75M843.7 374.3h0.75M841.3 365.6h0.75M833.6 383.8h0.75M830.5 369.5h0.75M821.8 368.1h0.75M866.2 374.3h0.75M830.9 369.7h0.75M856.9 368.4h0.75M827.0 370.0h0.75M803.6 379.1h0.75M826.9 376.7h0.75M837.5 378.3h0.75M830.5 387.4h0.75M850.5 370.6h0.75M844.7 359.0h0.75M822.4 359.1h0.75M834.0 385.6h0.75M845.3 362.8h0.75M816.9 374.3h0.75M852.3 370.7h0.75M872.1 373.5h0.75M885.7 377.3h0.75M886.7 355.4h0.75M855.3 376.9h0.75M872.9 375.7h0.75M846.8 374.0h0.75M842.0 375.5h0.75M875.7 361.9h0.75M831.6 362.8h0.75M829.7 373.7h0.75M841.6 374.4h0.75M854.7 374.7h0.75M833.1 371.2h0.75M823.3 369.2h0.75M836.2 374.4h0.75M816.4 378.9h0.75M836.5 362.3h0.75M835.3 375.6h0.75M839.3 369.4h0.75M825.6 373.4h0.75M840.8 373.9h0.75M832.3 379.6h0.75M813.2 372.0h0.75M815.7 359.8h0.75M841.2 377.2h0.75M833.5 374.8h0.75M835.0 379.2h0.75M829.4 375.3h0.75M844.7 362.1h0.75M864.9 368.3h0.75M822.2 367.9h0.75M857.3 369.5h0.75M855.4 366.1h0.75M842.9 361.2h0.75M833.4 380.0h0.75M830.3 373.1h0.75M813.2 382.3h0.75M834.3 374.8h0.75M832.1 365.5h0.75M832.6 369.9h0.75M823.4 371.0h0.75M824.2 368.9h0.75M799.6 365.9h0.75M844.0 373.3h0.75M834.0 374.5h0.75M877.5 374.2h0.75M839.3 371.4h0.75M844.5 375.9h0.75M807.7 385.0h0.75M859.2 374.9h0.75M829.1 371.3h0.75M827.0 380.3h0.75M828.0 361.9h0.75M834.1 366.7h0.75M840.9 372.9h0.75M825.9 362.4h0.75M832.6 363.9h0.75M834.5 373.0h0.75M831.8 373.0h0.75M831.6 382.1h0.75M813.5 365.2h0.75M862.9 364.4h0.75M850.9 370.6h0.75M836.9 363.2h0.75M831.5 371.0h0.75M808.7 372.0h0.75M831.0 358.1h0.75M839.6 369.7h0.75M816.9 379.0h0.75M835.1 364.9h0.75M825.1 373.7h0.75M829.5 376.3h0.75M820.3 373.5h0.75M846.4 375.1h0.75M826.0 366.1h0.75M821.7 372.5h0.75M809.4 389.1h0.75M833.1 379.3h0.75M832.5 380.0h0.75M833.2 378.1h0.75M859.1 373.7h0.75M820.1 374.5h0.75M839.1 370.0h0.75M833.6 376.2h0.75M809.5 375.3h0.75M873.3 367.8h0.75M864.3 369.1h0.75M832.6 369.7h0.75M836.2 367.2h0.75M828.8 370.5h0.75M824.5 371.5h0.75M859.4 366.8h0.75M840.0 367.2h0.75M821.5 371.8h0.75M832.8 377.9h0.75M851.8 372.5h0.75M828.0 380.2h0.75M819.4 367.2h0.75M852.3 374.4h0.75M849.8 370.5h0.75M852.3 379.0h0.75M811.4 375.1h0.75M858.0 365.6h0.75M824.1 374.1h0.75M849.8 371.8h0.75M815.2 373.1h0.75M835.1 369.6h0.75M859.3 358.8h0.75M837.8 368.2h0.75M848.8 369.9h0.75M875.6 373.0h0.75M829.5 361.9h0.75M832.9 371.6h0.75M872.1 374.1h0.75M839.5 366.3h0.75M840.1 366.0h0.75M818.2 374.5h0.75M830.7 363.7h0.75M861.9 379.2h0.75M845.8 361.8h0.75M825.6 365.9h0.75M841.2 392.5h0.75M856.5 371.2h0.75M825.5 363.4h0.75M827.0 372.9h0.75M833.3 374.9h0.75M847.6 364.9h0.75M854.8 372.0h0.75M872.9 371.0h0.75M831.9 371.1h0.75M864.1 374.9h0.75M862.8 378.1h0.75M843.1 385.9h0.75M835.4 370.4h0.75M861.6 364.8h0.75M843.0 377.9h0.75M825.0 360.3h0.75M818.2 378.7h0.75M893.9 366.4h0.75M819.6 364.2h0.75M872.3 376.4h0.75M851.5 367.4h0.75M851.2 367.3h0.75M849.0 367.2h0.75M820.3 369.1h0.75M845.4 373.8h0.75M829.6 377.4h0.75M815.9 359.9h0.75M849.8 370.8h0.75M836.3 369.0h0.75M848.2 373.1h0.75M868.2 366.0h0.75M820.4 371.0h0.75M833.5 369.9h0.75M808.8 374.0h0.75M875.5 374.0h0.75M865.0 375.4h0.75M842.2 374.2h0.75M861.6 374.5h0.75M851.4 371.4h0.75M827.2 373.9h0.75M831.7 375.3h0.75M807.9 382.5h0.75M867.2 381.0h0.75M845.4 365.4h0.75M831.8 364.7h0.75M846.0 371.9h0.75M840.2 360.5h0.75M817.5 358.4h0.75M869.6 374.8h0.75M837.9 369.6h0.75M813.7 369.5h0.75M831.7 366.7h0.75M860.2 359.5h0.75M840.4 376.7h0.75M855.7 362.6h0.75M800.5 380.2h0.75M870.3 370.8h0.75M833.8 373.8h0.75M862.2 372.5h0.75M832.8 373.1h0.75M845.9 384.3h0.75M837.7 366.2h0.75M882.3 380.9h0.75M872.0 366.0h0.75M829.6 363.4h0.75M835.8 379.9h0.75M859.4 372.1h0.75M842.7 374.8h0.75M835.7 365.4h0.75M828.4 381.9h0.75M825.1 364.8h0.75M850.8 369.7h0.75M833.1 372.7h0.75M835.8 361.7h0.75M859.8 373.1h0.75M878.3 377.0h0.75M830.0 369.1h0.75M828.2 358.3h0.75M855.0 367.7h0.75M861.1 372.9h0.75M836.2 381.7h0.75M825.3 382.5h0.75M832.8 384.9h0.75M865.4 368.6h0.75M879.8 374.4h0.75M846.1 369.4h0.75M837.2 369.3h0.75M833.4 376.7h0.75M857.3 379.4h0.75M866.7 371.4h0.75M855.9 370.3h0.75M851.7 375.6h0.75M847.0 367.0h0.75M822.3 382.3h0.75M827.5 368.1h0.75M847.3 369.5h0.75M848.2 380.2h0.75M817.5 372.4h0.75M852.4 363.3h0.75M855.7 380.9h0.75M839.0 374.8h0.75M834.1 377.8h0.75M831.3 371.9h0.75M829.2 367.5h0.75M865.7 371.5h0.75M859.6 362.2h0.75M822.3 366.4h0.75M883.7 379.0h0.75M891.5 369.2h0.75M852.7 374.1h0.75M834.7 375.5h0.75M837.8 374.8h0.75M814.5 365.5h0.75M824.9 382.1h0.75M859.3 366.0h0.75M850.2 368.4h0.75M823.1 366.3h0.75M909.5 372.4h0.75M836.9 379.5h0.75M845.0 365.1h0.75M889.7 385.3h0.75M857.3 366.7h0.75M837.4 372.6h0.75M823.5 388.0h0.75M838.5 368.5h0.75M834.6 369.9h0.75M804.7 372.7h0.75M866.3 373.2h0.75M848.8 371.4h0.75M815.0 375.5h0.75M854.6 365.6h0.75M823.1 368.3h0.75M820.6 356.8h0.75M832.8 368.3h0.75M841.1 379.2h0.75M826.1 362.4h0.75M836.7 376.0h0.75M872.7 377.6h0.75M841.5 372.2h0.75M815.2 376.1h0.75M857.0 371.4h0.75M834.2 374.4h0.75M848.8 375.0h0.75M848.3 362.6h0.75M830.7 361.8h0.75M857.2 387.6h0.75M827.6 371.0h0.75M844.2 367.6h0.75M878.8 373.1h0.75M889.7 385.7h0.75M849.9 367.3h0.75M869.8 370.3h0.75M827.4 370.6h0.75M865.2 367.0h0.75M835.1 377.2h0.75M834.4 377.3h0.75M867.4 368.9h0.75M822.4 364.7h0.75M868.5 375.2h0.75M840.0 369.5h0.75M863.7 369.0h0.75M903.2 373.8h0.75M816.8 378.3h0.75M844.3 371.8h0.75M835.7 379.1h0.75M831.6 381.3h0.75M828.0 377.4h0.75M818.2 377.7h0.75M825.1 370.4h0.75M856.1 367.2h0.75M850.8 371.8h0.75M869.3 377.3h0.75M844.0 370.7h0.75M826.1 380.4h0.75M834.9 364.2h0.75M827.4 360.4h0.75M826.4 369.1h0.75M843.8 377.4h0.75M857.7 360.8h0.75M831.6 375.5h0.75M846.1 371.7h0.75M827.4 376.1h0.75M836.8 370.3h0.75M836.4 370.4h0.75M845.1 378.4h0.75M839.5 368.0h0.75M836.3 370.9h0.75M849.6 376.4h0.75M877.1 377.2h0.75M815.4 366.7h0.75M821.1 373.6h0.75M893.8 374.6h0.75M830.4 380.2h0.75M852.6 366.9h0.75M825.1 380.7h0.75M855.9 359.2h0.75M827.9 375.2h0.75M819.9 371.8h0.75M826.2 361.7h0.75M830.9 368.6h0.75M844.3 361.4h0.75M843.8 369.6h0.75M816.5 379.1h0.75M831.8 374.3h0.75M874.9 374.3h0.75M860.0 373.1h0.75M830.0 373.0h0.75M816.8 374.7h0.75M857.4 374.4h0.75M828.7 364.5h0.75M827.8 370.1h0.75M818.7 383.4h0.75M826.9 372.6h0.75M831.4 372.6h0.75M809.0 365.6h0.75M837.3 371.5h0.75M846.9 368.6h0.75M857.1 373.1h0.75M837.0 371.9h0.75M862.8 371.6h0.75M874.8 372.6h0.75M843.2 371.8h0.75M844.5 374.6h0.75M829.3 376.6h0.75M899.1 375.1h0.75M840.1 367.0h0.75M827.4 366.8h0.75M843.6 367.6h0.75M875.9 369.2h0.75M825.7 366.3h0.75M836.3 370.9h0.75M859.7 367.4h0.75M845.4 377.5h0.75M833.8 361.3h0.75M843.0 378.0h0.75M846.8 371.8h0.75M811.8 381.5h0.75M835.1 364.6h0.75M833.1 372.7h0.75M838.3 366.4h0.75M895.1 379.3h0.75M861.3 375.6h0.75M832.3 364.7h0.75M820.5 378.3h0.75M839.2 381.6h0.75M807.3 379.8h0.75M848.4 368.5h0.75M858.5 367.8h0.75M833.9 375.0h0.75M841.0 373.5h0.75M842.4 378.0h0.75M826.2 359.7h0.75M825.3 357.2h0.75M884.0 367.8h0.75M837.0 373.8h0.75M827.2 368.8h0.75M843.4 371.8h0.75M856.7 370.3h0.75M828.6 363.0h0.75M815.0 373.4h0.75M844.7 369.3h0.75M866.4 355.5h0.75M852.7 364.6h0.75M833.0 370.4h0.75M827.5 370.1h0.75M843.9 386.2h0.75M837.5 376.1h0.75M857.0 366.0h0.75M848.7 369.3h0.75M858.7 368.3h0.75M863.0 366.4h0.75M831.2 376.9h0.75M861.7 377.0h0.75M885.2 378.0h0.75M837.4 377.4h0.75M826.4 376.7h0.75M846.7 370.9h0.75M827.8 378.2h0.75M810.6 370.8h0.75M818.6 369.7h0.75M831.6 366.8h0.75M829.3 373.5h0.75M884.7 382.3h0.75M835.0 369.2h0.75M851.9 366.7h0.75M817.6 377.7h0.75M832.0 381.0h0.75M845.2 363.0h0.75M844.2 374.7h0.75M838.6 363.5h0.75M817.3 383.1h0.75M800.0 366.0h0.75M856.5 382.7h0.75M852.7 371.6h0.75M846.3 378.7h0.75M830.4 379.5h0.75M843.2 373.0h0.75M847.7 373.7h0.75M825.1 381.2h0.75M831.0 370.2h0.75M805.9 361.8h0.75M850.8 371.2h0.75M836.2 369.5h0.75M852.0 367.8h0.75M817.7 361.9h0.75M826.8 373.7h0.75M871.9 375.2h0.75M828.4 363.7h0.75M857.1 374.8h0.75M836.8 375.6h0.75M851.4 374.9h0.75M869.2 362.4h0.75M828.8 368.5h0.75M824.2 383.8h0.75M845.8 374.3h0.75M856.3 370.4h0.75M857.5 370.5h0.75M855.3 375.2h0.75M868.6 362.6h0.75M825.2 367.2h0.75M826.5 374.1h0.75M860.5 369.7h0.75M863.1 377.2h0.75M829.7 375.8h0.75M871.8 368.9h0.75M808.2 375.2h0.75M844.2 375.6h0.75M849.7 371.5h0.75M837.4 366.9h0.75M884.4 381.2h0.75M835.7 366.6h0.75M847.7 381.5h0.75M838.4 366.8h0.75M860.0 373.4h0.75M827.0 370.5h0.75M841.3 365.0h0.75M844.3 379.6h0.75M862.8 379.4h0.75M855.4 371.3h0.75M852.3 379.3h0.75M838.5 375.0h0.75M829.3 371.9h0.75M831.2 365.3h0.75M847.1 385.3h0.75M815.1 368.9h0.75M842.2 367.4h0.75M841.5 377.0h0.75M816.0 371.3h0.75M851.7 375.4h0.75M881.4 373.1h0.75M867.4 368.5h0.75M825.7 368.6h0.75M831.9 377.3h0.75M855.7 372.0h0.75M825.8 372.8h0.75M832.3 369.6h0.75M814.7 381.4h0.75M851.6 390.0h0.75M902.1 372.2h0.75M890.9 369.4h0.75M904.7 371.6h0.75M813.3 371.9h0.75M857.0 382.4h0.75M861.2 382.7h0.75M842.2 362.6h0.75M841.5 366.6h0.75M857.9 358.9h0.75M824.8 364.8h0.75M840.4 378.3h0.75M833.8 364.0h0.75M831.1 371.0h0.75M865.7 372.7h0.75M871.1 354.5h0.75M880.7 385.5h0.75M830.9 388.5h0.75M817.1 377.7h0.75M820.5 368.2h0.75M849.9 373.3h0.75M844.9 370.8h0.75M813.1 362.0h0.75M826.5 365.8h0.75M831.6 361.5h0.75M836.3 375.0h0.75M831.2 380.2h0.75M842.8 377.7h0.75M825.9 373.2h0.75M818.8 360.3h0.75M814.4 369.5h0.75M843.6 385.0h0.75M845.4 369.7h0.75M863.2 372.6h0.75M838.0 372.8h0.75M861.4 381.8h0.75M818.8 372.6h0.75M831.6 372.1h0.75M895.1 370.5h0.75M804.9 377.3h0.75M831.5 366.3h0.75M891.4 384.3h0.75M862.6 373.5h0.75M828.1 381.0h0.75M834.6 373.4h0.75M835.5 372.9h0.75M811.2 364.4h0.75M820.6 358.5h0.75M822.2 368.9h0.75M835.4 371.4h0.75M832.0 378.4h0.75M810.0 368.7h0.75M834.7 366.6h0.75" stroke="#000" stroke-width="0.75" fill="none" opacity="1"/>
<path d="M853.9 370.0h0.75M851.7 372.4h0.75M840.8 374.0h0.75M831.3 366.1h0.75M839.7 361.9h0.75M839.5 369.7h0.75M829.0 366.7h0.75M832.5 379.0h0.75M852.9 372.6h0.75M844.6 375.2h0.75M843.8 374.9h0.75M850.0 378.1h0.75M851.4 368.4h0.75M847.8 374.5h0.75M848.2 378.3h0.75M845.3 369.0h0.75M850.0 374.6h0.75M842.8 372.3h0.75M844.0 371.4h0.75M845.9 369.0h0.75M848.8 371.8h0.75M856.8 371.5h0.75M843.9 366.1h0.75M861.0 369.6h0.75M838.9 369.5h0.75M843.0 370.1h0.75M856.5 368.7h0.75M841.1 368.8h0.75M847.8 364.6h0.75M850.9 369.1h0.75M831.6 375.7h0.75M832.4 373.0h0.75M843.1 368.1h0.75M829.7 367.9h0.75M849.0 370.2h0.75M838.4 373.9h0.75M843.3 370.7h0.75M836.0 365.5h0.75M839.2 371.5h0.75M839.6 371.5h0.75M840.9 369.6h0.75M842.6 371.7h0.75M825.0 370.4h0.75M841.3 368.8h0.75M850.7 374.6h0.75M852.1 373.0h0.75M846.6 370.9h0.75M849.0 368.1h0.75M841.9 371.5h0.75M841.8 366.0h0.75M842.2 368.9h0.75M837.8 372.6h0.75M851.5 370.7h0.75M833.7 369.8h0.75M841.4 366.6h0.75M838.1 370.9h0.75M838.2 372.0h0.75M832.4 372.7h0.75M837.3 370.8h0.75M843.1 368.6h0.75M851.2 364.0h0.75M844.5 372.7h0.75M840.9 370.1h0.75M833.7 370.2h0.75M844.2 368.2h0.75M843.0 369.1h0.75M834.7 370.1h0.75M836.6 373.5h0.75M836.6 375.3h0.75M842.7 370.3h0.75M837.0 371.9h0.75M834.6 364.9h0.75M846.3 362.9h0.75M852.0 368.4h0.75M855.5 371.2h0.75M856.0 365.2h0.75M839.3 371.3h0.75M838.4 370.6h0.75M841.6 372.7h0.75M854.3 362.7h0.75M847.9 366.2h0.75M856.0 365.1h0.75M836.1 372.1h0.75M841.5 372.7h0.75M845.8 367.6h0.75M829.7 374.4h0.75M841.1 369.9h0.75M840.4 369.4h0.75M837.0 370.5h0.75M844.9 365.9h0.75M830.1 372.3h0.75M849.9 368.4h0.75M841.5 368.5h0.75M846.1 370.1h0.75M838.4 367.6h0.75M846.4 371.6h0.75M839.4 371.7h0.75M817.8 368.8h0.75M844.2 363.1h0.75M838.1 371.1h0.75M853.0 371.7h0.75M832.9 373.4h0.75M840.6 373.2h0.75M831.6 364.5h0.75M829.9 372.4h0.75M852.4 371.2h0.75M844.3 369.9h0.75M844.4 366.7h0.75M852.8 373.1h0.75M850.6 370.0h0.75M849.7 373.8h0.75M863.2 374.1h0.75M836.8 367.5h0.75M849.9 372.1h0.75M847.3 370.5h0.75M836.3 370.8h0.75M831.1 371.3h0.75M861.3 372.9h0.75M835.9 367.2h0.75M862.4 372.6h0.75M838.7 372.4h0.75M840.2 366.6h0.75M844.0 372.1h0.75M853.4 365.9h0.75M854.9 369.5h0.75M826.7 373.8h0.75M851.0 372.2h0.75M849.6 367.2h0.75M847.1 364.5h0.75M837.5 379.2h0.75M856.4 371.7h0.75M847.0 370.6h0.75M848.0 371.0h0.75M835.3 369.1h0.75M827.3 367.3h0.75M841.5 371.6h0.75M861.1 364.6h0.75M860.1 368.8h0.75M839.4 370.0h0.75M860.8 366.5h0.75M839.8 372.2h0.75M850.7 371.7h0.75M843.9 373.8h0.75M834.9 375.9h0.75M838.9 371.7h0.75M835.4 368.2h0.75M851.0 372.3h0.75M841.4 373.2h0.75M869.2 361.7h0.75M826.1 371.0h0.75M828.9 373.9h0.75M836.2 370.3h0.75M836.1 377.6h0.75M855.4 364.4h0.75M848.3 369.3h0.75M854.9 371.5h0.75M836.8 368.8h0.75M843.4 376.3h0.75M843.7 368.5h0.75M839.7 373.3h0.75M840.4 376.5h0.75M850.2 370.9h0.75M843.8 369.2h0.75M823.6 374.5h0.75M855.3 369.6h0.75M845.3 365.6h0.75M841.3 371.0h0.75M842.3 370.5h0.75M851.1 372.9h0.75M849.4 368.3h0.75M838.8 370.4h0.75M829.9 365.3h0.75M845.7 370.4h0.75M843.6 374.5h0.75M825.4 371.8h0.75M841.0 365.8h0.75M848.4 375.3h0.75M830.8 370.5h0.75M850.9 370.5h0.75M839.3 373.8h0.75M828.9 370.2h0.75M837.6 370.1h0.75M832.6 371.0h0.75M853.1 371.9h0.75M832.4 368.5h0.75M836.7 365.1h0.75M849.0 372.1h0.75M841.5 375.5h0.75M848.8 368.3h0.75M843.3 369.9h0.75M842.9 375.0h0.75M853.3 367.0h0.75M859.1 364.7h0.75M840.8 378.9h0.75M848.6 374.5h0.75M844.1 372.2h0.75M837.6 375.5h0.75M841.3 368.5h0.75M830.8 378.1h0.75M830.8 366.8h0.75M847.0 370.5h0.75M857.2 372.6h0.75M845.7 367.6h0.75M847.5 365.3h0.75M836.8 375.2h0.75M845.2 366.3h0.75M837.8 369.9h0.75M845.6 371.1h0.75M849.7 359.9h0.75M849.0 363.8h0.75M839.3 370.9h0.75M851.6 368.2h0.75M832.1 367.5h0.75M845.1 378.9h0.75M832.9 368.6h0.75M837.2 374.4h0.75M847.6 369.8h0.75M845.5 376.0h0.75M840.7 366.4h0.75M843.2 366.1h0.75M844.9 373.5h0.75M840.0 373.7h0.75M852.9 376.9h0.75M840.1 372.5h0.75M849.7 373.3h0.75M850.9 372.1h0.75M848.7 373.7h0.75M847.1 372.5h0.75M845.4 370.2h0.75M828.2 370.2h0.75M843.4 368.5h0.75M839.4 374.9h0.75M840.9 362.5h0.75M838.8 370.0h0.75M853.2 371.5h0.75M847.3 368.5h0.75M838.4 364.9h0.75M848.2 370.5h0.75M837.3 370.7h0.75M852.1 373.7h0.75M849.6 374.5h0.75M845.1 370.5h0.75M843.1 372.2h0.75M829.2 371.5h0.75M843.4 367.4h0.75M838.5 374.5h0.75M839.9 370.1h0.75M855.2 367.1h0.75M842.7 369.0h0.75M838.9 369.8h0.75M847.6 369.5h0.75M850.7 373.1h0.75M834.4 370.7h0.75M841.6 365.9h0.75M828.6 374.0h0.75M845.5 374.8h0.75M855.8 373.2h0.75M846.1 374.9h0.75M842.0 369.1h0.75M851.0 372.7h0.75M838.9 369.0h0.75M832.8 377.8h0.75M840.0 368.7h0.75M838.2 368.6h0.75M844.1 370.6h0.75M849.5 361.7h0.75M844.2 376.3h0.75M843.5 368.4h0.75M859.3 368.7h0.75M848.7 371.3h0.75M841.9 367.0h0.75M844.4 371.2h0.75M857.8 365.2h0.75M830.5 372.4h0.75M830.9 360.5h0.75M840.4 374.4h0.75M828.3 365.2h0.75M855.1 367.4h0.75M835.9 369.9h0.75M856.1 369.8h0.75M849.4 369.9h0.75M834.4 371.4h0.75M828.4 374.0h0.75M830.0 370.9h0.75M825.7 370.1h0.75M846.3 367.8h0.75M858.8 370.4h0.75M846.6 365.3h0.75M838.9 371.2h0.75M849.1 372.5h0.75M831.7 365.2h0.75M834.0 374.4h0.75M828.8 366.1h0.75M844.0 370.2h0.75M842.5 367.5h0.75M845.8 370.0h0.75M841.5 371.2h0.75M841.1 369.8h0.75M852.1 372.9h0.75M843.6 370.9h0.75M854.0 365.7h0.75M827.4 370.5h0.75M829.1 366.7h0.75M844.8 371.1h0.75M840.2 367.8h0.75M831.1 367.9h0.75M836.3 370.3h0.75M850.5 369.4h0.75M833.8 371.9h0.75M852.8 371.5h0.75M839.3 369.1h0.75M840.4 366.7h0.75M850.4 369.3h0.75M858.5 374.6h0.75M839.0 379.4h0.75M839.1 367.7h0.75M828.6 370.4h0.75M846.1 369.1h0.75M842.0 372.0h0.75M836.6 370.2h0.75M840.8 375.7h0.75M848.3 370.1h0.75M834.7 369.9h0.75M836.5 369.2h0.75M845.8 373.2h0.75M851.1 368.4h0.75M844.4 370.3h0.75M849.7 378.0h0.75M851.1 373.6h0.75M844.9 372.2h0.75M827.0 371.6h0.75M841.7 370.3h0.75M848.8 381.4h0.75M845.1 366.2h0.75M839.9 373.3h0.75M848.6 371.1h0.75M847.4 367.7h0.75M855.0 363.3h0.75M840.2 367.8h0.75M839.3 371.2h0.75M843.9 373.8h0.75M858.2 372.2h0.75M835.5 370.5h0.75M836.8 367.7h0.75M839.7 373.7h0.75M836.6 371.6h0.75M836.9 373.5h0.75M852.2 365.5h0.75M848.9 367.4h0.75M845.7 370.1h0.75M849.8 366.1h0.75M858.2 371.7h0.75M837.8 374.8h0.75M853.9 372.3h0.75M839.0 367.7h0.75M835.9 376.0h0.75M843.5 370.4h0.75M840.1 374.7h0.75M840.1 373.4h0.75M828.7 367.7h0.75M845.7 367.1h0.75M858.3 363.4h0.75M846.1 372.3h0.75M846.6 370.2h0.75M842.1 382.7h0.75M845.2 368.3h0.75M821.4 376.9h0.75M842.8 376.7h0.75M842.8 374.3h0.75M853.9 368.5h0.75M824.6 374.6h0.75M858.4 365.3h0.75M839.0 370.2h0.75M840.9 372.6h0.75M842.1 372.5h0.75M836.5 365.0h0.75M857.6 371.4h0.75M846.2 366.5h0.75M846.7 370.3h0.75M846.9 370.9h0.75M851.4 375.3h0.75M840.2 369.2h0.75M848.8 365.4h0.75M837.3 369.2h0.75M826.2 377.1h0.75M840.9 369.7h0.75M833.6 372.4h0.75M839.4 366.4h0.75M845.7 375.8h0.75M831.1 370.4h0.75M860.4 369.8h0.75M837.3 376.0h0.75M844.8 373.7h0.75M856.2 372.7h0.75M845.6 377.2h0.75M831.0 366.5h0.75M841.2 368.4h0.75M841.7 364.0h0.75M830.1 373.0h0.75M841.4 372.0h0.75M839.9 370.4h0.75M830.9 376.6h0.75M851.4 365.8h0.75M839.4 371.7h0.75M839.6 370.3h0.75M844.7 364.1h0.75M849.0 372.1h0.75M835.2 369.8h0.75M842.3 369.6h0.75M843.4 365.2h0.75M843.5 371.9h0.75M846.1 372.0h0.75M838.5 371.0h0.75M850.7 370.8h0.75M844.8 370.7h0.75M847.3 366.0h0.75M842.5 373.5h0.75M835.8 372.5h0.75M839.3 369.0h0.75M834.0 367.3h0.75M852.4 365.4h0.75M844.1 365.8h0.75M859.1 373.0h0.75M836.7 366.5h0.75M840.8 371.7h0.75M856.3 375.6h0.75M835.2 371.3h0.75M850.4 368.0h0.75M839.2 373.7h0.75M832.0 370.6h0.75M842.4 369.5h0.75M843.2 364.8h0.75M849.6 368.9h0.75M858.6 377.4h0.75M839.3 377.3h0.75M854.3 367.7h0.75M840.9 374.7h0.75M837.2 369.3h0.75M822.9 365.6h0.75M833.7 368.0h0.75M837.2 371.4h0.75M845.0 369.2h0.75M832.1 371.3h0.75M847.9 370.3h0.75M854.0 368.9h0.75M849.7 371.4h0.75M853.5 376.2h0.75M833.7 364.2h0.75M851.2 371.6h0.75M845.7 369.0h0.75M837.0 374.7h0.75M846.8 368.6h0.75M843.4 371.5h0.75M832.6 368.3h0.75M847.1 371.0h0.75M832.0 371.6h0.75M858.9 372.7h0.75M832.5 368.9h0.75M838.1 367.8h0.75M836.4 368.5h0.75M842.3 366.2h0.75M850.4 371.6h0.75M858.5 373.4h0.75M850.6 372.3h0.75M842.1 366.8h0.75M848.3 370.9h0.75M837.8 371.9h0.75M845.6 368.3h0.75M854.6 368.8h0.75M844.0 374.2h0.75M838.9 369.4h0.75M846.6 369.4h0.75M839.0 366.6h0.75M844.8 369.2h0.75M849.6 374.1h0.75M842.8 373.2h0.75M837.4 376.1h0.75M838.6 370.1h0.75M840.1 368.8h0.75M849.3 370.5h0.75M836.0 373.2h0.75M843.3 372.5h0.75M844.7 369.0h0.75M828.7 369.5h0.75M836.0 374.7h0.75M841.3 375.7h0.75M861.3 374.6h0.75M862.0 367.3h0.75M839.1 366.9h0.75M832.4 366.1h0.75M850.1 367.8h0.75M840.4 372.5h0.75M839.8 375.9h0.75M852.5 373.0h0.75M856.3 372.4h0.75M844.5 374.4h0.75M851.3 365.9h0.75M851.8 374.1h0.75M825.1 377.6h0.75M844.3 375.4h0.75" stroke="#000" stroke-width="0.75" fill="none" opacity="1"/>
<path d="M863.8 371.5h0.75M870.5 364.5h0.75M883.9 360.4h0.75M879.7 374.8h0.75M869.7 362.8h0.75M887.9 376.3h0.75M892.8 366.5h0.75M874.5 379.4h0.75M892.3 372.3h0.75M883.3 369.1h0.75M888.6 374.9h0.75M880.7 372.0h0.75M860.8 369.2h0.75M902.1 371.6h0.75M861.1 367.1h0.75M881.3 379.9h0.75M909.8 369.9h0.75M878.0 371.1h0.75M864.8 379.0h0.75M863.5 375.1h0.75M873.8 363.2h0.75M884.7 381.4h0.75M863.3 371.6h0.75M870.5 377.4h0.75M859.7 361.6h0.75M874.8 361.5h0.75M893.7 360.2h0.75M880.9 366.9h0.75M893.8 366.6h0.75M877.4 381.5h0.75M889.0 378.6h0.75M899.8 373.5h0.75M884.4 358.9h0.75M884.1 377.7h0.75M869.4 368.0h0.75M908.9 362.7h0.75M877.5 369.5h0.75M870.4 380.2h0.75M901.6 356.7h0.75M885.0 365.3h0.75M886.1 368.9h0.75" stroke="#666" stroke-width="0.75" fill="none" opacity="1"/>
<ellipse cx="838.5" cy="371.3" rx="22.5" ry="11.6" fill="#fff" transform="rotate(4 838.5 371.3)"/>
<path d="M842.1 371.0h0.7M854.1 367.3h0.7M851.4 371.5h0.7M843.5 368.6h0.7M847.5 373.0h0.7M838.1 372.8h0.7M845.3 373.1h0.7M847.0 370.1h0.7M846.6 372.5h0.7M834.2 370.7h0.7M827.0 371.3h0.7M841.5 370.8h0.7M852.4 373.4h0.7M855.6 373.4h0.7M843.4 368.4h0.7M864.2 368.7h0.7M842.4 371.9h0.7M838.9 371.1h0.7M846.6 369.1h0.7M837.3 370.8h0.7M848.2 367.8h0.7M846.0 371.0h0.7M838.4 371.9h0.7M834.9 373.3h0.7M839.7 373.6h0.7M845.8 370.8h0.7M835.1 372.9h0.7M836.8 377.1h0.7M848.3 371.3h0.7M845.2 372.7h0.7M848.4 371.8h0.7M851.5 370.2h0.7M857.0 366.3h0.7M832.8 372.4h0.7M844.9 366.3h0.7M836.1 368.6h0.7M854.4 372.6h0.7M832.7 366.8h0.7M846.0 367.1h0.7M840.4 369.0h0.7M845.4 372.4h0.7M839.8 369.2h0.7M847.0 375.4h0.7M848.1 369.6h0.7M852.0 370.3h0.7M834.8 372.6h0.7M857.2 367.5h0.7M850.7 367.2h0.7M844.4 370.3h0.7M842.4 370.4h0.7M850.1 369.2h0.7M843.3 369.8h0.7M847.0 368.8h0.7M850.9 371.5h0.7M840.6 367.0h0.7M843.0 373.6h0.7M849.8 370.7h0.7M860.1 375.1h0.7M848.9 374.7h0.7M843.2 369.6h0.7M846.7 365.2h0.7M845.3 369.2h0.7M855.1 372.3h0.7M856.6 369.4h0.7M856.0 371.1h0.7M849.0 371.8h0.7M835.6 373.3h0.7M841.7 372.5h0.7M844.7 367.8h0.7M842.7 371.5h0.7M842.8 375.6h0.7M854.1 370.9h0.7M842.4 374.8h0.7M845.3 374.0h0.7M834.9 364.9h0.7M850.8 373.3h0.7M843.9 370.2h0.7M848.5 372.2h0.7M844.5 370.7h0.7M846.8 373.8h0.7M850.4 363.2h0.7M847.7 369.8h0.7M853.1 372.7h0.7M841.1 370.4h0.7M827.7 370.3h0.7M836.9 371.0h0.7M839.7 374.2h0.7M854.7 369.6h0.7M838.5 374.4h0.7M835.0 369.7h0.7M842.2 371.4h0.7M845.5 368.0h0.7M851.6 371.7h0.7M847.5 375.2h0.7M859.1 371.4h0.7M842.0 369.9h0.7M844.2 367.6h0.7M839.8 369.2h0.7M848.9 372.8h0.7M826.7 366.0h0.7M840.5 367.5h0.7M844.8 365.6h0.7M843.3 371.2h0.7M848.0 369.4h0.7M848.2 372.8h0.7M842.4 367.6h0.7M841.2 371.5h0.7M847.1 365.8h0.7M833.9 366.0h0.7M858.5 371.9h0.7M846.4 367.2h0.7M829.3 376.5h0.7M849.6 363.5h0.7M857.0 371.8h0.7M844.7 371.4h0.7M851.7 364.9h0.7M847.1 366.9h0.7M842.0 370.0h0.7M841.9 368.5h0.7M846.3 369.5h0.7M847.0 372.8h0.7M838.7 370.1h0.7M838.6 373.0h0.7M850.5 373.6h0.7M852.9 371.0h0.7M837.6 368.4h0.7M854.1 371.0h0.7M851.0 369.0h0.7M843.3 376.2h0.7M852.3 366.1h0.7M839.9 371.0h0.7M852.9 373.4h0.7M851.4 374.2h0.7M850.2 373.1h0.7M838.5 367.1h0.7M841.2 374.3h0.7M855.1 367.5h0.7M842.9 370.9h0.7M849.3 371.6h0.7M856.1 371.4h0.7M843.4 369.9h0.7M853.1 369.9h0.7M849.0 369.4h0.7M836.3 364.5h0.7M842.9 368.3h0.7M851.1 369.6h0.7M838.1 372.7h0.7M841.9 376.7h0.7M841.7 370.9h0.7M839.3 375.1h0.7M847.2 370.0h0.7M844.3 364.6h0.7M854.4 370.7h0.7M853.7 368.2h0.7M855.8 368.7h0.7M845.3 376.5h0.7M841.3 370.7h0.7M843.8 371.0h0.7M846.2 370.2h0.7M848.3 369.4h0.7M854.9 372.6h0.7M836.5 369.1h0.7M842.6 373.4h0.7M830.6 373.8h0.7M830.4 368.8h0.7M838.6 369.6h0.7M850.9 373.3h0.7M844.2 370.0h0.7M837.8 374.0h0.7M841.4 378.5h0.7M833.4 368.7h0.7M850.1 375.9h0.7M842.7 371.9h0.7M840.4 371.3h0.7M829.3 372.5h0.7M841.0 371.9h0.7M844.0 367.8h0.7M833.5 367.8h0.7M844.7 372.7h0.7M853.4 373.4h0.7M860.3 373.5h0.7M858.4 372.9h0.7M847.4 365.7h0.7M852.2 370.2h0.7M842.1 366.8h0.7M854.4 370.6h0.7M841.8 368.4h0.7M844.4 371.9h0.7M849.5 371.0h0.7M846.6 370.8h0.7M841.9 374.0h0.7M844.0 369.0h0.7M857.8 367.9h0.7M841.6 371.0h0.7M843.7 370.4h0.7M852.2 373.5h0.7M835.1 376.0h0.7M836.2 367.7h0.7M850.1 367.7h0.7M836.1 373.0h0.7M848.8 371.7h0.7M855.5 373.6h0.7M841.6 369.3h0.7M848.1 369.4h0.7M847.0 373.2h0.7M847.0 366.6h0.7M857.3 370.5h0.7M847.6 365.9h0.7M844.7 366.9h0.7M856.8 369.3h0.7M834.7 370.3h0.7M838.1 370.8h0.7M838.0 365.7h0.7M843.6 369.8h0.7M839.0 372.6h0.7M851.3 370.4h0.7M844.4 371.7h0.7M851.9 371.2h0.7M836.6 372.5h0.7M862.7 372.5h0.7M847.4 369.0h0.7M833.6 372.1h0.7M849.3 371.9h0.7M846.2 374.3h0.7M844.2 365.2h0.7M843.9 371.1h0.7M850.8 372.3h0.7M850.2 372.0h0.7M847.2 367.3h0.7M842.6 373.6h0.7M857.2 363.0h0.7M843.9 369.4h0.7M851.4 365.0h0.7M840.8 371.2h0.7M839.0 365.7h0.7M858.9 369.9h0.7M845.5 372.4h0.7M859.2 368.6h0.7M843.9 369.7h0.7M852.1 373.3h0.7M856.8 369.4h0.7M836.0 368.8h0.7M830.8 371.6h0.7M829.7 371.9h0.7M837.1 371.9h0.7M856.0 370.3h0.7M844.0 370.7h0.7M840.3 371.6h0.7M843.1 371.1h0.7M838.9 372.2h0.7M847.5 368.1h0.7M844.4 366.6h0.7M834.4 367.4h0.7M848.0 369.5h0.7M844.6 371.4h0.7M842.8 370.1h0.7M840.7 376.9h0.7M838.8 372.4h0.7M843.1 375.8h0.7M836.4 370.4h0.7M847.8 369.2h0.7M860.8 371.4h0.7M848.0 365.8h0.7M848.0 367.2h0.7M849.1 371.7h0.7M844.0 369.0h0.7M838.8 368.8h0.7M856.5 368.3h0.7M842.6 371.8h0.7M834.8 369.4h0.7M853.4 371.3h0.7M849.1 372.7h0.7M844.7 363.8h0.7M850.6 372.3h0.7M827.2 370.0h0.7M855.5 367.3h0.7M852.0 374.8h0.7M844.0 369.8h0.7M837.4 372.5h0.7M846.7 372.2h0.7M844.4 370.7h0.7M840.4 373.7h0.7M843.8 374.2h0.7M851.6 368.5h0.7M836.5 373.6h0.7M847.8 369.6h0.7M852.7 364.8h0.7M849.2 369.6h0.7M850.4 369.0h0.7M841.4 372.6h0.7M847.7 366.5h0.7M848.8 372.6h0.7M832.6 367.9h0.7M836.4 367.8h0.7M839.7 376.1h0.7M837.4 367.9h0.7M843.0 374.4h0.7M841.9 373.4h0.7M852.6 369.4h0.7M847.8 373.5h0.7M846.6 375.3h0.7M847.8 375.2h0.7M837.4 371.3h0.7M827.0 366.5h0.7M840.7 369.5h0.7M843.2 372.1h0.7M834.0 365.7h0.7M850.5 371.5h0.7M851.9 373.0h0.7M847.2 369.1h0.7M848.6 367.9h0.7M835.1 369.7h0.7M861.5 367.8h0.7M854.8 370.1h0.7M857.7 369.2h0.7M836.0 368.8h0.7M843.4 372.2h0.7M839.5 371.2h0.7M862.4 370.7h0.7M849.8 378.2h0.7M839.2 370.6h0.7M842.3 371.4h0.7M838.9 369.7h0.7M850.3 370.6h0.7M830.5 373.9h0.7M847.6 376.1h0.7M838.6 371.6h0.7M838.0 372.9h0.7M840.6 374.3h0.7M845.6 364.3h0.7M836.3 372.5h0.7M850.4 373.5h0.7M848.6 369.3h0.7M845.8 370.8h0.7M844.9 373.5h0.7M837.9 369.7h0.7M854.6 370.2h0.7M848.9 369.1h0.7M845.2 374.3h0.7M856.8 370.7h0.7M840.1 374.9h0.7M830.7 370.1h0.7M850.2 377.4h0.7M852.6 370.2h0.7M844.3 370.5h0.7M837.7 369.4h0.7M847.2 365.7h0.7M838.8 362.1h0.7M851.8 370.9h0.7M832.4 366.3h0.7M839.5 375.3h0.7M848.4 367.4h0.7M841.0 365.9h0.7M837.6 365.6h0.7M858.2 372.6h0.7M854.5 371.9h0.7M839.2 373.4h0.7M848.4 368.5h0.7M832.5 370.5h0.7M835.7 369.8h0.7M829.5 365.3h0.7M852.0 372.2h0.7M845.8 369.8h0.7M846.2 367.8h0.7M850.6 375.2h0.7M840.2 366.1h0.7M844.9 365.6h0.7M859.6 370.3h0.7M847.9 371.1h0.7M841.0 368.4h0.7M836.7 376.3h0.7M845.3 373.7h0.7M856.0 369.7h0.7M840.9 369.4h0.7M847.5 367.7h0.7M851.9 369.9h0.7M839.0 372.6h0.7M855.5 368.0h0.7M843.4 370.1h0.7M848.7 372.9h0.7M843.8 367.9h0.7M840.2 373.1h0.7M858.7 371.1h0.7M838.6 377.9h0.7M853.4 368.4h0.7M835.2 367.9h0.7M867.1 374.2h0.7M837.3 368.3h0.7M842.0 366.8h0.7M849.2 367.4h0.7M843.0 372.3h0.7M842.9 373.4h0.7M840.8 374.0h0.7M839.8 368.8h0.7M833.7 371.5h0.7M849.9 370.6h0.7M855.6 372.4h0.7M847.4 365.7h0.7M843.4 371.6h0.7M835.8 374.8h0.7M847.2 374.9h0.7M835.4 375.8h0.7M855.1 371.0h0.7M842.1 375.3h0.7M837.4 369.9h0.7M853.3 370.3h0.7M838.6 367.2h0.7M841.0 374.3h0.7M865.5 367.7h0.7M835.6 372.4h0.7M843.4 369.3h0.7M843.6 374.5h0.7M850.6 368.3h0.7M848.6 367.0h0.7M853.3 364.6h0.7M841.5 373.2h0.7M857.8 372.1h0.7M829.8 370.0h0.7M851.8 372.4h0.7M847.7 368.9h0.7M830.1 369.2h0.7M845.9 368.6h0.7M838.3 371.7h0.7M842.2 371.1h0.7M852.9 368.4h0.7M852.3 367.2h0.7M851.4 371.7h0.7M848.5 372.7h0.7M846.4 365.4h0.7M857.6 371.2h0.7M846.4 370.7h0.7M847.8 369.9h0.7M834.6 367.1h0.7M858.2 372.4h0.7M836.6 375.3h0.7M846.9 367.3h0.7M838.9 368.6h0.7M853.5 372.8h0.7M842.9 369.8h0.7M839.4 370.9h0.7M836.9 373.2h0.7M844.0 373.3h0.7M856.7 371.5h0.7M851.5 361.5h0.7M837.7 371.3h0.7M838.1 373.7h0.7M842.3 370.0h0.7M828.8 372.6h0.7M840.9 374.4h0.7M848.7 370.4h0.7M851.4 369.8h0.7M838.6 370.4h0.7M843.0 373.8h0.7M839.6 367.4h0.7M855.1 373.2h0.7M842.0 370.9h0.7M832.5 375.5h0.7M840.7 364.2h0.7M843.8 372.1h0.7M849.8 371.3h0.7M846.7 370.1h0.7M844.2 369.9h0.7M863.8 370.8h0.7M845.9 364.4h0.7M844.5 372.2h0.7M850.2 366.0h0.7M844.3 375.3h0.7M843.4 370.0h0.7M849.4 370.3h0.7M840.8 368.6h0.7M831.7 371.1h0.7M849.2 372.4h0.7M839.1 371.8h0.7M836.9 365.7h0.7M849.7 366.8h0.7M834.2 369.6h0.7M842.3 375.2h0.7M852.7 376.8h0.7M846.2 365.7h0.7M835.1 371.4h0.7M834.4 371.9h0.7M852.8 372.3h0.7M832.0 373.9h0.7M858.0 373.6h0.7M862.9 368.2h0.7M843.9 373.1h0.7M852.5 375.0h0.7M843.7 368.5h0.7M843.3 368.4h0.7M845.6 369.6h0.7M850.7 368.5h0.7M851.9 368.3h0.7M854.2 374.2h0.7M844.7 369.9h0.7M847.5 371.9h0.7M837.1 372.7h0.7M830.7 367.1h0.7M835.7 371.2h0.7M838.5 363.5h0.7M853.1 368.8h0.7M842.4 371.6h0.7M847.6 372.3h0.7M835.1 371.5h0.7M852.2 372.8h0.7M856.1 366.2h0.7M854.1 366.3h0.7M836.3 371.2h0.7M862.7 374.2h0.7M843.9 370.8h0.7M853.2 366.9h0.7M842.2 368.8h0.7M854.0 372.2h0.7M847.3 374.2h0.7M843.0 367.8h0.7M851.9 365.1h0.7M847.0 370.5h0.7M832.7 371.1h0.7M838.3 374.7h0.7M850.8 373.3h0.7M852.4 370.6h0.7M853.4 372.4h0.7M849.2 373.8h0.7M860.0 365.5h0.7M841.4 366.2h0.7M835.4 372.6h0.7M837.5 370.0h0.7M840.6 373.5h0.7M857.2 370.9h0.7M839.7 368.9h0.7M843.5 365.7h0.7M835.7 371.2h0.7M846.8 371.1h0.7M847.5 368.4h0.7M844.1 367.6h0.7M846.8 364.6h0.7M848.9 371.3h0.7M841.8 371.0h0.7M852.7 370.8h0.7M859.6 374.2h0.7M845.8 370.0h0.7M836.0 367.4h0.7M846.5 370.9h0.7M847.7 375.6h0.7M848.1 371.8h0.7M843.2 367.3h0.7M841.5 370.3h0.7M850.4 372.6h0.7M837.3 370.3h0.7M850.7 366.3h0.7M843.2 366.3h0.7M839.8 374.0h0.7M847.8 377.1h0.7M837.2 373.3h0.7M843.8 365.8h0.7M846.5 371.3h0.7M843.0 374.2h0.7M842.6 372.8h0.7M845.0 369.0h0.7M847.9 373.8h0.7M855.9 374.1h0.7M832.2 366.6h0.7M843.0 374.1h0.7M830.7 371.0h0.7M836.1 372.9h0.7M852.8 369.8h0.7M855.3 372.8h0.7M843.9 374.9h0.7M861.1 370.4h0.7M847.0 371.6h0.7M851.3 369.4h0.7M843.4 374.1h0.7M844.2 374.6h0.7M847.2 375.7h0.7M856.3 367.2h0.7M850.3 369.9h0.7M840.6 373.2h0.7M853.1 372.2h0.7M853.4 375.5h0.7M847.9 372.5h0.7M848.8 375.1h0.7M838.6 370.4h0.7M836.1 369.0h0.7M847.8 369.6h0.7M839.5 369.9h0.7M853.7 376.8h0.7M846.1 368.5h0.7M846.7 368.8h0.7M847.7 372.7h0.7M859.7 368.4h0.7M844.2 368.2h0.7M853.3 367.8h0.7M855.0 376.0h0.7M832.4 373.9h0.7M862.4 371.0h0.7M844.8 376.7h0.7M843.6 370.4h0.7M838.4 372.6h0.7M855.2 368.3h0.7M851.5 372.2h0.7M857.0 370.4h0.7M839.5 371.4h0.7M848.7 369.9h0.7M838.2 372.6h0.7M833.3 367.2h0.7M844.4 366.6h0.7M849.0 365.9h0.7M843.8 371.9h0.7M855.4 368.2h0.7M847.3 374.3h0.7M839.2 371.8h0.7M853.8 374.0h0.7M844.8 371.7h0.7M839.9 372.3h0.7M848.5 369.1h0.7M863.3 372.6h0.7M839.0 370.8h0.7M848.9 367.6h0.7M838.4 372.9h0.7M844.7 370.5h0.7M853.1 369.9h0.7M834.0 367.4h0.7M844.1 370.1h0.7M842.3 368.1h0.7M832.0 369.9h0.7M848.4 371.5h0.7M849.9 379.5h0.7M836.4 368.9h0.7M846.5 363.5h0.7M850.5 370.4h0.7M869.2 370.4h0.7M844.4 370.7h0.7M843.5 368.7h0.7M853.5 371.7h0.7M847.7 369.9h0.7M830.9 369.3h0.7M828.2 368.8h0.7M847.9 369.9h0.7M845.8 375.4h0.7M849.4 373.7h0.7M842.8 369.7h0.7M834.7 375.1h0.7M853.7 370.5h0.7M848.7 371.4h0.7M855.5 372.2h0.7M844.5 367.5h0.7M826.7 363.7h0.7M843.4 374.2h0.7M839.8 369.9h0.7M849.9 375.5h0.7M827.5 370.2h0.7M841.4 373.1h0.7M842.2 365.4h0.7M827.3 365.6h0.7M842.0 367.5h0.7M834.8 376.6h0.7M833.7 369.7h0.7M854.3 370.6h0.7M829.8 370.7h0.7M844.9 374.7h0.7M838.9 366.0h0.7M842.1 367.3h0.7M846.6 372.6h0.7M844.5 370.5h0.7M835.8 366.5h0.7M847.4 374.8h0.7M851.2 377.9h0.7M837.5 364.2h0.7M844.7 371.4h0.7M838.6 364.9h0.7M855.3 364.9h0.7M848.9 373.2h0.7M855.0 370.5h0.7M852.2 369.9h0.7M850.7 374.6h0.7M844.8 365.4h0.7M848.3 361.6h0.7M855.6 368.7h0.7M840.8 373.6h0.7M851.7 372.1h0.7M840.7 372.8h0.7M846.1 369.5h0.7M839.0 372.1h0.7M839.3 374.5h0.7M831.4 367.6h0.7M846.4 365.5h0.7M859.2 366.4h0.7M840.4 369.4h0.7M846.4 374.8h0.7M841.7 369.1h0.7M854.9 370.6h0.7M851.0 370.8h0.7M841.1 368.8h0.7M837.5 368.2h0.7M846.3 370.5h0.7M851.0 370.9h0.7M848.1 368.0h0.7M832.6 373.7h0.7M858.7 369.7h0.7M851.6 367.9h0.7M838.1 371.8h0.7M851.6 372.3h0.7M853.5 370.9h0.7M843.9 370.9h0.7M838.3 369.5h0.7M832.3 367.1h0.7M851.0 369.0h0.7M827.6 367.2h0.7M851.0 370.4h0.7M844.3 372.4h0.7M853.8 369.7h0.7M846.8 376.6h0.7M849.6 369.0h0.7M838.6 369.2h0.7M853.8 364.4h0.7M849.8 369.3h0.7M849.9 371.2h0.7M833.0 369.1h0.7M829.8 370.2h0.7M839.1 373.3h0.7M831.0 371.5h0.7M837.5 369.1h0.7M832.0 376.1h0.7M843.2 370.8h0.7M862.5 365.4h0.7M844.2 367.8h0.7M842.9 369.3h0.7M848.9 372.8h0.7M845.5 374.1h0.7M842.5 366.7h0.7M832.0 373.1h0.7M842.3 372.0h0.7M850.5 367.9h0.7M854.9 372.8h0.7M857.5 372.7h0.7M836.2 372.3h0.7M846.0 366.3h0.7M851.7 369.8h0.7M848.1 375.5h0.7M855.0 369.4h0.7M850.6 373.7h0.7M846.2 373.9h0.7M849.4 369.3h0.7M855.7 369.9h0.7M841.4 369.5h0.7M831.3 373.8h0.7M835.8 365.1h0.7M847.5 364.0h0.7M842.8 372.8h0.7M847.6 371.7h0.7M842.8 367.7h0.7" stroke="#000" stroke-width="0.7" fill="none" opacity="1"/>
<ellipse cx="842" cy="371" rx="17" ry="7.5" fill="#111" opacity="0.5" filter="url(#bl3)"/>
<ellipse cx="845" cy="370.6" rx="10" ry="4" fill="#111" opacity="0.5" filter="url(#bl)"/>
<g fill="none" stroke="#111" stroke-width="0.55">
<ellipse cx="838.5" cy="371.3" rx="23.0" ry="12.0" transform="rotate(6 838.5 371.3)"/>
<ellipse cx="839.4" cy="371.2" rx="21.2" ry="11.1" transform="rotate(6 839.4 371.2)"/>
<ellipse cx="840.1" cy="371.1" rx="19.4" ry="10.1" transform="rotate(6 840.1 371.1)"/>
<ellipse cx="840.6" cy="371.1" rx="17.7" ry="9.2" transform="rotate(6 840.6 371.1)"/>
<ellipse cx="841.2" cy="371.0" rx="15.9" ry="8.3" transform="rotate(6 841.2 371.0)"/>
<ellipse cx="841.7" cy="371.0" rx="14.1" ry="7.4" transform="rotate(6 841.7 371.0)"/>
<ellipse cx="842.2" cy="370.9" rx="12.3" ry="6.4" transform="rotate(6 842.2 370.9)"/>
<ellipse cx="842.7" cy="370.8" rx="10.5" ry="5.5" transform="rotate(6 842.7 370.8)"/>
<ellipse cx="843.2" cy="370.8" rx="8.7" ry="4.6" transform="rotate(6 843.2 370.8)"/>
<ellipse cx="843.7" cy="370.7" rx="7.0" ry="3.6" transform="rotate(6 843.7 370.7)"/>
<ellipse cx="844.1" cy="370.7" rx="5.2" ry="2.7" transform="rotate(6 844.1 370.7)"/>
<ellipse cx="844.6" cy="370.6" rx="3.4" ry="1.8" transform="rotate(6 844.6 370.6)"/>
<ellipse cx="845.0" cy="370.6" rx="1.6" ry="0.8" transform="rotate(6 845.0 370.6)"/>
</g>
<ellipse cx="845.5" cy="370.6" rx="2.2" ry="0.8" fill="#fff"/>
<rect x="852.6" y="341.5" width="60.7" height="55.7" fill="none" stroke="#b25452" stroke-width="1.15"/>
<text x="901.6" y="410.3" font-size="11.4" text-anchor="end" fill="#b25452" stroke="#b25452" stroke-width="0.22">11.0%</text>
<text x="667.9" y="468.6" font-size="8.6" text-anchor="middle" fill="#222" stroke="#222" stroke-width="0.25">-10<tspan dy="-3.4" font-size="5.4">3</tspan></text>
<text x="687.3" y="469.2" font-size="8.8" text-anchor="middle" fill="#222" stroke="#222" stroke-width="0.22">0</text>
<text x="717.9" y="468.6" font-size="8.6" text-anchor="middle" fill="#222" stroke="#222" stroke-width="0.25">10<tspan dy="-3.4" font-size="5.4">3</tspan></text>
<text x="745.3" y="468.6" font-size="8.6" text-anchor="middle" fill="#222" stroke="#222" stroke-width="0.25">10<tspan dy="-3.4" font-size="5.4">4</tspan></text>
<text x="767.5" y="468.6" font-size="8.6" text-anchor="middle" fill="#222" stroke="#222" stroke-width="0.25">10<tspan dy="-3.4" font-size="5.4">5</tspan></text>
<text x="790" y="468.6" font-size="8.6" text-anchor="end" fill="#222" stroke="#222" stroke-width="0.25">10<tspan dy="-3.4" font-size="5.4">6</tspan></text>
<path d="M680.0 455.2h7.5" stroke="#222" stroke-width="2.2"/>
<text x="805.8" y="468.6" font-size="8.6" text-anchor="middle" fill="#222" stroke="#222" stroke-width="0.25">-10<tspan dy="-3.4" font-size="5.4">3</tspan></text>
<text x="825.1999999999999" y="469.2" font-size="8.8" text-anchor="middle" fill="#222" stroke="#222" stroke-width="0.22">0</text>
<text x="855.8" y="468.6" font-size="8.6" text-anchor="middle" fill="#222" stroke="#222" stroke-width="0.25">10<tspan dy="-3.4" font-size="5.4">3</tspan></text>
<text x="883.1999999999999" y="468.6" font-size="8.6" text-anchor="middle" fill="#222" stroke="#222" stroke-width="0.25">10<tspan dy="-3.4" font-size="5.4">4</tspan></text>
<text x="905.4" y="468.6" font-size="8.6" text-anchor="middle" fill="#222" stroke="#222" stroke-width="0.25">10<tspan dy="-3.4" font-size="5.4">5</tspan></text>
<text x="927.6" y="468.6" font-size="8.6" text-anchor="end" fill="#222" stroke="#222" stroke-width="0.25">10<tspan dy="-3.4" font-size="5.4">6</tspan></text>
<path d="M817.9 455.2h7.5" stroke="#222" stroke-width="2.2"/>
<text x="791.6" y="479.2" font-size="11.2" text-anchor="middle" fill="#222" stroke="#222" stroke-width="0.22">Annexin V</text>
<line x1="657" y1="475.8" x2="759.7" y2="475.8" stroke="#444" stroke-width="1.4"/>
<line x1="823.1" y1="475.8" x2="925.9" y2="475.8" stroke="#444" stroke-width="1.4"/>
<line x1="48.3" y1="501.9" x2="48.3" y2="656.2" stroke="#333" stroke-width="1.2"/>
<line x1="42.8" y1="655.6" x2="149.8" y2="655.6" stroke="#333" stroke-width="1.2"/>
<text x="39.699999999999996" y="660.2" font-size="11.2" text-anchor="end" fill="#222" stroke="#222" stroke-width="0.22">0</text>
<line x1="42.8" y1="617.325" x2="48.3" y2="617.325" stroke="#333" stroke-width="1.2"/>
<text x="39.699999999999996" y="621.93" font-size="11.2" text-anchor="end" fill="#222" stroke="#222" stroke-width="0.22">1</text>
<line x1="42.8" y1="579.05" x2="48.3" y2="579.05" stroke="#333" stroke-width="1.2"/>
<text x="39.699999999999996" y="583.65" font-size="11.2" text-anchor="end" fill="#222" stroke="#222" stroke-width="0.22">2</text>
<line x1="42.8" y1="540.775" x2="48.3" y2="540.775" stroke="#333" stroke-width="1.2"/>
<text x="39.699999999999996" y="545.38" font-size="11.2" text-anchor="end" fill="#222" stroke="#222" stroke-width="0.22">3</text>
<line x1="42.8" y1="502.5" x2="48.3" y2="502.5" stroke="#333" stroke-width="1.2"/>
<text x="39.699999999999996" y="507.1" font-size="11.2" text-anchor="end" fill="#222" stroke="#222" stroke-width="0.22">4</text>
<rect x="63.1" y="641.5" width="28.8" height="14.1" fill="#fff" stroke="#2a2a2a" stroke-width="1.1"/>
<rect x="107.3" y="571.3" width="28.4" height="84.3" fill="#fff" stroke="#2a2a2a" stroke-width="1.1"/>
<line x1="77.6" y1="655.6" x2="77.6" y2="661.1" stroke="#333" stroke-width="1.2"/>
<line x1="121.5" y1="655.6" x2="121.5" y2="661.1" stroke="#333" stroke-width="1.2"/>
<text x="77.6" y="673.8" font-size="11.2" text-anchor="middle" fill="#222" stroke="#222" stroke-width="0.22">TF</text>
<text x="121.5" y="673.8" font-size="11.2" text-anchor="middle" fill="#222" stroke="#222" stroke-width="0.22">LLC</text>
<text x="29.2" y="579.3" font-size="11.2" text-anchor="middle" fill="#222" stroke="#222" stroke-width="0.22" transform="rotate(-90 29.2 579.3)">Annexin V<tspan dy="-4" font-size="6.2">+</tspan><tspan dy="4"> in RBCs (%)</tspan></text>
<text x="104.4" y="525.0" font-size="11.2" text-anchor="middle" fill="#222" stroke="#222" stroke-width="0.22"><tspan font-style="italic">P</tspan>=0.0010</text>
<line x1="77.6" y1="639.7" x2="77.6" y2="643.3" stroke="#4a3cc0" stroke-width="1.1"/>
<line x1="70.5" y1="639.7" x2="84.7" y2="639.7" stroke="#4a3cc0" stroke-width="1.1"/>
<line x1="70.5" y1="643.3" x2="84.7" y2="643.3" stroke="#4a3cc0" stroke-width="1.1"/>
<circle cx="65.8" cy="636.4" r="2.5" fill="none" stroke="#4a3cc0" stroke-width="1.1"/>
<circle cx="65.8" cy="644.4" r="2.5" fill="none" stroke="#4a3cc0" stroke-width="1.1"/>
<circle cx="77.6" cy="640.9" r="2.5" fill="none" stroke="#4a3cc0" stroke-width="1.1"/>
<circle cx="88.9" cy="641.5" r="2.5" fill="none" stroke="#4a3cc0" stroke-width="1.1"/>
<line x1="121.5" y1="559.4" x2="121.5" y2="582.2" stroke="#cc4a4a" stroke-width="1.1"/>
<line x1="114" y1="559.4" x2="129" y2="559.4" stroke="#cc4a4a" stroke-width="1.1"/>
<line x1="114" y1="582.2" x2="129" y2="582.2" stroke="#cc4a4a" stroke-width="1.1"/>
<circle cx="120.9" cy="537.8" r="2.5" fill="none" stroke="#cc4a4a" stroke-width="1.1"/>
<circle cx="120.9" cy="557.6" r="2.5" fill="none" stroke="#cc4a4a" stroke-width="1.1"/>
<circle cx="120.9" cy="566.8" r="2.5" fill="none" stroke="#cc4a4a" stroke-width="1.1"/>
<circle cx="120.9" cy="591.1" r="2.5" fill="none" stroke="#cc4a4a" stroke-width="1.1"/>
<circle cx="120.9" cy="601.5" r="2.5" fill="none" stroke="#cc4a4a" stroke-width="1.1"/>
<line x1="186.1" y1="501.9" x2="186.1" y2="656.2" stroke="#333" stroke-width="1.2"/>
<line x1="180.6" y1="655.6" x2="289" y2="655.6" stroke="#333" stroke-width="1.2"/>
<text x="177.5" y="660.2" font-size="11.2" text-anchor="end" fill="#222" stroke="#222" stroke-width="0.22">0</text>
<line x1="180.6" y1="604.5666666666667" x2="186.1" y2="604.5666666666667" stroke="#333" stroke-width="1.2"/>
<text x="177.5" y="609.17" font-size="11.2" text-anchor="end" fill="#222" stroke="#222" stroke-width="0.22">1</text>
<line x1="180.6" y1="553.5333333333333" x2="186.1" y2="553.5333333333333" stroke="#333" stroke-width="1.2"/>
<text x="177.5" y="558.13" font-size="11.2" text-anchor="end" fill="#222" stroke="#222" stroke-width="0.22">2</text>
<line x1="180.6" y1="502.5" x2="186.1" y2="502.5" stroke="#333" stroke-width="1.2"/>
<text x="177.5" y="507.1" font-size="11.2" text-anchor="end" fill="#222" stroke="#222" stroke-width="0.22">3</text>
<rect x="201.5" y="638.5" width="28.1" height="17.1" fill="#fff" stroke="#2a2a2a" stroke-width="1.1"/>
<rect x="245.3" y="552.3" width="27.9" height="103.3" fill="#fff" stroke="#2a2a2a" stroke-width="1.1"/>
<line x1="215.7" y1="655.6" x2="215.7" y2="661.1" stroke="#333" stroke-width="1.2"/>
<line x1="259.3" y1="655.6" x2="259.3" y2="661.1" stroke="#333" stroke-width="1.2"/>
<text x="215.7" y="673.8" font-size="11.2" text-anchor="middle" fill="#222" stroke="#222" stroke-width="0.22">TF</text>
<text x="259.3" y="673.8" font-size="11.2" text-anchor="middle" fill="#222" stroke="#222" stroke-width="0.22">B16-F10</text>
<text x="165.5" y="579.3" font-size="11.2" text-anchor="middle" fill="#222" stroke="#222" stroke-width="0.22" transform="rotate(-90 165.5 579.3)">Annexin V<tspan dy="-4" font-size="6.2">+</tspan><tspan dy="4"> in RBCs (%)</tspan></text>
<text x="242.4" y="525.0" font-size="11.2" text-anchor="middle" fill="#222" stroke="#222" stroke-width="0.22"><tspan font-style="italic">P</tspan>&lt;0.0001</text>
<line x1="215.7" y1="636.2" x2="215.7" y2="640.6" stroke="#4a3cc0" stroke-width="1.1"/>
<line x1="208.5" y1="636.2" x2="223" y2="636.2" stroke="#4a3cc0" stroke-width="1.1"/>
<line x1="208.5" y1="640.6" x2="223" y2="640.6" stroke="#4a3cc0" stroke-width="1.1"/>
<circle cx="203.9" cy="642.1" r="2.5" fill="none" stroke="#4a3cc0" stroke-width="1.1"/>
<circle cx="215.7" cy="637.0" r="2.5" fill="none" stroke="#4a3cc0" stroke-width="1.1"/>
<circle cx="227.6" cy="638.5" r="2.5" fill="none" stroke="#4a3cc0" stroke-width="1.1"/>
<circle cx="227.6" cy="632.6" r="2.5" fill="none" stroke="#4a3cc0" stroke-width="1.1"/>
<line x1="259.3" y1="542.2" x2="259.3" y2="560.6" stroke="#cc4a4a" stroke-width="1.1"/>
<line x1="252.4" y1="542.2" x2="266.7" y2="542.2" stroke="#cc4a4a" stroke-width="1.1"/>
<line x1="252.4" y1="560.6" x2="266.7" y2="560.6" stroke="#cc4a4a" stroke-width="1.1"/>
<circle cx="254.2" cy="536.3" r="2.5" fill="none" stroke="#cc4a4a" stroke-width="1.1"/>
<circle cx="264.6" cy="531.9" r="2.5" fill="none" stroke="#cc4a4a" stroke-width="1.1"/>
<circle cx="254.2" cy="544.6" r="2.5" fill="none" stroke="#cc4a4a" stroke-width="1.1"/>
<circle cx="264.6" cy="543.7" r="2.5" fill="none" stroke="#cc4a4a" stroke-width="1.1"/>
<circle cx="259.3" cy="563.0" r="2.5" fill="none" stroke="#cc4a4a" stroke-width="1.1"/>
<circle cx="259.3" cy="592.0" r="2.5" fill="none" stroke="#cc4a4a" stroke-width="1.1"/>
<line x1="358.3" y1="501.9" x2="358.3" y2="656.2" stroke="#333" stroke-width="1.2"/>
<line x1="352.8" y1="655.6" x2="459.8" y2="655.6" stroke="#333" stroke-width="1.2"/>
<text x="349.7" y="660.2" font-size="11.2" text-anchor="end" fill="#222" stroke="#222" stroke-width="0.22">0</text>
<line x1="352.8" y1="604.5666666666667" x2="358.3" y2="604.5666666666667" stroke="#333" stroke-width="1.2"/>
<text x="349.7" y="609.17" font-size="11.2" text-anchor="end" fill="#222" stroke="#222" stroke-width="0.22">5</text>
<line x1="352.8" y1="553.5333333333333" x2="358.3" y2="553.5333333333333" stroke="#333" stroke-width="1.2"/>
<text x="349.7" y="558.13" font-size="11.2" text-anchor="end" fill="#222" stroke="#222" stroke-width="0.22">10</text>
<line x1="352.8" y1="502.5" x2="358.3" y2="502.5" stroke="#333" stroke-width="1.2"/>
<text x="349.7" y="507.1" font-size="11.2" text-anchor="end" fill="#222" stroke="#222" stroke-width="0.22">15</text>
<rect x="373.1" y="649.5" width="28.8" height="6.1" fill="#fff" stroke="#2a2a2a" stroke-width="1.1"/>
<rect x="417.3" y="564.4" width="28.4" height="91.2" fill="#fff" stroke="#2a2a2a" stroke-width="1.1"/>
<line x1="387.6" y1="655.6" x2="387.6" y2="661.1" stroke="#333" stroke-width="1.2"/>
<line x1="431.5" y1="655.6" x2="431.5" y2="661.1" stroke="#333" stroke-width="1.2"/>
<text x="387.6" y="673.8" font-size="11.2" text-anchor="middle" fill="#222" stroke="#222" stroke-width="0.22">CD71<tspan dy="-4" font-size="6.2">-</tspan><tspan dy="4"></tspan></text>
<text x="431.5" y="673.8" font-size="11.2" text-anchor="middle" fill="#222" stroke="#222" stroke-width="0.22">CD71<tspan dy="-4" font-size="6.2">+</tspan><tspan dy="4"></tspan></text>
<text x="334.1" y="579.3" font-size="11.2" text-anchor="middle" fill="#222" stroke="#222" stroke-width="0.22" transform="rotate(-90 334.1 579.3)">Annexin V<tspan dy="-4" font-size="6.2">+</tspan><tspan dy="4"> in cells (%)</tspan></text>
<text x="405.4" y="494.0" font-size="11.2" text-anchor="middle" fill="#222" stroke="#222" stroke-width="0.22">LLC</text>
<text x="409.3" y="506.8" font-size="11.2" text-anchor="middle" fill="#222" stroke="#222" stroke-width="0.22"><tspan font-style="italic">P</tspan>=0.0002</text>
<line x1="387.6" y1="648.4" x2="387.6" y2="650.2" stroke="#4a3cc0" stroke-width="1.1"/>
<line x1="381" y1="648.4" x2="394.5" y2="648.4" stroke="#4a3cc0" stroke-width="1.1"/>
<line x1="381" y1="650.2" x2="394.5" y2="650.2" stroke="#4a3cc0" stroke-width="1.1"/>
<circle cx="376.7" cy="648.9" r="2.5" fill="none" stroke="#4a3cc0" stroke-width="1.1"/>
<circle cx="382.0" cy="647.4" r="2.5" fill="none" stroke="#4a3cc0" stroke-width="1.1"/>
<circle cx="387.6" cy="648.9" r="2.5" fill="none" stroke="#4a3cc0" stroke-width="1.1"/>
<circle cx="393.0" cy="648.3" r="2.5" fill="none" stroke="#4a3cc0" stroke-width="1.1"/>
<circle cx="398.9" cy="649.5" r="2.5" fill="none" stroke="#4a3cc0" stroke-width="1.1"/>
<line x1="431.5" y1="551.1" x2="431.5" y2="577.2" stroke="#cc4a4a" stroke-width="1.1"/>
<line x1="424" y1="551.1" x2="439" y2="551.1" stroke="#cc4a4a" stroke-width="1.1"/>
<line x1="424" y1="577.2" x2="439" y2="577.2" stroke="#cc4a4a" stroke-width="1.1"/>
<circle cx="430.9" cy="515.0" r="2.5" fill="none" stroke="#cc4a4a" stroke-width="1.1"/>
<circle cx="419.0" cy="568.9" r="2.5" fill="none" stroke="#cc4a4a" stroke-width="1.1"/>
<circle cx="443.3" cy="572.7" r="2.5" fill="none" stroke="#cc4a4a" stroke-width="1.1"/>
<circle cx="430.9" cy="574.2" r="2.5" fill="none" stroke="#cc4a4a" stroke-width="1.1"/>
<circle cx="430.9" cy="590.2" r="2.5" fill="none" stroke="#cc4a4a" stroke-width="1.1"/>
<line x1="496.1" y1="501.9" x2="496.1" y2="656.2" stroke="#333" stroke-width="1.2"/>
<line x1="490.6" y1="655.6" x2="599" y2="655.6" stroke="#333" stroke-width="1.2"/>
<text x="487.5" y="660.2" font-size="11.2" text-anchor="end" fill="#222" stroke="#222" stroke-width="0.22">0</text>
<line x1="490.6" y1="617.325" x2="496.1" y2="617.325" stroke="#333" stroke-width="1.2"/>
<text x="487.5" y="621.93" font-size="11.2" text-anchor="end" fill="#222" stroke="#222" stroke-width="0.22">2</text>
<line x1="490.6" y1="579.05" x2="496.1" y2="579.05" stroke="#333" stroke-width="1.2"/>
<text x="487.5" y="583.65" font-size="11.2" text-anchor="end" fill="#222" stroke="#222" stroke-width="0.22">4</text>
<line x1="490.6" y1="540.775" x2="496.1" y2="540.775" stroke="#333" stroke-width="1.2"/>
<text x="487.5" y="545.38" font-size="11.2" text-anchor="end" fill="#222" stroke="#222" stroke-width="0.22">6</text>
<line x1="490.6" y1="502.5" x2="496.1" y2="502.5" stroke="#333" stroke-width="1.2"/>
<text x="487.5" y="507.1" font-size="11.2" text-anchor="end" fill="#222" stroke="#222" stroke-width="0.22">8</text>
<rect x="510.6" y="635.6" width="29.0" height="20.0" fill="#fff" stroke="#2a2a2a" stroke-width="1.1"/>
<rect x="554.4" y="546.7" width="28.2" height="108.9" fill="#fff" stroke="#2a2a2a" stroke-width="1.1"/>
<line x1="525.4" y1="655.6" x2="525.4" y2="661.1" stroke="#333" stroke-width="1.2"/>
<line x1="568.7" y1="655.6" x2="568.7" y2="661.1" stroke="#333" stroke-width="1.2"/>
<text x="525.4" y="673.8" font-size="11.2" text-anchor="middle" fill="#222" stroke="#222" stroke-width="0.22">CD71<tspan dy="-4" font-size="6.2">-</tspan><tspan dy="4"></tspan></text>
<text x="568.7" y="673.8" font-size="11.2" text-anchor="middle" fill="#222" stroke="#222" stroke-width="0.22">CD71<tspan dy="-4" font-size="6.2">+</tspan><tspan dy="4"></tspan></text>
<text x="475.5" y="579.3" font-size="11.2" text-anchor="middle" fill="#222" stroke="#222" stroke-width="0.22" transform="rotate(-90 475.5 579.3)">Annexin V<tspan dy="-4" font-size="6.2">+</tspan><tspan dy="4"> in cells (%)</tspan></text>
<text x="553.6" y="494.0" font-size="11.2" text-anchor="middle" fill="#222" stroke="#222" stroke-width="0.22">B16-F10</text>
<text x="546.4" y="514.8" font-size="11.2" text-anchor="middle" fill="#222" stroke="#222" stroke-width="0.22"><tspan font-style="italic">P</tspan>&lt;0.0001</text>
<line x1="525.4" y1="634.2" x2="525.4" y2="637.2" stroke="#4a3cc0" stroke-width="1.1"/>
<line x1="518" y1="634.2" x2="533" y2="634.2" stroke="#4a3cc0" stroke-width="1.1"/>
<line x1="518" y1="637.2" x2="533" y2="637.2" stroke="#4a3cc0" stroke-width="1.1"/>
<circle cx="513.0" cy="633.5" r="2.5" fill="none" stroke="#4a3cc0" stroke-width="1.1"/>
<circle cx="513.0" cy="640.0" r="2.5" fill="none" stroke="#4a3cc0" stroke-width="1.1"/>
<circle cx="521.0" cy="629.6" r="2.5" fill="none" stroke="#4a3cc0" stroke-width="1.1"/>
<circle cx="521.0" cy="635.0" r="2.5" fill="none" stroke="#4a3cc0" stroke-width="1.1"/>
<circle cx="528.7" cy="638.5" r="2.5" fill="none" stroke="#4a3cc0" stroke-width="1.1"/>
<circle cx="536.7" cy="636.4" r="2.5" fill="none" stroke="#4a3cc0" stroke-width="1.1"/>
<line x1="568.7" y1="540.7" x2="568.7" y2="552" stroke="#cc4a4a" stroke-width="1.1"/>
<line x1="561.3" y1="540.7" x2="576.1" y2="540.7" stroke="#cc4a4a" stroke-width="1.1"/>
<line x1="561.3" y1="552" x2="576.1" y2="552" stroke="#cc4a4a" stroke-width="1.1"/>
<circle cx="568.7" cy="522.4" r="2.5" fill="none" stroke="#cc4a4a" stroke-width="1.1"/>
<circle cx="556.5" cy="541.3" r="2.5" fill="none" stroke="#cc4a4a" stroke-width="1.1"/>
<circle cx="556.5" cy="557.0" r="2.5" fill="none" stroke="#cc4a4a" stroke-width="1.1"/>
<circle cx="568.7" cy="545.8" r="2.5" fill="none" stroke="#cc4a4a" stroke-width="1.1"/>
<circle cx="568.7" cy="556.4" r="2.5" fill="none" stroke="#cc4a4a" stroke-width="1.1"/>
<circle cx="580.2" cy="556.4" r="2.5" fill="none" stroke="#cc4a4a" stroke-width="1.1"/>
<line x1="671" y1="501.9" x2="671" y2="656.2" stroke="#333" stroke-width="1.2"/>
<line x1="665.5" y1="655.6" x2="774.2" y2="655.6" stroke="#333" stroke-width="1.2"/>
<text x="662.4" y="660.2" font-size="11.2" text-anchor="end" fill="#222" stroke="#222" stroke-width="0.22">0</text>
<line x1="665.5" y1="617.325" x2="671" y2="617.325" stroke="#333" stroke-width="1.2"/>
<text x="662.4" y="621.93" font-size="11.2" text-anchor="end" fill="#222" stroke="#222" stroke-width="0.22">5</text>
<line x1="665.5" y1="579.05" x2="671" y2="579.05" stroke="#333" stroke-width="1.2"/>
<text x="662.4" y="583.65" font-size="11.2" text-anchor="end" fill="#222" stroke="#222" stroke-width="0.22">10</text>
<line x1="665.5" y1="540.775" x2="671" y2="540.775" stroke="#333" stroke-width="1.2"/>
<text x="662.4" y="545.38" font-size="11.2" text-anchor="end" fill="#222" stroke="#222" stroke-width="0.22">15</text>
<line x1="665.5" y1="502.5" x2="671" y2="502.5" stroke="#333" stroke-width="1.2"/>
<text x="662.4" y="507.1" font-size="11.2" text-anchor="end" fill="#222" stroke="#222" stroke-width="0.22">20</text>
<rect x="686.7" y="642.4" width="28.1" height="13.2" fill="#fff" stroke="#2a2a2a" stroke-width="1.1"/>
<rect x="730.2" y="563.9" width="28.2" height="91.7" fill="#fff" stroke="#2a2a2a" stroke-width="1.1"/>
<line x1="700.6" y1="655.6" x2="700.6" y2="661.1" stroke="#333" stroke-width="1.2"/>
<line x1="744.4" y1="655.6" x2="744.4" y2="661.1" stroke="#333" stroke-width="1.2"/>
<text x="697.2" y="673.8" font-size="11.2" text-anchor="middle" fill="#222" stroke="#222" stroke-width="0.22">SYTOX<tspan dy="-4" font-size="6.2">-</tspan><tspan dy="4"></tspan></text>
<text x="746.6" y="673.8" font-size="11.2" text-anchor="middle" fill="#222" stroke="#222" stroke-width="0.22">SYTOX<tspan dy="-4" font-size="6.2">+</tspan><tspan dy="4"></tspan></text>
<text x="644.1" y="579.3" font-size="11.2" text-anchor="middle" fill="#222" stroke="#222" stroke-width="0.22" transform="rotate(-90 644.1 579.3)">Annexin V<tspan dy="-4" font-size="6.2">+</tspan><tspan dy="4"> in CD71</tspan><tspan dy="-4" font-size="6.2">+</tspan><tspan dy="4"> RBCs (%)</tspan></text>
<text x="721.6" y="494.0" font-size="11.2" text-anchor="middle" fill="#222" stroke="#222" stroke-width="0.22">LLC</text>
<text x="725.5" y="518.6" font-size="11.2" text-anchor="middle" fill="#222" stroke="#222" stroke-width="0.22"><tspan font-style="italic">P</tspan>&lt;0.0001</text>
<line x1="700.6" y1="640.6" x2="700.6" y2="644" stroke="#4a3cc0" stroke-width="1.1"/>
<line x1="693.5" y1="640.6" x2="708" y2="640.6" stroke="#4a3cc0" stroke-width="1.1"/>
<line x1="693.5" y1="644" x2="708" y2="644" stroke="#4a3cc0" stroke-width="1.1"/>
<circle cx="688.1" cy="637.6" r="2.5" fill="none" stroke="#4a3cc0" stroke-width="1.1"/>
<circle cx="696.4" cy="640.9" r="2.5" fill="none" stroke="#4a3cc0" stroke-width="1.1"/>
<circle cx="700.0" cy="647.4" r="2.5" fill="none" stroke="#4a3cc0" stroke-width="1.1"/>
<circle cx="705.0" cy="640.0" r="2.5" fill="none" stroke="#4a3cc0" stroke-width="1.1"/>
<circle cx="712.4" cy="641.5" r="2.5" fill="none" stroke="#4a3cc0" stroke-width="1.1"/>
<line x1="744.4" y1="555.6" x2="744.4" y2="571.3" stroke="#cc4a4a" stroke-width="1.1"/>
<line x1="737.9" y1="555.6" x2="751.9" y2="555.6" stroke="#cc4a4a" stroke-width="1.1"/>
<line x1="737.9" y1="571.3" x2="751.9" y2="571.3" stroke="#cc4a4a" stroke-width="1.1"/>
<circle cx="744.4" cy="534.2" r="2.5" fill="none" stroke="#cc4a4a" stroke-width="1.1"/>
<circle cx="739.1" cy="565.3" r="2.5" fill="none" stroke="#cc4a4a" stroke-width="1.1"/>
<circle cx="749.5" cy="564.4" r="2.5" fill="none" stroke="#cc4a4a" stroke-width="1.1"/>
<circle cx="744.4" cy="571.3" r="2.5" fill="none" stroke="#cc4a4a" stroke-width="1.1"/>
<circle cx="744.4" cy="582.2" r="2.5" fill="none" stroke="#cc4a4a" stroke-width="1.1"/>
<line x1="809.6" y1="501.9" x2="809.6" y2="656.2" stroke="#333" stroke-width="1.2"/>
<line x1="804.1" y1="655.6" x2="914" y2="655.6" stroke="#333" stroke-width="1.2"/>
<text x="801.0" y="660.2" font-size="11.2" text-anchor="end" fill="#222" stroke="#222" stroke-width="0.22">0</text>
<line x1="804.1" y1="604.5666666666667" x2="809.6" y2="604.5666666666667" stroke="#333" stroke-width="1.2"/>
<text x="801.0" y="609.17" font-size="11.2" text-anchor="end" fill="#222" stroke="#222" stroke-width="0.22">5</text>
<line x1="804.1" y1="553.5333333333333" x2="809.6" y2="553.5333333333333" stroke="#333" stroke-width="1.2"/>
<text x="801.0" y="558.13" font-size="11.2" text-anchor="end" fill="#222" stroke="#222" stroke-width="0.22">10</text>
<line x1="804.1" y1="502.5" x2="809.6" y2="502.5" stroke="#333" stroke-width="1.2"/>
<text x="801.0" y="507.1" font-size="11.2" text-anchor="end" fill="#222" stroke="#222" stroke-width="0.22">15</text>
<rect x="826.5" y="640.9" width="28.5" height="14.7" fill="#fff" stroke="#2a2a2a" stroke-width="1.1"/>
<rect x="870.4" y="561.5" width="28.1" height="94.1" fill="#fff" stroke="#2a2a2a" stroke-width="1.1"/>
<line x1="840.7" y1="655.6" x2="840.7" y2="661.1" stroke="#333" stroke-width="1.2"/>
<line x1="884.6" y1="655.6" x2="884.6" y2="661.1" stroke="#333" stroke-width="1.2"/>
<text x="838" y="673.8" font-size="11.2" text-anchor="middle" fill="#222" stroke="#222" stroke-width="0.22">SYTOX<tspan dy="-4" font-size="6.2">-</tspan><tspan dy="4"></tspan></text>
<text x="888" y="673.8" font-size="11.2" text-anchor="middle" fill="#222" stroke="#222" stroke-width="0.22">SYTOX<tspan dy="-4" font-size="6.2">+</tspan><tspan dy="4"></tspan></text>
<text x="785.5" y="579.3" font-size="11.2" text-anchor="middle" fill="#222" stroke="#222" stroke-width="0.22" transform="rotate(-90 785.5 579.3)">Annexin V<tspan dy="-4" font-size="6.2">+</tspan><tspan dy="4"> in CD71</tspan><tspan dy="-4" font-size="6.2">+</tspan><tspan dy="4"> RBCs (%)</tspan></text>
<text x="868.9" y="494.0" font-size="11.2" text-anchor="middle" fill="#222" stroke="#222" stroke-width="0.22">B16-F10</text>
<text x="864.9" y="518.6" font-size="11.2" text-anchor="middle" fill="#222" stroke="#222" stroke-width="0.22"><tspan font-style="italic">P</tspan>&lt;0.0001</text>
<line x1="840.7" y1="639.4" x2="840.7" y2="642.4" stroke="#4a3cc0" stroke-width="1.1"/>
<line x1="833.5" y1="639.4" x2="848" y2="639.4" stroke="#4a3cc0" stroke-width="1.1"/>
<line x1="833.5" y1="642.4" x2="848" y2="642.4" stroke="#4a3cc0" stroke-width="1.1"/>
<circle cx="828.9" cy="637.9" r="2.5" fill="none" stroke="#4a3cc0" stroke-width="1.1"/>
<circle cx="834.8" cy="644.4" r="2.5" fill="none" stroke="#4a3cc0" stroke-width="1.1"/>
<circle cx="834.8" cy="639.4" r="2.5" fill="none" stroke="#4a3cc0" stroke-width="1.1"/>
<circle cx="840.7" cy="640.6" r="2.5" fill="none" stroke="#4a3cc0" stroke-width="1.1"/>
<circle cx="846.7" cy="642.4" r="2.5" fill="none" stroke="#4a3cc0" stroke-width="1.1"/>
<circle cx="852.6" cy="638.5" r="2.5" fill="none" stroke="#4a3cc0" stroke-width="1.1"/>
<line x1="884.6" y1="552.6" x2="884.6" y2="568.9" stroke="#cc4a4a" stroke-width="1.1"/>
<line x1="877.2" y1="552.6" x2="892" y2="552.6" stroke="#cc4a4a" stroke-width="1.1"/>
<line x1="877.2" y1="568.9" x2="892" y2="568.9" stroke="#cc4a4a" stroke-width="1.1"/>
<circle cx="879.9" cy="540.7" r="2.5" fill="none" stroke="#cc4a4a" stroke-width="1.1"/>
<circle cx="890.2" cy="536.3" r="2.5" fill="none" stroke="#cc4a4a" stroke-width="1.1"/>
<circle cx="884.6" cy="556.4" r="2.5" fill="none" stroke="#cc4a4a" stroke-width="1.1"/>
<circle cx="884.6" cy="566.8" r="2.5" fill="none" stroke="#cc4a4a" stroke-width="1.1"/>
<circle cx="879.9" cy="585.2" r="2.5" fill="none" stroke="#cc4a4a" stroke-width="1.1"/>
<circle cx="890.2" cy="581.3" r="2.5" fill="none" stroke="#cc4a4a" stroke-width="1.1"/>
<text x="1.5" y="724.2" font-size="20.3" text-anchor="start" fill="#111" stroke="#111" stroke-width="0.22" font-weight="bold">f</text>
<text x="34.6" y="722.2" font-size="11.2" text-anchor="start" fill="#222" stroke="#222" stroke-width="0.22">CALCIUM DEPENDENT PROTEIN BINDING</text>
<text x="31.8" y="771.5" font-size="11.2" text-anchor="middle" fill="#222" stroke="#222" stroke-width="0.22" transform="rotate(-90 31.8 771.5)">Enrichment Score</text>
<text x="31.8" y="868" font-size="11.2" text-anchor="middle" fill="#222" stroke="#222" stroke-width="0.22" transform="rotate(-90 31.8 868)">Ranked List Metric</text>
<line x1="110" y1="733" x2="110" y2="807" stroke="#eaeaea" stroke-width="1"/>
<line x1="110" y1="838" x2="110" y2="889" stroke="#eaeaea" stroke-width="1"/>
<line x1="160.5" y1="733" x2="160.5" y2="807" stroke="#eaeaea" stroke-width="1"/>
<line x1="160.5" y1="838" x2="160.5" y2="889" stroke="#eaeaea" stroke-width="1"/>
<line x1="211.4" y1="733" x2="211.4" y2="807" stroke="#eaeaea" stroke-width="1"/>
<line x1="211.4" y1="838" x2="211.4" y2="889" stroke="#eaeaea" stroke-width="1"/>
<line x1="84.7" y1="733" x2="84.7" y2="807" stroke="#f1f1f1" stroke-width="0.7"/>
<line x1="84.7" y1="838" x2="84.7" y2="889" stroke="#f1f1f1" stroke-width="0.7"/>
<line x1="135.2" y1="733" x2="135.2" y2="807" stroke="#f1f1f1" stroke-width="0.7"/>
<line x1="135.2" y1="838" x2="135.2" y2="889" stroke="#f1f1f1" stroke-width="0.7"/>
<line x1="186" y1="733" x2="186" y2="807" stroke="#f1f1f1" stroke-width="0.7"/>
<line x1="186" y1="838" x2="186" y2="889" stroke="#f1f1f1" stroke-width="0.7"/>
<line x1="236.7" y1="733" x2="236.7" y2="807" stroke="#f1f1f1" stroke-width="0.7"/>
<line x1="236.7" y1="838" x2="236.7" y2="889" stroke="#f1f1f1" stroke-width="0.7"/>
<line x1="60" y1="733" x2="60" y2="807" stroke="#989898" stroke-width="0.9"/>
<line x1="57.3" y1="743.3" x2="60" y2="743.3" stroke="#989898" stroke-width="0.9"/>
<text x="55.6" y="747.9" font-size="11.2" text-anchor="end" fill="#222" stroke="#222" stroke-width="0.22">0.75</text>
<line x1="57.3" y1="764.2" x2="60" y2="764.2" stroke="#989898" stroke-width="0.9"/>
<text x="55.6" y="768.8" font-size="11.2" text-anchor="end" fill="#222" stroke="#222" stroke-width="0.22">0.50</text>
<line x1="57.3" y1="784.8" x2="60" y2="784.8" stroke="#989898" stroke-width="0.9"/>
<text x="55.6" y="789.4" font-size="11.2" text-anchor="end" fill="#222" stroke="#222" stroke-width="0.22">0.25</text>
<line x1="57.3" y1="805" x2="60" y2="805" stroke="#989898" stroke-width="0.9"/>
<text x="55.6" y="809.6" font-size="11.2" text-anchor="end" fill="#222" stroke="#222" stroke-width="0.22">0.00</text>
<polyline points="60.2,805 60.2,778.2 62.5,778.2 62.5,754.4 66.5,756 67.3,735.2 125.6,760.8 126.7,754 240,804.6" fill="none" stroke="#e0f5d6" stroke-width="2.2" stroke-linejoin="round"/>
<polyline points="60.2,805 60.2,778.2 62.5,778.2 62.5,754.4 66.5,756 67.3,735.2 125.6,760.8 126.7,754 240,804.6" fill="none" stroke="#98dc7a" stroke-width="0.95" stroke-linejoin="round"/>
<line x1="60.4" y1="810" x2="60.4" y2="835.6" stroke="#333" stroke-width="0.9"/>
<line x1="62.6" y1="810" x2="62.6" y2="835.6" stroke="#444" stroke-width="0.9"/>
<line x1="67.3" y1="810" x2="67.3" y2="835.6" stroke="#888" stroke-width="0.9"/>
<line x1="126.2" y1="810" x2="126.2" y2="835.6" stroke="#444" stroke-width="0.9"/>
<rect x="60" y="828.2" width="113.8" height="7.6" fill="#b2262c"/>
<rect x="173.8" y="828.2" width="59.4" height="7.6" fill="#f1b3a2"/>
<rect x="233.2" y="828.2" width="2.2" height="7.6" fill="#d8dde0"/>
<rect x="235.4" y="828.2" width="2" height="7.6" fill="#9cc4e0"/>
<rect x="237.4" y="828.2" width="2.8" height="7.6" fill="#3f86b4"/>
<line x1="126.2" y1="828.2" x2="126.2" y2="835.8" stroke="#7a1a1e" stroke-width="0.9"/>
<text x="67.7" y="848.6" font-size="11.2" text-anchor="start" fill="#222" stroke="#222" stroke-width="0.22">Anemic mice</text>
<text x="240" y="848.6" font-size="11.2" text-anchor="end" fill="#222" stroke="#222" stroke-width="0.22">Non-anemic mice</text>
<path d="M60 886.7 L60.0 841.1 L61.1 844.4 L62.2 848.9 L67.8 851.6 L73.3 853.3 L77.8 858.9 L83.3 863.3 L88.9 865.6 L93.3 866.7 L100.0 872.2 L108.9 873.8 L131.1 875.6 L153.3 877.3 L175.6 878.4 L197.8 879.6 L220.0 881.6 L240.0 882.7 L240 886.7Z" fill="#d2d2d2"/>
<clipPath id="cpf"><path d="M60 886.7 L60.0 841.1 L61.1 844.4 L62.2 848.9 L67.8 851.6 L73.3 853.3 L77.8 858.9 L83.3 863.3 L88.9 865.6 L93.3 866.7 L100.0 872.2 L108.9 873.8 L131.1 875.6 L153.3 877.3 L175.6 878.4 L197.8 879.6 L220.0 881.6 L240.0 882.7 L240 886.7Z"/></clipPath>
<path d="M60.5 841V886.7M61.5 841V886.7M62.5 841V886.7M63.5 841V886.7M64.5 841V886.7M65.5 841V886.7M66.5 841V886.7M67.5 841V886.7M68.5 841V886.7M69.5 841V886.7M70.5 841V886.7M71.5 841V886.7M72.5 841V886.7M73.5 841V886.7M74.5 841V886.7M75.5 841V886.7M76.5 841V886.7M77.5 841V886.7M78.5 841V886.7M79.5 841V886.7M80.5 841V886.7M81.5 841V886.7M82.5 841V886.7M83.5 841V886.7M84.5 841V886.7M85.5 841V886.7M86.5 841V886.7M87.5 841V886.7M88.5 841V886.7M89.5 841V886.7M90.5 841V886.7M91.5 841V886.7M92.5 841V886.7M93.5 841V886.7M94.5 841V886.7M95.5 841V886.7M96.5 841V886.7M97.5 841V886.7M98.5 841V886.7M99.5 841V886.7M100.5 841V886.7M101.5 841V886.7M102.5 841V886.7M103.5 841V886.7M104.5 841V886.7M105.5 841V886.7M106.5 841V886.7M107.5 841V886.7M108.5 841V886.7M109.5 841V886.7M110.5 841V886.7M111.5 841V886.7M112.5 841V886.7M113.5 841V886.7M114.5 841V886.7M115.5 841V886.7M116.5 841V886.7M117.5 841V886.7M118.5 841V886.7M119.5 841V886.7M120.5 841V886.7M121.5 841V886.7M122.5 841V886.7M123.5 841V886.7M124.5 841V886.7M125.5 841V886.7M126.5 841V886.7M127.5 841V886.7M128.5 841V886.7M129.5 841V886.7M130.5 841V886.7M131.5 841V886.7M132.5 841V886.7M133.5 841V886.7M134.5 841V886.7M135.5 841V886.7M136.5 841V886.7M137.5 841V886.7M138.5 841V886.7M139.5 841V886.7M140.5 841V886.7M141.5 841V886.7M142.5 841V886.7M143.5 841V886.7M144.5 841V886.7M145.5 841V886.7M146.5 841V886.7M147.5 841V886.7M148.5 841V886.7M149.5 841V886.7M150.5 841V886.7M151.5 841V886.7M152.5 841V886.7M153.5 841V886.7M154.5 841V886.7M155.5 841V886.7M156.5 841V886.7M157.5 841V886.7M158.5 841V886.7M159.5 841V886.7M160.5 841V886.7M161.5 841V886.7M162.5 841V886.7M163.5 841V886.7M164.5 841V886.7M165.5 841V886.7M166.5 841V886.7M167.5 841V886.7M168.5 841V886.7M169.5 841V886.7M170.5 841V886.7M171.5 841V886.7M172.5 841V886.7M173.5 841V886.7M174.5 841V886.7M175.5 841V886.7M176.5 841V886.7M177.5 841V886.7M178.5 841V886.7M179.5 841V886.7M180.5 841V886.7M181.5 841V886.7M182.5 841V886.7M183.5 841V886.7M184.5 841V886.7M185.5 841V886.7M186.5 841V886.7M187.5 841V886.7M188.5 841V886.7M189.5 841V886.7M190.5 841V886.7M191.5 841V886.7M192.5 841V886.7M193.5 841V886.7M194.5 841V886.7M195.5 841V886.7M196.5 841V886.7M197.5 841V886.7M198.5 841V886.7M199.5 841V886.7M200.5 841V886.7M201.5 841V886.7M202.5 841V886.7M203.5 841V886.7M204.5 841V886.7M205.5 841V886.7M206.5 841V886.7M207.5 841V886.7M208.5 841V886.7M209.5 841V886.7M210.5 841V886.7M211.5 841V886.7M212.5 841V886.7M213.5 841V886.7M214.5 841V886.7M215.5 841V886.7M216.5 841V886.7M217.5 841V886.7M218.5 841V886.7M219.5 841V886.7M220.5 841V886.7M221.5 841V886.7M222.5 841V886.7M223.5 841V886.7M224.5 841V886.7M225.5 841V886.7M226.5 841V886.7M227.5 841V886.7M228.5 841V886.7M229.5 841V886.7M230.5 841V886.7M231.5 841V886.7M232.5 841V886.7M233.5 841V886.7M234.5 841V886.7M235.5 841V886.7M236.5 841V886.7M237.5 841V886.7M238.5 841V886.7M239.5 841V886.7" stroke="#b0b0b0" stroke-width="0.45" fill="none" clip-path="url(#cpf)"/>
<line x1="60" y1="838" x2="60" y2="889" stroke="#989898" stroke-width="0.9"/>
<line x1="60" y1="889" x2="240" y2="889" stroke="#989898" stroke-width="0.9"/>
<line x1="57.3" y1="842.2" x2="60" y2="842.2" stroke="#989898" stroke-width="0.9"/>
<text x="55.6" y="846.8" font-size="11.2" text-anchor="end" fill="#222" stroke="#222" stroke-width="0.22">6</text>
<line x1="57.3" y1="857" x2="60" y2="857" stroke="#989898" stroke-width="0.9"/>
<text x="55.6" y="861.6" font-size="11.2" text-anchor="end" fill="#222" stroke="#222" stroke-width="0.22">4</text>
<line x1="57.3" y1="871.8" x2="60" y2="871.8" stroke="#989898" stroke-width="0.9"/>
<text x="55.6" y="876.4" font-size="11.2" text-anchor="end" fill="#222" stroke="#222" stroke-width="0.22">2</text>
<line x1="57.3" y1="886.7" x2="60" y2="886.7" stroke="#989898" stroke-width="0.9"/>
<text x="55.6" y="891.3" font-size="11.2" text-anchor="end" fill="#222" stroke="#222" stroke-width="0.22">0</text>
<line x1="110" y1="889" x2="110" y2="891.7" stroke="#989898" stroke-width="0.9"/>
<text x="110" y="904.2" font-size="11.2" text-anchor="middle" fill="#222" stroke="#222" stroke-width="0.22">100</text>
<line x1="160.5" y1="889" x2="160.5" y2="891.7" stroke="#989898" stroke-width="0.9"/>
<text x="160.5" y="904.2" font-size="11.2" text-anchor="middle" fill="#222" stroke="#222" stroke-width="0.22">200</text>
<line x1="211.4" y1="889" x2="211.4" y2="891.7" stroke="#989898" stroke-width="0.9"/>
<text x="211.4" y="904.2" font-size="11.2" text-anchor="middle" fill="#222" stroke="#222" stroke-width="0.22">300</text>
<text x="161.4" y="915.8" font-size="11.2" text-anchor="middle" fill="#222" stroke="#222" stroke-width="0.22">Rank in Ordered Dataset</text>
<text x="251.9" y="783.0" font-size="11.2" text-anchor="start" fill="#222" stroke="#222" stroke-width="0.22">NES=1.7222</text>
<text x="251.9" y="796.2" font-size="11.2" text-anchor="start" fill="#222" stroke="#222" stroke-width="0.22"><tspan font-style="italic">P</tspan>=0.0015</text>
<text x="337.8" y="725.0" font-size="20.3" text-anchor="start" fill="#111" stroke="#111" stroke-width="0.22" font-weight="bold">g</text>
<circle cx="383.3" cy="724.1" r="2.5" fill="none" stroke="#222" stroke-width="1.1"/>
<text x="392.1" y="727.7" font-size="11.2" text-anchor="start" fill="#222" stroke="#222" stroke-width="0.22">Control</text>
<circle cx="437.9" cy="724.1" r="2.5" fill="none" stroke="#4a3cc0" stroke-width="1.1"/>
<text x="446.0" y="727.7" font-size="11.2" text-anchor="start" fill="#222" stroke="#222" stroke-width="0.22">rbDNA</text>
<circle cx="489.6" cy="724.1" r="2.5" fill="none" stroke="#cc4a4a" stroke-width="1.1"/>
<text x="497.70000000000005" y="727.7" font-size="11.2" text-anchor="start" fill="#222" stroke="#222" stroke-width="0.22">DNase I</text>
<line x1="394.6" y1="743.5" x2="394.6" y2="896.4" stroke="#333" stroke-width="1.2"/>
<line x1="394.6" y1="895.8" x2="548.2" y2="895.8" stroke="#333" stroke-width="1.2"/>
<line x1="389.1" y1="755.8" x2="394.6" y2="755.8" stroke="#333" stroke-width="1.2"/>
<text x="384.4" y="760.4" font-size="11.2" text-anchor="end" fill="#222" stroke="#222" stroke-width="0.22">1500</text>
<line x1="389.1" y1="813.9" x2="394.6" y2="813.9" stroke="#333" stroke-width="1.2"/>
<text x="384.4" y="818.5" font-size="11.2" text-anchor="end" fill="#222" stroke="#222" stroke-width="0.22">1000</text>
<line x1="389.1" y1="873" x2="394.6" y2="873" stroke="#333" stroke-width="1.2"/>
<text x="384.4" y="877.6" font-size="11.2" text-anchor="end" fill="#222" stroke="#222" stroke-width="0.22">500</text>
<line x1="430.1" y1="895.8" x2="430.1" y2="901.3" stroke="#333" stroke-width="1.2"/>
<text x="430.1" y="915.9" font-size="11.2" text-anchor="middle" fill="#222" stroke="#222" stroke-width="0.22">rbDNA</text>
<line x1="511.1" y1="895.8" x2="511.1" y2="901.3" stroke="#333" stroke-width="1.2"/>
<text x="511.1" y="915.9" font-size="11.2" text-anchor="middle" fill="#222" stroke="#222" stroke-width="0.22">DNase I</text>
<text x="353.9" y="813.2" font-size="11.2" text-anchor="middle" fill="#222" stroke="#222" stroke-width="0.22" transform="rotate(-90 353.9 813.2)">Fluo-3 AM&#160; MFI</text>
<text x="426.5" y="755.9" font-size="11.2" text-anchor="middle" fill="#222" stroke="#222" stroke-width="0.22"><tspan font-style="italic">P</tspan>=0.0246</text>
<text x="507.4" y="790.4" font-size="11.2" text-anchor="middle" fill="#222" stroke="#222" stroke-width="0.22"><tspan font-style="italic">P</tspan>=0.0131</text>
<line x1="414.3" y1="805.1" x2="445.3" y2="766.7" stroke="#222" stroke-width="1"/>
<line x1="414.3" y1="849" x2="445.3" y2="809.6" stroke="#222" stroke-width="1"/>
<line x1="414.3" y1="850" x2="445.3" y2="816.7" stroke="#222" stroke-width="1"/>
<line x1="414.3" y1="848" x2="445.3" y2="840.6" stroke="#222" stroke-width="1"/>
<line x1="414.3" y1="851" x2="445.3" y2="842" stroke="#222" stroke-width="1"/>
<line x1="414.3" y1="852.4" x2="445.3" y2="844.8" stroke="#222" stroke-width="1"/>
<circle cx="414.3" cy="805.1" r="2.7" fill="none" stroke="#222" stroke-width="1.1"/>
<circle cx="445.3" cy="766.7" r="2.7" fill="none" stroke="#4a3cc0" stroke-width="1.1"/>
<circle cx="414.3" cy="849.0" r="2.7" fill="none" stroke="#222" stroke-width="1.1"/>
<circle cx="445.3" cy="809.6" r="2.7" fill="none" stroke="#4a3cc0" stroke-width="1.1"/>
<circle cx="414.3" cy="850.0" r="2.7" fill="none" stroke="#222" stroke-width="1.1"/>
<circle cx="445.3" cy="816.7" r="2.7" fill="none" stroke="#4a3cc0" stroke-width="1.1"/>
<circle cx="414.3" cy="848.0" r="2.7" fill="none" stroke="#222" stroke-width="1.1"/>
<circle cx="445.3" cy="840.6" r="2.7" fill="none" stroke="#4a3cc0" stroke-width="1.1"/>
<circle cx="414.3" cy="851.0" r="2.7" fill="none" stroke="#222" stroke-width="1.1"/>
<circle cx="445.3" cy="842.0" r="2.7" fill="none" stroke="#4a3cc0" stroke-width="1.1"/>
<circle cx="414.3" cy="852.4" r="2.7" fill="none" stroke="#222" stroke-width="1.1"/>
<circle cx="445.3" cy="844.8" r="2.7" fill="none" stroke="#4a3cc0" stroke-width="1.1"/>
<line x1="496" y1="805.1" x2="526.2" y2="822.7" stroke="#222" stroke-width="1"/>
<line x1="496" y1="847.5" x2="526.2" y2="852.6" stroke="#222" stroke-width="1"/>
<line x1="496" y1="849" x2="526.2" y2="855.4" stroke="#222" stroke-width="1"/>
<line x1="496" y1="850" x2="526.2" y2="858.2" stroke="#222" stroke-width="1"/>
<line x1="496" y1="851" x2="526.2" y2="862.4" stroke="#222" stroke-width="1"/>
<line x1="496" y1="852.4" x2="526.2" y2="863.5" stroke="#222" stroke-width="1"/>
<circle cx="496.0" cy="805.1" r="2.7" fill="none" stroke="#222" stroke-width="1.1"/>
<circle cx="526.2" cy="822.7" r="2.7" fill="none" stroke="#cc4a4a" stroke-width="1.1"/>
<circle cx="496.0" cy="847.5" r="2.7" fill="none" stroke="#222" stroke-width="1.1"/>
<circle cx="526.2" cy="852.6" r="2.7" fill="none" stroke="#cc4a4a" stroke-width="1.1"/>
<circle cx="496.0" cy="849.0" r="2.7" fill="none" stroke="#222" stroke-width="1.1"/>
<circle cx="526.2" cy="855.4" r="2.7" fill="none" stroke="#cc4a4a" stroke-width="1.1"/>
<circle cx="496.0" cy="850.0" r="2.7" fill="none" stroke="#222" stroke-width="1.1"/>
<circle cx="526.2" cy="858.2" r="2.7" fill="none" stroke="#cc4a4a" stroke-width="1.1"/>
<circle cx="496.0" cy="851.0" r="2.7" fill="none" stroke="#222" stroke-width="1.1"/>
<circle cx="526.2" cy="862.4" r="2.7" fill="none" stroke="#cc4a4a" stroke-width="1.1"/>
<circle cx="496.0" cy="852.4" r="2.7" fill="none" stroke="#222" stroke-width="1.1"/>
<circle cx="526.2" cy="863.5" r="2.7" fill="none" stroke="#cc4a4a" stroke-width="1.1"/>
<text x="570.2" y="725.0" font-size="20.3" text-anchor="start" fill="#111" stroke="#111" stroke-width="0.22" font-weight="bold">h</text>
<circle cx="612.8" cy="724.1" r="2.5" fill="none" stroke="#222" stroke-width="1.1"/>
<text x="621.5999999999999" y="727.7" font-size="11.2" text-anchor="start" fill="#222" stroke="#222" stroke-width="0.22">Control</text>
<circle cx="667.4" cy="724.1" r="2.5" fill="none" stroke="#4a3cc0" stroke-width="1.1"/>
<text x="675.5" y="727.7" font-size="11.2" text-anchor="start" fill="#222" stroke="#222" stroke-width="0.22">rbDNA</text>
<circle cx="719.1" cy="724.1" r="2.5" fill="none" stroke="#cc4a4a" stroke-width="1.1"/>
<text x="727.1999999999999" y="727.7" font-size="11.2" text-anchor="start" fill="#222" stroke="#222" stroke-width="0.22">DNase I</text>
<line x1="622.6" y1="743.2" x2="622.6" y2="896.4" stroke="#333" stroke-width="1.2"/>
<line x1="617.1" y1="895.8" x2="775.8" y2="895.8" stroke="#333" stroke-width="1.2"/>
<text x="613.2" y="900.4" font-size="11.2" text-anchor="end" fill="#222" stroke="#222" stroke-width="0.22">0</text>
<line x1="617.1" y1="865.4" x2="622.6" y2="865.4" stroke="#333" stroke-width="1.2"/>
<text x="613.2" y="870.0" font-size="11.2" text-anchor="end" fill="#222" stroke="#222" stroke-width="0.22">4</text>
<line x1="617.1" y1="835.0" x2="622.6" y2="835.0" stroke="#333" stroke-width="1.2"/>
<text x="613.2" y="839.6" font-size="11.2" text-anchor="end" fill="#222" stroke="#222" stroke-width="0.22">8</text>
<line x1="617.1" y1="804.5999999999999" x2="622.6" y2="804.5999999999999" stroke="#333" stroke-width="1.2"/>
<text x="613.2" y="809.2" font-size="11.2" text-anchor="end" fill="#222" stroke="#222" stroke-width="0.22">12</text>
<line x1="617.1" y1="774.1999999999999" x2="622.6" y2="774.1999999999999" stroke="#333" stroke-width="1.2"/>
<text x="613.2" y="778.8" font-size="11.2" text-anchor="end" fill="#222" stroke="#222" stroke-width="0.22">16</text>
<line x1="617.1" y1="743.8" x2="622.6" y2="743.8" stroke="#333" stroke-width="1.2"/>
<text x="613.2" y="748.4" font-size="11.2" text-anchor="end" fill="#222" stroke="#222" stroke-width="0.22">20</text>
<line x1="658.5" y1="895.8" x2="658.5" y2="901.3" stroke="#333" stroke-width="1.2"/>
<text x="658.5" y="915.9" font-size="11.2" text-anchor="middle" fill="#222" stroke="#222" stroke-width="0.22">rbDNA</text>
<line x1="739.4" y1="895.8" x2="739.4" y2="901.3" stroke="#333" stroke-width="1.2"/>
<text x="739.4" y="915.9" font-size="11.2" text-anchor="middle" fill="#222" stroke="#222" stroke-width="0.22">DNase I</text>
<text x="595.6" y="818.4" font-size="11.2" text-anchor="middle" fill="#222" stroke="#222" stroke-width="0.22" transform="rotate(-90 595.6 818.4)">Annexin V<tspan dy="-4" font-size="6.2">+</tspan><tspan dy="4"> in CD71</tspan><tspan dy="-4" font-size="6.2">+</tspan><tspan dy="4"> Rets (%)</tspan></text>
<text x="653.7" y="762.9" font-size="11.2" text-anchor="middle" fill="#222" stroke="#222" stroke-width="0.22"><tspan font-style="italic">P</tspan>=0.0011</text>
<text x="738.4" y="775.2" font-size="11.2" text-anchor="middle" fill="#222" stroke="#222" stroke-width="0.22"><tspan font-style="italic">P</tspan>=0.0865</text>
<line x1="643.7" y1="791.3" x2="673.6" y2="776.2" stroke="#222" stroke-width="1"/>
<line x1="643.7" y1="829" x2="673.6" y2="819.1" stroke="#222" stroke-width="1"/>
<line x1="643.7" y1="836" x2="673.6" y2="825.5" stroke="#222" stroke-width="1"/>
<line x1="643.7" y1="842.7" x2="673.6" y2="828.3" stroke="#222" stroke-width="1"/>
<line x1="643.7" y1="849" x2="673.6" y2="828.9" stroke="#222" stroke-width="1"/>
<line x1="643.7" y1="857.1" x2="673.6" y2="849.4" stroke="#222" stroke-width="1"/>
<circle cx="643.7" cy="791.3" r="2.7" fill="none" stroke="#222" stroke-width="1.1"/>
<circle cx="673.6" cy="776.2" r="2.7" fill="none" stroke="#4a3cc0" stroke-width="1.1"/>
<circle cx="643.7" cy="829.0" r="2.7" fill="none" stroke="#222" stroke-width="1.1"/>
<circle cx="673.6" cy="819.1" r="2.7" fill="none" stroke="#4a3cc0" stroke-width="1.1"/>
<circle cx="643.7" cy="836.0" r="2.7" fill="none" stroke="#222" stroke-width="1.1"/>
<circle cx="673.6" cy="825.5" r="2.7" fill="none" stroke="#4a3cc0" stroke-width="1.1"/>
<circle cx="643.7" cy="842.7" r="2.7" fill="none" stroke="#222" stroke-width="1.1"/>
<circle cx="673.6" cy="828.3" r="2.7" fill="none" stroke="#4a3cc0" stroke-width="1.1"/>
<circle cx="643.7" cy="849.0" r="2.7" fill="none" stroke="#222" stroke-width="1.1"/>
<circle cx="673.6" cy="828.9" r="2.7" fill="none" stroke="#4a3cc0" stroke-width="1.1"/>
<circle cx="643.7" cy="857.1" r="2.7" fill="none" stroke="#222" stroke-width="1.1"/>
<circle cx="673.6" cy="849.4" r="2.7" fill="none" stroke="#4a3cc0" stroke-width="1.1"/>
<line x1="723.9" y1="791.3" x2="754.9" y2="813.9" stroke="#222" stroke-width="1"/>
<line x1="723.9" y1="829" x2="754.9" y2="844.1" stroke="#222" stroke-width="1"/>
<line x1="723.9" y1="836" x2="754.9" y2="837.8" stroke="#222" stroke-width="1"/>
<line x1="723.9" y1="842.7" x2="754.9" y2="864.9" stroke="#222" stroke-width="1"/>
<line x1="723.9" y1="849" x2="754.9" y2="849" stroke="#222" stroke-width="1"/>
<line x1="723.9" y1="857.1" x2="754.9" y2="855.4" stroke="#222" stroke-width="1"/>
<circle cx="723.9" cy="791.3" r="2.7" fill="none" stroke="#222" stroke-width="1.1"/>
<circle cx="754.9" cy="813.9" r="2.7" fill="none" stroke="#cc4a4a" stroke-width="1.1"/>
<circle cx="723.9" cy="829.0" r="2.7" fill="none" stroke="#222" stroke-width="1.1"/>
<circle cx="754.9" cy="844.1" r="2.7" fill="none" stroke="#cc4a4a" stroke-width="1.1"/>
<circle cx="723.9" cy="836.0" r="2.7" fill="none" stroke="#222" stroke-width="1.1"/>
<circle cx="754.9" cy="837.8" r="2.7" fill="none" stroke="#cc4a4a" stroke-width="1.1"/>
<circle cx="723.9" cy="842.7" r="2.7" fill="none" stroke="#222" stroke-width="1.1"/>
<circle cx="754.9" cy="864.9" r="2.7" fill="none" stroke="#cc4a4a" stroke-width="1.1"/>
<circle cx="723.9" cy="849.0" r="2.7" fill="none" stroke="#222" stroke-width="1.1"/>
<circle cx="754.9" cy="849.0" r="2.7" fill="none" stroke="#cc4a4a" stroke-width="1.1"/>
<circle cx="723.9" cy="857.1" r="2.7" fill="none" stroke="#222" stroke-width="1.1"/>
<circle cx="754.9" cy="855.4" r="2.7" fill="none" stroke="#cc4a4a" stroke-width="1.1"/>
</svg>
</body></html>
